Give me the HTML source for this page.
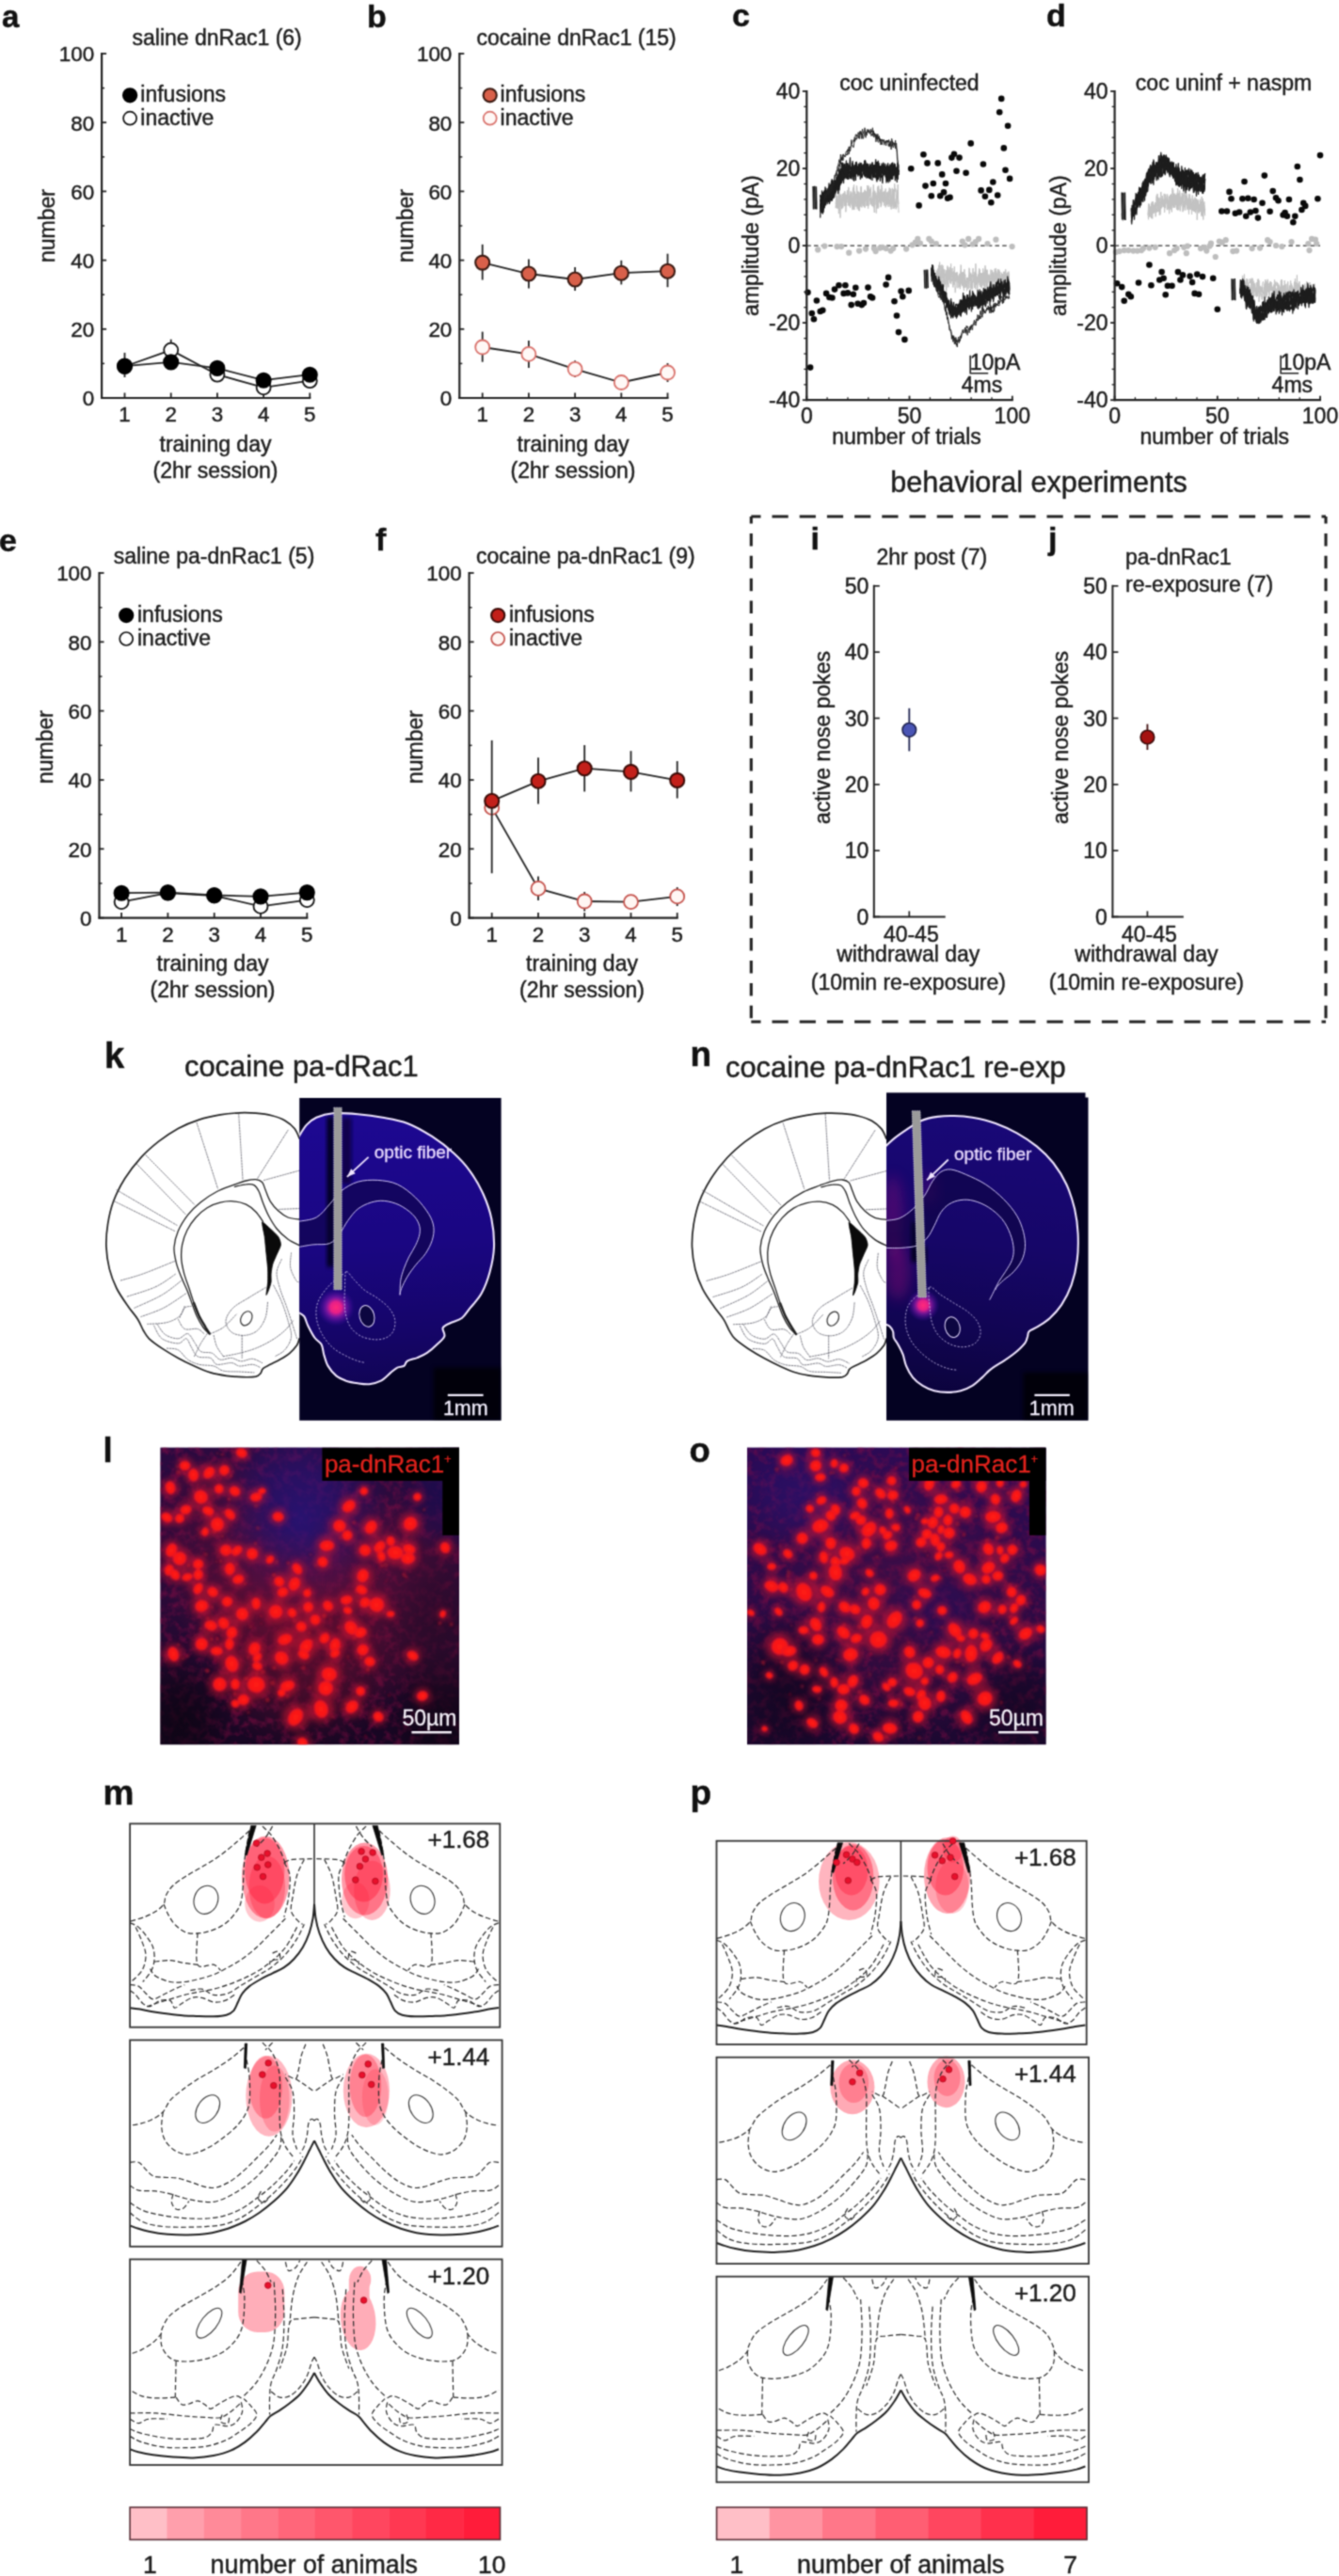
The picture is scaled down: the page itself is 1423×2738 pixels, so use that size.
<!DOCTYPE html>
<html><head><meta charset="utf-8"><title>figure</title>
<style>html,body{margin:0;padding:0;background:#fff}svg{display:block}text{font-family:"Liberation Sans",Arial,sans-serif}</style>
</head><body>
<svg width="1423" height="2738" viewBox="0 0 1423 2738">
<defs><filter id="gsoft" filterUnits="userSpaceOnUse" x="0" y="0" width="1423" height="2738" color-interpolation-filters="sRGB"><feConvolveMatrix order="3" kernelMatrix="0.0437 0.1216 0.0437 0.1216 0.3378 0.1216 0.0437 0.1216 0.0437" divisor="1" edgeMode="duplicate" preserveAlpha="true"/></filter></defs>
<g filter="url(#gsoft)">
<rect x="-5" y="-5" width="1433" height="2748" fill="#fff"/>
<text x="2.0" y="28.5" font-size="33" text-anchor="start" font-weight="bold" fill="#111" stroke="#111" stroke-width="0.45">a</text>
<text x="140.5" y="47.6" font-size="23" text-anchor="start" font-weight="normal" fill="#1c1c1c" stroke="#1c1c1c" stroke-width="0.45">saline dnRac1 (6)</text>
<line x1="108.1" y1="56.0" x2="108.1" y2="424.0" stroke="#222" stroke-width="2.2"/>
<line x1="107.1" y1="423.0" x2="330.3" y2="423.0" stroke="#222" stroke-width="2.2"/>
<line x1="108.1" y1="423.0" x2="113.1" y2="423.0" stroke="#222" stroke-width="1.8"/>
<text x="100.1" y="431.3" font-size="22.4" text-anchor="end" font-weight="normal" fill="#1c1c1c" stroke="#1c1c1c" stroke-width="0.45">0</text>
<line x1="108.1" y1="386.4" x2="111.1" y2="386.4" stroke="#222" stroke-width="1.5"/>
<line x1="108.1" y1="349.8" x2="113.1" y2="349.8" stroke="#222" stroke-width="1.8"/>
<text x="100.1" y="358.1" font-size="22.4" text-anchor="end" font-weight="normal" fill="#1c1c1c" stroke="#1c1c1c" stroke-width="0.45">20</text>
<line x1="108.1" y1="313.2" x2="111.1" y2="313.2" stroke="#222" stroke-width="1.5"/>
<line x1="108.1" y1="276.6" x2="113.1" y2="276.6" stroke="#222" stroke-width="1.8"/>
<text x="100.1" y="284.9" font-size="22.4" text-anchor="end" font-weight="normal" fill="#1c1c1c" stroke="#1c1c1c" stroke-width="0.45">40</text>
<line x1="108.1" y1="240.0" x2="111.1" y2="240.0" stroke="#222" stroke-width="1.5"/>
<line x1="108.1" y1="203.4" x2="113.1" y2="203.4" stroke="#222" stroke-width="1.8"/>
<text x="100.1" y="211.7" font-size="22.4" text-anchor="end" font-weight="normal" fill="#1c1c1c" stroke="#1c1c1c" stroke-width="0.45">60</text>
<line x1="108.1" y1="166.8" x2="111.1" y2="166.8" stroke="#222" stroke-width="1.5"/>
<line x1="108.1" y1="130.2" x2="113.1" y2="130.2" stroke="#222" stroke-width="1.8"/>
<text x="100.1" y="138.5" font-size="22.4" text-anchor="end" font-weight="normal" fill="#1c1c1c" stroke="#1c1c1c" stroke-width="0.45">80</text>
<line x1="108.1" y1="93.6" x2="111.1" y2="93.6" stroke="#222" stroke-width="1.5"/>
<line x1="108.1" y1="57.0" x2="113.1" y2="57.0" stroke="#222" stroke-width="1.8"/>
<text x="100.1" y="65.3" font-size="22.4" text-anchor="end" font-weight="normal" fill="#1c1c1c" stroke="#1c1c1c" stroke-width="0.45">100</text>
<line x1="132.5" y1="423.0" x2="132.5" y2="417.5" stroke="#222" stroke-width="1.8"/>
<text x="132.5" y="448.3" font-size="22.3" text-anchor="middle" font-weight="normal" fill="#1c1c1c" stroke="#1c1c1c" stroke-width="0.45">1</text>
<line x1="181.7" y1="423.0" x2="181.7" y2="417.5" stroke="#222" stroke-width="1.8"/>
<text x="181.7" y="448.3" font-size="22.3" text-anchor="middle" font-weight="normal" fill="#1c1c1c" stroke="#1c1c1c" stroke-width="0.45">2</text>
<line x1="230.9" y1="423.0" x2="230.9" y2="417.5" stroke="#222" stroke-width="1.8"/>
<text x="230.9" y="448.3" font-size="22.3" text-anchor="middle" font-weight="normal" fill="#1c1c1c" stroke="#1c1c1c" stroke-width="0.45">3</text>
<line x1="280.1" y1="423.0" x2="280.1" y2="417.5" stroke="#222" stroke-width="1.8"/>
<text x="280.1" y="448.3" font-size="22.3" text-anchor="middle" font-weight="normal" fill="#1c1c1c" stroke="#1c1c1c" stroke-width="0.45">4</text>
<line x1="329.3" y1="423.0" x2="329.3" y2="417.5" stroke="#222" stroke-width="1.8"/>
<text x="329.3" y="448.3" font-size="22.3" text-anchor="middle" font-weight="normal" fill="#1c1c1c" stroke="#1c1c1c" stroke-width="0.45">5</text>
<text x="57.5" y="240.0" font-size="23" text-anchor="middle" font-weight="normal" fill="#1c1c1c" stroke="#1c1c1c" stroke-width="0.45" transform="rotate(-90 57.5 240.0)">number</text>
<text x="229.0" y="480.0" font-size="23" text-anchor="middle" font-weight="normal" fill="#1c1c1c" stroke="#1c1c1c" stroke-width="0.45">training day</text>
<text x="229.0" y="507.5" font-size="23" text-anchor="middle" font-weight="normal" fill="#1c1c1c" stroke="#1c1c1c" stroke-width="0.45">(2hr session)</text>
<circle cx="138.1" cy="101.3" r="7.1" fill="#000" stroke="#000" stroke-width="2.1"/>
<circle cx="138.1" cy="125.7" r="7.0" fill="#fff" stroke="#111" stroke-width="1.7"/>
<text x="149.3" y="107.9" font-size="23" text-anchor="start" font-weight="normal" fill="#1c1c1c" stroke="#1c1c1c" stroke-width="0.45">infusions</text>
<text x="149.3" y="133.1" font-size="23" text-anchor="start" font-weight="normal" fill="#1c1c1c" stroke="#1c1c1c" stroke-width="0.45">inactive</text>
<polyline points="132.5,389.5 181.7,372.1 230.9,398.2 280.1,411.8 329.3,404.7" fill="none" stroke="#222" stroke-width="1.8"/>
<line x1="181.7" y1="360.7" x2="181.7" y2="384.0" stroke="#222" stroke-width="1.8"/>
<circle cx="132.5" cy="389.5" r="7.5" fill="#fff" stroke="#111" stroke-width="1.8"/>
<circle cx="181.7" cy="372.1" r="7.5" fill="#fff" stroke="#111" stroke-width="1.8"/>
<circle cx="230.9" cy="398.2" r="7.5" fill="#fff" stroke="#111" stroke-width="1.8"/>
<circle cx="280.1" cy="411.8" r="7.5" fill="#fff" stroke="#111" stroke-width="1.8"/>
<circle cx="329.3" cy="404.7" r="7.5" fill="#fff" stroke="#111" stroke-width="1.8"/>
<polyline points="132.5,389.1 181.7,384.9 230.9,391.4 280.1,404.2 329.3,398.2" fill="none" stroke="#222" stroke-width="1.8"/>
<line x1="132.5" y1="374.9" x2="132.5" y2="401.0" stroke="#222" stroke-width="1.8"/>
<circle cx="132.5" cy="389.1" r="7.5" fill="#000" stroke="#000" stroke-width="2.1"/>
<circle cx="181.7" cy="384.9" r="7.5" fill="#000" stroke="#000" stroke-width="2.1"/>
<circle cx="230.9" cy="391.4" r="7.5" fill="#000" stroke="#000" stroke-width="2.1"/>
<circle cx="280.1" cy="404.2" r="7.5" fill="#000" stroke="#000" stroke-width="2.1"/>
<circle cx="329.3" cy="398.2" r="7.5" fill="#000" stroke="#000" stroke-width="2.1"/>
<text x="390.0" y="28.5" font-size="34" text-anchor="start" font-weight="bold" fill="#111" stroke="#111" stroke-width="0.45">b</text>
<text x="506.5" y="47.6" font-size="23" text-anchor="start" font-weight="normal" fill="#1c1c1c" stroke="#1c1c1c" stroke-width="0.45">cocaine dnRac1 (15)</text>
<line x1="488.3" y1="56.0" x2="488.3" y2="424.0" stroke="#222" stroke-width="2.2"/>
<line x1="487.3" y1="423.0" x2="710.5" y2="423.0" stroke="#222" stroke-width="2.2"/>
<line x1="488.3" y1="423.0" x2="493.3" y2="423.0" stroke="#222" stroke-width="1.8"/>
<text x="480.3" y="431.3" font-size="22.4" text-anchor="end" font-weight="normal" fill="#1c1c1c" stroke="#1c1c1c" stroke-width="0.45">0</text>
<line x1="488.3" y1="386.4" x2="491.3" y2="386.4" stroke="#222" stroke-width="1.5"/>
<line x1="488.3" y1="349.8" x2="493.3" y2="349.8" stroke="#222" stroke-width="1.8"/>
<text x="480.3" y="358.1" font-size="22.4" text-anchor="end" font-weight="normal" fill="#1c1c1c" stroke="#1c1c1c" stroke-width="0.45">20</text>
<line x1="488.3" y1="313.2" x2="491.3" y2="313.2" stroke="#222" stroke-width="1.5"/>
<line x1="488.3" y1="276.6" x2="493.3" y2="276.6" stroke="#222" stroke-width="1.8"/>
<text x="480.3" y="284.9" font-size="22.4" text-anchor="end" font-weight="normal" fill="#1c1c1c" stroke="#1c1c1c" stroke-width="0.45">40</text>
<line x1="488.3" y1="240.0" x2="491.3" y2="240.0" stroke="#222" stroke-width="1.5"/>
<line x1="488.3" y1="203.4" x2="493.3" y2="203.4" stroke="#222" stroke-width="1.8"/>
<text x="480.3" y="211.7" font-size="22.4" text-anchor="end" font-weight="normal" fill="#1c1c1c" stroke="#1c1c1c" stroke-width="0.45">60</text>
<line x1="488.3" y1="166.8" x2="491.3" y2="166.8" stroke="#222" stroke-width="1.5"/>
<line x1="488.3" y1="130.2" x2="493.3" y2="130.2" stroke="#222" stroke-width="1.8"/>
<text x="480.3" y="138.5" font-size="22.4" text-anchor="end" font-weight="normal" fill="#1c1c1c" stroke="#1c1c1c" stroke-width="0.45">80</text>
<line x1="488.3" y1="93.6" x2="491.3" y2="93.6" stroke="#222" stroke-width="1.5"/>
<line x1="488.3" y1="57.0" x2="493.3" y2="57.0" stroke="#222" stroke-width="1.8"/>
<text x="480.3" y="65.3" font-size="22.4" text-anchor="end" font-weight="normal" fill="#1c1c1c" stroke="#1c1c1c" stroke-width="0.45">100</text>
<line x1="512.7" y1="423.0" x2="512.7" y2="417.5" stroke="#222" stroke-width="1.8"/>
<text x="512.7" y="448.3" font-size="22.3" text-anchor="middle" font-weight="normal" fill="#1c1c1c" stroke="#1c1c1c" stroke-width="0.45">1</text>
<line x1="561.9" y1="423.0" x2="561.9" y2="417.5" stroke="#222" stroke-width="1.8"/>
<text x="561.9" y="448.3" font-size="22.3" text-anchor="middle" font-weight="normal" fill="#1c1c1c" stroke="#1c1c1c" stroke-width="0.45">2</text>
<line x1="611.1" y1="423.0" x2="611.1" y2="417.5" stroke="#222" stroke-width="1.8"/>
<text x="611.1" y="448.3" font-size="22.3" text-anchor="middle" font-weight="normal" fill="#1c1c1c" stroke="#1c1c1c" stroke-width="0.45">3</text>
<line x1="660.3" y1="423.0" x2="660.3" y2="417.5" stroke="#222" stroke-width="1.8"/>
<text x="660.3" y="448.3" font-size="22.3" text-anchor="middle" font-weight="normal" fill="#1c1c1c" stroke="#1c1c1c" stroke-width="0.45">4</text>
<line x1="709.5" y1="423.0" x2="709.5" y2="417.5" stroke="#222" stroke-width="1.8"/>
<text x="709.5" y="448.3" font-size="22.3" text-anchor="middle" font-weight="normal" fill="#1c1c1c" stroke="#1c1c1c" stroke-width="0.45">5</text>
<text x="439.0" y="240.0" font-size="23" text-anchor="middle" font-weight="normal" fill="#1c1c1c" stroke="#1c1c1c" stroke-width="0.45" transform="rotate(-90 439.0 240.0)">number</text>
<text x="609.0" y="480.0" font-size="23" text-anchor="middle" font-weight="normal" fill="#1c1c1c" stroke="#1c1c1c" stroke-width="0.45">training day</text>
<text x="609.0" y="507.5" font-size="23" text-anchor="middle" font-weight="normal" fill="#1c1c1c" stroke="#1c1c1c" stroke-width="0.45">(2hr session)</text>
<circle cx="520.7" cy="101.3" r="7.1" fill="#d8604a" stroke="#3a1a12" stroke-width="2.1"/>
<circle cx="520.7" cy="125.7" r="7.0" fill="#fff8f6" stroke="#d9706a" stroke-width="1.7"/>
<text x="531.6" y="107.9" font-size="23" text-anchor="start" font-weight="normal" fill="#1c1c1c" stroke="#1c1c1c" stroke-width="0.45">infusions</text>
<text x="531.6" y="133.1" font-size="23" text-anchor="start" font-weight="normal" fill="#1c1c1c" stroke="#1c1c1c" stroke-width="0.45">inactive</text>
<polyline points="512.7,369.0 561.9,376.4 611.1,392.3 660.3,406.5 709.5,396.0" fill="none" stroke="#222" stroke-width="1.8"/>
<line x1="512.7" y1="352.6" x2="512.7" y2="384.7" stroke="#222" stroke-width="1.8"/>
<line x1="561.9" y1="362.0" x2="561.9" y2="390.9" stroke="#222" stroke-width="1.8"/>
<line x1="611.1" y1="383.2" x2="611.1" y2="401.1" stroke="#222" stroke-width="1.8"/>
<line x1="709.5" y1="386.0" x2="709.5" y2="406.0" stroke="#222" stroke-width="1.8"/>
<circle cx="512.7" cy="369.0" r="7.5" fill="#fff8f6" stroke="#d9706a" stroke-width="1.8"/>
<circle cx="561.9" cy="376.4" r="7.5" fill="#fff8f6" stroke="#d9706a" stroke-width="1.8"/>
<circle cx="611.1" cy="392.3" r="7.5" fill="#fff8f6" stroke="#d9706a" stroke-width="1.8"/>
<circle cx="660.3" cy="406.5" r="7.5" fill="#fff8f6" stroke="#d9706a" stroke-width="1.8"/>
<circle cx="709.5" cy="396.0" r="7.5" fill="#fff8f6" stroke="#d9706a" stroke-width="1.8"/>
<polyline points="512.7,279.1 561.9,291.0 611.1,297.0 660.3,290.2 709.5,288.2" fill="none" stroke="#222" stroke-width="1.8"/>
<line x1="512.7" y1="259.8" x2="512.7" y2="297.5" stroke="#222" stroke-width="1.8"/>
<line x1="561.9" y1="275.4" x2="561.9" y2="306.6" stroke="#222" stroke-width="1.8"/>
<line x1="611.1" y1="283.9" x2="611.1" y2="308.9" stroke="#222" stroke-width="1.8"/>
<line x1="660.3" y1="276.8" x2="660.3" y2="302.4" stroke="#222" stroke-width="1.8"/>
<line x1="709.5" y1="269.7" x2="709.5" y2="305.2" stroke="#222" stroke-width="1.8"/>
<circle cx="512.7" cy="279.1" r="7.5" fill="#d8604a" stroke="#3a1a12" stroke-width="2.1"/>
<circle cx="561.9" cy="291.0" r="7.5" fill="#d8604a" stroke="#3a1a12" stroke-width="2.1"/>
<circle cx="611.1" cy="297.0" r="7.5" fill="#d8604a" stroke="#3a1a12" stroke-width="2.1"/>
<circle cx="660.3" cy="290.2" r="7.5" fill="#d8604a" stroke="#3a1a12" stroke-width="2.1"/>
<circle cx="709.5" cy="288.2" r="7.5" fill="#d8604a" stroke="#3a1a12" stroke-width="2.1"/>
<text x="-1.0" y="586.0" font-size="34" text-anchor="start" font-weight="bold" fill="#111" stroke="#111" stroke-width="0.45">e</text>
<text x="120.8" y="599.3" font-size="23" text-anchor="start" font-weight="normal" fill="#1c1c1c" stroke="#1c1c1c" stroke-width="0.45">saline pa-dnRac1 (5)</text>
<line x1="105.5" y1="608.0" x2="105.5" y2="976.6" stroke="#222" stroke-width="2.2"/>
<line x1="104.5" y1="975.6" x2="327.3" y2="975.6" stroke="#222" stroke-width="2.2"/>
<line x1="105.5" y1="975.6" x2="110.5" y2="975.6" stroke="#222" stroke-width="1.8"/>
<text x="97.5" y="983.9" font-size="22.4" text-anchor="end" font-weight="normal" fill="#1c1c1c" stroke="#1c1c1c" stroke-width="0.45">0</text>
<line x1="105.5" y1="938.9" x2="108.5" y2="938.9" stroke="#222" stroke-width="1.5"/>
<line x1="105.5" y1="902.3" x2="110.5" y2="902.3" stroke="#222" stroke-width="1.8"/>
<text x="97.5" y="910.6" font-size="22.4" text-anchor="end" font-weight="normal" fill="#1c1c1c" stroke="#1c1c1c" stroke-width="0.45">20</text>
<line x1="105.5" y1="865.6" x2="108.5" y2="865.6" stroke="#222" stroke-width="1.5"/>
<line x1="105.5" y1="829.0" x2="110.5" y2="829.0" stroke="#222" stroke-width="1.8"/>
<text x="97.5" y="837.3" font-size="22.4" text-anchor="end" font-weight="normal" fill="#1c1c1c" stroke="#1c1c1c" stroke-width="0.45">40</text>
<line x1="105.5" y1="792.3" x2="108.5" y2="792.3" stroke="#222" stroke-width="1.5"/>
<line x1="105.5" y1="755.6" x2="110.5" y2="755.6" stroke="#222" stroke-width="1.8"/>
<text x="97.5" y="763.9" font-size="22.4" text-anchor="end" font-weight="normal" fill="#1c1c1c" stroke="#1c1c1c" stroke-width="0.45">60</text>
<line x1="105.5" y1="719.0" x2="108.5" y2="719.0" stroke="#222" stroke-width="1.5"/>
<line x1="105.5" y1="682.3" x2="110.5" y2="682.3" stroke="#222" stroke-width="1.8"/>
<text x="97.5" y="690.6" font-size="22.4" text-anchor="end" font-weight="normal" fill="#1c1c1c" stroke="#1c1c1c" stroke-width="0.45">80</text>
<line x1="105.5" y1="645.7" x2="108.5" y2="645.7" stroke="#222" stroke-width="1.5"/>
<line x1="105.5" y1="609.0" x2="110.5" y2="609.0" stroke="#222" stroke-width="1.8"/>
<text x="97.5" y="617.3" font-size="22.4" text-anchor="end" font-weight="normal" fill="#1c1c1c" stroke="#1c1c1c" stroke-width="0.45">100</text>
<line x1="129.1" y1="975.6" x2="129.1" y2="970.1" stroke="#222" stroke-width="1.8"/>
<text x="129.1" y="1000.7" font-size="22.3" text-anchor="middle" font-weight="normal" fill="#1c1c1c" stroke="#1c1c1c" stroke-width="0.45">1</text>
<line x1="178.4" y1="975.6" x2="178.4" y2="970.1" stroke="#222" stroke-width="1.8"/>
<text x="178.4" y="1000.7" font-size="22.3" text-anchor="middle" font-weight="normal" fill="#1c1c1c" stroke="#1c1c1c" stroke-width="0.45">2</text>
<line x1="227.7" y1="975.6" x2="227.7" y2="970.1" stroke="#222" stroke-width="1.8"/>
<text x="227.7" y="1000.7" font-size="22.3" text-anchor="middle" font-weight="normal" fill="#1c1c1c" stroke="#1c1c1c" stroke-width="0.45">3</text>
<line x1="277.0" y1="975.6" x2="277.0" y2="970.1" stroke="#222" stroke-width="1.8"/>
<text x="277.0" y="1000.7" font-size="22.3" text-anchor="middle" font-weight="normal" fill="#1c1c1c" stroke="#1c1c1c" stroke-width="0.45">4</text>
<line x1="326.3" y1="975.6" x2="326.3" y2="970.1" stroke="#222" stroke-width="1.8"/>
<text x="326.3" y="1000.7" font-size="22.3" text-anchor="middle" font-weight="normal" fill="#1c1c1c" stroke="#1c1c1c" stroke-width="0.45">5</text>
<text x="55.5" y="794.0" font-size="23" text-anchor="middle" font-weight="normal" fill="#1c1c1c" stroke="#1c1c1c" stroke-width="0.45" transform="rotate(-90 55.5 794.0)">number</text>
<text x="226.0" y="1032.0" font-size="23" text-anchor="middle" font-weight="normal" fill="#1c1c1c" stroke="#1c1c1c" stroke-width="0.45">training day</text>
<text x="226.0" y="1059.5" font-size="23" text-anchor="middle" font-weight="normal" fill="#1c1c1c" stroke="#1c1c1c" stroke-width="0.45">(2hr session)</text>
<circle cx="134.2" cy="654.1" r="7.1" fill="#000" stroke="#000" stroke-width="2.1"/>
<circle cx="134.2" cy="679.0" r="7.0" fill="#fff" stroke="#111" stroke-width="1.7"/>
<text x="146.0" y="660.7" font-size="23" text-anchor="start" font-weight="normal" fill="#1c1c1c" stroke="#1c1c1c" stroke-width="0.45">infusions</text>
<text x="146.0" y="686.4" font-size="23" text-anchor="start" font-weight="normal" fill="#1c1c1c" stroke="#1c1c1c" stroke-width="0.45">inactive</text>
<polyline points="129.1,958.6 178.4,949.2 227.7,952.0 277.0,963.4 326.3,956.6" fill="none" stroke="#222" stroke-width="1.8"/>
<circle cx="129.1" cy="958.6" r="7.5" fill="#fff" stroke="#111" stroke-width="1.8"/>
<circle cx="178.4" cy="949.2" r="7.5" fill="#fff" stroke="#111" stroke-width="1.8"/>
<circle cx="227.7" cy="952.0" r="7.5" fill="#fff" stroke="#111" stroke-width="1.8"/>
<circle cx="277.0" cy="963.4" r="7.5" fill="#fff" stroke="#111" stroke-width="1.8"/>
<circle cx="326.3" cy="956.6" r="7.5" fill="#fff" stroke="#111" stroke-width="1.8"/>
<polyline points="129.1,949.2 178.4,948.6 227.7,951.5 277.0,952.9 326.3,948.6" fill="none" stroke="#222" stroke-width="1.8"/>
<circle cx="129.1" cy="949.2" r="7.5" fill="#000" stroke="#000" stroke-width="2.1"/>
<circle cx="178.4" cy="948.6" r="7.5" fill="#000" stroke="#000" stroke-width="2.1"/>
<circle cx="227.7" cy="951.5" r="7.5" fill="#000" stroke="#000" stroke-width="2.1"/>
<circle cx="277.0" cy="952.9" r="7.5" fill="#000" stroke="#000" stroke-width="2.1"/>
<circle cx="326.3" cy="948.6" r="7.5" fill="#000" stroke="#000" stroke-width="2.1"/>
<text x="399.0" y="585.0" font-size="34" text-anchor="start" font-weight="bold" fill="#111" stroke="#111" stroke-width="0.45">f</text>
<text x="506.0" y="599.3" font-size="23" text-anchor="start" font-weight="normal" fill="#1c1c1c" stroke="#1c1c1c" stroke-width="0.45">cocaine pa-dnRac1 (9)</text>
<line x1="498.6" y1="608.0" x2="498.6" y2="976.6" stroke="#222" stroke-width="2.2"/>
<line x1="497.6" y1="975.6" x2="720.7" y2="975.6" stroke="#222" stroke-width="2.2"/>
<line x1="498.6" y1="975.6" x2="503.6" y2="975.6" stroke="#222" stroke-width="1.8"/>
<text x="490.6" y="983.9" font-size="22.4" text-anchor="end" font-weight="normal" fill="#1c1c1c" stroke="#1c1c1c" stroke-width="0.45">0</text>
<line x1="498.6" y1="938.9" x2="501.6" y2="938.9" stroke="#222" stroke-width="1.5"/>
<line x1="498.6" y1="902.3" x2="503.6" y2="902.3" stroke="#222" stroke-width="1.8"/>
<text x="490.6" y="910.6" font-size="22.4" text-anchor="end" font-weight="normal" fill="#1c1c1c" stroke="#1c1c1c" stroke-width="0.45">20</text>
<line x1="498.6" y1="865.6" x2="501.6" y2="865.6" stroke="#222" stroke-width="1.5"/>
<line x1="498.6" y1="829.0" x2="503.6" y2="829.0" stroke="#222" stroke-width="1.8"/>
<text x="490.6" y="837.3" font-size="22.4" text-anchor="end" font-weight="normal" fill="#1c1c1c" stroke="#1c1c1c" stroke-width="0.45">40</text>
<line x1="498.6" y1="792.3" x2="501.6" y2="792.3" stroke="#222" stroke-width="1.5"/>
<line x1="498.6" y1="755.6" x2="503.6" y2="755.6" stroke="#222" stroke-width="1.8"/>
<text x="490.6" y="763.9" font-size="22.4" text-anchor="end" font-weight="normal" fill="#1c1c1c" stroke="#1c1c1c" stroke-width="0.45">60</text>
<line x1="498.6" y1="719.0" x2="501.6" y2="719.0" stroke="#222" stroke-width="1.5"/>
<line x1="498.6" y1="682.3" x2="503.6" y2="682.3" stroke="#222" stroke-width="1.8"/>
<text x="490.6" y="690.6" font-size="22.4" text-anchor="end" font-weight="normal" fill="#1c1c1c" stroke="#1c1c1c" stroke-width="0.45">80</text>
<line x1="498.6" y1="645.7" x2="501.6" y2="645.7" stroke="#222" stroke-width="1.5"/>
<line x1="498.6" y1="609.0" x2="503.6" y2="609.0" stroke="#222" stroke-width="1.8"/>
<text x="490.6" y="617.3" font-size="22.4" text-anchor="end" font-weight="normal" fill="#1c1c1c" stroke="#1c1c1c" stroke-width="0.45">100</text>
<line x1="522.7" y1="975.6" x2="522.7" y2="970.1" stroke="#222" stroke-width="1.8"/>
<text x="522.7" y="1000.7" font-size="22.3" text-anchor="middle" font-weight="normal" fill="#1c1c1c" stroke="#1c1c1c" stroke-width="0.45">1</text>
<line x1="572.0" y1="975.6" x2="572.0" y2="970.1" stroke="#222" stroke-width="1.8"/>
<text x="572.0" y="1000.7" font-size="22.3" text-anchor="middle" font-weight="normal" fill="#1c1c1c" stroke="#1c1c1c" stroke-width="0.45">2</text>
<line x1="621.2" y1="975.6" x2="621.2" y2="970.1" stroke="#222" stroke-width="1.8"/>
<text x="621.2" y="1000.7" font-size="22.3" text-anchor="middle" font-weight="normal" fill="#1c1c1c" stroke="#1c1c1c" stroke-width="0.45">3</text>
<line x1="670.5" y1="975.6" x2="670.5" y2="970.1" stroke="#222" stroke-width="1.8"/>
<text x="670.5" y="1000.7" font-size="22.3" text-anchor="middle" font-weight="normal" fill="#1c1c1c" stroke="#1c1c1c" stroke-width="0.45">4</text>
<line x1="719.7" y1="975.6" x2="719.7" y2="970.1" stroke="#222" stroke-width="1.8"/>
<text x="719.7" y="1000.7" font-size="22.3" text-anchor="middle" font-weight="normal" fill="#1c1c1c" stroke="#1c1c1c" stroke-width="0.45">5</text>
<text x="448.5" y="794.0" font-size="23" text-anchor="middle" font-weight="normal" fill="#1c1c1c" stroke="#1c1c1c" stroke-width="0.45" transform="rotate(-90 448.5 794.0)">number</text>
<text x="618.5" y="1032.0" font-size="23" text-anchor="middle" font-weight="normal" fill="#1c1c1c" stroke="#1c1c1c" stroke-width="0.45">training day</text>
<text x="618.5" y="1059.5" font-size="23" text-anchor="middle" font-weight="normal" fill="#1c1c1c" stroke="#1c1c1c" stroke-width="0.45">(2hr session)</text>
<circle cx="529.2" cy="654.1" r="7.1" fill="#c3201a" stroke="#3d0c08" stroke-width="2.1"/>
<circle cx="529.2" cy="679.0" r="7.0" fill="#fff6f3" stroke="#c5524c" stroke-width="1.7"/>
<text x="541.0" y="660.7" font-size="23" text-anchor="start" font-weight="normal" fill="#1c1c1c" stroke="#1c1c1c" stroke-width="0.45">infusions</text>
<text x="541.0" y="686.4" font-size="23" text-anchor="start" font-weight="normal" fill="#1c1c1c" stroke="#1c1c1c" stroke-width="0.45">inactive</text>
<polyline points="522.7,858.4 572.0,944.4 621.2,958.0 670.5,958.6 719.7,952.9" fill="none" stroke="#222" stroke-width="1.8"/>
<line x1="572.0" y1="931.6" x2="572.0" y2="957.1" stroke="#222" stroke-width="1.8"/>
<line x1="621.2" y1="948.0" x2="621.2" y2="968.5" stroke="#222" stroke-width="1.8"/>
<line x1="719.7" y1="943.0" x2="719.7" y2="963.0" stroke="#222" stroke-width="1.8"/>
<circle cx="522.7" cy="858.4" r="7.5" fill="#fff6f3" stroke="#c5524c" stroke-width="1.8"/>
<circle cx="572.0" cy="944.4" r="7.5" fill="#fff6f3" stroke="#c5524c" stroke-width="1.8"/>
<circle cx="621.2" cy="958.0" r="7.5" fill="#fff6f3" stroke="#c5524c" stroke-width="1.8"/>
<circle cx="670.5" cy="958.6" r="7.5" fill="#fff6f3" stroke="#c5524c" stroke-width="1.8"/>
<circle cx="719.7" cy="952.9" r="7.5" fill="#fff6f3" stroke="#c5524c" stroke-width="1.8"/>
<polyline points="522.7,851.3 572.0,830.3 621.2,816.7 670.5,820.4 719.7,829.4" fill="none" stroke="#222" stroke-width="1.8"/>
<line x1="522.7" y1="786.9" x2="522.7" y2="928.2" stroke="#222" stroke-width="1.8"/>
<line x1="572.0" y1="805.3" x2="572.0" y2="854.4" stroke="#222" stroke-width="1.8"/>
<line x1="621.2" y1="792.0" x2="621.2" y2="841.4" stroke="#222" stroke-width="1.8"/>
<line x1="670.5" y1="798.2" x2="670.5" y2="841.4" stroke="#222" stroke-width="1.8"/>
<line x1="719.7" y1="809.0" x2="719.7" y2="848.5" stroke="#222" stroke-width="1.8"/>
<circle cx="522.7" cy="851.3" r="7.5" fill="#c3201a" stroke="#3d0c08" stroke-width="2.1"/>
<circle cx="572.0" cy="830.3" r="7.5" fill="#c3201a" stroke="#3d0c08" stroke-width="2.1"/>
<circle cx="621.2" cy="816.7" r="7.5" fill="#c3201a" stroke="#3d0c08" stroke-width="2.1"/>
<circle cx="670.5" cy="820.4" r="7.5" fill="#c3201a" stroke="#3d0c08" stroke-width="2.1"/>
<circle cx="719.7" cy="829.4" r="7.5" fill="#c3201a" stroke="#3d0c08" stroke-width="2.1"/>
<text x="778.0" y="27.8" font-size="34" text-anchor="start" font-weight="bold" fill="#111" stroke="#111" stroke-width="0.45">c</text>
<text x="966.5" y="95.5" font-size="23" text-anchor="middle" font-weight="normal" fill="#1c1c1c" stroke="#1c1c1c" stroke-width="0.45">coc uninfected</text>
<polyline points="888.2,215.3 888.6,218.6 889.0,212.3 889.4,214.7 889.8,219.2 890.2,211.3 890.6,218.1 891.0,214.8 891.4,227.1 891.8,197.6 892.2,215.1 892.6,216.9 893.0,208.4 893.4,210.0 893.8,206.5 894.2,219.5 894.6,213.9 895.0,207.8 895.4,207.0 895.7,221.1 896.1,205.4 896.5,205.0 896.9,209.3 897.3,219.1 897.7,203.0 898.1,209.9 898.5,206.6 898.9,216.6 899.3,213.3 899.7,207.1 900.1,209.0 900.5,211.2 900.9,205.5 901.3,209.3 901.7,198.9 902.1,199.6 902.5,215.3 902.9,208.3 903.3,219.8 903.6,215.5 904.0,203.3 904.4,214.5 904.8,216.8 905.2,218.4 905.6,210.9 906.0,223.1 906.4,214.3 906.8,210.8 907.2,198.0 907.6,196.4 908.0,219.3 908.4,214.5 908.8,210.5 909.2,205.8 909.6,208.1 910.0,219.9 910.4,197.4 910.8,199.7 911.2,210.9 911.6,211.3 911.9,203.2 912.3,210.7 912.7,210.6 913.1,214.0 913.5,224.2 913.9,210.4 914.3,204.8 914.7,210.9 915.1,198.1 915.5,212.7 915.9,213.9 916.3,205.1 916.7,213.2 917.1,210.3 917.5,216.1 917.9,206.6 918.3,206.4 918.7,213.2 919.1,201.8 919.5,213.6 919.9,212.2 920.2,206.6 920.6,211.4 921.0,218.9 921.4,212.7 921.8,207.0 922.2,199.9 922.6,211.9 923.0,219.1 923.4,199.9 923.8,206.4 924.2,200.9 924.6,208.7 925.0,203.4 925.4,198.9 925.8,210.3 926.2,212.8 926.6,213.5 927.0,212.4 927.4,204.7 927.8,204.3 928.2,212.8 928.5,213.4 928.9,204.5 929.3,209.1 929.7,205.2 930.1,205.0 930.5,208.9 930.9,208.4 931.3,210.8 931.7,214.7 932.1,214.6 932.5,198.5 932.9,206.5 933.3,210.2 933.7,197.5 934.1,200.8 934.5,208.6 934.9,203.9 935.3,215.9 935.7,201.2 936.1,202.6 936.4,209.5 936.8,196.6 937.2,198.8 937.6,199.7 938.0,210.4 938.4,215.2 938.8,211.1 939.2,214.4 939.6,207.5 940.0,207.7 940.4,213.7 940.8,205.9 941.2,200.5 941.6,214.4 942.0,214.2 942.4,206.5 942.8,204.2 943.2,207.3 943.6,215.8 944.0,203.9 944.4,209.1 944.7,217.0 945.1,214.2 945.5,212.0 945.9,219.3 946.3,220.0 946.7,201.1 947.1,204.2 947.5,213.9 947.9,213.0 948.3,199.9 948.7,216.8 949.1,217.0 949.5,218.3 949.9,209.7 950.3,214.5 950.7,195.2 951.1,199.7 951.5,203.5 951.9,200.7 952.3,214.3 952.7,210.5 953.0,208.1 953.4,207.0 953.8,207.7 954.2,196.0 954.6,214.3 955.0,214.1" fill="none" stroke="#c2c2c2" stroke-width="1.0" stroke-linejoin="round" opacity="1"/>
<polyline points="888.2,221.2 888.6,216.6 889.0,213.7 889.4,212.0 889.8,216.9 890.2,221.7 890.6,214.7 891.0,204.5 891.4,202.7 891.8,218.4 892.2,217.2 892.6,213.9 893.0,231.5 893.4,211.9 893.8,210.2 894.2,216.3 894.6,218.3 895.0,215.5 895.4,213.6 895.7,216.3 896.1,212.5 896.5,209.1 896.9,206.9 897.3,209.5 897.7,207.8 898.1,209.2 898.5,212.4 898.9,218.9 899.3,212.1 899.7,215.3 900.1,209.1 900.5,202.2 900.9,204.8 901.3,210.9 901.7,218.1 902.1,207.9 902.5,217.3 902.9,215.8 903.3,217.7 903.6,206.4 904.0,207.7 904.4,214.3 904.8,205.3 905.2,204.6 905.6,217.0 906.0,209.2 906.4,200.9 906.8,199.3 907.2,204.9 907.6,223.0 908.0,209.2 908.4,203.6 908.8,212.5 909.2,214.6 909.6,208.9 910.0,218.7 910.4,219.3 910.8,215.8 911.2,218.8 911.6,219.2 911.9,211.4 912.3,208.1 912.7,223.9 913.1,212.8 913.5,208.6 913.9,208.8 914.3,209.1 914.7,216.8 915.1,198.8 915.5,204.7 915.9,216.5 916.3,215.0 916.7,209.5 917.1,218.6 917.5,204.5 917.9,218.7 918.3,215.7 918.7,202.8 919.1,207.2 919.5,212.1 919.9,210.4 920.2,203.4 920.6,211.3 921.0,203.4 921.4,207.9 921.8,197.0 922.2,212.8 922.6,221.6 923.0,208.5 923.4,199.9 923.8,206.1 924.2,211.0 924.6,213.5 925.0,213.8 925.4,213.8 925.8,216.3 926.2,214.3 926.6,219.0 927.0,211.2 927.4,218.6 927.8,217.6 928.2,220.2 928.5,217.5 928.9,202.5 929.3,214.0 929.7,202.9 930.1,207.9 930.5,205.0 930.9,217.4 931.3,218.0 931.7,207.3 932.1,210.8 932.5,216.5 932.9,207.2 933.3,215.9 933.7,220.7 934.1,207.9 934.5,205.8 934.9,215.0 935.3,214.6 935.7,207.7 936.1,220.1 936.4,202.5 936.8,218.3 937.2,203.9 937.6,212.4 938.0,204.0 938.4,207.0 938.8,205.1 939.2,208.6 939.6,203.8 940.0,206.9 940.4,202.8 940.8,214.0 941.2,220.4 941.6,213.8 942.0,210.7 942.4,218.2 942.8,207.3 943.2,205.1 943.6,217.0 944.0,206.7 944.4,202.9 944.7,216.4 945.1,213.6 945.5,203.4 945.9,200.3 946.3,206.9 946.7,206.9 947.1,216.6 947.5,210.0 947.9,211.0 948.3,210.8 948.7,211.0 949.1,208.7 949.5,201.2 949.9,209.3 950.3,221.0 950.7,211.9 951.1,220.0 951.5,215.4 951.9,216.4 952.3,222.3 952.7,215.7 953.0,205.8 953.4,202.0 953.8,210.2 954.2,215.8 954.6,213.5 955.0,216.8" fill="none" stroke="#c2c2c2" stroke-width="1.0" stroke-linejoin="round" opacity="1"/>
<polyline points="888.2,221.0 888.6,205.3 889.0,220.7 889.4,221.3 889.8,208.0 890.2,220.7 890.6,212.2 891.0,214.2 891.4,216.8 891.8,223.4 892.2,206.5 892.6,211.7 893.0,209.4 893.4,218.1 893.8,215.8 894.2,218.9 894.6,222.2 895.0,218.7 895.4,206.0 895.7,219.6 896.1,212.7 896.5,211.2 896.9,212.2 897.3,214.0 897.7,204.4 898.1,210.3 898.5,207.9 898.9,225.3 899.3,213.6 899.7,218.3 900.1,208.2 900.5,202.4 900.9,215.2 901.3,213.6 901.7,218.6 902.1,211.8 902.5,211.3 902.9,219.0 903.3,211.9 903.6,220.6 904.0,208.7 904.4,213.9 904.8,211.4 905.2,214.0 905.6,219.5 906.0,219.9 906.4,221.5 906.8,209.3 907.2,209.5 907.6,223.0 908.0,222.2 908.4,208.9 908.8,213.0 909.2,216.1 909.6,210.0 910.0,206.2 910.4,207.4 910.8,206.8 911.2,222.3 911.6,204.1 911.9,209.2 912.3,204.4 912.7,209.4 913.1,204.5 913.5,213.5 913.9,209.6 914.3,214.2 914.7,219.7 915.1,212.1 915.5,214.6 915.9,220.5 916.3,210.6 916.7,207.7 917.1,204.4 917.5,206.8 917.9,215.7 918.3,219.9 918.7,206.7 919.1,220.8 919.5,209.2 919.9,207.7 920.2,210.2 920.6,210.9 921.0,210.7 921.4,218.6 921.8,207.8 922.2,216.8 922.6,208.2 923.0,197.5 923.4,208.1 923.8,210.0 924.2,210.5 924.6,211.9 925.0,217.4 925.4,214.7 925.8,209.5 926.2,216.9 926.6,218.4 927.0,218.7 927.4,215.1 927.8,206.0 928.2,196.3 928.5,197.8 928.9,221.2 929.3,226.0 929.7,207.8 930.1,211.0 930.5,209.1 930.9,204.8 931.3,226.6 931.7,212.9 932.1,220.3 932.5,202.2 932.9,221.8 933.3,212.8 933.7,213.9 934.1,212.0 934.5,208.4 934.9,213.2 935.3,210.7 935.7,211.4 936.1,209.5 936.4,208.9 936.8,214.0 937.2,207.3 937.6,204.7 938.0,213.7 938.4,209.1 938.8,212.5 939.2,203.7 939.6,218.5 940.0,209.1 940.4,210.0 940.8,211.4 941.2,218.3 941.6,215.3 942.0,212.3 942.4,212.0 942.8,216.6 943.2,214.1 943.6,208.3 944.0,219.8 944.4,216.6 944.7,205.5 945.1,199.6 945.5,200.4 945.9,209.7 946.3,218.2 946.7,208.5 947.1,222.5 947.5,211.3 947.9,219.3 948.3,214.2 948.7,204.5 949.1,221.9 949.5,205.0 949.9,203.6 950.3,218.0 950.7,221.5 951.1,215.0 951.5,214.5 951.9,219.7 952.3,210.9 952.7,218.5 953.0,220.4 953.4,202.3 953.8,207.3 954.2,204.1 954.6,213.9 955.0,226.1" fill="none" stroke="#c2c2c2" stroke-width="1.0" stroke-linejoin="round" opacity="1"/>
<polyline points="871.7,221.8 872.2,217.4 872.6,221.5 873.0,215.1 873.4,213.1 873.8,209.6 874.2,214.4 874.7,215.8 875.1,205.4 875.5,207.0 875.9,207.4 876.3,204.4 876.8,207.3 877.2,203.7 877.6,206.2 878.0,204.3 878.4,202.9 878.8,212.6 879.3,207.6 879.7,201.8 880.1,209.3 880.5,199.0 880.9,204.1 881.4,208.3 881.8,197.2 882.2,197.4 882.6,199.1 883.0,198.5 883.5,192.2 883.9,193.8 884.3,199.5 884.7,194.2 885.1,194.4 885.5,195.9 886.0,202.3 886.4,192.5 886.8,202.2 887.2,192.0 887.6,191.9 888.1,200.2 888.5,195.2 888.9,188.1 889.3,197.0 889.7,198.3 890.1,187.7 890.6,192.6 891.0,187.6 891.4,188.1 891.8,180.2 892.2,188.9 892.7,184.9 893.1,186.5 893.5,186.9 893.9,183.5 894.3,173.2 894.8,176.8 895.2,172.8 895.6,179.8 896.0,173.6 896.4,176.6 896.8,179.8 897.3,179.5 897.7,175.6 898.1,174.2 898.5,182.1 898.9,184.1 899.4,180.8 899.8,181.6 900.2,183.3 900.6,175.2 901.0,176.5 901.4,176.0 901.9,184.8 902.3,176.8 902.7,180.0 903.1,171.6 903.5,167.6 904.0,179.5 904.4,177.7 904.8,178.9 905.2,182.6 905.6,177.2 906.1,171.4 906.5,175.8 906.9,178.0 907.3,181.6 907.7,180.1 908.1,175.4 908.6,177.1 909.0,178.2 909.4,172.7 909.8,182.1 910.2,172.1 910.7,176.8 911.1,177.8 911.5,179.2 911.9,176.9 912.3,184.1 912.7,176.4 913.2,179.4 913.6,178.6 914.0,176.1 914.4,177.3 914.8,175.5 915.3,180.9 915.7,177.3 916.1,180.6 916.5,177.2 916.9,175.0 917.4,176.4 917.8,174.8 918.2,181.2 918.6,178.4 919.0,182.9 919.4,170.5 919.9,172.0 920.3,175.3 920.7,176.9 921.1,185.8 921.5,173.8 922.0,177.4 922.4,179.8 922.8,174.5 923.2,181.9 923.6,177.7 924.1,179.7 924.5,179.8 924.9,174.2 925.3,182.5 925.7,182.6 926.1,175.6 926.6,174.8 927.0,172.6 927.4,173.5 927.8,180.5 928.2,180.5 928.7,175.6 929.1,175.6 929.5,185.6 929.9,178.4 930.3,173.3 930.7,169.7 931.2,178.6 931.6,180.5 932.0,172.3 932.4,172.4 932.8,179.0 933.3,171.2 933.7,186.8 934.1,173.3 934.5,177.7 934.9,184.1 935.4,176.6 935.8,186.9 936.2,181.5 936.6,183.0 937.0,173.9 937.4,184.3 937.9,183.8 938.3,175.9 938.7,173.1 939.1,174.1 939.5,176.9 940.0,180.0 940.4,182.4 940.8,174.2 941.2,178.0 941.6,182.1 942.0,181.6 942.5,176.7 942.9,178.0 943.3,174.5 943.7,178.4 944.1,183.6 944.6,178.5 945.0,178.3 945.4,184.8 945.8,175.0 946.2,178.0 946.7,176.6 947.1,175.2 947.5,173.6 947.9,181.4 948.3,182.3 948.7,172.8 949.2,176.7 949.6,178.4 950.0,185.7 950.4,174.8 950.8,177.4 951.3,183.8 951.7,186.3 952.1,184.5 952.5,182.2 952.9,184.3 953.3,182.5 953.8,173.2 954.2,182.0 954.6,174.6 955.0,183.0" fill="none" stroke="#1d1d1d" stroke-width="1.25" stroke-linejoin="round" opacity="1"/>
<polyline points="871.7,217.2 872.2,217.1 872.6,219.6 873.0,209.8 873.4,215.9 873.8,208.1 874.2,224.0 874.7,210.6 875.1,214.5 875.5,212.0 875.9,212.5 876.3,210.7 876.8,207.7 877.2,207.9 877.6,218.0 878.0,213.0 878.4,207.2 878.8,211.1 879.3,204.4 879.7,208.0 880.1,200.3 880.5,208.8 880.9,205.0 881.4,206.9 881.8,198.3 882.2,207.4 882.6,196.4 883.0,207.8 883.5,209.8 883.9,210.2 884.3,210.3 884.7,199.5 885.1,198.9 885.5,205.8 886.0,197.9 886.4,195.2 886.8,197.7 887.2,204.0 887.6,199.5 888.1,192.6 888.5,203.8 888.9,195.9 889.3,195.6 889.7,189.8 890.1,193.6 890.6,196.0 891.0,188.5 891.4,193.5 891.8,178.7 892.2,187.5 892.7,185.7 893.1,182.6 893.5,179.5 893.9,183.2 894.3,190.8 894.8,181.6 895.2,178.9 895.6,183.5 896.0,175.9 896.4,181.4 896.8,185.0 897.3,178.5 897.7,184.6 898.1,182.7 898.5,183.2 898.9,181.8 899.4,170.8 899.8,184.5 900.2,178.8 900.6,179.2 901.0,174.0 901.4,179.5 901.9,184.2 902.3,177.3 902.7,181.7 903.1,181.8 903.5,186.5 904.0,186.4 904.4,181.2 904.8,183.4 905.2,190.1 905.6,173.3 906.1,176.9 906.5,178.7 906.9,178.5 907.3,182.8 907.7,181.2 908.1,180.2 908.6,178.0 909.0,179.7 909.4,180.6 909.8,180.0 910.2,174.6 910.7,179.2 911.1,181.9 911.5,177.6 911.9,178.5 912.3,174.2 912.7,174.7 913.2,178.9 913.6,184.7 914.0,173.0 914.4,180.3 914.8,188.7 915.3,173.3 915.7,186.8 916.1,176.3 916.5,181.3 916.9,179.0 917.4,178.0 917.8,176.1 918.2,178.9 918.6,171.0 919.0,182.4 919.4,177.5 919.9,180.9 920.3,178.6 920.7,176.6 921.1,180.0 921.5,179.0 922.0,182.5 922.4,182.4 922.8,185.6 923.2,186.1 923.6,189.2 924.1,176.0 924.5,184.1 924.9,181.2 925.3,184.8 925.7,184.7 926.1,178.9 926.6,177.4 927.0,178.8 927.4,176.7 927.8,175.7 928.2,180.9 928.7,180.7 929.1,179.0 929.5,185.8 929.9,177.2 930.3,179.0 930.7,179.2 931.2,185.6 931.6,185.4 932.0,177.4 932.4,185.9 932.8,178.2 933.3,179.7 933.7,182.5 934.1,180.8 934.5,186.1 934.9,180.1 935.4,188.9 935.8,184.5 936.2,177.4 936.6,179.2 937.0,178.9 937.4,180.6 937.9,179.3 938.3,179.1 938.7,176.7 939.1,180.8 939.5,180.7 940.0,181.8 940.4,185.2 940.8,180.4 941.2,184.3 941.6,181.8 942.0,178.7 942.5,180.8 942.9,175.8 943.3,181.4 943.7,173.6 944.1,182.8 944.6,176.9 945.0,180.2 945.4,181.4 945.8,177.5 946.2,177.1 946.7,185.9 947.1,175.2 947.5,186.4 947.9,181.5 948.3,182.3 948.7,185.8 949.2,186.2 949.6,179.5 950.0,184.8 950.4,173.8 950.8,185.1 951.3,174.9 951.7,180.9 952.1,183.5 952.5,184.5 952.9,179.2 953.3,179.3 953.8,182.4 954.2,174.0 954.6,185.1 955.0,180.9" fill="none" stroke="#1d1d1d" stroke-width="1.25" stroke-linejoin="round" opacity="1"/>
<polyline points="871.7,216.5 872.2,217.9 872.6,222.2 873.0,219.0 873.4,224.1 873.8,219.5 874.2,219.7 874.7,217.8 875.1,225.3 875.5,218.4 875.9,214.9 876.3,220.8 876.8,214.1 877.2,206.6 877.6,211.2 878.0,211.4 878.4,210.8 878.8,209.2 879.3,209.9 879.7,209.0 880.1,205.3 880.5,214.3 880.9,206.2 881.4,203.5 881.8,201.9 882.2,205.7 882.6,206.9 883.0,204.7 883.5,211.7 883.9,206.5 884.3,210.8 884.7,206.5 885.1,209.7 885.5,203.3 886.0,200.1 886.4,201.4 886.8,200.4 887.2,193.5 887.6,198.5 888.1,193.3 888.5,202.1 888.9,195.3 889.3,193.1 889.7,196.4 890.1,194.0 890.6,186.3 891.0,194.4 891.4,189.5 891.8,188.1 892.2,184.6 892.7,196.8 893.1,183.8 893.5,191.8 893.9,183.3 894.3,189.1 894.8,187.6 895.2,180.9 895.6,184.5 896.0,191.7 896.4,183.4 896.8,185.6 897.3,174.5 897.7,179.9 898.1,184.1 898.5,186.5 898.9,184.5 899.4,189.0 899.8,173.6 900.2,189.3 900.6,184.8 901.0,188.4 901.4,189.8 901.9,180.6 902.3,180.4 902.7,175.8 903.1,177.7 903.5,179.1 904.0,182.2 904.4,189.2 904.8,181.3 905.2,177.3 905.6,176.0 906.1,185.1 906.5,181.4 906.9,177.6 907.3,185.1 907.7,179.3 908.1,187.3 908.6,175.5 909.0,175.7 909.4,181.8 909.8,180.3 910.2,184.4 910.7,184.8 911.1,180.3 911.5,181.9 911.9,183.0 912.3,184.9 912.7,184.1 913.2,181.1 913.6,182.1 914.0,184.1 914.4,180.2 914.8,177.7 915.3,182.6 915.7,178.6 916.1,180.2 916.5,180.1 916.9,182.8 917.4,175.2 917.8,176.0 918.2,179.7 918.6,183.8 919.0,180.2 919.4,172.2 919.9,188.2 920.3,181.2 920.7,184.2 921.1,176.6 921.5,183.0 922.0,188.7 922.4,181.3 922.8,188.7 923.2,179.0 923.6,182.5 924.1,182.9 924.5,178.2 924.9,186.0 925.3,175.7 925.7,179.6 926.1,184.3 926.6,184.6 927.0,176.9 927.4,176.0 927.8,187.1 928.2,183.8 928.7,188.3 929.1,176.1 929.5,186.6 929.9,175.6 930.3,178.9 930.7,179.3 931.2,185.2 931.6,181.9 932.0,176.4 932.4,185.3 932.8,176.4 933.3,183.1 933.7,176.3 934.1,188.0 934.5,180.2 934.9,181.7 935.4,182.5 935.8,185.2 936.2,180.8 936.6,176.4 937.0,177.6 937.4,181.9 937.9,179.3 938.3,186.5 938.7,179.0 939.1,181.9 939.5,182.5 940.0,183.5 940.4,183.0 940.8,179.8 941.2,188.0 941.6,178.0 942.0,187.9 942.5,180.6 942.9,189.2 943.3,189.8 943.7,190.0 944.1,178.2 944.6,185.4 945.0,183.2 945.4,182.8 945.8,191.3 946.2,186.2 946.7,189.5 947.1,184.8 947.5,188.2 947.9,190.0 948.3,180.7 948.7,190.0 949.2,180.4 949.6,185.6 950.0,178.1 950.4,180.0 950.8,174.4 951.3,191.8 951.7,183.8 952.1,178.3 952.5,188.6 952.9,188.6 953.3,193.5 953.8,182.5 954.2,184.7 954.6,179.9 955.0,186.1" fill="none" stroke="#1d1d1d" stroke-width="1.25" stroke-linejoin="round" opacity="1"/>
<polyline points="871.7,231.6 872.2,218.5 872.6,216.4 873.0,218.2 873.4,215.4 873.8,221.6 874.2,217.3 874.7,221.9 875.1,223.0 875.5,218.4 875.9,212.0 876.3,218.1 876.8,211.4 877.2,213.2 877.6,204.0 878.0,214.3 878.4,208.2 878.8,212.6 879.3,208.2 879.7,212.5 880.1,214.2 880.5,214.1 880.9,201.4 881.4,216.6 881.8,215.2 882.2,213.5 882.6,209.1 883.0,202.6 883.5,212.9 883.9,202.4 884.3,208.3 884.7,209.0 885.1,210.7 885.5,209.6 886.0,210.3 886.4,200.0 886.8,206.6 887.2,203.4 887.6,203.8 888.1,199.5 888.5,199.1 888.9,199.3 889.3,195.4 889.7,199.9 890.1,193.3 890.6,191.6 891.0,197.8 891.4,195.0 891.8,191.5 892.2,198.0 892.7,195.8 893.1,186.4 893.5,190.7 893.9,190.1 894.3,186.8 894.8,180.7 895.2,188.1 895.6,180.4 896.0,189.1 896.4,184.7 896.8,186.7 897.3,184.7 897.7,181.7 898.1,187.3 898.5,183.2 898.9,187.2 899.4,181.8 899.8,184.7 900.2,186.8 900.6,190.2 901.0,181.3 901.4,182.1 901.9,183.7 902.3,187.3 902.7,186.7 903.1,189.5 903.5,189.3 904.0,188.4 904.4,181.9 904.8,184.6 905.2,178.9 905.6,187.2 906.1,180.4 906.5,182.8 906.9,191.2 907.3,185.1 907.7,192.2 908.1,181.6 908.6,185.2 909.0,176.3 909.4,191.4 909.8,181.2 910.2,182.3 910.7,181.7 911.1,177.8 911.5,184.7 911.9,187.2 912.3,184.3 912.7,180.6 913.2,185.1 913.6,186.3 914.0,185.1 914.4,190.4 914.8,188.0 915.3,180.4 915.7,184.9 916.1,188.8 916.5,186.8 916.9,185.9 917.4,184.5 917.8,181.9 918.2,179.3 918.6,186.4 919.0,187.4 919.4,184.8 919.9,186.1 920.3,186.9 920.7,182.4 921.1,189.1 921.5,186.8 922.0,179.4 922.4,188.4 922.8,187.1 923.2,188.8 923.6,187.7 924.1,189.5 924.5,188.4 924.9,181.2 925.3,190.5 925.7,178.5 926.1,184.7 926.6,179.5 927.0,191.4 927.4,184.4 927.8,187.5 928.2,182.9 928.7,188.6 929.1,179.9 929.5,186.3 929.9,187.1 930.3,188.9 930.7,186.3 931.2,185.3 931.6,191.9 932.0,193.0 932.4,181.1 932.8,190.0 933.3,190.7 933.7,187.2 934.1,180.6 934.5,178.7 934.9,180.9 935.4,192.3 935.8,183.5 936.2,188.1 936.6,186.0 937.0,185.0 937.4,190.8 937.9,194.7 938.3,186.7 938.7,186.7 939.1,185.7 939.5,185.7 940.0,176.5 940.4,185.3 940.8,183.0 941.2,187.2 941.6,188.4 942.0,194.0 942.5,186.3 942.9,192.3 943.3,191.7 943.7,183.5 944.1,193.9 944.6,186.7 945.0,181.5 945.4,186.8 945.8,192.8 946.2,187.0 946.7,184.2 947.1,183.4 947.5,180.9 947.9,190.4 948.3,184.9 948.7,183.6 949.2,178.4 949.6,186.5 950.0,182.1 950.4,183.7 950.8,184.4 951.3,187.2 951.7,184.1 952.1,177.8 952.5,178.6 952.9,189.6 953.3,185.6 953.8,180.5 954.2,190.4 954.6,180.5 955.0,185.6" fill="none" stroke="#1d1d1d" stroke-width="1.25" stroke-linejoin="round" opacity="1"/>
<polyline points="871.7,206.9 872.2,209.1 872.6,216.6 873.1,219.8 873.5,202.8 873.9,218.2 874.4,216.0 874.8,204.7 875.3,213.3 875.7,214.4 876.1,202.7 876.6,210.7 877.0,198.8 877.5,208.9 877.9,200.4 878.4,208.1 878.8,203.3 879.2,209.6 879.7,203.2 880.1,202.2 880.6,205.1 881.0,194.8 881.4,200.3 881.9,199.8 882.3,202.2 882.8,201.4 883.2,205.4 883.7,199.7 884.1,190.6 884.5,196.4 885.0,198.3 885.4,196.4 885.9,198.8 886.3,200.2 886.7,196.0 887.2,197.4 887.6,192.1 888.1,200.5 888.5,200.2 889.0,196.0 889.4,189.6 889.8,192.9 890.3,186.5 890.7,187.6 891.2,184.7 891.6,188.1 892.0,195.7 892.5,187.9 892.9,184.3 893.4,184.4 893.8,186.2 894.3,179.1 894.7,184.4 895.1,188.1 895.6,180.9 896.0,181.4 896.5,179.1 896.9,181.0 897.3,182.0 897.8,178.8 898.2,181.5 898.7,180.7 899.1,177.3 899.6,173.1 900.0,174.7 900.4,179.7 900.9,173.8 901.3,184.5 901.8,177.1 902.2,176.6" fill="none" stroke="#1d1d1d" stroke-width="1.3" stroke-linejoin="round" opacity="1"/>
<polyline points="871.7,207.5 872.2,211.0 872.6,212.5 873.1,215.6 873.5,214.0 873.9,211.1 874.4,214.2 874.8,214.5 875.3,208.5 875.7,219.0 876.1,210.2 876.6,212.5 877.0,211.6 877.5,210.6 877.9,202.9 878.4,203.6 878.8,214.5 879.2,216.5 879.7,201.9 880.1,203.1 880.6,206.0 881.0,201.1 881.4,212.3 881.9,202.8 882.3,205.6 882.8,200.6 883.2,195.8 883.7,207.5 884.1,203.2 884.5,203.5 885.0,191.9 885.4,209.3 885.9,203.8 886.3,199.6 886.7,194.9 887.2,196.0 887.6,194.1 888.1,197.3 888.5,196.8 889.0,200.0 889.4,198.7 889.8,194.8 890.3,196.9 890.7,200.9 891.2,191.1 891.6,188.8 892.0,192.3 892.5,192.6 892.9,192.1 893.4,192.9 893.8,188.9 894.3,190.1 894.7,182.3 895.1,190.7 895.6,182.5 896.0,190.1 896.5,177.4 896.9,183.3 897.3,175.4 897.8,188.3 898.2,186.0 898.7,184.9 899.1,178.4 899.6,179.5 900.0,187.9 900.4,183.6 900.9,182.8 901.3,181.3 901.8,177.3 902.2,185.5" fill="none" stroke="#1d1d1d" stroke-width="1.3" stroke-linejoin="round" opacity="1"/>
<polyline points="871.7,211.7 872.2,224.5 872.6,218.7 873.1,226.0 873.5,215.3 873.9,212.6 874.4,227.0 874.8,207.5 875.3,214.0 875.7,203.6 876.1,208.9 876.6,217.3 877.0,216.3 877.5,213.0 877.9,207.0 878.4,210.6 878.8,212.0 879.2,203.9 879.7,204.6 880.1,200.7 880.6,208.9 881.0,214.8 881.4,211.2 881.9,203.4 882.3,208.9 882.8,210.3 883.2,202.6 883.7,202.0 884.1,213.3 884.5,211.9 885.0,200.2 885.4,197.8 885.9,208.3 886.3,207.4 886.7,209.1 887.2,200.8 887.6,203.8 888.1,205.0 888.5,200.8 889.0,202.4 889.4,199.3 889.8,200.9 890.3,195.7 890.7,205.5 891.2,197.0 891.6,197.5 892.0,201.8 892.5,193.7 892.9,196.3 893.4,190.0 893.8,192.9 894.3,194.7 894.7,191.9 895.1,186.5 895.6,182.2 896.0,189.7 896.5,194.5 896.9,184.6 897.3,185.2 897.8,189.8 898.2,187.1 898.7,188.5 899.1,185.5 899.6,185.8 900.0,189.8 900.4,184.4 900.9,185.2 901.3,184.4 901.8,190.3 902.2,189.1" fill="none" stroke="#1d1d1d" stroke-width="1.3" stroke-linejoin="round" opacity="1"/>
<polyline points="871.7,220.4 872.2,222.4 872.7,219.6 873.2,218.9 873.7,218.0 874.2,217.6 874.7,216.6 875.2,214.3 875.7,214.2 876.2,212.9 876.7,205.6 877.2,208.5 877.6,209.2 878.1,203.8 878.6,203.6 879.1,204.0 879.6,203.5 880.1,206.1 880.6,202.6 881.1,200.2 881.6,201.5 882.1,201.9 882.6,197.4 883.1,203.0 883.6,197.4 884.1,198.9 884.5,195.0 885.0,193.8 885.5,192.8 886.0,191.4 886.5,191.4 887.0,188.1 887.5,187.1 888.0,186.0 888.5,183.8 889.0,181.5 889.5,182.0 890.0,176.7 890.5,176.8 891.0,174.2 891.4,172.6 891.9,169.6 892.4,172.7 892.9,171.2 893.4,164.0 893.9,170.8 894.4,167.3 894.9,167.8 895.4,170.5 895.9,165.4 896.4,163.8 896.9,166.2 897.4,165.1 897.9,165.8 898.3,164.4 898.8,162.6 899.3,160.9 899.8,160.6 900.3,162.2 900.8,158.7 901.3,161.0 901.8,157.2 902.3,155.8 902.8,159.8 903.3,156.2 903.8,156.6 904.3,154.8 904.8,148.6 905.2,152.9 905.7,151.7 906.2,150.4 906.7,149.9 907.2,148.5 907.7,150.7 908.2,145.8 908.7,149.1 909.2,143.2 909.7,142.8 910.2,144.9 910.7,143.1 911.2,142.9 911.7,143.2 912.1,140.7 912.6,142.2 913.1,141.4 913.6,139.7 914.1,142.8 914.6,139.3 915.1,140.6 915.6,143.4 916.1,139.8 916.6,137.0 917.1,141.1 917.6,142.2 918.1,139.5 918.6,138.6 919.0,135.8 919.5,139.2 920.0,140.0 920.5,140.7 921.0,141.5 921.5,137.5 922.0,138.6 922.5,139.6 923.0,137.5 923.5,139.3 924.0,141.3 924.5,141.0 925.0,139.2 925.5,137.2 925.9,140.7 926.4,138.9 926.9,140.3 927.4,135.8 927.9,142.3 928.4,138.9 928.9,146.1 929.4,141.4 929.9,144.6 930.4,144.6 930.9,142.2 931.4,147.4 931.9,143.3 932.4,147.9 932.8,142.4 933.3,144.7 933.8,148.1 934.3,144.7 934.8,147.7 935.3,148.6 935.8,150.2 936.3,148.2 936.8,149.8 937.3,147.9 937.8,150.2 938.3,148.8 938.8,150.0 939.3,148.3 939.7,150.4 940.2,152.1 940.7,150.3 941.2,150.3 941.7,149.9 942.2,151.4 942.7,149.2 943.2,150.7 943.7,149.2 944.2,151.3 944.7,148.5 945.2,152.6 945.7,154.9 946.2,149.9 946.6,153.0 947.1,155.4 947.6,147.3 948.1,148.5 948.6,155.2 949.1,153.3 949.6,151.5 950.1,153.8 950.6,154.1 951.1,154.2 951.6,149.1 952.1,155.8 952.6,152.1 953.1,159.0 953.5,162.3 954.0,170.7 954.5,176.6 955.0,178.3" fill="none" stroke="#222" stroke-width="0.9" stroke-linejoin="round" opacity="1"/>
<polyline points="871.7,219.9 872.2,225.6 872.7,222.9 873.2,223.6 873.7,220.1 874.2,217.3 874.7,217.1 875.2,217.1 875.7,215.9 876.2,213.3 876.7,212.6 877.2,209.5 877.6,208.4 878.1,209.8 878.6,205.4 879.1,206.0 879.6,201.6 880.1,206.8 880.6,207.4 881.1,200.7 881.6,205.4 882.1,203.7 882.6,203.5 883.1,203.0 883.6,203.1 884.1,201.1 884.5,199.7 885.0,195.6 885.5,195.5 886.0,196.9 886.5,193.2 887.0,186.1 887.5,186.9 888.0,185.6 888.5,183.8 889.0,187.4 889.5,184.6 890.0,181.8 890.5,181.9 891.0,176.9 891.4,176.4 891.9,174.5 892.4,177.5 892.9,171.3 893.4,174.3 893.9,168.6 894.4,170.0 894.9,167.6 895.4,164.5 895.9,170.5 896.4,167.5 896.9,167.0 897.4,166.2 897.9,166.4 898.3,166.9 898.8,165.4 899.3,164.0 899.8,165.0 900.3,162.7 900.8,164.7 901.3,162.7 901.8,161.6 902.3,163.6 902.8,159.0 903.3,160.9 903.8,159.5 904.3,156.2 904.8,155.8 905.2,153.5 905.7,154.3 906.2,155.0 906.7,156.6 907.2,156.6 907.7,152.0 908.2,149.1 908.7,150.2 909.2,147.5 909.7,147.1 910.2,148.3 910.7,145.7 911.2,144.1 911.7,143.7 912.1,147.2 912.6,145.2 913.1,141.7 913.6,147.5 914.1,142.7 914.6,141.4 915.1,140.5 915.6,147.4 916.1,147.0 916.6,141.9 917.1,147.6 917.6,146.8 918.1,143.6 918.6,144.1 919.0,138.7 919.5,140.9 920.0,146.3 920.5,140.7 921.0,144.0 921.5,142.5 922.0,139.2 922.5,140.6 923.0,138.8 923.5,138.6 924.0,141.9 924.5,142.4 925.0,140.7 925.5,137.2 925.9,144.5 926.4,142.6 926.9,141.9 927.4,144.5 927.9,141.6 928.4,139.5 928.9,143.0 929.4,143.2 929.9,142.9 930.4,144.4 930.9,150.8 931.4,146.7 931.9,143.7 932.4,147.8 932.8,150.2 933.3,151.0 933.8,151.5 934.3,146.7 934.8,150.2 935.3,147.3 935.8,153.9 936.3,153.3 936.8,149.9 937.3,153.9 937.8,151.8 938.3,150.6 938.8,149.5 939.3,151.6 939.7,154.2 940.2,151.8 940.7,151.4 941.2,149.6 941.7,154.8 942.2,149.9 942.7,150.5 943.2,150.3 943.7,150.4 944.2,155.2 944.7,153.2 945.2,156.1 945.7,151.8 946.2,153.6 946.6,153.9 947.1,158.9 947.6,155.0 948.1,153.0 948.6,150.2 949.1,157.0 949.6,156.7 950.1,154.9 950.6,151.9 951.1,154.3 951.6,157.9 952.1,155.5 952.6,157.8 953.1,160.7 953.5,169.6 954.0,171.0 954.5,179.3 955.0,175.2" fill="none" stroke="#222" stroke-width="0.9" stroke-linejoin="round" opacity="1"/>
<polyline points="864.1,198.0 864.2,201.6 864.3,204.8 864.3,208.2 864.4,211.9 864.5,215.5 864.5,219.0 864.6,222.6" fill="none" stroke="#1d1d1d" stroke-width="1.6" stroke-linejoin="round" opacity="1"/>
<polyline points="865.7,197.8 865.8,201.6 865.9,205.3 865.9,208.6 866.0,212.0 866.1,215.6 866.1,218.5 866.2,222.2" fill="none" stroke="#1d1d1d" stroke-width="1.6" stroke-linejoin="round" opacity="1"/>
<polyline points="867.3,198.2 867.4,201.6 867.5,205.2 867.5,208.2 867.6,211.7 867.7,214.8 867.7,218.7 867.8,222.5" fill="none" stroke="#1d1d1d" stroke-width="1.6" stroke-linejoin="round" opacity="1"/>
<polyline points="994.9,286.8 995.4,292.1 995.8,303.2 996.3,287.9 996.7,285.6 997.2,288.2 997.7,294.7 998.1,293.9 998.6,278.6 999.0,286.5 999.5,289.3 1000.0,297.2 1000.4,293.3 1000.9,284.7 1001.3,295.5 1001.8,282.0 1002.3,284.3 1002.7,301.3 1003.2,292.4 1003.7,305.1 1004.1,291.8 1004.6,292.8 1005.0,293.7 1005.5,287.3 1006.0,297.0 1006.4,299.2 1006.9,282.6 1007.3,293.7 1007.8,290.7 1008.3,297.0 1008.7,289.6 1009.2,293.1 1009.7,292.4 1010.1,286.9 1010.6,295.5 1011.0,287.8 1011.5,292.1 1012.0,285.0 1012.4,295.4 1012.9,295.6 1013.3,296.0 1013.8,293.0 1014.3,283.3 1014.7,298.9 1015.2,295.2 1015.6,289.8 1016.1,291.8 1016.6,292.7 1017.0,289.0 1017.5,296.8 1018.0,294.9 1018.4,300.6 1018.9,292.6 1019.3,305.2 1019.8,293.5 1020.3,304.9 1020.7,297.1 1021.2,281.5 1021.6,292.1 1022.1,298.8 1022.6,291.3 1023.0,289.4 1023.5,295.1 1024.0,297.3 1024.4,294.8 1024.9,290.8 1025.3,292.9 1025.8,306.0 1026.3,304.6 1026.7,299.6 1027.2,298.4 1027.6,305.4 1028.1,294.9 1028.6,298.1 1029.0,307.3 1029.5,301.0 1029.9,292.0 1030.4,298.6 1030.9,292.3 1031.3,299.8 1031.8,308.5 1032.3,303.1 1032.7,291.6 1033.2,295.1 1033.6,291.5 1034.1,285.2 1034.6,300.1 1035.0,296.0 1035.5,291.7 1035.9,306.0 1036.4,299.5 1036.9,280.2 1037.3,291.7 1037.8,301.2 1038.3,294.3 1038.7,295.9 1039.2,296.2 1039.6,291.5 1040.1,299.8 1040.6,291.4 1041.0,287.4 1041.5,295.6 1041.9,297.3 1042.4,293.1 1042.9,300.2 1043.3,290.3 1043.8,303.0 1044.2,301.6 1044.7,285.4 1045.2,290.4 1045.6,289.7 1046.1,305.8 1046.6,296.8 1047.0,310.9 1047.5,285.4 1047.9,294.8 1048.4,288.3 1048.9,294.7 1049.3,309.3 1049.8,293.0 1050.2,294.1 1050.7,298.0 1051.2,292.7 1051.6,298.4 1052.1,298.0 1052.6,304.2 1053.0,292.0 1053.5,290.8 1053.9,299.1 1054.4,297.4 1054.9,293.5 1055.3,291.0 1055.8,293.4 1056.2,294.4 1056.7,298.8 1057.2,285.9 1057.6,297.0 1058.1,300.2 1058.5,288.1 1059.0,289.7 1059.5,292.0 1059.9,296.4 1060.4,286.1 1060.9,303.7 1061.3,288.2 1061.8,289.5 1062.2,292.2 1062.7,307.3 1063.2,300.5 1063.6,293.2 1064.1,300.2 1064.5,296.6 1065.0,302.0 1065.5,293.0 1065.9,303.8 1066.4,291.6 1066.9,288.7 1067.3,299.2 1067.8,300.7 1068.2,293.6 1068.7,286.3 1069.2,292.7 1069.6,296.3 1070.1,290.7 1070.5,295.4 1071.0,294.1 1071.5,299.9 1071.9,288.6 1072.4,301.1 1072.8,300.6" fill="none" stroke="#c2c2c2" stroke-width="1.0" stroke-linejoin="round" opacity="1"/>
<polyline points="994.9,296.6 995.4,290.4 995.8,289.5 996.3,288.1 996.7,300.8 997.2,285.6 997.7,290.3 998.1,301.9 998.6,298.5 999.0,288.5 999.5,282.1 1000.0,284.2 1000.4,301.8 1000.9,281.4 1001.3,292.4 1001.8,286.5 1002.3,286.4 1002.7,292.4 1003.2,299.0 1003.7,286.9 1004.1,297.4 1004.6,302.4 1005.0,299.9 1005.5,294.8 1006.0,290.1 1006.4,297.7 1006.9,288.1 1007.3,284.3 1007.8,305.3 1008.3,286.7 1008.7,288.6 1009.2,283.9 1009.7,300.3 1010.1,301.1 1010.6,280.4 1011.0,298.4 1011.5,289.0 1012.0,289.5 1012.4,301.8 1012.9,305.4 1013.3,288.6 1013.8,302.7 1014.3,300.7 1014.7,299.4 1015.2,295.7 1015.6,299.4 1016.1,292.0 1016.6,298.0 1017.0,290.5 1017.5,297.2 1018.0,296.0 1018.4,295.3 1018.9,296.0 1019.3,294.9 1019.8,290.8 1020.3,297.4 1020.7,305.0 1021.2,287.5 1021.6,301.2 1022.1,295.2 1022.6,291.5 1023.0,289.2 1023.5,302.9 1024.0,306.1 1024.4,296.6 1024.9,299.9 1025.3,296.4 1025.8,291.7 1026.3,297.9 1026.7,304.9 1027.2,298.7 1027.6,309.3 1028.1,296.3 1028.6,300.3 1029.0,296.9 1029.5,297.1 1029.9,284.8 1030.4,285.7 1030.9,297.9 1031.3,299.2 1031.8,290.4 1032.3,299.6 1032.7,306.5 1033.2,299.9 1033.6,300.8 1034.1,297.8 1034.6,294.4 1035.0,291.8 1035.5,296.7 1035.9,288.9 1036.4,302.8 1036.9,307.5 1037.3,290.3 1037.8,292.4 1038.3,301.1 1038.7,298.0 1039.2,298.9 1039.6,300.8 1040.1,290.4 1040.6,285.3 1041.0,303.2 1041.5,296.0 1041.9,299.5 1042.4,304.4 1042.9,301.4 1043.3,299.8 1043.8,304.0 1044.2,299.6 1044.7,300.8 1045.2,294.6 1045.6,290.5 1046.1,303.9 1046.6,295.9 1047.0,282.2 1047.5,296.3 1047.9,293.0 1048.4,297.4 1048.9,286.6 1049.3,290.1 1049.8,300.8 1050.2,293.4 1050.7,293.0 1051.2,291.7 1051.6,304.0 1052.1,298.9 1052.6,303.7 1053.0,286.6 1053.5,306.4 1053.9,293.4 1054.4,293.7 1054.9,294.1 1055.3,297.9 1055.8,293.4 1056.2,294.7 1056.7,299.3 1057.2,289.6 1057.6,294.1 1058.1,285.1 1058.5,293.5 1059.0,290.8 1059.5,296.8 1059.9,301.4 1060.4,299.5 1060.9,297.9 1061.3,297.3 1061.8,286.6 1062.2,304.8 1062.7,289.0 1063.2,292.2 1063.6,298.8 1064.1,307.0 1064.5,289.8 1065.0,295.7 1065.5,293.6 1065.9,295.8 1066.4,307.1 1066.9,296.0 1067.3,296.7 1067.8,293.9 1068.2,288.3 1068.7,301.8 1069.2,296.2 1069.6,295.6 1070.1,296.6 1070.5,292.2 1071.0,289.5 1071.5,306.8 1071.9,290.8 1072.4,304.5 1072.8,304.3" fill="none" stroke="#c2c2c2" stroke-width="1.0" stroke-linejoin="round" opacity="1"/>
<polyline points="994.9,300.6 995.4,295.1 995.8,288.3 996.3,301.1 996.7,289.4 997.2,296.4 997.7,281.7 998.1,296.7 998.6,295.1 999.0,296.7 999.5,293.1 1000.0,290.5 1000.4,290.4 1000.9,285.2 1001.3,309.0 1001.8,298.4 1002.3,294.1 1002.7,290.9 1003.2,294.1 1003.7,286.4 1004.1,294.0 1004.6,290.7 1005.0,293.1 1005.5,312.2 1006.0,306.4 1006.4,293.2 1006.9,302.6 1007.3,293.6 1007.8,290.1 1008.3,297.9 1008.7,288.4 1009.2,289.8 1009.7,292.0 1010.1,295.6 1010.6,301.8 1011.0,297.0 1011.5,297.2 1012.0,299.2 1012.4,294.7 1012.9,296.8 1013.3,289.8 1013.8,293.5 1014.3,302.3 1014.7,299.8 1015.2,311.1 1015.6,305.9 1016.1,305.8 1016.6,290.6 1017.0,295.6 1017.5,295.4 1018.0,306.2 1018.4,295.2 1018.9,300.9 1019.3,297.1 1019.8,291.0 1020.3,307.2 1020.7,302.4 1021.2,302.5 1021.6,297.7 1022.1,293.8 1022.6,303.7 1023.0,290.4 1023.5,289.3 1024.0,289.5 1024.4,308.8 1024.9,286.2 1025.3,302.4 1025.8,302.3 1026.3,305.0 1026.7,300.2 1027.2,297.4 1027.6,295.2 1028.1,296.6 1028.6,295.7 1029.0,297.8 1029.5,296.0 1029.9,306.4 1030.4,296.8 1030.9,289.5 1031.3,295.0 1031.8,294.9 1032.3,298.5 1032.7,294.1 1033.2,297.8 1033.6,307.4 1034.1,294.0 1034.6,294.5 1035.0,292.4 1035.5,305.6 1035.9,296.0 1036.4,303.4 1036.9,295.3 1037.3,297.8 1037.8,302.9 1038.3,295.7 1038.7,309.4 1039.2,300.7 1039.6,294.8 1040.1,300.5 1040.6,295.6 1041.0,286.1 1041.5,298.7 1041.9,305.2 1042.4,290.3 1042.9,300.4 1043.3,306.3 1043.8,290.3 1044.2,294.9 1044.7,293.7 1045.2,302.6 1045.6,302.4 1046.1,293.7 1046.6,287.3 1047.0,295.3 1047.5,300.2 1047.9,295.5 1048.4,304.8 1048.9,287.1 1049.3,299.8 1049.8,291.4 1050.2,293.9 1050.7,297.7 1051.2,301.1 1051.6,300.5 1052.1,297.2 1052.6,307.1 1053.0,295.2 1053.5,296.5 1053.9,296.4 1054.4,287.2 1054.9,306.1 1055.3,300.5 1055.8,289.3 1056.2,293.7 1056.7,293.5 1057.2,307.6 1057.6,293.5 1058.1,297.6 1058.5,296.6 1059.0,291.5 1059.5,295.4 1059.9,295.8 1060.4,288.4 1060.9,302.1 1061.3,299.7 1061.8,303.8 1062.2,288.3 1062.7,304.2 1063.2,299.6 1063.6,298.3 1064.1,298.7 1064.5,306.5 1065.0,305.5 1065.5,291.1 1065.9,299.2 1066.4,300.9 1066.9,289.3 1067.3,293.4 1067.8,297.6 1068.2,307.6 1068.7,301.9 1069.2,296.5 1069.6,306.9 1070.1,290.6 1070.5,293.1 1071.0,297.4 1071.5,310.1 1071.9,293.9 1072.4,299.5 1072.8,305.7" fill="none" stroke="#c2c2c2" stroke-width="1.0" stroke-linejoin="round" opacity="1"/>
<polyline points="989.8,287.8 990.2,285.0 990.6,290.9 991.1,285.4 991.5,282.2 991.9,288.4 992.3,289.9 992.7,290.3 993.2,296.0 993.6,297.9 994.0,298.7 994.4,301.6 994.8,302.8 995.2,296.1 995.7,309.3 996.1,302.6 996.5,303.2 996.9,301.1 997.3,299.0 997.7,294.2 998.2,305.2 998.6,297.5 999.0,305.2 999.4,299.5 999.8,303.8 1000.2,302.4 1000.7,311.9 1001.1,310.0 1001.5,306.7 1001.9,302.4 1002.3,302.9 1002.7,310.7 1003.2,312.2 1003.6,310.9 1004.0,310.9 1004.4,313.7 1004.8,315.1 1005.3,316.6 1005.7,322.6 1006.1,323.9 1006.5,317.5 1006.9,318.0 1007.3,323.1 1007.8,325.6 1008.2,319.8 1008.6,326.2 1009.0,325.4 1009.4,324.5 1009.8,330.0 1010.3,321.2 1010.7,317.6 1011.1,330.2 1011.5,321.0 1011.9,325.2 1012.3,325.7 1012.8,327.2 1013.2,325.0 1013.6,321.4 1014.0,328.9 1014.4,327.3 1014.8,331.8 1015.3,327.6 1015.7,323.6 1016.1,323.4 1016.5,323.3 1016.9,323.3 1017.4,326.5 1017.8,330.0 1018.2,324.4 1018.6,329.0 1019.0,330.4 1019.4,322.8 1019.9,326.0 1020.3,318.8 1020.7,324.5 1021.1,326.1 1021.5,319.0 1021.9,318.8 1022.4,324.3 1022.8,327.6 1023.2,320.9 1023.6,311.4 1024.0,319.2 1024.4,321.2 1024.9,314.3 1025.3,315.5 1025.7,326.8 1026.1,324.6 1026.5,321.2 1026.9,318.7 1027.4,319.5 1027.8,321.2 1028.2,314.8 1028.6,313.7 1029.0,320.4 1029.5,316.6 1029.9,319.2 1030.3,317.7 1030.7,323.1 1031.1,322.0 1031.5,319.2 1032.0,315.9 1032.4,317.3 1032.8,314.3 1033.2,322.3 1033.6,309.4 1034.0,316.9 1034.5,317.2 1034.9,318.1 1035.3,319.7 1035.7,320.2 1036.1,317.8 1036.5,314.1 1037.0,319.3 1037.4,317.7 1037.8,319.6 1038.2,319.3 1038.6,319.0 1039.1,308.5 1039.5,316.3 1039.9,318.5 1040.3,310.3 1040.7,314.3 1041.1,307.8 1041.6,316.3 1042.0,312.6 1042.4,312.8 1042.8,309.3 1043.2,314.7 1043.6,315.8 1044.1,317.0 1044.5,315.3 1044.9,317.9 1045.3,306.5 1045.7,307.9 1046.1,312.7 1046.6,310.3 1047.0,307.4 1047.4,312.2 1047.8,308.6 1048.2,310.2 1048.6,315.8 1049.1,312.1 1049.5,305.5 1049.9,309.2 1050.3,315.0 1050.7,311.2 1051.2,304.9 1051.6,306.4 1052.0,310.4 1052.4,306.7 1052.8,299.6 1053.2,306.9 1053.7,308.3 1054.1,309.3 1054.5,308.7 1054.9,310.0 1055.3,302.7 1055.7,307.2 1056.2,310.1 1056.6,308.5 1057.0,307.4 1057.4,307.4 1057.8,306.9 1058.2,310.8 1058.7,300.3 1059.1,306.9 1059.5,308.4 1059.9,299.3 1060.3,298.8 1060.7,301.8 1061.2,296.7 1061.6,306.9 1062.0,302.2 1062.4,304.5 1062.8,308.3 1063.3,307.7 1063.7,296.6 1064.1,307.5 1064.5,299.6 1064.9,299.7 1065.3,302.9 1065.8,311.0 1066.2,308.1 1066.6,309.9 1067.0,298.2 1067.4,305.7 1067.8,304.4 1068.3,303.3 1068.7,310.1 1069.1,307.2 1069.5,302.9 1069.9,300.3 1070.3,309.8 1070.8,293.9 1071.2,298.7 1071.6,298.8 1072.0,301.8 1072.4,299.8 1072.8,307.9" fill="none" stroke="#1d1d1d" stroke-width="1.25" stroke-linejoin="round" opacity="1"/>
<polyline points="989.8,284.5 990.2,299.1 990.6,281.7 991.1,285.4 991.5,294.4 991.9,287.0 992.3,288.3 992.7,294.3 993.2,304.3 993.6,290.4 994.0,298.7 994.4,293.8 994.8,293.7 995.2,301.3 995.7,300.1 996.1,299.4 996.5,298.0 996.9,306.6 997.3,303.7 997.7,302.1 998.2,302.1 998.6,308.7 999.0,301.4 999.4,304.7 999.8,306.7 1000.2,304.0 1000.7,310.1 1001.1,310.8 1001.5,311.6 1001.9,304.0 1002.3,306.4 1002.7,318.1 1003.2,312.1 1003.6,309.6 1004.0,316.5 1004.4,317.7 1004.8,310.3 1005.3,321.5 1005.7,315.7 1006.1,317.7 1006.5,326.1 1006.9,324.3 1007.3,322.9 1007.8,320.6 1008.2,324.9 1008.6,319.2 1009.0,325.1 1009.4,327.4 1009.8,332.5 1010.3,323.8 1010.7,325.0 1011.1,333.3 1011.5,327.2 1011.9,328.8 1012.3,333.8 1012.8,332.6 1013.2,326.3 1013.6,333.7 1014.0,328.8 1014.4,327.6 1014.8,326.9 1015.3,328.3 1015.7,333.1 1016.1,326.5 1016.5,337.4 1016.9,327.2 1017.4,330.4 1017.8,331.1 1018.2,323.1 1018.6,326.5 1019.0,324.1 1019.4,328.1 1019.9,324.9 1020.3,320.9 1020.7,328.8 1021.1,324.3 1021.5,328.3 1021.9,326.0 1022.4,324.9 1022.8,321.2 1023.2,319.3 1023.6,331.1 1024.0,319.9 1024.4,321.6 1024.9,315.6 1025.3,324.3 1025.7,321.9 1026.1,323.2 1026.5,318.5 1026.9,324.8 1027.4,323.6 1027.8,315.2 1028.2,326.5 1028.6,317.1 1029.0,323.9 1029.5,318.6 1029.9,319.2 1030.3,315.3 1030.7,308.9 1031.1,319.9 1031.5,317.1 1032.0,317.1 1032.4,323.3 1032.8,315.6 1033.2,326.5 1033.6,322.7 1034.0,313.1 1034.5,311.4 1034.9,318.7 1035.3,313.1 1035.7,321.8 1036.1,317.0 1036.5,321.1 1037.0,315.7 1037.4,318.3 1037.8,316.6 1038.2,324.0 1038.6,315.5 1039.1,319.7 1039.5,311.6 1039.9,319.6 1040.3,313.3 1040.7,320.3 1041.1,316.2 1041.6,324.0 1042.0,321.8 1042.4,320.4 1042.8,311.9 1043.2,317.3 1043.6,320.8 1044.1,324.2 1044.5,310.6 1044.9,322.0 1045.3,323.7 1045.7,315.5 1046.1,316.5 1046.6,312.5 1047.0,315.2 1047.4,314.9 1047.8,307.4 1048.2,316.2 1048.6,312.0 1049.1,313.4 1049.5,316.5 1049.9,309.2 1050.3,313.2 1050.7,314.2 1051.2,309.7 1051.6,318.4 1052.0,310.3 1052.4,302.0 1052.8,309.8 1053.2,310.0 1053.7,312.3 1054.1,317.0 1054.5,309.7 1054.9,313.8 1055.3,313.0 1055.7,308.1 1056.2,308.7 1056.6,309.9 1057.0,305.0 1057.4,313.5 1057.8,308.2 1058.2,306.1 1058.7,306.5 1059.1,302.6 1059.5,310.6 1059.9,307.1 1060.3,311.4 1060.7,310.4 1061.2,312.4 1061.6,302.6 1062.0,307.4 1062.4,301.1 1062.8,305.1 1063.3,309.0 1063.7,310.1 1064.1,305.8 1064.5,308.0 1064.9,307.0 1065.3,305.1 1065.8,306.6 1066.2,309.9 1066.6,302.3 1067.0,302.3 1067.4,303.7 1067.8,300.3 1068.3,297.3 1068.7,308.5 1069.1,308.0 1069.5,307.8 1069.9,307.2 1070.3,302.8 1070.8,306.0 1071.2,301.9 1071.6,297.2 1072.0,303.7 1072.4,301.6 1072.8,300.8" fill="none" stroke="#1d1d1d" stroke-width="1.25" stroke-linejoin="round" opacity="1"/>
<polyline points="989.8,292.2 990.2,289.2 990.6,295.6 991.1,296.3 991.5,294.7 991.9,294.0 992.3,292.9 992.7,290.3 993.2,297.3 993.6,299.1 994.0,304.7 994.4,303.1 994.8,296.5 995.2,302.7 995.7,296.9 996.1,308.9 996.5,308.5 996.9,305.2 997.3,305.1 997.7,301.3 998.2,309.7 998.6,304.6 999.0,303.6 999.4,306.8 999.8,309.0 1000.2,310.3 1000.7,310.7 1001.1,312.8 1001.5,312.3 1001.9,319.6 1002.3,309.0 1002.7,316.6 1003.2,312.1 1003.6,320.2 1004.0,312.2 1004.4,315.6 1004.8,315.3 1005.3,316.7 1005.7,311.3 1006.1,326.2 1006.5,317.2 1006.9,324.7 1007.3,319.8 1007.8,326.7 1008.2,323.4 1008.6,330.4 1009.0,333.8 1009.4,329.7 1009.8,333.1 1010.3,331.5 1010.7,332.3 1011.1,333.5 1011.5,329.7 1011.9,329.7 1012.3,326.9 1012.8,337.8 1013.2,332.5 1013.6,335.1 1014.0,331.1 1014.4,326.1 1014.8,333.7 1015.3,336.4 1015.7,331.3 1016.1,329.6 1016.5,338.1 1016.9,335.6 1017.4,333.7 1017.8,326.8 1018.2,330.1 1018.6,328.9 1019.0,324.6 1019.4,325.0 1019.9,334.6 1020.3,331.7 1020.7,324.8 1021.1,336.1 1021.5,331.7 1021.9,331.3 1022.4,328.9 1022.8,327.1 1023.2,329.0 1023.6,324.7 1024.0,324.9 1024.4,319.1 1024.9,329.6 1025.3,324.6 1025.7,327.8 1026.1,327.1 1026.5,326.2 1026.9,317.9 1027.4,314.9 1027.8,313.5 1028.2,320.8 1028.6,318.8 1029.0,321.8 1029.5,322.9 1029.9,326.0 1030.3,327.8 1030.7,318.3 1031.1,320.2 1031.5,325.0 1032.0,321.5 1032.4,324.8 1032.8,319.8 1033.2,328.4 1033.6,323.6 1034.0,322.1 1034.5,325.2 1034.9,325.4 1035.3,319.7 1035.7,321.5 1036.1,321.2 1036.5,323.0 1037.0,316.0 1037.4,324.8 1037.8,320.2 1038.2,320.1 1038.6,315.4 1039.1,326.9 1039.5,323.4 1039.9,328.3 1040.3,323.7 1040.7,320.8 1041.1,316.1 1041.6,319.2 1042.0,322.1 1042.4,318.4 1042.8,317.6 1043.2,317.6 1043.6,320.0 1044.1,313.5 1044.5,315.3 1044.9,317.0 1045.3,321.4 1045.7,311.3 1046.1,323.8 1046.6,315.6 1047.0,313.4 1047.4,311.5 1047.8,318.0 1048.2,317.0 1048.6,317.4 1049.1,322.2 1049.5,312.0 1049.9,314.3 1050.3,319.6 1050.7,312.7 1051.2,313.5 1051.6,319.2 1052.0,315.1 1052.4,315.8 1052.8,320.2 1053.2,310.8 1053.7,305.7 1054.1,315.9 1054.5,313.1 1054.9,306.6 1055.3,313.4 1055.7,317.8 1056.2,308.1 1056.6,310.8 1057.0,302.6 1057.4,314.6 1057.8,314.3 1058.2,315.0 1058.7,310.3 1059.1,309.8 1059.5,313.4 1059.9,308.9 1060.3,310.6 1060.7,312.5 1061.2,307.6 1061.6,311.4 1062.0,302.3 1062.4,306.8 1062.8,311.3 1063.3,316.0 1063.7,307.2 1064.1,308.1 1064.5,307.5 1064.9,303.9 1065.3,311.2 1065.8,307.9 1066.2,305.3 1066.6,309.6 1067.0,310.5 1067.4,308.4 1067.8,308.5 1068.3,303.9 1068.7,309.5 1069.1,301.7 1069.5,309.9 1069.9,305.7 1070.3,307.1 1070.8,310.0 1071.2,311.7 1071.6,304.4 1072.0,312.1 1072.4,299.9 1072.8,309.6" fill="none" stroke="#1d1d1d" stroke-width="1.25" stroke-linejoin="round" opacity="1"/>
<polyline points="989.8,291.9 990.2,293.6 990.6,288.5 991.1,291.0 991.5,294.0 991.9,302.1 992.3,298.7 992.7,303.7 993.2,304.6 993.6,299.8 994.0,299.5 994.4,300.2 994.8,300.7 995.2,303.9 995.7,308.2 996.1,309.4 996.5,306.4 996.9,304.6 997.3,302.2 997.7,308.0 998.2,309.2 998.6,304.9 999.0,307.6 999.4,316.3 999.8,305.2 1000.2,306.1 1000.7,313.1 1001.1,314.1 1001.5,316.3 1001.9,313.3 1002.3,313.0 1002.7,321.1 1003.2,315.5 1003.6,316.6 1004.0,314.9 1004.4,320.9 1004.8,321.6 1005.3,315.0 1005.7,326.7 1006.1,326.9 1006.5,323.7 1006.9,321.8 1007.3,323.0 1007.8,329.8 1008.2,326.3 1008.6,331.6 1009.0,331.5 1009.4,334.2 1009.8,335.0 1010.3,335.1 1010.7,338.0 1011.1,332.3 1011.5,330.3 1011.9,335.5 1012.3,336.8 1012.8,336.8 1013.2,329.9 1013.6,333.0 1014.0,331.3 1014.4,333.0 1014.8,329.1 1015.3,331.2 1015.7,328.2 1016.1,331.7 1016.5,335.2 1016.9,331.7 1017.4,336.3 1017.8,325.4 1018.2,334.6 1018.6,331.6 1019.0,332.6 1019.4,328.5 1019.9,325.9 1020.3,330.4 1020.7,335.2 1021.1,320.9 1021.5,329.7 1021.9,332.6 1022.4,324.4 1022.8,331.3 1023.2,326.0 1023.6,329.9 1024.0,326.5 1024.4,318.4 1024.9,331.2 1025.3,326.9 1025.7,332.3 1026.1,319.7 1026.5,326.8 1026.9,325.5 1027.4,334.1 1027.8,318.6 1028.2,321.9 1028.6,326.0 1029.0,324.4 1029.5,324.5 1029.9,328.8 1030.3,322.1 1030.7,326.0 1031.1,325.3 1031.5,324.7 1032.0,323.7 1032.4,331.0 1032.8,320.1 1033.2,322.7 1033.6,328.4 1034.0,318.5 1034.5,321.5 1034.9,323.1 1035.3,322.2 1035.7,319.3 1036.1,325.2 1036.5,322.7 1037.0,322.6 1037.4,323.9 1037.8,318.7 1038.2,324.6 1038.6,322.4 1039.1,327.2 1039.5,314.3 1039.9,321.7 1040.3,323.6 1040.7,326.7 1041.1,322.6 1041.6,326.8 1042.0,315.4 1042.4,317.6 1042.8,324.8 1043.2,320.9 1043.6,321.9 1044.1,320.9 1044.5,328.1 1044.9,316.9 1045.3,311.1 1045.7,317.4 1046.1,320.4 1046.6,316.3 1047.0,324.4 1047.4,325.8 1047.8,324.2 1048.2,317.5 1048.6,318.4 1049.1,316.7 1049.5,315.2 1049.9,314.7 1050.3,318.8 1050.7,316.1 1051.2,317.1 1051.6,311.7 1052.0,324.5 1052.4,310.4 1052.8,312.9 1053.2,313.3 1053.7,315.7 1054.1,315.5 1054.5,310.2 1054.9,317.5 1055.3,315.9 1055.7,320.7 1056.2,315.4 1056.6,307.6 1057.0,306.6 1057.4,308.1 1057.8,313.0 1058.2,312.1 1058.7,310.9 1059.1,310.0 1059.5,307.6 1059.9,307.6 1060.3,303.9 1060.7,313.8 1061.2,314.5 1061.6,314.3 1062.0,317.3 1062.4,318.4 1062.8,316.9 1063.3,309.4 1063.7,307.4 1064.1,304.5 1064.5,309.1 1064.9,308.4 1065.3,306.2 1065.8,310.6 1066.2,319.2 1066.6,308.5 1067.0,314.6 1067.4,307.7 1067.8,313.6 1068.3,309.3 1068.7,311.3 1069.1,312.9 1069.5,307.6 1069.9,308.3 1070.3,303.8 1070.8,308.8 1071.2,308.0 1071.6,307.2 1072.0,307.5 1072.4,308.9 1072.8,312.5" fill="none" stroke="#1d1d1d" stroke-width="1.25" stroke-linejoin="round" opacity="1"/>
<polyline points="989.8,287.6 990.3,290.4 990.8,293.4 991.3,287.9 991.8,292.7 992.3,297.2 992.8,296.9 993.3,295.3 993.7,300.4 994.2,297.7 994.7,304.5 995.2,308.3 995.7,310.3 996.2,308.8 996.7,306.9 997.2,311.2 997.7,313.0 998.2,310.5 998.7,314.0 999.1,315.4 999.6,309.0 1000.1,313.2 1000.6,313.8 1001.1,318.7 1001.6,318.8 1002.1,316.2 1002.6,321.2 1003.1,318.4 1003.6,323.7 1004.1,325.8 1004.6,331.2 1005.0,326.1 1005.5,330.2 1006.0,332.8 1006.5,331.7 1007.0,338.6 1007.5,337.6 1008.0,341.4 1008.5,344.5 1009.0,346.3 1009.5,350.3 1010.0,350.1 1010.4,350.2 1010.9,352.1 1011.4,355.6 1011.9,357.6 1012.4,359.1 1012.9,356.5 1013.4,359.7 1013.9,357.6 1014.4,362.6 1014.9,359.1 1015.4,363.5 1015.9,358.5 1016.3,363.6 1016.8,360.9 1017.3,362.1 1017.8,363.9 1018.3,359.6 1018.8,358.1 1019.3,362.7 1019.8,361.6 1020.3,357.1 1020.8,358.7 1021.3,359.6 1021.7,354.5 1022.2,353.2 1022.7,351.8 1023.2,350.4 1023.7,353.6 1024.2,351.1 1024.7,350.4 1025.2,349.9 1025.7,348.0 1026.2,353.5 1026.7,349.1 1027.2,346.2 1027.6,348.6 1028.1,347.8 1028.6,346.9 1029.1,350.5 1029.6,350.3 1030.1,349.9 1030.6,349.7 1031.1,347.1 1031.6,349.0 1032.1,345.5 1032.6,345.6 1033.1,347.1 1033.5,346.5 1034.0,344.9 1034.5,343.9 1035.0,342.1 1035.5,340.1 1036.0,344.9 1036.5,341.9 1037.0,342.8 1037.5,338.9 1038.0,340.2 1038.5,338.3 1038.9,334.5 1039.4,335.8 1039.9,335.0 1040.4,339.5 1040.9,335.8 1041.4,334.6 1041.9,330.3 1042.4,331.3 1042.9,334.7 1043.4,329.0 1043.9,326.4 1044.4,331.7 1044.8,328.6 1045.3,328.1 1045.8,330.4 1046.3,332.0 1046.8,330.2 1047.3,329.8 1047.8,329.3 1048.3,329.9 1048.8,328.6 1049.3,329.1 1049.8,329.0 1050.2,325.1 1050.7,329.4 1051.2,328.7 1051.7,326.2 1052.2,329.9 1052.7,324.4 1053.2,332.8 1053.7,326.2 1054.2,326.6 1054.7,327.4 1055.2,324.7 1055.7,326.7 1056.1,322.5 1056.6,326.2 1057.1,323.0 1057.6,321.9 1058.1,325.5 1058.6,322.5 1059.1,324.0 1059.6,322.8 1060.1,324.8 1060.6,322.0 1061.1,319.0 1061.5,323.0 1062.0,320.0 1062.5,320.6 1063.0,321.3 1063.5,316.1 1064.0,316.5 1064.5,315.0 1065.0,316.3 1065.5,322.0 1066.0,316.3 1066.5,316.8 1067.0,316.5 1067.4,315.9 1067.9,313.1 1068.4,314.8 1068.9,314.6 1069.4,317.1 1069.9,315.3 1070.4,315.1 1070.9,315.7 1071.4,316.5 1071.9,316.4 1072.4,311.3 1072.8,313.0" fill="none" stroke="#222" stroke-width="0.9" stroke-linejoin="round" opacity="1"/>
<polyline points="989.8,289.5 990.3,293.9 990.8,294.9 991.3,292.5 991.8,295.6 992.3,296.8 992.8,300.1 993.3,301.2 993.7,303.3 994.2,305.7 994.7,303.9 995.2,309.1 995.7,307.9 996.2,306.9 996.7,312.0 997.2,314.7 997.7,316.1 998.2,316.0 998.7,315.9 999.1,316.3 999.6,313.1 1000.1,318.7 1000.6,315.6 1001.1,315.4 1001.6,320.7 1002.1,320.2 1002.6,320.9 1003.1,323.8 1003.6,324.1 1004.1,328.7 1004.6,331.0 1005.0,329.8 1005.5,335.0 1006.0,331.9 1006.5,339.4 1007.0,337.4 1007.5,342.3 1008.0,344.2 1008.5,344.7 1009.0,351.1 1009.5,350.9 1010.0,351.0 1010.4,352.9 1010.9,354.1 1011.4,360.4 1011.9,356.6 1012.4,358.0 1012.9,363.3 1013.4,357.6 1013.9,362.6 1014.4,365.7 1014.9,363.0 1015.4,365.5 1015.9,363.1 1016.3,367.3 1016.8,364.8 1017.3,369.0 1017.8,362.6 1018.3,362.0 1018.8,361.0 1019.3,364.5 1019.8,361.1 1020.3,362.4 1020.8,359.1 1021.3,356.2 1021.7,358.6 1022.2,355.4 1022.7,355.1 1023.2,353.7 1023.7,353.0 1024.2,353.7 1024.7,352.9 1025.2,352.8 1025.7,350.6 1026.2,354.4 1026.7,354.1 1027.2,350.8 1027.6,350.0 1028.1,356.3 1028.6,351.4 1029.1,350.8 1029.6,349.3 1030.1,353.8 1030.6,350.3 1031.1,346.9 1031.6,351.0 1032.1,346.2 1032.6,348.0 1033.1,349.8 1033.5,350.7 1034.0,344.8 1034.5,344.9 1035.0,344.8 1035.5,344.7 1036.0,345.7 1036.5,345.5 1037.0,346.1 1037.5,343.4 1038.0,340.2 1038.5,340.2 1038.9,339.6 1039.4,340.8 1039.9,336.7 1040.4,337.4 1040.9,338.8 1041.4,335.4 1041.9,338.9 1042.4,336.5 1042.9,336.9 1043.4,334.4 1043.9,337.3 1044.4,332.3 1044.8,333.9 1045.3,328.8 1045.8,329.9 1046.3,332.7 1046.8,332.1 1047.3,333.1 1047.8,330.3 1048.3,330.7 1048.8,326.9 1049.3,328.9 1049.8,327.5 1050.2,328.3 1050.7,327.5 1051.2,330.2 1051.7,332.7 1052.2,326.2 1052.7,326.9 1053.2,331.5 1053.7,326.0 1054.2,328.7 1054.7,331.9 1055.2,330.1 1055.7,332.2 1056.1,324.6 1056.6,331.0 1057.1,326.3 1057.6,324.3 1058.1,326.4 1058.6,325.4 1059.1,323.3 1059.6,323.8 1060.1,324.4 1060.6,324.5 1061.1,324.0 1061.5,325.0 1062.0,324.9 1062.5,320.9 1063.0,320.3 1063.5,318.7 1064.0,319.5 1064.5,319.1 1065.0,320.6 1065.5,322.9 1066.0,318.5 1066.5,322.0 1067.0,319.3 1067.4,317.7 1067.9,319.1 1068.4,315.4 1068.9,317.4 1069.4,314.6 1069.9,315.6 1070.4,315.4 1070.9,317.3 1071.4,317.6 1071.9,315.8 1072.4,315.3 1072.8,317.5" fill="none" stroke="#222" stroke-width="0.9" stroke-linejoin="round" opacity="1"/>
<polyline points="982.4,286.8 982.5,289.4 982.6,291.9 982.7,294.7 982.7,297.8 982.8,300.8 982.9,303.2 983.0,306.6" fill="none" stroke="#1d1d1d" stroke-width="1.6" stroke-linejoin="round" opacity="1"/>
<polyline points="984.0,286.6 984.1,289.5 984.2,292.0 984.3,294.8 984.3,297.6 984.4,300.9 984.5,303.5 984.6,306.8" fill="none" stroke="#1d1d1d" stroke-width="1.6" stroke-linejoin="round" opacity="1"/>
<polyline points="985.6,286.5 985.7,289.6 985.8,292.2 985.9,294.9 985.9,298.0 986.0,300.4 986.1,303.5 986.2,306.1" fill="none" stroke="#1d1d1d" stroke-width="1.6" stroke-linejoin="round" opacity="1"/>
<line x1="857.3" y1="261.1" x2="1075.8" y2="261.1" stroke="#333" stroke-width="1.4" stroke-dasharray="4.5,3.2"/>
<circle cx="869.2" cy="265.4" r="3.1" fill="#bdbdbd" stroke="none" stroke-width="0"/>
<circle cx="876.3" cy="261.6" r="3.1" fill="#bdbdbd" stroke="none" stroke-width="0"/>
<circle cx="889.5" cy="262.1" r="3.1" fill="#bdbdbd" stroke="none" stroke-width="0"/>
<circle cx="894.1" cy="262.1" r="3.1" fill="#bdbdbd" stroke="none" stroke-width="0"/>
<circle cx="902.2" cy="268.7" r="3.1" fill="#bdbdbd" stroke="none" stroke-width="0"/>
<circle cx="913.1" cy="266.6" r="3.1" fill="#bdbdbd" stroke="none" stroke-width="0"/>
<circle cx="920.0" cy="264.6" r="3.1" fill="#bdbdbd" stroke="none" stroke-width="0"/>
<circle cx="928.9" cy="264.1" r="3.1" fill="#bdbdbd" stroke="none" stroke-width="0"/>
<circle cx="930.6" cy="267.1" r="3.1" fill="#bdbdbd" stroke="none" stroke-width="0"/>
<circle cx="935.2" cy="263.6" r="3.1" fill="#bdbdbd" stroke="none" stroke-width="0"/>
<circle cx="937.8" cy="262.8" r="3.1" fill="#bdbdbd" stroke="none" stroke-width="0"/>
<circle cx="941.6" cy="264.1" r="3.1" fill="#bdbdbd" stroke="none" stroke-width="0"/>
<circle cx="946.6" cy="266.6" r="3.1" fill="#bdbdbd" stroke="none" stroke-width="0"/>
<circle cx="949.2" cy="264.1" r="3.1" fill="#bdbdbd" stroke="none" stroke-width="0"/>
<circle cx="963.1" cy="264.6" r="3.1" fill="#bdbdbd" stroke="none" stroke-width="0"/>
<circle cx="969.5" cy="260.3" r="3.1" fill="#bdbdbd" stroke="none" stroke-width="0"/>
<circle cx="972.8" cy="257.7" r="3.1" fill="#bdbdbd" stroke="none" stroke-width="0"/>
<circle cx="975.3" cy="253.9" r="3.1" fill="#bdbdbd" stroke="none" stroke-width="0"/>
<circle cx="977.9" cy="258.5" r="3.1" fill="#bdbdbd" stroke="none" stroke-width="0"/>
<circle cx="987.3" cy="253.9" r="3.1" fill="#bdbdbd" stroke="none" stroke-width="0"/>
<circle cx="989.8" cy="256.5" r="3.1" fill="#bdbdbd" stroke="none" stroke-width="0"/>
<circle cx="994.9" cy="259.0" r="3.1" fill="#bdbdbd" stroke="none" stroke-width="0"/>
<circle cx="1022.8" cy="256.5" r="3.1" fill="#bdbdbd" stroke="none" stroke-width="0"/>
<circle cx="1025.4" cy="260.3" r="3.1" fill="#bdbdbd" stroke="none" stroke-width="0"/>
<circle cx="1029.2" cy="253.9" r="3.1" fill="#bdbdbd" stroke="none" stroke-width="0"/>
<circle cx="1033.7" cy="259.5" r="3.1" fill="#bdbdbd" stroke="none" stroke-width="0"/>
<circle cx="1036.8" cy="257.0" r="3.1" fill="#bdbdbd" stroke="none" stroke-width="0"/>
<circle cx="1040.1" cy="253.9" r="3.1" fill="#bdbdbd" stroke="none" stroke-width="0"/>
<circle cx="1049.5" cy="259.0" r="3.1" fill="#bdbdbd" stroke="none" stroke-width="0"/>
<circle cx="1058.4" cy="254.7" r="3.1" fill="#bdbdbd" stroke="none" stroke-width="0"/>
<circle cx="1075.6" cy="262.1" r="3.1" fill="#bdbdbd" stroke="none" stroke-width="0"/>
<circle cx="968.2" cy="179.3" r="3.3" fill="#0a0a0a" stroke="none" stroke-width="0"/>
<circle cx="976.6" cy="218.4" r="3.3" fill="#0a0a0a" stroke="none" stroke-width="0"/>
<circle cx="981.4" cy="164.3" r="3.3" fill="#0a0a0a" stroke="none" stroke-width="0"/>
<circle cx="983.5" cy="197.6" r="3.3" fill="#0a0a0a" stroke="none" stroke-width="0"/>
<circle cx="985.5" cy="173.4" r="3.3" fill="#0a0a0a" stroke="none" stroke-width="0"/>
<circle cx="989.8" cy="208.2" r="3.3" fill="#0a0a0a" stroke="none" stroke-width="0"/>
<circle cx="991.8" cy="195.0" r="3.3" fill="#0a0a0a" stroke="none" stroke-width="0"/>
<circle cx="996.7" cy="173.4" r="3.3" fill="#0a0a0a" stroke="none" stroke-width="0"/>
<circle cx="999.2" cy="208.2" r="3.3" fill="#0a0a0a" stroke="none" stroke-width="0"/>
<circle cx="1001.2" cy="185.4" r="3.3" fill="#0a0a0a" stroke="none" stroke-width="0"/>
<circle cx="1003.0" cy="204.4" r="3.3" fill="#0a0a0a" stroke="none" stroke-width="0"/>
<circle cx="1005.0" cy="195.0" r="3.3" fill="#0a0a0a" stroke="none" stroke-width="0"/>
<circle cx="1007.1" cy="210.8" r="3.3" fill="#0a0a0a" stroke="none" stroke-width="0"/>
<circle cx="1009.6" cy="209.8" r="3.3" fill="#0a0a0a" stroke="none" stroke-width="0"/>
<circle cx="1011.4" cy="167.6" r="3.3" fill="#0a0a0a" stroke="none" stroke-width="0"/>
<circle cx="1013.9" cy="163.8" r="3.3" fill="#0a0a0a" stroke="none" stroke-width="0"/>
<circle cx="1016.5" cy="181.8" r="3.3" fill="#0a0a0a" stroke="none" stroke-width="0"/>
<circle cx="1019.5" cy="167.6" r="3.3" fill="#0a0a0a" stroke="none" stroke-width="0"/>
<circle cx="1026.6" cy="183.8" r="3.3" fill="#0a0a0a" stroke="none" stroke-width="0"/>
<circle cx="1031.7" cy="152.4" r="3.3" fill="#0a0a0a" stroke="none" stroke-width="0"/>
<circle cx="1042.6" cy="202.4" r="3.3" fill="#0a0a0a" stroke="none" stroke-width="0"/>
<circle cx="1044.9" cy="174.5" r="3.3" fill="#0a0a0a" stroke="none" stroke-width="0"/>
<circle cx="1046.9" cy="208.7" r="3.3" fill="#0a0a0a" stroke="none" stroke-width="0"/>
<circle cx="1051.3" cy="201.9" r="3.3" fill="#0a0a0a" stroke="none" stroke-width="0"/>
<circle cx="1053.3" cy="215.3" r="3.3" fill="#0a0a0a" stroke="none" stroke-width="0"/>
<circle cx="1055.3" cy="193.5" r="3.3" fill="#0a0a0a" stroke="none" stroke-width="0"/>
<circle cx="1060.2" cy="207.5" r="3.3" fill="#0a0a0a" stroke="none" stroke-width="0"/>
<circle cx="1062.2" cy="119.3" r="3.3" fill="#0a0a0a" stroke="none" stroke-width="0"/>
<circle cx="1064.2" cy="104.9" r="3.3" fill="#0a0a0a" stroke="none" stroke-width="0"/>
<circle cx="1066.8" cy="157.4" r="3.3" fill="#0a0a0a" stroke="none" stroke-width="0"/>
<circle cx="1068.5" cy="180.8" r="3.3" fill="#0a0a0a" stroke="none" stroke-width="0"/>
<circle cx="1071.1" cy="133.8" r="3.3" fill="#0a0a0a" stroke="none" stroke-width="0"/>
<circle cx="1073.1" cy="189.9" r="3.3" fill="#0a0a0a" stroke="none" stroke-width="0"/>
<circle cx="858.5" cy="310.7" r="3.3" fill="#0a0a0a" stroke="none" stroke-width="0"/>
<circle cx="861.1" cy="390.6" r="3.3" fill="#0a0a0a" stroke="none" stroke-width="0"/>
<circle cx="862.8" cy="333.0" r="3.3" fill="#0a0a0a" stroke="none" stroke-width="0"/>
<circle cx="864.9" cy="339.3" r="3.3" fill="#0a0a0a" stroke="none" stroke-width="0"/>
<circle cx="867.9" cy="319.5" r="3.3" fill="#0a0a0a" stroke="none" stroke-width="0"/>
<circle cx="871.7" cy="331.0" r="3.3" fill="#0a0a0a" stroke="none" stroke-width="0"/>
<circle cx="874.3" cy="329.7" r="3.3" fill="#0a0a0a" stroke="none" stroke-width="0"/>
<circle cx="878.1" cy="311.9" r="3.3" fill="#0a0a0a" stroke="none" stroke-width="0"/>
<circle cx="881.4" cy="316.0" r="3.3" fill="#0a0a0a" stroke="none" stroke-width="0"/>
<circle cx="884.4" cy="316.5" r="3.3" fill="#0a0a0a" stroke="none" stroke-width="0"/>
<circle cx="887.0" cy="307.6" r="3.3" fill="#0a0a0a" stroke="none" stroke-width="0"/>
<circle cx="891.5" cy="303.3" r="3.3" fill="#0a0a0a" stroke="none" stroke-width="0"/>
<circle cx="896.6" cy="311.9" r="3.3" fill="#0a0a0a" stroke="none" stroke-width="0"/>
<circle cx="898.4" cy="303.3" r="3.3" fill="#0a0a0a" stroke="none" stroke-width="0"/>
<circle cx="900.9" cy="311.4" r="3.3" fill="#0a0a0a" stroke="none" stroke-width="0"/>
<circle cx="904.7" cy="324.1" r="3.3" fill="#0a0a0a" stroke="none" stroke-width="0"/>
<circle cx="906.8" cy="312.7" r="3.3" fill="#0a0a0a" stroke="none" stroke-width="0"/>
<circle cx="909.3" cy="305.8" r="3.3" fill="#0a0a0a" stroke="none" stroke-width="0"/>
<circle cx="911.6" cy="322.8" r="3.3" fill="#0a0a0a" stroke="none" stroke-width="0"/>
<circle cx="915.7" cy="324.1" r="3.3" fill="#0a0a0a" stroke="none" stroke-width="0"/>
<circle cx="917.9" cy="322.1" r="3.3" fill="#0a0a0a" stroke="none" stroke-width="0"/>
<circle cx="922.5" cy="305.6" r="3.3" fill="#0a0a0a" stroke="none" stroke-width="0"/>
<circle cx="925.1" cy="315.2" r="3.3" fill="#0a0a0a" stroke="none" stroke-width="0"/>
<circle cx="927.1" cy="316.5" r="3.3" fill="#0a0a0a" stroke="none" stroke-width="0"/>
<circle cx="941.6" cy="302.5" r="3.3" fill="#0a0a0a" stroke="none" stroke-width="0"/>
<circle cx="944.1" cy="294.9" r="3.3" fill="#0a0a0a" stroke="none" stroke-width="0"/>
<circle cx="950.5" cy="320.3" r="3.3" fill="#0a0a0a" stroke="none" stroke-width="0"/>
<circle cx="953.0" cy="335.5" r="3.3" fill="#0a0a0a" stroke="none" stroke-width="0"/>
<circle cx="955.0" cy="353.1" r="3.3" fill="#0a0a0a" stroke="none" stroke-width="0"/>
<circle cx="957.6" cy="309.6" r="3.3" fill="#0a0a0a" stroke="none" stroke-width="0"/>
<circle cx="959.3" cy="315.2" r="3.3" fill="#0a0a0a" stroke="none" stroke-width="0"/>
<circle cx="961.4" cy="360.9" r="3.3" fill="#0a0a0a" stroke="none" stroke-width="0"/>
<circle cx="965.7" cy="308.9" r="3.3" fill="#0a0a0a" stroke="none" stroke-width="0"/>
<line x1="857.3" y1="96.0" x2="857.3" y2="426.2" stroke="#222" stroke-width="2.2"/>
<line x1="856.3" y1="425.2" x2="1076.8" y2="425.2" stroke="#222" stroke-width="2.2"/>
<line x1="852.8" y1="97.0" x2="857.3" y2="97.0" stroke="#222" stroke-width="1.8"/>
<text x="850.3" y="105.2" font-size="23" text-anchor="end" font-weight="normal" fill="#1c1c1c" stroke="#1c1c1c" stroke-width="0.45">40</text>
<line x1="854.3" y1="113.4" x2="857.3" y2="113.4" stroke="#222" stroke-width="1.3"/>
<line x1="854.3" y1="129.8" x2="857.3" y2="129.8" stroke="#222" stroke-width="1.3"/>
<line x1="854.3" y1="146.2" x2="857.3" y2="146.2" stroke="#222" stroke-width="1.3"/>
<line x1="854.3" y1="162.6" x2="857.3" y2="162.6" stroke="#222" stroke-width="1.3"/>
<line x1="852.8" y1="179.1" x2="857.3" y2="179.1" stroke="#222" stroke-width="1.8"/>
<text x="850.3" y="187.2" font-size="23" text-anchor="end" font-weight="normal" fill="#1c1c1c" stroke="#1c1c1c" stroke-width="0.45">20</text>
<line x1="854.3" y1="195.5" x2="857.3" y2="195.5" stroke="#222" stroke-width="1.3"/>
<line x1="854.3" y1="211.9" x2="857.3" y2="211.9" stroke="#222" stroke-width="1.3"/>
<line x1="854.3" y1="228.3" x2="857.3" y2="228.3" stroke="#222" stroke-width="1.3"/>
<line x1="854.3" y1="244.7" x2="857.3" y2="244.7" stroke="#222" stroke-width="1.3"/>
<line x1="852.8" y1="261.1" x2="857.3" y2="261.1" stroke="#222" stroke-width="1.8"/>
<text x="850.3" y="269.3" font-size="23" text-anchor="end" font-weight="normal" fill="#1c1c1c" stroke="#1c1c1c" stroke-width="0.45">0</text>
<line x1="854.3" y1="277.5" x2="857.3" y2="277.5" stroke="#222" stroke-width="1.3"/>
<line x1="854.3" y1="293.9" x2="857.3" y2="293.9" stroke="#222" stroke-width="1.3"/>
<line x1="854.3" y1="310.3" x2="857.3" y2="310.3" stroke="#222" stroke-width="1.3"/>
<line x1="854.3" y1="326.7" x2="857.3" y2="326.7" stroke="#222" stroke-width="1.3"/>
<line x1="852.8" y1="343.1" x2="857.3" y2="343.1" stroke="#222" stroke-width="1.8"/>
<text x="850.3" y="351.3" font-size="23" text-anchor="end" font-weight="normal" fill="#1c1c1c" stroke="#1c1c1c" stroke-width="0.45">-20</text>
<line x1="854.3" y1="359.6" x2="857.3" y2="359.6" stroke="#222" stroke-width="1.3"/>
<line x1="854.3" y1="376.0" x2="857.3" y2="376.0" stroke="#222" stroke-width="1.3"/>
<line x1="854.3" y1="392.4" x2="857.3" y2="392.4" stroke="#222" stroke-width="1.3"/>
<line x1="854.3" y1="408.8" x2="857.3" y2="408.8" stroke="#222" stroke-width="1.3"/>
<line x1="852.8" y1="425.2" x2="857.3" y2="425.2" stroke="#222" stroke-width="1.8"/>
<text x="850.3" y="433.4" font-size="23" text-anchor="end" font-weight="normal" fill="#1c1c1c" stroke="#1c1c1c" stroke-width="0.45">-40</text>
<line x1="857.3" y1="425.2" x2="857.3" y2="420.7" stroke="#222" stroke-width="1.8"/>
<text x="857.3" y="449.5" font-size="23" text-anchor="middle" font-weight="normal" fill="#1c1c1c" stroke="#1c1c1c" stroke-width="0.45">0</text>
<line x1="879.1" y1="425.2" x2="879.1" y2="422.2" stroke="#222" stroke-width="1.3"/>
<line x1="901.0" y1="425.2" x2="901.0" y2="422.2" stroke="#222" stroke-width="1.3"/>
<line x1="922.8" y1="425.2" x2="922.8" y2="422.2" stroke="#222" stroke-width="1.3"/>
<line x1="944.7" y1="425.2" x2="944.7" y2="422.2" stroke="#222" stroke-width="1.3"/>
<line x1="966.5" y1="425.2" x2="966.5" y2="420.7" stroke="#222" stroke-width="1.8"/>
<text x="966.5" y="449.5" font-size="23" text-anchor="middle" font-weight="normal" fill="#1c1c1c" stroke="#1c1c1c" stroke-width="0.45">50</text>
<line x1="988.4" y1="425.2" x2="988.4" y2="422.2" stroke="#222" stroke-width="1.3"/>
<line x1="1010.2" y1="425.2" x2="1010.2" y2="422.2" stroke="#222" stroke-width="1.3"/>
<line x1="1032.1" y1="425.2" x2="1032.1" y2="422.2" stroke="#222" stroke-width="1.3"/>
<line x1="1054.0" y1="425.2" x2="1054.0" y2="422.2" stroke="#222" stroke-width="1.3"/>
<line x1="1075.8" y1="425.2" x2="1075.8" y2="420.7" stroke="#222" stroke-width="1.8"/>
<text x="1075.8" y="449.5" font-size="23" text-anchor="middle" font-weight="normal" fill="#1c1c1c" stroke="#1c1c1c" stroke-width="0.45">100</text>
<text x="805.8" y="261.1" font-size="23" text-anchor="middle" font-weight="normal" fill="#1c1c1c" stroke="#1c1c1c" stroke-width="0.45" transform="rotate(-90 805.8 261.1)">amplitude (pA)</text>
<text x="963.5" y="472.0" font-size="23" text-anchor="middle" font-weight="normal" fill="#1c1c1c" stroke="#1c1c1c" stroke-width="0.45">number of trials</text>
<polyline points="1031.2,377.7 1031.2,396.7 1050.2,396.7" fill="none" stroke="#222" stroke-width="1.6"/>
<text x="1030.7" y="393.2" font-size="23" text-anchor="start" font-weight="normal" fill="#1c1c1c" stroke="#1c1c1c" stroke-width="0.45">10pA</text>
<text x="1021.7" y="417.2" font-size="23" text-anchor="start" font-weight="normal" fill="#1c1c1c" stroke="#1c1c1c" stroke-width="0.45">4ms</text>
<text x="1112.0" y="27.8" font-size="34" text-anchor="start" font-weight="bold" fill="#111" stroke="#111" stroke-width="0.45">d</text>
<text x="1300.5" y="95.5" font-size="23" text-anchor="middle" font-weight="normal" fill="#1c1c1c" stroke="#1c1c1c" stroke-width="0.45">coc uninf + naspm</text>
<polyline points="1220.1,228.2 1220.5,217.1 1220.9,217.4 1221.3,218.7 1221.6,223.7 1222.0,222.2 1222.4,219.7 1222.8,230.7 1223.2,227.7 1223.5,226.8 1223.9,217.2 1224.3,222.8 1224.7,217.3 1225.1,224.1 1225.4,214.4 1225.8,216.9 1226.2,221.6 1226.6,219.1 1227.0,217.7 1227.3,221.1 1227.7,224.2 1228.1,216.3 1228.5,220.2 1228.9,219.1 1229.2,207.5 1229.6,210.4 1230.0,205.9 1230.4,208.8 1230.8,217.7 1231.1,211.1 1231.5,219.1 1231.9,213.4 1232.3,225.6 1232.7,224.7 1233.0,213.5 1233.4,208.6 1233.8,204.0 1234.2,209.7 1234.6,216.0 1234.9,220.1 1235.3,208.0 1235.7,211.0 1236.1,216.6 1236.5,215.5 1236.9,213.3 1237.2,212.3 1237.6,225.8 1238.0,215.2 1238.4,221.1 1238.8,211.2 1239.1,214.9 1239.5,212.9 1239.9,213.5 1240.3,215.1 1240.7,216.9 1241.0,212.3 1241.4,220.2 1241.8,212.3 1242.2,208.6 1242.6,208.8 1242.9,222.6 1243.3,213.5 1243.7,207.1 1244.1,220.6 1244.5,215.4 1244.8,210.2 1245.2,212.4 1245.6,213.3 1246.0,199.8 1246.4,210.2 1246.7,211.0 1247.1,218.8 1247.5,207.0 1247.9,215.9 1248.3,214.6 1248.6,205.7 1249.0,210.0 1249.4,208.0 1249.8,212.5 1250.2,207.3 1250.5,218.2 1250.9,211.0 1251.3,205.8 1251.7,200.0 1252.1,209.4 1252.4,209.6 1252.8,214.4 1253.2,207.9 1253.6,205.6 1254.0,217.9 1254.3,212.4 1254.7,217.8 1255.1,212.7 1255.5,213.7 1255.9,208.6 1256.2,205.1 1256.6,207.5 1257.0,213.4 1257.4,220.1 1257.8,211.8 1258.1,201.2 1258.5,207.5 1258.9,205.6 1259.3,216.3 1259.7,206.9 1260.0,217.8 1260.4,213.8 1260.8,216.4 1261.2,207.7 1261.6,213.6 1261.9,214.7 1262.3,217.7 1262.7,211.8 1263.1,212.8 1263.5,206.0 1263.8,220.9 1264.2,213.5 1264.6,206.6 1265.0,219.2 1265.4,212.3 1265.7,215.0 1266.1,215.3 1266.5,228.0 1266.9,218.6 1267.3,217.7 1267.6,212.2 1268.0,218.7 1268.4,219.8 1268.8,213.5 1269.2,217.3 1269.5,222.5 1269.9,225.2 1270.3,217.3 1270.7,211.0 1271.1,211.0 1271.4,223.6 1271.8,214.1 1272.2,221.9 1272.6,215.8 1273.0,214.9 1273.3,219.4 1273.7,220.5 1274.1,226.6 1274.5,219.2 1274.9,222.9 1275.2,212.8 1275.6,217.0 1276.0,218.6 1276.4,214.1 1276.8,226.8 1277.1,217.3 1277.5,225.8 1277.9,220.1 1278.3,211.4 1278.7,220.2 1279.0,221.6 1279.4,218.5 1279.8,214.4 1280.2,220.1 1280.6,229.3" fill="none" stroke="#c2c2c2" stroke-width="1.0" stroke-linejoin="round" opacity="1"/>
<polyline points="1220.1,228.2 1220.5,223.5 1220.9,216.5 1221.3,221.6 1221.6,217.3 1222.0,227.8 1222.4,226.9 1222.8,220.3 1223.2,225.3 1223.5,215.8 1223.9,228.8 1224.3,214.4 1224.7,232.4 1225.1,224.3 1225.4,223.5 1225.8,223.3 1226.2,225.6 1226.6,226.5 1227.0,218.9 1227.3,224.2 1227.7,221.4 1228.1,230.3 1228.5,225.6 1228.9,220.0 1229.2,209.0 1229.6,217.8 1230.0,222.6 1230.4,224.8 1230.8,222.5 1231.1,209.9 1231.5,215.5 1231.9,223.9 1232.3,215.0 1232.7,216.0 1233.0,210.3 1233.4,216.6 1233.8,215.0 1234.2,214.1 1234.6,221.0 1234.9,216.7 1235.3,218.1 1235.7,211.3 1236.1,216.9 1236.5,220.0 1236.9,214.5 1237.2,205.9 1237.6,210.9 1238.0,219.4 1238.4,217.1 1238.8,206.4 1239.1,209.2 1239.5,209.5 1239.9,214.1 1240.3,223.1 1240.7,206.5 1241.0,218.9 1241.4,220.2 1241.8,220.9 1242.2,223.2 1242.6,219.9 1242.9,212.8 1243.3,220.5 1243.7,210.8 1244.1,212.5 1244.5,216.3 1244.8,216.4 1245.2,216.9 1245.6,213.7 1246.0,213.5 1246.4,218.0 1246.7,201.8 1247.1,221.0 1247.5,205.8 1247.9,206.5 1248.3,213.3 1248.6,212.2 1249.0,216.4 1249.4,207.2 1249.8,208.0 1250.2,210.9 1250.5,222.7 1250.9,205.4 1251.3,208.2 1251.7,223.5 1252.1,218.5 1252.4,212.2 1252.8,223.1 1253.2,217.5 1253.6,202.5 1254.0,206.4 1254.3,211.3 1254.7,216.1 1255.1,208.9 1255.5,216.0 1255.9,213.2 1256.2,209.8 1256.6,205.0 1257.0,211.9 1257.4,214.2 1257.8,206.9 1258.1,212.9 1258.5,215.4 1258.9,218.4 1259.3,220.8 1259.7,208.2 1260.0,215.1 1260.4,213.6 1260.8,214.9 1261.2,213.6 1261.6,219.1 1261.9,210.4 1262.3,221.4 1262.7,212.9 1263.1,211.6 1263.5,220.5 1263.8,213.0 1264.2,210.9 1264.6,210.4 1265.0,222.5 1265.4,219.2 1265.7,215.6 1266.1,218.6 1266.5,217.6 1266.9,211.0 1267.3,207.6 1267.6,223.7 1268.0,211.3 1268.4,212.4 1268.8,224.8 1269.2,218.2 1269.5,214.5 1269.9,209.6 1270.3,220.6 1270.7,222.7 1271.1,213.2 1271.4,211.0 1271.8,215.8 1272.2,213.9 1272.6,212.8 1273.0,215.4 1273.3,214.4 1273.7,220.8 1274.1,225.4 1274.5,223.8 1274.9,220.1 1275.2,221.7 1275.6,211.7 1276.0,225.2 1276.4,215.2 1276.8,229.3 1277.1,209.0 1277.5,216.5 1277.9,223.4 1278.3,222.5 1278.7,221.5 1279.0,223.5 1279.4,217.1 1279.8,219.4 1280.2,226.3 1280.6,222.3" fill="none" stroke="#c2c2c2" stroke-width="1.0" stroke-linejoin="round" opacity="1"/>
<polyline points="1220.1,227.6 1220.5,233.3 1220.9,218.5 1221.3,230.6 1221.6,220.4 1222.0,226.7 1222.4,223.8 1222.8,219.7 1223.2,228.0 1223.5,232.1 1223.9,219.0 1224.3,222.2 1224.7,224.9 1225.1,217.5 1225.4,226.7 1225.8,225.5 1226.2,219.9 1226.6,217.9 1227.0,225.2 1227.3,218.4 1227.7,215.0 1228.1,225.8 1228.5,223.8 1228.9,221.7 1229.2,221.7 1229.6,225.6 1230.0,216.0 1230.4,219.0 1230.8,219.4 1231.1,222.8 1231.5,224.9 1231.9,223.0 1232.3,228.7 1232.7,222.7 1233.0,228.2 1233.4,223.2 1233.8,216.8 1234.2,221.5 1234.6,219.8 1234.9,214.7 1235.3,211.8 1235.7,216.7 1236.1,212.4 1236.5,217.7 1236.9,220.2 1237.2,215.3 1237.6,215.2 1238.0,218.8 1238.4,220.7 1238.8,213.5 1239.1,212.6 1239.5,213.0 1239.9,216.5 1240.3,214.9 1240.7,213.3 1241.0,217.1 1241.4,213.5 1241.8,221.5 1242.2,218.9 1242.6,227.2 1242.9,215.5 1243.3,216.6 1243.7,215.7 1244.1,222.8 1244.5,206.0 1244.8,209.2 1245.2,225.4 1245.6,208.1 1246.0,213.0 1246.4,217.5 1246.7,218.0 1247.1,219.3 1247.5,208.5 1247.9,219.5 1248.3,220.9 1248.6,213.1 1249.0,210.3 1249.4,218.0 1249.8,210.1 1250.2,220.3 1250.5,208.0 1250.9,218.2 1251.3,217.3 1251.7,215.4 1252.1,217.4 1252.4,205.4 1252.8,213.2 1253.2,218.7 1253.6,212.4 1254.0,212.9 1254.3,224.4 1254.7,218.9 1255.1,219.1 1255.5,217.3 1255.9,211.0 1256.2,212.9 1256.6,213.7 1257.0,225.2 1257.4,214.1 1257.8,223.6 1258.1,214.8 1258.5,219.7 1258.9,214.9 1259.3,221.7 1259.7,223.5 1260.0,212.7 1260.4,216.4 1260.8,205.9 1261.2,219.1 1261.6,222.1 1261.9,223.1 1262.3,217.0 1262.7,213.4 1263.1,220.7 1263.5,227.7 1263.8,210.0 1264.2,220.6 1264.6,220.5 1265.0,222.8 1265.4,211.4 1265.7,217.1 1266.1,217.6 1266.5,215.4 1266.9,223.3 1267.3,216.0 1267.6,220.2 1268.0,221.1 1268.4,219.8 1268.8,223.6 1269.2,221.5 1269.5,218.5 1269.9,219.7 1270.3,224.6 1270.7,226.3 1271.1,218.4 1271.4,217.1 1271.8,218.3 1272.2,233.7 1272.6,226.4 1273.0,211.9 1273.3,220.6 1273.7,224.5 1274.1,216.9 1274.5,222.4 1274.9,217.6 1275.2,222.8 1275.6,224.9 1276.0,216.5 1276.4,222.6 1276.8,219.9 1277.1,228.8 1277.5,230.1 1277.9,223.1 1278.3,222.4 1278.7,233.5 1279.0,228.8 1279.4,220.1 1279.8,220.8 1280.2,225.5 1280.6,222.5" fill="none" stroke="#c2c2c2" stroke-width="1.0" stroke-linejoin="round" opacity="1"/>
<polyline points="1191.7,226.7 1192.1,227.9 1192.5,231.4 1192.9,233.9 1193.3,233.3 1193.7,235.2" fill="none" stroke="#c4c4c4" stroke-width="1.2" stroke-linejoin="round" opacity="1"/>
<polyline points="1202.3,223.4 1202.7,227.6 1203.1,218.4 1203.5,219.7 1203.9,224.6 1204.3,212.6 1204.7,215.9 1205.1,220.6 1205.5,216.3 1205.9,219.2 1206.3,213.7 1206.7,214.8 1207.1,205.5 1207.5,211.5 1207.9,209.9 1208.2,206.7 1208.6,211.1 1209.0,211.6 1209.4,204.5 1209.8,206.6 1210.2,208.0 1210.6,199.2 1211.0,201.9 1211.4,205.0 1211.8,210.2 1212.2,199.5 1212.6,202.0 1213.0,203.1 1213.4,203.8 1213.7,202.0 1214.1,194.7 1214.5,199.7 1214.9,192.8 1215.3,202.6 1215.7,195.5 1216.1,198.6 1216.5,191.3 1216.9,190.2 1217.3,192.0 1217.7,199.4 1218.1,190.8 1218.5,184.2 1218.9,191.1 1219.3,185.7 1219.6,186.1 1220.0,187.1 1220.4,184.8 1220.8,179.5 1221.2,180.5 1221.6,181.5 1222.0,185.7 1222.4,182.5 1222.8,175.3 1223.2,181.7 1223.6,178.4 1224.0,186.6 1224.4,176.5 1224.8,175.7 1225.1,172.6 1225.5,174.8 1225.9,169.8 1226.3,171.9 1226.7,182.5 1227.1,176.0 1227.5,179.8 1227.9,176.0 1228.3,176.1 1228.7,176.8 1229.1,175.7 1229.5,182.0 1229.9,176.8 1230.3,172.8 1230.6,174.8 1231.0,177.1 1231.4,165.7 1231.8,171.1 1232.2,169.2 1232.6,174.2 1233.0,182.1 1233.4,171.7 1233.8,162.1 1234.2,168.0 1234.6,166.9 1235.0,166.1 1235.4,171.1 1235.8,176.8 1236.2,168.1 1236.5,164.8 1236.9,175.4 1237.3,172.0 1237.7,165.0 1238.1,169.9 1238.5,179.0 1238.9,173.4 1239.3,164.9 1239.7,167.9 1240.1,168.4 1240.5,169.3 1240.9,171.1 1241.3,171.3 1241.7,177.3 1242.0,168.2 1242.4,168.6 1242.8,173.6 1243.2,175.3 1243.6,180.3 1244.0,173.8 1244.4,175.6 1244.8,175.1 1245.2,174.1 1245.6,175.4 1246.0,172.8 1246.4,181.3 1246.8,182.8 1247.2,173.2 1247.5,182.1 1247.9,181.0 1248.3,180.1 1248.7,183.9 1249.1,185.7 1249.5,183.1 1249.9,174.5 1250.3,179.9 1250.7,179.2 1251.1,184.7 1251.5,181.7 1251.9,179.7 1252.3,173.6 1252.7,180.4 1253.1,178.7 1253.4,180.7 1253.8,188.3 1254.2,189.5 1254.6,185.8 1255.0,193.7 1255.4,185.9 1255.8,176.7 1256.2,180.5 1256.6,180.6 1257.0,191.3 1257.4,189.2 1257.8,183.5 1258.2,182.7 1258.6,188.5 1258.9,189.4 1259.3,178.3 1259.7,187.1 1260.1,188.1 1260.5,181.4 1260.9,185.0 1261.3,180.6 1261.7,190.1 1262.1,189.4 1262.5,181.4 1262.9,185.4 1263.3,179.1 1263.7,186.0 1264.1,184.0 1264.4,183.6 1264.8,190.6 1265.2,180.0 1265.6,181.7 1266.0,190.0 1266.4,190.0 1266.8,181.2 1267.2,183.6 1267.6,185.7 1268.0,187.4 1268.4,183.7 1268.8,191.9 1269.2,193.6 1269.6,185.7 1270.0,188.9 1270.3,191.6 1270.7,184.1 1271.1,191.1 1271.5,184.1 1271.9,189.0 1272.3,187.3 1272.7,191.6 1273.1,183.4 1273.5,189.7 1273.9,188.6 1274.3,186.0 1274.7,194.9 1275.1,191.6 1275.5,188.3 1275.8,192.2 1276.2,190.7 1276.6,193.9 1277.0,188.0 1277.4,196.0 1277.8,190.0 1278.2,189.5 1278.6,189.3 1279.0,191.8 1279.4,190.8 1279.8,194.5 1280.2,190.4 1280.6,184.1" fill="none" stroke="#1d1d1d" stroke-width="1.25" stroke-linejoin="round" opacity="1"/>
<polyline points="1202.3,221.0 1202.7,229.2 1203.1,229.1 1203.5,228.6 1203.9,229.3 1204.3,220.9 1204.7,221.1 1205.1,215.6 1205.5,224.9 1205.9,213.7 1206.3,211.9 1206.7,217.6 1207.1,210.9 1207.5,212.7 1207.9,214.3 1208.2,208.1 1208.6,212.3 1209.0,206.7 1209.4,205.8 1209.8,211.2 1210.2,214.8 1210.6,208.1 1211.0,204.0 1211.4,200.5 1211.8,208.5 1212.2,203.5 1212.6,207.1 1213.0,203.3 1213.4,205.8 1213.7,198.0 1214.1,199.6 1214.5,206.2 1214.9,204.3 1215.3,203.3 1215.7,209.0 1216.1,191.8 1216.5,195.4 1216.9,200.7 1217.3,202.8 1217.7,193.2 1218.1,191.9 1218.5,186.1 1218.9,194.0 1219.3,183.0 1219.6,190.7 1220.0,188.7 1220.4,180.5 1220.8,184.3 1221.2,181.2 1221.6,182.8 1222.0,178.4 1222.4,176.5 1222.8,188.4 1223.2,184.2 1223.6,184.1 1224.0,181.7 1224.4,184.2 1224.8,176.5 1225.1,183.1 1225.5,172.1 1225.9,180.8 1226.3,187.0 1226.7,173.5 1227.1,178.6 1227.5,176.1 1227.9,180.9 1228.3,181.8 1228.7,172.4 1229.1,177.1 1229.5,174.1 1229.9,173.1 1230.3,178.3 1230.6,180.2 1231.0,173.7 1231.4,170.7 1231.8,178.4 1232.2,173.9 1232.6,171.0 1233.0,165.2 1233.4,181.7 1233.8,182.9 1234.2,165.0 1234.6,175.1 1235.0,177.4 1235.4,174.2 1235.8,174.7 1236.2,179.6 1236.5,168.1 1236.9,173.2 1237.3,168.3 1237.7,174.9 1238.1,177.3 1238.5,168.1 1238.9,169.4 1239.3,173.7 1239.7,173.3 1240.1,176.8 1240.5,169.3 1240.9,175.8 1241.3,169.3 1241.7,173.0 1242.0,168.9 1242.4,174.8 1242.8,172.0 1243.2,174.6 1243.6,179.8 1244.0,172.8 1244.4,184.3 1244.8,183.9 1245.2,176.6 1245.6,180.6 1246.0,175.1 1246.4,181.0 1246.8,173.0 1247.2,178.9 1247.5,182.8 1247.9,184.6 1248.3,179.3 1248.7,183.7 1249.1,183.6 1249.5,177.1 1249.9,179.8 1250.3,179.8 1250.7,195.5 1251.1,183.4 1251.5,195.7 1251.9,177.7 1252.3,180.1 1252.7,181.4 1253.1,196.1 1253.4,188.3 1253.8,187.5 1254.2,184.2 1254.6,182.6 1255.0,189.7 1255.4,187.4 1255.8,189.0 1256.2,187.2 1256.6,191.9 1257.0,192.6 1257.4,181.1 1257.8,195.2 1258.2,190.9 1258.6,186.4 1258.9,190.3 1259.3,196.7 1259.7,189.8 1260.1,188.4 1260.5,194.8 1260.9,188.8 1261.3,184.0 1261.7,192.2 1262.1,188.8 1262.5,190.8 1262.9,194.0 1263.3,188.1 1263.7,191.0 1264.1,182.0 1264.4,192.0 1264.8,187.5 1265.2,188.4 1265.6,192.9 1266.0,191.6 1266.4,193.2 1266.8,188.2 1267.2,188.3 1267.6,183.2 1268.0,189.1 1268.4,191.7 1268.8,191.9 1269.2,192.1 1269.6,186.8 1270.0,187.5 1270.3,191.9 1270.7,195.6 1271.1,192.9 1271.5,191.0 1271.9,197.7 1272.3,190.1 1272.7,197.1 1273.1,190.1 1273.5,192.9 1273.9,194.1 1274.3,188.4 1274.7,191.9 1275.1,190.5 1275.5,193.6 1275.8,194.4 1276.2,188.9 1276.6,199.0 1277.0,191.9 1277.4,192.2 1277.8,195.6 1278.2,187.1 1278.6,190.4 1279.0,189.0 1279.4,185.7 1279.8,193.6 1280.2,195.9 1280.6,190.0" fill="none" stroke="#1d1d1d" stroke-width="1.25" stroke-linejoin="round" opacity="1"/>
<polyline points="1202.3,226.5 1202.7,235.0 1203.1,231.4 1203.5,223.5 1203.9,229.3 1204.3,221.7 1204.7,225.4 1205.1,227.1 1205.5,219.5 1205.9,224.0 1206.3,222.6 1206.7,223.5 1207.1,222.2 1207.5,214.6 1207.9,211.0 1208.2,216.3 1208.6,213.1 1209.0,212.2 1209.4,220.2 1209.8,218.2 1210.2,211.3 1210.6,208.1 1211.0,217.3 1211.4,200.7 1211.8,207.9 1212.2,207.7 1212.6,210.3 1213.0,213.2 1213.4,204.7 1213.7,202.9 1214.1,202.1 1214.5,209.4 1214.9,214.4 1215.3,201.9 1215.7,206.3 1216.1,200.8 1216.5,203.1 1216.9,191.8 1217.3,207.9 1217.7,199.0 1218.1,197.6 1218.5,200.6 1218.9,187.1 1219.3,194.9 1219.6,189.4 1220.0,186.0 1220.4,181.5 1220.8,193.4 1221.2,193.6 1221.6,191.7 1222.0,186.4 1222.4,182.5 1222.8,176.3 1223.2,188.9 1223.6,179.6 1224.0,185.1 1224.4,177.8 1224.8,191.7 1225.1,183.6 1225.5,189.0 1225.9,180.7 1226.3,178.3 1226.7,177.1 1227.1,185.7 1227.5,187.2 1227.9,180.2 1228.3,179.3 1228.7,186.4 1229.1,183.7 1229.5,181.2 1229.9,174.7 1230.3,177.8 1230.6,186.8 1231.0,175.0 1231.4,174.6 1231.8,176.9 1232.2,178.3 1232.6,173.9 1233.0,181.6 1233.4,169.3 1233.8,181.7 1234.2,171.6 1234.6,175.5 1235.0,175.1 1235.4,176.3 1235.8,176.4 1236.2,175.8 1236.5,172.6 1236.9,176.5 1237.3,177.8 1237.7,177.2 1238.1,174.9 1238.5,168.4 1238.9,173.2 1239.3,180.6 1239.7,172.9 1240.1,168.1 1240.5,179.6 1240.9,167.4 1241.3,177.7 1241.7,174.3 1242.0,178.7 1242.4,185.1 1242.8,172.2 1243.2,179.5 1243.6,183.3 1244.0,182.2 1244.4,182.1 1244.8,172.5 1245.2,172.0 1245.6,184.3 1246.0,176.0 1246.4,179.3 1246.8,175.7 1247.2,173.1 1247.5,183.7 1247.9,186.3 1248.3,178.0 1248.7,187.0 1249.1,189.4 1249.5,183.3 1249.9,185.0 1250.3,192.4 1250.7,185.6 1251.1,189.8 1251.5,192.9 1251.9,182.7 1252.3,193.6 1252.7,185.1 1253.1,185.2 1253.4,198.4 1253.8,191.5 1254.2,189.4 1254.6,183.4 1255.0,192.5 1255.4,191.4 1255.8,192.2 1256.2,187.7 1256.6,184.1 1257.0,189.0 1257.4,188.5 1257.8,191.2 1258.2,195.8 1258.6,192.3 1258.9,186.3 1259.3,192.0 1259.7,190.4 1260.1,191.1 1260.5,186.8 1260.9,190.2 1261.3,191.8 1261.7,198.4 1262.1,189.1 1262.5,190.7 1262.9,198.2 1263.3,192.8 1263.7,183.7 1264.1,189.5 1264.4,193.7 1264.8,190.1 1265.2,193.2 1265.6,198.8 1266.0,196.7 1266.4,196.6 1266.8,186.5 1267.2,193.0 1267.6,188.9 1268.0,193.7 1268.4,194.4 1268.8,192.5 1269.2,194.3 1269.6,194.6 1270.0,185.4 1270.3,193.8 1270.7,191.0 1271.1,199.6 1271.5,192.7 1271.9,191.6 1272.3,196.1 1272.7,194.9 1273.1,197.3 1273.5,197.2 1273.9,200.7 1274.3,198.1 1274.7,194.0 1275.1,198.7 1275.5,190.5 1275.8,197.5 1276.2,197.9 1276.6,192.2 1277.0,203.0 1277.4,192.6 1277.8,196.4 1278.2,186.0 1278.6,195.3 1279.0,199.0 1279.4,198.3 1279.8,203.3 1280.2,200.9 1280.6,190.1" fill="none" stroke="#1d1d1d" stroke-width="1.25" stroke-linejoin="round" opacity="1"/>
<polyline points="1202.3,221.8 1202.7,225.9 1203.1,231.4 1203.5,223.4 1203.9,221.5 1204.3,221.4 1204.7,228.3 1205.1,221.9 1205.5,224.9 1205.9,226.9 1206.3,221.4 1206.7,225.2 1207.1,220.1 1207.5,221.9 1207.9,222.5 1208.2,213.2 1208.6,217.8 1209.0,216.7 1209.4,207.8 1209.8,211.8 1210.2,207.1 1210.6,203.9 1211.0,216.8 1211.4,220.2 1211.8,209.5 1212.2,211.7 1212.6,205.7 1213.0,204.4 1213.4,206.7 1213.7,201.1 1214.1,200.6 1214.5,206.4 1214.9,208.6 1215.3,207.0 1215.7,209.5 1216.1,209.1 1216.5,201.9 1216.9,198.6 1217.3,199.1 1217.7,207.8 1218.1,199.4 1218.5,202.2 1218.9,189.5 1219.3,199.4 1219.6,202.6 1220.0,190.8 1220.4,196.3 1220.8,189.2 1221.2,191.7 1221.6,185.5 1222.0,190.3 1222.4,179.5 1222.8,192.2 1223.2,182.1 1223.6,188.6 1224.0,190.7 1224.4,189.1 1224.8,186.0 1225.1,181.0 1225.5,182.2 1225.9,190.9 1226.3,182.5 1226.7,182.2 1227.1,183.5 1227.5,186.9 1227.9,187.7 1228.3,179.0 1228.7,183.7 1229.1,182.2 1229.5,181.9 1229.9,181.4 1230.3,183.3 1230.6,179.6 1231.0,179.5 1231.4,186.2 1231.8,180.1 1232.2,179.8 1232.6,180.4 1233.0,183.3 1233.4,180.0 1233.8,188.3 1234.2,182.0 1234.6,177.9 1235.0,170.0 1235.4,178.0 1235.8,171.5 1236.2,184.1 1236.5,182.2 1236.9,172.3 1237.3,175.9 1237.7,175.3 1238.1,183.2 1238.5,177.4 1238.9,176.2 1239.3,171.0 1239.7,174.3 1240.1,179.3 1240.5,179.0 1240.9,183.6 1241.3,171.6 1241.7,181.3 1242.0,171.8 1242.4,176.9 1242.8,179.6 1243.2,181.1 1243.6,183.7 1244.0,181.3 1244.4,178.7 1244.8,182.0 1245.2,184.6 1245.6,179.2 1246.0,186.5 1246.4,183.9 1246.8,179.5 1247.2,177.9 1247.5,187.0 1247.9,179.4 1248.3,190.7 1248.7,190.2 1249.1,184.9 1249.5,181.5 1249.9,189.7 1250.3,186.9 1250.7,190.9 1251.1,195.8 1251.5,190.3 1251.9,194.4 1252.3,197.7 1252.7,187.2 1253.1,193.5 1253.4,190.9 1253.8,188.9 1254.2,192.8 1254.6,185.1 1255.0,196.4 1255.4,190.0 1255.8,200.4 1256.2,195.6 1256.6,194.8 1257.0,190.8 1257.4,184.1 1257.8,193.5 1258.2,190.6 1258.6,198.2 1258.9,197.9 1259.3,187.0 1259.7,188.9 1260.1,202.1 1260.5,196.4 1260.9,183.7 1261.3,196.6 1261.7,191.9 1262.1,197.0 1262.5,188.7 1262.9,194.9 1263.3,190.3 1263.7,196.1 1264.1,185.5 1264.4,197.8 1264.8,199.7 1265.2,193.7 1265.6,195.3 1266.0,195.8 1266.4,193.9 1266.8,198.8 1267.2,190.4 1267.6,190.3 1268.0,195.5 1268.4,204.6 1268.8,193.1 1269.2,203.0 1269.6,186.4 1270.0,197.9 1270.3,195.7 1270.7,191.6 1271.1,199.2 1271.5,208.3 1271.9,197.5 1272.3,201.8 1272.7,202.9 1273.1,199.2 1273.5,197.2 1273.9,199.7 1274.3,196.5 1274.7,198.0 1275.1,194.0 1275.5,193.0 1275.8,203.4 1276.2,202.8 1276.6,198.0 1277.0,201.5 1277.4,202.9 1277.8,204.0 1278.2,198.8 1278.6,205.5 1279.0,196.9 1279.4,200.7 1279.8,199.2 1280.2,198.4 1280.6,199.3" fill="none" stroke="#1d1d1d" stroke-width="1.25" stroke-linejoin="round" opacity="1"/>
<polyline points="1202.3,234.0 1202.7,238.0 1203.1,229.3 1203.5,230.1 1203.9,224.8 1204.3,223.1 1204.7,229.6 1205.1,227.7 1205.5,233.1 1205.9,223.5 1206.3,228.0 1206.7,223.7 1207.1,226.4 1207.5,223.0 1207.9,228.0 1208.2,220.5 1208.6,216.0 1209.0,218.8 1209.4,216.5 1209.8,218.3 1210.2,207.0 1210.6,216.2 1211.0,212.6 1211.4,216.1 1211.8,211.6 1212.2,210.3 1212.6,217.9 1213.0,202.9 1213.4,212.0 1213.7,210.2 1214.1,214.0 1214.5,204.9 1214.9,201.8 1215.3,207.5 1215.7,207.9 1216.1,211.1 1216.5,213.1 1216.9,203.0 1217.3,205.0 1217.7,197.1 1218.1,204.9 1218.5,201.5 1218.9,199.4 1219.3,203.5 1219.6,203.5 1220.0,195.5 1220.4,197.8 1220.8,192.2 1221.2,191.0 1221.6,190.9 1222.0,193.7 1222.4,187.1 1222.8,195.0 1223.2,195.2 1223.6,183.7 1224.0,188.4 1224.4,179.2 1224.8,194.4 1225.1,180.2 1225.5,188.6 1225.9,196.3 1226.3,182.9 1226.7,190.3 1227.1,183.4 1227.5,176.4 1227.9,180.4 1228.3,184.9 1228.7,180.8 1229.1,191.7 1229.5,189.4 1229.9,187.3 1230.3,189.2 1230.6,178.8 1231.0,190.8 1231.4,184.4 1231.8,177.7 1232.2,184.1 1232.6,187.8 1233.0,177.9 1233.4,183.1 1233.8,183.1 1234.2,176.0 1234.6,187.4 1235.0,187.0 1235.4,186.7 1235.8,184.5 1236.2,174.6 1236.5,178.4 1236.9,177.6 1237.3,184.0 1237.7,176.0 1238.1,185.8 1238.5,184.7 1238.9,177.1 1239.3,177.7 1239.7,178.1 1240.1,174.9 1240.5,182.0 1240.9,177.2 1241.3,182.3 1241.7,177.9 1242.0,178.8 1242.4,181.3 1242.8,184.4 1243.2,187.8 1243.6,184.9 1244.0,182.4 1244.4,185.1 1244.8,183.5 1245.2,182.3 1245.6,186.1 1246.0,187.3 1246.4,187.2 1246.8,189.3 1247.2,183.4 1247.5,188.1 1247.9,182.5 1248.3,184.3 1248.7,192.6 1249.1,189.4 1249.5,193.1 1249.9,196.8 1250.3,192.3 1250.7,196.2 1251.1,191.3 1251.5,193.8 1251.9,188.3 1252.3,192.4 1252.7,193.7 1253.1,196.6 1253.4,185.7 1253.8,197.1 1254.2,194.6 1254.6,192.9 1255.0,197.2 1255.4,195.6 1255.8,189.2 1256.2,195.4 1256.6,185.5 1257.0,196.0 1257.4,195.3 1257.8,202.9 1258.2,200.2 1258.6,189.9 1258.9,194.4 1259.3,191.2 1259.7,187.9 1260.1,205.1 1260.5,190.4 1260.9,186.9 1261.3,193.3 1261.7,201.6 1262.1,196.6 1262.5,197.9 1262.9,193.9 1263.3,194.9 1263.7,202.7 1264.1,202.3 1264.4,196.4 1264.8,198.1 1265.2,200.7 1265.6,198.6 1266.0,196.7 1266.4,199.4 1266.8,195.4 1267.2,194.7 1267.6,197.1 1268.0,192.9 1268.4,201.6 1268.8,204.4 1269.2,200.8 1269.6,199.3 1270.0,196.1 1270.3,193.6 1270.7,202.3 1271.1,196.2 1271.5,204.8 1271.9,199.0 1272.3,201.5 1272.7,196.6 1273.1,197.1 1273.5,206.4 1273.9,195.3 1274.3,197.6 1274.7,202.7 1275.1,192.0 1275.5,195.1 1275.8,198.4 1276.2,198.0 1276.6,201.3 1277.0,198.0 1277.4,192.7 1277.8,205.3 1278.2,194.2 1278.6,196.4 1279.0,200.9 1279.4,203.5 1279.8,197.2 1280.2,200.8 1280.6,201.3" fill="none" stroke="#1d1d1d" stroke-width="1.25" stroke-linejoin="round" opacity="1"/>
<polyline points="1192.2,204.6 1192.3,208.4 1192.3,212.6 1192.4,217.2 1192.5,221.2 1192.6,225.3 1192.6,229.7 1192.7,233.4" fill="none" stroke="#1d1d1d" stroke-width="1.6" stroke-linejoin="round" opacity="1"/>
<polyline points="1193.8,204.8 1193.9,208.7 1193.9,212.9 1194.0,217.1 1194.1,221.3 1194.2,225.1 1194.2,229.3 1194.3,233.5" fill="none" stroke="#1d1d1d" stroke-width="1.6" stroke-linejoin="round" opacity="1"/>
<polyline points="1195.4,204.4 1195.5,208.9 1195.5,212.8 1195.6,217.2 1195.7,221.3 1195.8,225.0 1195.8,229.4 1195.9,233.9" fill="none" stroke="#1d1d1d" stroke-width="1.6" stroke-linejoin="round" opacity="1"/>
<polyline points="1320.4,292.8 1320.9,305.9 1321.4,308.9 1321.9,295.4 1322.4,291.5 1322.9,305.7 1323.4,315.7 1323.8,300.5 1324.3,306.4 1324.8,296.1 1325.3,301.7 1325.8,296.8 1326.3,311.3 1326.8,304.0 1327.2,300.0 1327.7,301.2 1328.2,296.4 1328.7,300.8 1329.2,297.4 1329.7,298.3 1330.2,295.7 1330.7,302.6 1331.1,295.9 1331.6,303.4 1332.1,298.6 1332.6,306.5 1333.1,308.4 1333.6,303.9 1334.1,314.9 1334.6,306.9 1335.0,306.6 1335.5,315.6 1336.0,313.9 1336.5,296.8 1337.0,299.5 1337.5,304.6 1338.0,298.1 1338.5,307.4 1338.9,305.6 1339.4,305.1 1339.9,309.5 1340.4,310.0 1340.9,305.2 1341.4,310.9 1341.9,300.4 1342.4,299.4 1342.8,300.4 1343.3,301.4 1343.8,311.1 1344.3,309.5 1344.8,297.2 1345.3,306.9 1345.8,316.5 1346.2,313.0 1346.7,300.7 1347.2,296.9 1347.7,310.4 1348.2,309.5 1348.7,304.5 1349.2,314.4 1349.7,304.3 1350.1,299.0 1350.6,305.4 1351.1,303.8 1351.6,309.1 1352.1,306.4 1352.6,308.5 1353.1,312.0 1353.6,302.7 1354.0,302.4 1354.5,305.5 1355.0,315.7 1355.5,302.0 1356.0,299.4 1356.5,302.6 1357.0,304.0 1357.5,300.2 1357.9,304.1 1358.4,311.8 1358.9,306.0 1359.4,318.9 1359.9,318.9 1360.4,304.8 1360.9,313.7 1361.3,309.5 1361.8,301.8 1362.3,297.7 1362.8,306.1 1363.3,303.8 1363.8,311.0 1364.3,304.4 1364.8,311.3 1365.2,319.1 1365.7,303.9 1366.2,302.0 1366.7,306.8 1367.2,314.3 1367.7,311.6 1368.2,317.2 1368.7,299.2 1369.1,308.3 1369.6,313.7 1370.1,313.5 1370.6,303.4 1371.1,311.7 1371.6,298.3 1372.1,304.6 1372.6,316.2 1373.0,306.1 1373.5,306.5 1374.0,305.2 1374.5,319.4 1375.0,309.2 1375.5,299.5 1376.0,307.9 1376.4,296.2 1376.9,309.1 1377.4,314.3 1377.9,309.0 1378.4,292.4 1378.9,310.3 1379.4,305.9 1379.9,305.5 1380.3,302.8 1380.8,299.0 1381.3,302.6 1381.8,309.6 1382.3,305.8 1382.8,309.5 1383.3,314.4 1383.8,306.3 1384.2,306.1 1384.7,302.7 1385.2,306.3 1385.7,312.3 1386.2,310.5 1386.7,305.9 1387.2,312.2 1387.7,306.1 1388.1,312.9 1388.6,299.0 1389.1,300.1 1389.6,308.6 1390.1,308.9 1390.6,311.6 1391.1,303.9 1391.5,306.5 1392.0,300.0 1392.5,307.8 1393.0,312.9 1393.5,308.2 1394.0,304.6 1394.5,308.7 1395.0,310.3 1395.4,308.7 1395.9,302.4 1396.4,302.7 1396.9,308.0 1397.4,307.0 1397.9,306.3" fill="none" stroke="#c2c2c2" stroke-width="1.0" stroke-linejoin="round" opacity="1"/>
<polyline points="1320.4,301.6 1320.9,309.5 1321.4,313.1 1321.9,301.1 1322.4,300.3 1322.9,311.2 1323.4,311.0 1323.8,318.4 1324.3,298.1 1324.8,305.8 1325.3,303.3 1325.8,307.8 1326.3,301.6 1326.8,303.5 1327.2,316.6 1327.7,308.9 1328.2,305.2 1328.7,306.3 1329.2,311.9 1329.7,298.6 1330.2,304.7 1330.7,312.4 1331.1,302.0 1331.6,309.2 1332.1,309.0 1332.6,301.6 1333.1,306.6 1333.6,300.9 1334.1,306.8 1334.6,312.6 1335.0,304.4 1335.5,300.2 1336.0,308.2 1336.5,314.7 1337.0,304.6 1337.5,296.6 1338.0,320.9 1338.5,313.6 1338.9,313.7 1339.4,308.9 1339.9,306.2 1340.4,306.6 1340.9,306.9 1341.4,310.4 1341.9,305.3 1342.4,310.1 1342.8,312.6 1343.3,312.5 1343.8,305.1 1344.3,311.6 1344.8,303.8 1345.3,308.9 1345.8,304.8 1346.2,311.4 1346.7,304.7 1347.2,299.2 1347.7,306.1 1348.2,301.0 1348.7,310.1 1349.2,305.9 1349.7,299.9 1350.1,308.2 1350.6,308.6 1351.1,300.1 1351.6,305.5 1352.1,308.0 1352.6,305.1 1353.1,308.8 1353.6,305.7 1354.0,312.9 1354.5,297.3 1355.0,308.1 1355.5,317.7 1356.0,315.3 1356.5,306.8 1357.0,312.3 1357.5,312.0 1357.9,311.5 1358.4,316.3 1358.9,302.6 1359.4,312.3 1359.9,311.7 1360.4,308.3 1360.9,310.0 1361.3,298.6 1361.8,304.6 1362.3,311.1 1362.8,320.4 1363.3,315.5 1363.8,316.1 1364.3,303.0 1364.8,316.0 1365.2,306.6 1365.7,309.8 1366.2,311.8 1366.7,310.6 1367.2,315.9 1367.7,313.6 1368.2,302.6 1368.7,304.9 1369.1,307.9 1369.6,309.5 1370.1,309.3 1370.6,314.7 1371.1,312.0 1371.6,310.8 1372.1,304.5 1372.6,301.6 1373.0,317.9 1373.5,304.8 1374.0,308.0 1374.5,308.6 1375.0,314.1 1375.5,309.9 1376.0,306.1 1376.4,305.0 1376.9,303.5 1377.4,313.5 1377.9,300.3 1378.4,306.8 1378.9,318.5 1379.4,301.4 1379.9,304.4 1380.3,311.3 1380.8,308.7 1381.3,305.5 1381.8,302.9 1382.3,306.8 1382.8,313.0 1383.3,308.5 1383.8,313.9 1384.2,318.6 1384.7,304.5 1385.2,303.9 1385.7,312.6 1386.2,311.3 1386.7,301.7 1387.2,311.0 1387.7,304.4 1388.1,317.6 1388.6,310.1 1389.1,309.8 1389.6,321.0 1390.1,316.5 1390.6,306.0 1391.1,304.9 1391.5,322.0 1392.0,316.4 1392.5,310.9 1393.0,310.8 1393.5,310.6 1394.0,310.7 1394.5,314.9 1395.0,308.8 1395.4,313.7 1395.9,305.7 1396.4,313.5 1396.9,301.7 1397.4,306.9 1397.9,309.4" fill="none" stroke="#c2c2c2" stroke-width="1.0" stroke-linejoin="round" opacity="1"/>
<polyline points="1320.4,301.6 1320.9,303.2 1321.4,308.0 1321.9,299.0 1322.4,305.9 1322.9,307.6 1323.4,306.6 1323.8,319.2 1324.3,313.2 1324.8,303.7 1325.3,310.2 1325.8,303.1 1326.3,308.1 1326.8,310.2 1327.2,305.4 1327.7,303.0 1328.2,314.3 1328.7,311.7 1329.2,306.1 1329.7,309.1 1330.2,312.9 1330.7,303.8 1331.1,314.7 1331.6,309.7 1332.1,316.7 1332.6,302.9 1333.1,310.1 1333.6,309.1 1334.1,310.3 1334.6,306.0 1335.0,312.4 1335.5,305.6 1336.0,312.7 1336.5,312.7 1337.0,310.7 1337.5,310.2 1338.0,304.9 1338.5,308.4 1338.9,315.5 1339.4,304.9 1339.9,303.8 1340.4,311.5 1340.9,317.6 1341.4,318.9 1341.9,309.5 1342.4,310.0 1342.8,313.1 1343.3,317.1 1343.8,307.1 1344.3,316.0 1344.8,311.2 1345.3,299.4 1345.8,314.6 1346.2,312.1 1346.7,314.0 1347.2,305.8 1347.7,305.8 1348.2,308.6 1348.7,308.1 1349.2,314.6 1349.7,304.9 1350.1,307.5 1350.6,304.7 1351.1,309.2 1351.6,305.5 1352.1,310.6 1352.6,316.7 1353.1,304.1 1353.6,307.6 1354.0,310.9 1354.5,308.6 1355.0,304.7 1355.5,304.1 1356.0,313.1 1356.5,313.9 1357.0,317.7 1357.5,307.4 1357.9,301.0 1358.4,308.7 1358.9,303.2 1359.4,308.4 1359.9,311.5 1360.4,313.6 1360.9,309.9 1361.3,304.4 1361.8,297.0 1362.3,303.1 1362.8,314.5 1363.3,316.6 1363.8,306.4 1364.3,306.2 1364.8,313.7 1365.2,298.1 1365.7,305.2 1366.2,305.0 1366.7,311.0 1367.2,309.8 1367.7,313.3 1368.2,301.2 1368.7,309.6 1369.1,307.8 1369.6,318.7 1370.1,308.5 1370.6,317.0 1371.1,304.5 1371.6,309.7 1372.1,311.3 1372.6,322.0 1373.0,303.4 1373.5,307.4 1374.0,307.6 1374.5,306.1 1375.0,309.8 1375.5,316.2 1376.0,312.6 1376.4,301.4 1376.9,306.6 1377.4,309.1 1377.9,303.6 1378.4,313.2 1378.9,303.1 1379.4,306.0 1379.9,318.9 1380.3,302.9 1380.8,316.4 1381.3,310.2 1381.8,305.7 1382.3,308.3 1382.8,305.6 1383.3,307.5 1383.8,312.0 1384.2,315.1 1384.7,310.9 1385.2,317.5 1385.7,311.4 1386.2,313.4 1386.7,323.9 1387.2,307.9 1387.7,309.4 1388.1,307.5 1388.6,311.2 1389.1,304.0 1389.6,318.3 1390.1,304.6 1390.6,302.9 1391.1,303.0 1391.5,310.6 1392.0,317.6 1392.5,306.9 1393.0,312.8 1393.5,302.4 1394.0,318.9 1394.5,310.8 1395.0,308.5 1395.4,308.3 1395.9,307.3 1396.4,306.5 1396.9,318.8 1397.4,309.8 1397.9,311.3" fill="none" stroke="#c2c2c2" stroke-width="1.0" stroke-linejoin="round" opacity="1"/>
<polyline points="1317.9,308.9 1318.3,297.6 1318.7,298.6 1319.1,304.8 1319.5,300.3 1319.9,303.5 1320.3,298.9 1320.7,296.5 1321.1,305.7 1321.5,301.0 1321.9,298.0 1322.3,305.7 1322.7,304.6 1323.1,303.6 1323.5,307.6 1323.9,307.3 1324.3,307.4 1324.7,317.2 1325.1,304.2 1325.5,307.5 1325.9,307.3 1326.3,305.8 1326.7,305.5 1327.1,310.7 1327.5,308.7 1327.9,314.5 1328.3,307.8 1328.7,315.0 1329.1,311.8 1329.5,313.6 1329.9,316.8 1330.4,314.6 1330.8,319.3 1331.2,314.6 1331.6,318.1 1332.0,325.1 1332.4,320.2 1332.8,319.2 1333.2,320.7 1333.6,328.3 1334.0,334.5 1334.4,334.0 1334.8,330.3 1335.2,331.3 1335.6,325.5 1336.0,335.9 1336.4,329.7 1336.8,332.3 1337.2,327.6 1337.6,332.2 1338.0,337.7 1338.4,326.2 1338.8,330.5 1339.2,334.9 1339.6,333.1 1340.0,325.8 1340.4,328.4 1340.8,327.8 1341.2,330.9 1341.6,321.5 1342.0,330.2 1342.4,320.5 1342.8,324.5 1343.2,325.7 1343.6,333.1 1344.0,315.9 1344.4,326.2 1344.8,325.8 1345.2,322.1 1345.6,326.6 1346.0,321.3 1346.4,321.0 1346.8,319.2 1347.2,331.4 1347.6,318.6 1348.0,319.0 1348.4,315.5 1348.8,318.0 1349.2,322.4 1349.6,325.1 1350.0,316.6 1350.4,328.2 1350.9,320.7 1351.3,315.5 1351.7,321.2 1352.1,311.5 1352.5,317.0 1352.9,320.4 1353.3,321.7 1353.7,312.3 1354.1,309.5 1354.5,323.4 1354.9,318.7 1355.3,320.4 1355.7,321.8 1356.1,318.8 1356.5,315.8 1356.9,317.7 1357.3,317.2 1357.7,313.4 1358.1,319.2 1358.5,314.0 1358.9,319.9 1359.3,309.5 1359.7,313.0 1360.1,319.1 1360.5,324.9 1360.9,317.3 1361.3,314.3 1361.7,317.5 1362.1,318.2 1362.5,318.9 1362.9,317.3 1363.3,315.0 1363.7,319.0 1364.1,315.5 1364.5,311.7 1364.9,319.0 1365.3,319.4 1365.7,313.9 1366.1,314.4 1366.5,317.8 1366.9,316.3 1367.3,318.9 1367.7,314.2 1368.1,322.4 1368.5,310.7 1368.9,310.8 1369.3,322.4 1369.7,317.0 1370.1,309.6 1370.5,311.7 1370.9,311.4 1371.4,310.3 1371.8,312.9 1372.2,322.8 1372.6,317.2 1373.0,314.4 1373.4,310.2 1373.8,314.9 1374.2,314.2 1374.6,315.0 1375.0,307.8 1375.4,321.8 1375.8,319.7 1376.2,314.2 1376.6,311.6 1377.0,316.1 1377.4,313.2 1377.8,311.9 1378.2,311.3 1378.6,311.0 1379.0,311.8 1379.4,309.9 1379.8,314.7 1380.2,315.0 1380.6,315.4 1381.0,312.8 1381.4,312.1 1381.8,311.1 1382.2,313.0 1382.6,305.5 1383.0,309.3 1383.4,316.0 1383.8,309.0 1384.2,309.3 1384.6,303.2 1385.0,314.3 1385.4,314.5 1385.8,309.0 1386.2,314.9 1386.6,312.5 1387.0,308.9 1387.4,313.7 1387.8,313.0 1388.2,309.1 1388.6,308.0 1389.0,306.2 1389.4,311.3 1389.8,301.0 1390.2,305.0 1390.6,312.7 1391.0,312.2 1391.4,306.7 1391.9,313.3 1392.3,307.9 1392.7,303.5 1393.1,311.6 1393.5,310.1 1393.9,305.8 1394.3,313.1 1394.7,307.8 1395.1,307.5 1395.5,308.6 1395.9,302.6 1396.3,312.6 1396.7,305.6 1397.1,315.3 1397.5,306.3 1397.9,309.7" fill="none" stroke="#1d1d1d" stroke-width="1.25" stroke-linejoin="round" opacity="1"/>
<polyline points="1317.9,311.7 1318.3,306.2 1318.7,310.0 1319.1,298.8 1319.5,315.7 1319.9,311.8 1320.3,297.7 1320.7,309.3 1321.1,313.0 1321.5,310.5 1321.9,311.3 1322.3,306.1 1322.7,306.1 1323.1,310.3 1323.5,311.3 1323.9,309.4 1324.3,315.5 1324.7,311.6 1325.1,308.0 1325.5,314.2 1325.9,308.9 1326.3,306.1 1326.7,315.8 1327.1,315.3 1327.5,313.6 1327.9,314.1 1328.3,314.5 1328.7,312.7 1329.1,314.5 1329.5,318.5 1329.9,319.7 1330.4,317.0 1330.8,322.5 1331.2,325.8 1331.6,321.2 1332.0,319.0 1332.4,327.1 1332.8,325.3 1333.2,334.2 1333.6,330.4 1334.0,326.4 1334.4,334.7 1334.8,334.0 1335.2,329.3 1335.6,331.1 1336.0,330.0 1336.4,339.6 1336.8,331.8 1337.2,326.1 1337.6,330.0 1338.0,339.4 1338.4,332.6 1338.8,337.7 1339.2,333.7 1339.6,325.0 1340.0,331.2 1340.4,329.6 1340.8,330.0 1341.2,327.4 1341.6,331.6 1342.0,327.8 1342.4,325.2 1342.8,329.4 1343.2,328.2 1343.6,325.3 1344.0,334.4 1344.4,330.3 1344.8,326.6 1345.2,331.0 1345.6,322.9 1346.0,324.2 1346.4,324.5 1346.8,320.8 1347.2,322.0 1347.6,325.4 1348.0,323.7 1348.4,321.5 1348.8,321.0 1349.2,321.7 1349.6,321.9 1350.0,325.1 1350.4,320.7 1350.9,318.2 1351.3,325.0 1351.7,322.3 1352.1,313.7 1352.5,322.2 1352.9,322.2 1353.3,323.3 1353.7,317.9 1354.1,315.4 1354.5,318.3 1354.9,318.7 1355.3,326.4 1355.7,319.4 1356.1,329.2 1356.5,324.9 1356.9,320.5 1357.3,320.3 1357.7,326.3 1358.1,318.9 1358.5,316.9 1358.9,322.5 1359.3,316.8 1359.7,312.3 1360.1,316.2 1360.5,317.7 1360.9,310.6 1361.3,324.0 1361.7,320.5 1362.1,325.1 1362.5,318.5 1362.9,317.4 1363.3,318.2 1363.7,317.4 1364.1,317.4 1364.5,320.8 1364.9,323.8 1365.3,324.3 1365.7,321.0 1366.1,317.0 1366.5,312.9 1366.9,310.9 1367.3,321.7 1367.7,312.1 1368.1,314.8 1368.5,322.6 1368.9,325.8 1369.3,317.5 1369.7,311.6 1370.1,315.6 1370.5,315.3 1370.9,314.0 1371.4,317.4 1371.8,313.9 1372.2,310.9 1372.6,315.0 1373.0,320.3 1373.4,317.6 1373.8,318.7 1374.2,317.0 1374.6,314.6 1375.0,321.9 1375.4,315.1 1375.8,312.3 1376.2,311.1 1376.6,316.5 1377.0,322.1 1377.4,313.2 1377.8,311.0 1378.2,312.5 1378.6,310.3 1379.0,317.6 1379.4,309.2 1379.8,312.7 1380.2,312.5 1380.6,316.1 1381.0,322.7 1381.4,315.0 1381.8,321.4 1382.2,315.0 1382.6,314.0 1383.0,316.1 1383.4,317.8 1383.8,309.4 1384.2,309.7 1384.6,316.0 1385.0,311.1 1385.4,308.3 1385.8,308.7 1386.2,315.8 1386.6,311.0 1387.0,313.2 1387.4,318.2 1387.8,307.3 1388.2,313.3 1388.6,317.0 1389.0,314.7 1389.4,310.5 1389.8,310.9 1390.2,320.5 1390.6,313.5 1391.0,309.5 1391.4,312.3 1391.9,310.7 1392.3,319.4 1392.7,306.5 1393.1,314.2 1393.5,311.1 1393.9,313.2 1394.3,318.9 1394.7,318.1 1395.1,311.6 1395.5,314.2 1395.9,313.7 1396.3,317.7 1396.7,312.0 1397.1,312.4 1397.5,308.3 1397.9,309.5" fill="none" stroke="#1d1d1d" stroke-width="1.25" stroke-linejoin="round" opacity="1"/>
<polyline points="1317.9,306.9 1318.3,312.5 1318.7,311.4 1319.1,309.1 1319.5,305.1 1319.9,307.2 1320.3,304.4 1320.7,314.2 1321.1,312.6 1321.5,304.9 1321.9,305.5 1322.3,312.2 1322.7,310.1 1323.1,308.0 1323.5,317.2 1323.9,316.8 1324.3,312.8 1324.7,310.1 1325.1,321.3 1325.5,315.1 1325.9,312.5 1326.3,316.0 1326.7,317.6 1327.1,315.5 1327.5,313.5 1327.9,317.6 1328.3,313.1 1328.7,319.2 1329.1,320.7 1329.5,315.6 1329.9,321.7 1330.4,318.7 1330.8,323.2 1331.2,319.6 1331.6,334.0 1332.0,329.8 1332.4,331.8 1332.8,331.2 1333.2,334.7 1333.6,337.5 1334.0,333.7 1334.4,331.6 1334.8,330.5 1335.2,332.5 1335.6,329.9 1336.0,337.7 1336.4,339.6 1336.8,338.8 1337.2,338.5 1337.6,332.6 1338.0,333.4 1338.4,335.9 1338.8,329.1 1339.2,333.8 1339.6,336.1 1340.0,335.7 1340.4,332.8 1340.8,332.9 1341.2,336.9 1341.6,324.7 1342.0,327.8 1342.4,328.4 1342.8,329.1 1343.2,331.5 1343.6,326.9 1344.0,331.4 1344.4,324.1 1344.8,327.5 1345.2,337.3 1345.6,328.7 1346.0,333.1 1346.4,327.7 1346.8,321.5 1347.2,324.1 1347.6,324.6 1348.0,328.2 1348.4,330.1 1348.8,327.9 1349.2,321.7 1349.6,319.9 1350.0,327.7 1350.4,318.8 1350.9,324.8 1351.3,330.2 1351.7,321.7 1352.1,328.8 1352.5,321.8 1352.9,318.4 1353.3,325.0 1353.7,325.6 1354.1,321.9 1354.5,322.4 1354.9,320.4 1355.3,319.7 1355.7,322.0 1356.1,323.9 1356.5,324.3 1356.9,329.1 1357.3,326.3 1357.7,323.3 1358.1,327.3 1358.5,326.0 1358.9,319.4 1359.3,324.6 1359.7,323.7 1360.1,325.1 1360.5,326.5 1360.9,326.5 1361.3,322.0 1361.7,326.4 1362.1,320.4 1362.5,321.5 1362.9,321.0 1363.3,318.9 1363.7,318.1 1364.1,320.5 1364.5,316.8 1364.9,320.0 1365.3,320.0 1365.7,320.0 1366.1,327.8 1366.5,321.1 1366.9,324.3 1367.3,320.7 1367.7,323.3 1368.1,320.0 1368.5,326.4 1368.9,320.4 1369.3,318.9 1369.7,324.5 1370.1,325.9 1370.5,326.8 1370.9,316.5 1371.4,318.3 1371.8,322.9 1372.2,318.0 1372.6,315.4 1373.0,321.2 1373.4,328.6 1373.8,323.9 1374.2,320.6 1374.6,314.3 1375.0,320.6 1375.4,317.1 1375.8,318.7 1376.2,320.0 1376.6,318.4 1377.0,310.5 1377.4,316.6 1377.8,314.6 1378.2,311.3 1378.6,317.6 1379.0,310.2 1379.4,319.7 1379.8,318.4 1380.2,314.8 1380.6,317.0 1381.0,316.9 1381.4,321.3 1381.8,319.6 1382.2,320.4 1382.6,314.9 1383.0,312.4 1383.4,317.3 1383.8,317.0 1384.2,318.4 1384.6,311.1 1385.0,315.4 1385.4,321.5 1385.8,316.7 1386.2,318.9 1386.6,313.5 1387.0,315.9 1387.4,315.7 1387.8,317.6 1388.2,311.1 1388.6,321.6 1389.0,313.4 1389.4,318.4 1389.8,314.1 1390.2,313.7 1390.6,310.3 1391.0,306.7 1391.4,312.6 1391.9,308.8 1392.3,313.4 1392.7,313.0 1393.1,317.0 1393.5,312.3 1393.9,306.9 1394.3,308.6 1394.7,311.9 1395.1,314.3 1395.5,313.3 1395.9,313.4 1396.3,320.5 1396.7,314.9 1397.1,316.8 1397.5,314.6 1397.9,310.0" fill="none" stroke="#1d1d1d" stroke-width="1.25" stroke-linejoin="round" opacity="1"/>
<polyline points="1317.9,312.1 1318.3,310.8 1318.7,313.9 1319.1,307.2 1319.5,315.0 1319.9,307.1 1320.3,313.0 1320.7,306.3 1321.1,308.0 1321.5,309.4 1321.9,309.0 1322.3,313.6 1322.7,319.1 1323.1,313.2 1323.5,316.3 1323.9,312.7 1324.3,318.9 1324.7,321.2 1325.1,318.0 1325.5,319.9 1325.9,314.9 1326.3,319.2 1326.7,321.1 1327.1,318.0 1327.5,312.6 1327.9,324.9 1328.3,319.9 1328.7,316.8 1329.1,323.1 1329.5,320.3 1329.9,323.3 1330.4,332.8 1330.8,328.6 1331.2,332.4 1331.6,325.6 1332.0,330.0 1332.4,341.2 1332.8,337.1 1333.2,330.9 1333.6,334.8 1334.0,335.6 1334.4,336.1 1334.8,342.0 1335.2,341.9 1335.6,340.1 1336.0,335.3 1336.4,337.3 1336.8,339.1 1337.2,343.7 1337.6,340.4 1338.0,342.0 1338.4,329.6 1338.8,328.8 1339.2,335.5 1339.6,336.5 1340.0,335.7 1340.4,337.8 1340.8,334.4 1341.2,335.4 1341.6,330.5 1342.0,332.5 1342.4,330.3 1342.8,326.7 1343.2,327.8 1343.6,329.8 1344.0,331.4 1344.4,325.6 1344.8,334.6 1345.2,328.4 1345.6,323.4 1346.0,325.2 1346.4,330.8 1346.8,325.7 1347.2,329.0 1347.6,325.6 1348.0,332.5 1348.4,324.9 1348.8,331.5 1349.2,320.1 1349.6,324.4 1350.0,327.6 1350.4,331.4 1350.9,323.1 1351.3,326.2 1351.7,325.6 1352.1,324.5 1352.5,322.6 1352.9,319.9 1353.3,330.5 1353.7,328.4 1354.1,327.2 1354.5,322.8 1354.9,318.3 1355.3,324.9 1355.7,326.9 1356.1,327.6 1356.5,327.7 1356.9,324.7 1357.3,324.0 1357.7,322.3 1358.1,320.7 1358.5,329.6 1358.9,318.0 1359.3,326.6 1359.7,324.7 1360.1,323.6 1360.5,326.0 1360.9,331.1 1361.3,327.4 1361.7,327.3 1362.1,328.9 1362.5,318.5 1362.9,327.6 1363.3,325.5 1363.7,331.0 1364.1,319.5 1364.5,325.8 1364.9,323.3 1365.3,320.2 1365.7,327.0 1366.1,321.1 1366.5,326.6 1366.9,320.8 1367.3,324.4 1367.7,323.7 1368.1,330.1 1368.5,325.8 1368.9,318.8 1369.3,327.2 1369.7,324.5 1370.1,326.5 1370.5,330.6 1370.9,320.7 1371.4,319.9 1371.8,319.3 1372.2,323.7 1372.6,318.7 1373.0,323.7 1373.4,324.8 1373.8,326.2 1374.2,323.5 1374.6,325.6 1375.0,318.1 1375.4,328.0 1375.8,314.5 1376.2,314.5 1376.6,316.7 1377.0,325.6 1377.4,321.8 1377.8,317.4 1378.2,313.3 1378.6,320.0 1379.0,318.7 1379.4,328.3 1379.8,321.7 1380.2,321.2 1380.6,324.4 1381.0,317.6 1381.4,320.6 1381.8,321.2 1382.2,319.5 1382.6,317.5 1383.0,319.7 1383.4,319.6 1383.8,322.3 1384.2,314.7 1384.6,313.8 1385.0,312.8 1385.4,321.4 1385.8,321.2 1386.2,317.4 1386.6,321.4 1387.0,317.7 1387.4,326.9 1387.8,313.4 1388.2,315.2 1388.6,317.3 1389.0,318.4 1389.4,319.2 1389.8,314.9 1390.2,319.5 1390.6,313.9 1391.0,321.7 1391.4,314.5 1391.9,316.0 1392.3,311.0 1392.7,322.6 1393.1,313.9 1393.5,314.1 1393.9,314.6 1394.3,314.2 1394.7,314.9 1395.1,320.2 1395.5,316.5 1395.9,322.0 1396.3,317.6 1396.7,321.0 1397.1,318.4 1397.5,314.0 1397.9,318.3" fill="none" stroke="#1d1d1d" stroke-width="1.25" stroke-linejoin="round" opacity="1"/>
<polyline points="1317.9,310.6 1318.3,307.2 1318.7,315.7 1319.1,313.8 1319.5,316.9 1319.9,313.1 1320.3,307.8 1320.7,310.0 1321.1,313.6 1321.5,311.9 1321.9,310.2 1322.3,315.7 1322.7,319.0 1323.1,317.8 1323.5,320.7 1323.9,320.5 1324.3,327.5 1324.7,328.4 1325.1,320.3 1325.5,325.9 1325.9,323.0 1326.3,316.9 1326.7,315.2 1327.1,326.5 1327.5,320.4 1327.9,313.6 1328.3,327.9 1328.7,322.6 1329.1,326.9 1329.5,321.7 1329.9,320.8 1330.4,329.9 1330.8,328.6 1331.2,328.1 1331.6,329.0 1332.0,339.3 1332.4,327.8 1332.8,338.9 1333.2,335.3 1333.6,338.9 1334.0,338.2 1334.4,333.8 1334.8,338.7 1335.2,333.3 1335.6,343.4 1336.0,343.0 1336.4,340.6 1336.8,341.4 1337.2,343.5 1337.6,338.3 1338.0,333.7 1338.4,343.4 1338.8,343.5 1339.2,338.6 1339.6,331.7 1340.0,342.1 1340.4,338.2 1340.8,333.7 1341.2,339.8 1341.6,333.4 1342.0,340.3 1342.4,333.1 1342.8,339.7 1343.2,331.3 1343.6,336.3 1344.0,339.6 1344.4,336.1 1344.8,330.6 1345.2,334.0 1345.6,332.0 1346.0,334.8 1346.4,337.3 1346.8,334.6 1347.2,332.2 1347.6,332.7 1348.0,331.2 1348.4,332.9 1348.8,329.7 1349.2,327.6 1349.6,330.8 1350.0,327.1 1350.4,326.3 1350.9,332.3 1351.3,322.2 1351.7,321.4 1352.1,331.4 1352.5,322.2 1352.9,327.5 1353.3,325.9 1353.7,329.8 1354.1,330.7 1354.5,324.0 1354.9,326.7 1355.3,326.3 1355.7,320.9 1356.1,333.8 1356.5,329.0 1356.9,329.4 1357.3,331.1 1357.7,326.5 1358.1,328.3 1358.5,320.0 1358.9,325.1 1359.3,333.2 1359.7,328.5 1360.1,324.3 1360.5,319.8 1360.9,321.4 1361.3,327.5 1361.7,320.2 1362.1,318.5 1362.5,334.8 1362.9,326.0 1363.3,325.7 1363.7,321.4 1364.1,326.3 1364.5,331.8 1364.9,324.5 1365.3,323.5 1365.7,327.0 1366.1,328.7 1366.5,328.3 1366.9,324.5 1367.3,326.0 1367.7,329.8 1368.1,318.1 1368.5,324.7 1368.9,322.2 1369.3,322.2 1369.7,329.3 1370.1,322.4 1370.5,326.7 1370.9,326.7 1371.4,327.2 1371.8,328.8 1372.2,326.2 1372.6,328.0 1373.0,326.5 1373.4,317.9 1373.8,333.1 1374.2,322.2 1374.6,324.9 1375.0,329.9 1375.4,323.4 1375.8,327.8 1376.2,319.2 1376.6,322.2 1377.0,323.3 1377.4,326.6 1377.8,327.1 1378.2,321.7 1378.6,314.5 1379.0,316.9 1379.4,320.3 1379.8,317.2 1380.2,319.2 1380.6,317.8 1381.0,321.2 1381.4,321.6 1381.8,322.5 1382.2,321.1 1382.6,320.7 1383.0,320.4 1383.4,324.8 1383.8,320.1 1384.2,320.3 1384.6,321.6 1385.0,319.8 1385.4,318.6 1385.8,316.9 1386.2,318.0 1386.6,325.0 1387.0,322.9 1387.4,318.7 1387.8,321.0 1388.2,319.3 1388.6,321.1 1389.0,316.3 1389.4,318.5 1389.8,320.4 1390.2,322.3 1390.6,318.8 1391.0,326.7 1391.4,321.7 1391.9,311.0 1392.3,309.9 1392.7,320.9 1393.1,311.9 1393.5,321.5 1393.9,313.6 1394.3,322.3 1394.7,318.6 1395.1,313.7 1395.5,322.1 1395.9,315.7 1396.3,314.7 1396.7,313.8 1397.1,316.2 1397.5,321.4 1397.9,318.3" fill="none" stroke="#1d1d1d" stroke-width="1.25" stroke-linejoin="round" opacity="1"/>
<polyline points="1309.0,296.3 1309.1,299.5 1309.1,302.8 1309.2,306.2 1309.3,309.2 1309.4,312.4 1309.4,315.8 1309.5,319.3" fill="none" stroke="#1d1d1d" stroke-width="1.6" stroke-linejoin="round" opacity="1"/>
<polyline points="1310.6,296.5 1310.7,299.3 1310.7,302.8 1310.8,306.0 1310.9,309.3 1311.0,312.5 1311.0,316.0 1311.1,318.9" fill="none" stroke="#1d1d1d" stroke-width="1.6" stroke-linejoin="round" opacity="1"/>
<polyline points="1312.2,296.0 1312.3,299.5 1312.3,302.8 1312.4,305.9 1312.5,309.5 1312.6,312.4 1312.6,315.9 1312.7,319.3" fill="none" stroke="#1d1d1d" stroke-width="1.6" stroke-linejoin="round" opacity="1"/>
<line x1="1184.6" y1="261.1" x2="1403" y2="261.1" stroke="#333" stroke-width="1.4" stroke-dasharray="4.5,3.2"/>
<circle cx="1185.8" cy="267.9" r="3.1" fill="#bdbdbd" stroke="none" stroke-width="0"/>
<circle cx="1189.7" cy="267.1" r="3.1" fill="#bdbdbd" stroke="none" stroke-width="0"/>
<circle cx="1194.7" cy="266.1" r="3.1" fill="#bdbdbd" stroke="none" stroke-width="0"/>
<circle cx="1199.3" cy="266.1" r="3.1" fill="#bdbdbd" stroke="none" stroke-width="0"/>
<circle cx="1204.4" cy="266.6" r="3.1" fill="#bdbdbd" stroke="none" stroke-width="0"/>
<circle cx="1208.7" cy="266.6" r="3.1" fill="#bdbdbd" stroke="none" stroke-width="0"/>
<circle cx="1213.0" cy="266.1" r="3.1" fill="#bdbdbd" stroke="none" stroke-width="0"/>
<circle cx="1215.0" cy="264.1" r="3.1" fill="#bdbdbd" stroke="none" stroke-width="0"/>
<circle cx="1221.4" cy="263.6" r="3.1" fill="#bdbdbd" stroke="none" stroke-width="0"/>
<circle cx="1227.7" cy="262.8" r="3.1" fill="#bdbdbd" stroke="none" stroke-width="0"/>
<circle cx="1243.0" cy="269.2" r="3.1" fill="#bdbdbd" stroke="none" stroke-width="0"/>
<circle cx="1248.1" cy="266.1" r="3.1" fill="#bdbdbd" stroke="none" stroke-width="0"/>
<circle cx="1250.6" cy="264.1" r="3.1" fill="#bdbdbd" stroke="none" stroke-width="0"/>
<circle cx="1258.2" cy="262.8" r="3.1" fill="#bdbdbd" stroke="none" stroke-width="0"/>
<circle cx="1260.8" cy="269.2" r="3.1" fill="#bdbdbd" stroke="none" stroke-width="0"/>
<circle cx="1262.0" cy="261.6" r="3.1" fill="#bdbdbd" stroke="none" stroke-width="0"/>
<circle cx="1276.0" cy="264.1" r="3.1" fill="#bdbdbd" stroke="none" stroke-width="0"/>
<circle cx="1279.8" cy="262.8" r="3.1" fill="#bdbdbd" stroke="none" stroke-width="0"/>
<circle cx="1282.3" cy="266.6" r="3.1" fill="#bdbdbd" stroke="none" stroke-width="0"/>
<circle cx="1285.6" cy="261.6" r="3.1" fill="#bdbdbd" stroke="none" stroke-width="0"/>
<circle cx="1286.9" cy="258.5" r="3.1" fill="#bdbdbd" stroke="none" stroke-width="0"/>
<circle cx="1291.7" cy="273.0" r="3.1" fill="#bdbdbd" stroke="none" stroke-width="0"/>
<circle cx="1295.8" cy="256.5" r="3.1" fill="#bdbdbd" stroke="none" stroke-width="0"/>
<circle cx="1298.8" cy="257.7" r="3.1" fill="#bdbdbd" stroke="none" stroke-width="0"/>
<circle cx="1302.7" cy="255.2" r="3.1" fill="#bdbdbd" stroke="none" stroke-width="0"/>
<circle cx="1310.3" cy="267.1" r="3.1" fill="#bdbdbd" stroke="none" stroke-width="0"/>
<circle cx="1314.1" cy="266.6" r="3.1" fill="#bdbdbd" stroke="none" stroke-width="0"/>
<circle cx="1330.6" cy="264.1" r="3.1" fill="#bdbdbd" stroke="none" stroke-width="0"/>
<circle cx="1339.0" cy="263.6" r="3.1" fill="#bdbdbd" stroke="none" stroke-width="0"/>
<circle cx="1347.1" cy="255.2" r="3.1" fill="#bdbdbd" stroke="none" stroke-width="0"/>
<circle cx="1349.6" cy="257.0" r="3.1" fill="#bdbdbd" stroke="none" stroke-width="0"/>
<circle cx="1356.0" cy="261.0" r="3.1" fill="#bdbdbd" stroke="none" stroke-width="0"/>
<circle cx="1362.3" cy="262.1" r="3.1" fill="#bdbdbd" stroke="none" stroke-width="0"/>
<circle cx="1372.5" cy="257.0" r="3.1" fill="#bdbdbd" stroke="none" stroke-width="0"/>
<circle cx="1390.3" cy="259.0" r="3.1" fill="#bdbdbd" stroke="none" stroke-width="0"/>
<circle cx="1391.5" cy="266.1" r="3.1" fill="#bdbdbd" stroke="none" stroke-width="0"/>
<circle cx="1394.1" cy="253.9" r="3.1" fill="#bdbdbd" stroke="none" stroke-width="0"/>
<circle cx="1397.9" cy="254.7" r="3.1" fill="#bdbdbd" stroke="none" stroke-width="0"/>
<circle cx="1399.2" cy="259.0" r="3.1" fill="#bdbdbd" stroke="none" stroke-width="0"/>
<circle cx="1298.3" cy="224.5" r="3.3" fill="#0a0a0a" stroke="none" stroke-width="0"/>
<circle cx="1303.9" cy="224.5" r="3.3" fill="#0a0a0a" stroke="none" stroke-width="0"/>
<circle cx="1306.5" cy="203.9" r="3.3" fill="#0a0a0a" stroke="none" stroke-width="0"/>
<circle cx="1308.5" cy="211.3" r="3.3" fill="#0a0a0a" stroke="none" stroke-width="0"/>
<circle cx="1312.8" cy="226.8" r="3.3" fill="#0a0a0a" stroke="none" stroke-width="0"/>
<circle cx="1317.1" cy="225.5" r="3.3" fill="#0a0a0a" stroke="none" stroke-width="0"/>
<circle cx="1320.4" cy="211.3" r="3.3" fill="#0a0a0a" stroke="none" stroke-width="0"/>
<circle cx="1322.5" cy="193.0" r="3.3" fill="#0a0a0a" stroke="none" stroke-width="0"/>
<circle cx="1324.2" cy="229.8" r="3.3" fill="#0a0a0a" stroke="none" stroke-width="0"/>
<circle cx="1326.3" cy="210.8" r="3.3" fill="#0a0a0a" stroke="none" stroke-width="0"/>
<circle cx="1328.8" cy="225.5" r="3.3" fill="#0a0a0a" stroke="none" stroke-width="0"/>
<circle cx="1332.6" cy="212.0" r="3.3" fill="#0a0a0a" stroke="none" stroke-width="0"/>
<circle cx="1334.4" cy="224.0" r="3.3" fill="#0a0a0a" stroke="none" stroke-width="0"/>
<circle cx="1336.9" cy="231.6" r="3.3" fill="#0a0a0a" stroke="none" stroke-width="0"/>
<circle cx="1341.5" cy="215.8" r="3.3" fill="#0a0a0a" stroke="none" stroke-width="0"/>
<circle cx="1343.8" cy="186.6" r="3.3" fill="#0a0a0a" stroke="none" stroke-width="0"/>
<circle cx="1349.6" cy="224.7" r="3.3" fill="#0a0a0a" stroke="none" stroke-width="0"/>
<circle cx="1352.7" cy="203.1" r="3.3" fill="#0a0a0a" stroke="none" stroke-width="0"/>
<circle cx="1356.0" cy="210.3" r="3.3" fill="#0a0a0a" stroke="none" stroke-width="0"/>
<circle cx="1358.5" cy="213.3" r="3.3" fill="#0a0a0a" stroke="none" stroke-width="0"/>
<circle cx="1363.6" cy="228.5" r="3.3" fill="#0a0a0a" stroke="none" stroke-width="0"/>
<circle cx="1365.6" cy="226.0" r="3.3" fill="#0a0a0a" stroke="none" stroke-width="0"/>
<circle cx="1367.9" cy="229.8" r="3.3" fill="#0a0a0a" stroke="none" stroke-width="0"/>
<circle cx="1369.9" cy="212.0" r="3.3" fill="#0a0a0a" stroke="none" stroke-width="0"/>
<circle cx="1374.3" cy="236.2" r="3.3" fill="#0a0a0a" stroke="none" stroke-width="0"/>
<circle cx="1376.3" cy="229.8" r="3.3" fill="#0a0a0a" stroke="none" stroke-width="0"/>
<circle cx="1378.8" cy="177.0" r="3.3" fill="#0a0a0a" stroke="none" stroke-width="0"/>
<circle cx="1381.4" cy="191.0" r="3.3" fill="#0a0a0a" stroke="none" stroke-width="0"/>
<circle cx="1383.4" cy="223.0" r="3.3" fill="#0a0a0a" stroke="none" stroke-width="0"/>
<circle cx="1385.2" cy="215.8" r="3.3" fill="#0a0a0a" stroke="none" stroke-width="0"/>
<circle cx="1387.2" cy="218.9" r="3.3" fill="#0a0a0a" stroke="none" stroke-width="0"/>
<circle cx="1400.4" cy="211.3" r="3.3" fill="#0a0a0a" stroke="none" stroke-width="0"/>
<circle cx="1403.0" cy="165.1" r="3.3" fill="#0a0a0a" stroke="none" stroke-width="0"/>
<circle cx="1187.1" cy="301.3" r="3.3" fill="#0a0a0a" stroke="none" stroke-width="0"/>
<circle cx="1192.2" cy="305.1" r="3.3" fill="#0a0a0a" stroke="none" stroke-width="0"/>
<circle cx="1194.7" cy="319.8" r="3.3" fill="#0a0a0a" stroke="none" stroke-width="0"/>
<circle cx="1199.3" cy="312.7" r="3.3" fill="#0a0a0a" stroke="none" stroke-width="0"/>
<circle cx="1201.8" cy="315.2" r="3.3" fill="#0a0a0a" stroke="none" stroke-width="0"/>
<circle cx="1210.0" cy="300.5" r="3.3" fill="#0a0a0a" stroke="none" stroke-width="0"/>
<circle cx="1221.4" cy="281.5" r="3.3" fill="#0a0a0a" stroke="none" stroke-width="0"/>
<circle cx="1223.4" cy="303.3" r="3.3" fill="#0a0a0a" stroke="none" stroke-width="0"/>
<circle cx="1232.3" cy="297.5" r="3.3" fill="#0a0a0a" stroke="none" stroke-width="0"/>
<circle cx="1234.6" cy="289.1" r="3.3" fill="#0a0a0a" stroke="none" stroke-width="0"/>
<circle cx="1236.6" cy="295.7" r="3.3" fill="#0a0a0a" stroke="none" stroke-width="0"/>
<circle cx="1238.7" cy="313.2" r="3.3" fill="#0a0a0a" stroke="none" stroke-width="0"/>
<circle cx="1240.9" cy="303.8" r="3.3" fill="#0a0a0a" stroke="none" stroke-width="0"/>
<circle cx="1245.5" cy="303.8" r="3.3" fill="#0a0a0a" stroke="none" stroke-width="0"/>
<circle cx="1251.9" cy="289.1" r="3.3" fill="#0a0a0a" stroke="none" stroke-width="0"/>
<circle cx="1254.4" cy="297.5" r="3.3" fill="#0a0a0a" stroke="none" stroke-width="0"/>
<circle cx="1256.9" cy="292.4" r="3.3" fill="#0a0a0a" stroke="none" stroke-width="0"/>
<circle cx="1264.6" cy="293.6" r="3.3" fill="#0a0a0a" stroke="none" stroke-width="0"/>
<circle cx="1267.1" cy="300.0" r="3.3" fill="#0a0a0a" stroke="none" stroke-width="0"/>
<circle cx="1269.6" cy="311.9" r="3.3" fill="#0a0a0a" stroke="none" stroke-width="0"/>
<circle cx="1272.2" cy="291.6" r="3.3" fill="#0a0a0a" stroke="none" stroke-width="0"/>
<circle cx="1274.0" cy="312.7" r="3.3" fill="#0a0a0a" stroke="none" stroke-width="0"/>
<circle cx="1278.0" cy="294.1" r="3.3" fill="#0a0a0a" stroke="none" stroke-width="0"/>
<circle cx="1289.2" cy="295.7" r="3.3" fill="#0a0a0a" stroke="none" stroke-width="0"/>
<circle cx="1293.8" cy="328.7" r="3.3" fill="#0a0a0a" stroke="none" stroke-width="0"/>
<line x1="1184.6" y1="96.0" x2="1184.6" y2="426.2" stroke="#222" stroke-width="2.2"/>
<line x1="1183.6" y1="425.2" x2="1404.0" y2="425.2" stroke="#222" stroke-width="2.2"/>
<line x1="1180.1" y1="97.0" x2="1184.6" y2="97.0" stroke="#222" stroke-width="1.8"/>
<text x="1177.6" y="105.2" font-size="23" text-anchor="end" font-weight="normal" fill="#1c1c1c" stroke="#1c1c1c" stroke-width="0.45">40</text>
<line x1="1181.6" y1="113.4" x2="1184.6" y2="113.4" stroke="#222" stroke-width="1.3"/>
<line x1="1181.6" y1="129.8" x2="1184.6" y2="129.8" stroke="#222" stroke-width="1.3"/>
<line x1="1181.6" y1="146.2" x2="1184.6" y2="146.2" stroke="#222" stroke-width="1.3"/>
<line x1="1181.6" y1="162.6" x2="1184.6" y2="162.6" stroke="#222" stroke-width="1.3"/>
<line x1="1180.1" y1="179.1" x2="1184.6" y2="179.1" stroke="#222" stroke-width="1.8"/>
<text x="1177.6" y="187.2" font-size="23" text-anchor="end" font-weight="normal" fill="#1c1c1c" stroke="#1c1c1c" stroke-width="0.45">20</text>
<line x1="1181.6" y1="195.5" x2="1184.6" y2="195.5" stroke="#222" stroke-width="1.3"/>
<line x1="1181.6" y1="211.9" x2="1184.6" y2="211.9" stroke="#222" stroke-width="1.3"/>
<line x1="1181.6" y1="228.3" x2="1184.6" y2="228.3" stroke="#222" stroke-width="1.3"/>
<line x1="1181.6" y1="244.7" x2="1184.6" y2="244.7" stroke="#222" stroke-width="1.3"/>
<line x1="1180.1" y1="261.1" x2="1184.6" y2="261.1" stroke="#222" stroke-width="1.8"/>
<text x="1177.6" y="269.3" font-size="23" text-anchor="end" font-weight="normal" fill="#1c1c1c" stroke="#1c1c1c" stroke-width="0.45">0</text>
<line x1="1181.6" y1="277.5" x2="1184.6" y2="277.5" stroke="#222" stroke-width="1.3"/>
<line x1="1181.6" y1="293.9" x2="1184.6" y2="293.9" stroke="#222" stroke-width="1.3"/>
<line x1="1181.6" y1="310.3" x2="1184.6" y2="310.3" stroke="#222" stroke-width="1.3"/>
<line x1="1181.6" y1="326.7" x2="1184.6" y2="326.7" stroke="#222" stroke-width="1.3"/>
<line x1="1180.1" y1="343.1" x2="1184.6" y2="343.1" stroke="#222" stroke-width="1.8"/>
<text x="1177.6" y="351.3" font-size="23" text-anchor="end" font-weight="normal" fill="#1c1c1c" stroke="#1c1c1c" stroke-width="0.45">-20</text>
<line x1="1181.6" y1="359.6" x2="1184.6" y2="359.6" stroke="#222" stroke-width="1.3"/>
<line x1="1181.6" y1="376.0" x2="1184.6" y2="376.0" stroke="#222" stroke-width="1.3"/>
<line x1="1181.6" y1="392.4" x2="1184.6" y2="392.4" stroke="#222" stroke-width="1.3"/>
<line x1="1181.6" y1="408.8" x2="1184.6" y2="408.8" stroke="#222" stroke-width="1.3"/>
<line x1="1180.1" y1="425.2" x2="1184.6" y2="425.2" stroke="#222" stroke-width="1.8"/>
<text x="1177.6" y="433.4" font-size="23" text-anchor="end" font-weight="normal" fill="#1c1c1c" stroke="#1c1c1c" stroke-width="0.45">-40</text>
<line x1="1184.6" y1="425.2" x2="1184.6" y2="420.7" stroke="#222" stroke-width="1.8"/>
<text x="1184.6" y="449.5" font-size="23" text-anchor="middle" font-weight="normal" fill="#1c1c1c" stroke="#1c1c1c" stroke-width="0.45">0</text>
<line x1="1206.4" y1="425.2" x2="1206.4" y2="422.2" stroke="#222" stroke-width="1.3"/>
<line x1="1228.3" y1="425.2" x2="1228.3" y2="422.2" stroke="#222" stroke-width="1.3"/>
<line x1="1250.1" y1="425.2" x2="1250.1" y2="422.2" stroke="#222" stroke-width="1.3"/>
<line x1="1272.0" y1="425.2" x2="1272.0" y2="422.2" stroke="#222" stroke-width="1.3"/>
<line x1="1293.8" y1="425.2" x2="1293.8" y2="420.7" stroke="#222" stroke-width="1.8"/>
<text x="1293.8" y="449.5" font-size="23" text-anchor="middle" font-weight="normal" fill="#1c1c1c" stroke="#1c1c1c" stroke-width="0.45">50</text>
<line x1="1315.6" y1="425.2" x2="1315.6" y2="422.2" stroke="#222" stroke-width="1.3"/>
<line x1="1337.5" y1="425.2" x2="1337.5" y2="422.2" stroke="#222" stroke-width="1.3"/>
<line x1="1359.3" y1="425.2" x2="1359.3" y2="422.2" stroke="#222" stroke-width="1.3"/>
<line x1="1381.2" y1="425.2" x2="1381.2" y2="422.2" stroke="#222" stroke-width="1.3"/>
<line x1="1403.0" y1="425.2" x2="1403.0" y2="420.7" stroke="#222" stroke-width="1.8"/>
<text x="1403.0" y="449.5" font-size="23" text-anchor="middle" font-weight="normal" fill="#1c1c1c" stroke="#1c1c1c" stroke-width="0.45">100</text>
<text x="1133.1" y="261.1" font-size="23" text-anchor="middle" font-weight="normal" fill="#1c1c1c" stroke="#1c1c1c" stroke-width="0.45" transform="rotate(-90 1133.1 261.1)">amplitude (pA)</text>
<text x="1290.8" y="472.0" font-size="23" text-anchor="middle" font-weight="normal" fill="#1c1c1c" stroke="#1c1c1c" stroke-width="0.45">number of trials</text>
<polyline points="1361.1,377.7 1361.1,396.7 1380.1,396.7" fill="none" stroke="#222" stroke-width="1.6"/>
<text x="1360.6" y="393.2" font-size="23" text-anchor="start" font-weight="normal" fill="#1c1c1c" stroke="#1c1c1c" stroke-width="0.45">10pA</text>
<text x="1351.6" y="417.2" font-size="23" text-anchor="start" font-weight="normal" fill="#1c1c1c" stroke="#1c1c1c" stroke-width="0.45">4ms</text>
<text x="1104.0" y="522.5" font-size="30.5" text-anchor="middle" font-weight="normal" fill="#1c1c1c" stroke="#1c1c1c" stroke-width="0.45">behavioral experiments</text>
<line x1="798.3" y1="549" x2="1409" y2="549" stroke="#222" stroke-width="3.1" stroke-dasharray="17.2,12" stroke-dashoffset="7"/>
<line x1="798.3" y1="1086" x2="1409" y2="1086" stroke="#222" stroke-width="3.1" stroke-dasharray="17.2,12" stroke-dashoffset="7"/>
<line x1="798.3" y1="549" x2="798.3" y2="1086" stroke="#222" stroke-width="3.1" stroke-dasharray="13.5,10.4" stroke-dashoffset="6"/>
<line x1="1409" y1="549" x2="1409" y2="1086" stroke="#222" stroke-width="3.1" stroke-dasharray="13.5,10.4" stroke-dashoffset="6"/>
<text x="861.5" y="583.5" font-size="34" text-anchor="start" font-weight="bold" fill="#111" stroke="#111" stroke-width="0.45">i</text>
<text x="931.5" y="599.5" font-size="23" text-anchor="start" font-weight="normal" fill="#1c1c1c" stroke="#1c1c1c" stroke-width="0.45">2hr post (7)</text>
<line x1="928.8" y1="621.8" x2="928.8" y2="975.4" stroke="#222" stroke-width="2.0"/>
<line x1="927.8" y1="974.4" x2="1004.7" y2="974.4" stroke="#222" stroke-width="2.0"/>
<line x1="928.8" y1="974.4" x2="934.8" y2="974.4" stroke="#222" stroke-width="1.7"/>
<text x="923.3" y="982.7" font-size="23" text-anchor="end" font-weight="normal" fill="#1c1c1c" stroke="#1c1c1c" stroke-width="0.45">0</text>
<line x1="928.8" y1="904.1" x2="934.8" y2="904.1" stroke="#222" stroke-width="1.7"/>
<text x="923.3" y="912.4" font-size="23" text-anchor="end" font-weight="normal" fill="#1c1c1c" stroke="#1c1c1c" stroke-width="0.45">10</text>
<line x1="928.8" y1="833.8" x2="934.8" y2="833.8" stroke="#222" stroke-width="1.7"/>
<text x="923.3" y="842.1" font-size="23" text-anchor="end" font-weight="normal" fill="#1c1c1c" stroke="#1c1c1c" stroke-width="0.45">20</text>
<line x1="928.8" y1="763.4" x2="934.8" y2="763.4" stroke="#222" stroke-width="1.7"/>
<text x="923.3" y="771.7" font-size="23" text-anchor="end" font-weight="normal" fill="#1c1c1c" stroke="#1c1c1c" stroke-width="0.45">30</text>
<line x1="928.8" y1="693.1" x2="934.8" y2="693.1" stroke="#222" stroke-width="1.7"/>
<text x="923.3" y="701.4" font-size="23" text-anchor="end" font-weight="normal" fill="#1c1c1c" stroke="#1c1c1c" stroke-width="0.45">40</text>
<line x1="928.8" y1="622.8" x2="934.8" y2="622.8" stroke="#222" stroke-width="1.7"/>
<text x="923.3" y="631.1" font-size="23" text-anchor="end" font-weight="normal" fill="#1c1c1c" stroke="#1c1c1c" stroke-width="0.45">50</text>
<line x1="966.3" y1="974.4" x2="966.3" y2="968.4" stroke="#222" stroke-width="1.7"/>
<text x="968.3" y="1000.7" font-size="23" text-anchor="middle" font-weight="normal" fill="#1c1c1c" stroke="#1c1c1c" stroke-width="0.45">40-45</text>
<text x="965.3" y="1022.2" font-size="23" text-anchor="middle" font-weight="normal" fill="#1c1c1c" stroke="#1c1c1c" stroke-width="0.45">withdrawal day</text>
<text x="965.3" y="1052.2" font-size="23" text-anchor="middle" font-weight="normal" fill="#1c1c1c" stroke="#1c1c1c" stroke-width="0.45">(10min re-exposure)</text>
<text x="881.5" y="784.0" font-size="23" text-anchor="middle" font-weight="normal" fill="#1c1c1c" stroke="#1c1c1c" stroke-width="0.45" transform="rotate(-90 881.5 784.0)">active nose pokes</text>
<line x1="966.3" y1="752.8" x2="966.3" y2="798.4" stroke="#1f2350" stroke-width="1.8"/>
<circle cx="966.3" cy="775.8" r="7.3" fill="#4a55b5" stroke="#1f2350" stroke-width="1.6"/>
<text x="1114.0" y="583.5" font-size="34" text-anchor="start" font-weight="bold" fill="#111" stroke="#111" stroke-width="0.45">j</text>
<text x="1196.0" y="599.5" font-size="23" text-anchor="start" font-weight="normal" fill="#1c1c1c" stroke="#1c1c1c" stroke-width="0.45">pa-dnRac1</text>
<text x="1196.0" y="628.5" font-size="23" text-anchor="start" font-weight="normal" fill="#1c1c1c" stroke="#1c1c1c" stroke-width="0.45">re-exposure (7)</text>
<line x1="1182.4" y1="621.8" x2="1182.4" y2="975.4" stroke="#222" stroke-width="2.0"/>
<line x1="1181.4" y1="974.4" x2="1257.8" y2="974.4" stroke="#222" stroke-width="2.0"/>
<line x1="1182.4" y1="974.4" x2="1188.4" y2="974.4" stroke="#222" stroke-width="1.7"/>
<text x="1176.9" y="982.7" font-size="23" text-anchor="end" font-weight="normal" fill="#1c1c1c" stroke="#1c1c1c" stroke-width="0.45">0</text>
<line x1="1182.4" y1="904.1" x2="1188.4" y2="904.1" stroke="#222" stroke-width="1.7"/>
<text x="1176.9" y="912.4" font-size="23" text-anchor="end" font-weight="normal" fill="#1c1c1c" stroke="#1c1c1c" stroke-width="0.45">10</text>
<line x1="1182.4" y1="833.8" x2="1188.4" y2="833.8" stroke="#222" stroke-width="1.7"/>
<text x="1176.9" y="842.1" font-size="23" text-anchor="end" font-weight="normal" fill="#1c1c1c" stroke="#1c1c1c" stroke-width="0.45">20</text>
<line x1="1182.4" y1="763.4" x2="1188.4" y2="763.4" stroke="#222" stroke-width="1.7"/>
<text x="1176.9" y="771.7" font-size="23" text-anchor="end" font-weight="normal" fill="#1c1c1c" stroke="#1c1c1c" stroke-width="0.45">30</text>
<line x1="1182.4" y1="693.1" x2="1188.4" y2="693.1" stroke="#222" stroke-width="1.7"/>
<text x="1176.9" y="701.4" font-size="23" text-anchor="end" font-weight="normal" fill="#1c1c1c" stroke="#1c1c1c" stroke-width="0.45">40</text>
<line x1="1182.4" y1="622.8" x2="1188.4" y2="622.8" stroke="#222" stroke-width="1.7"/>
<text x="1176.9" y="631.1" font-size="23" text-anchor="end" font-weight="normal" fill="#1c1c1c" stroke="#1c1c1c" stroke-width="0.45">50</text>
<line x1="1219.4" y1="974.4" x2="1219.4" y2="968.4" stroke="#222" stroke-width="1.7"/>
<text x="1221.4" y="1000.7" font-size="23" text-anchor="middle" font-weight="normal" fill="#1c1c1c" stroke="#1c1c1c" stroke-width="0.45">40-45</text>
<text x="1218.4" y="1022.2" font-size="23" text-anchor="middle" font-weight="normal" fill="#1c1c1c" stroke="#1c1c1c" stroke-width="0.45">withdrawal day</text>
<text x="1218.4" y="1052.2" font-size="23" text-anchor="middle" font-weight="normal" fill="#1c1c1c" stroke="#1c1c1c" stroke-width="0.45">(10min re-exposure)</text>
<text x="1134.5" y="784.0" font-size="23" text-anchor="middle" font-weight="normal" fill="#1c1c1c" stroke="#1c1c1c" stroke-width="0.45" transform="rotate(-90 1134.5 784.0)">active nose pokes</text>
<line x1="1219.4" y1="769.6" x2="1219.4" y2="797.0" stroke="#3d0b0a" stroke-width="1.8"/>
<circle cx="1219.4" cy="783.5" r="7.3" fill="#a51210" stroke="#3d0b0a" stroke-width="1.6"/>
<defs>
<filter id="blur2" x="-20%" y="-20%" width="140%" height="140%"><feGaussianBlur stdDeviation="2"/></filter>
<filter id="blur6" x="-50%" y="-50%" width="200%" height="200%"><feGaussianBlur stdDeviation="7"/></filter>
<radialGradient id="glowgrad"><stop offset="0" stop-color="#ff2a7a"/><stop offset="0.3" stop-color="#f0208a" stop-opacity="0.95"/><stop offset="0.55" stop-color="#b020c0" stop-opacity="0.55"/><stop offset="1" stop-color="#5010c0" stop-opacity="0"/></radialGradient>
<linearGradient id="brainfillK" gradientUnits="userSpaceOnUse" x1="420" y1="1180" x2="440" y2="1495"><stop offset="0" stop-color="#1d0892"/><stop offset="0.45" stop-color="#1a0682"/><stop offset="0.75" stop-color="#150568"/><stop offset="1" stop-color="#0f044c"/></linearGradient>
<linearGradient id="brainfillN" gradientUnits="userSpaceOnUse" x1="1080" y1="1185" x2="1040" y2="1495"><stop offset="0" stop-color="#190878"/><stop offset="0.45" stop-color="#160668"/><stop offset="0.75" stop-color="#110552"/><stop offset="1" stop-color="#0b033a"/></linearGradient>
<g id="hemi" fill="none" stroke-linecap="round"><path d="M318.1,1209.8C317.3,1208.1 315.6,1202.7 313.0,1199.5C310.4,1196.4 306.7,1193.2 302.7,1190.9C298.7,1188.6 294.1,1187.1 288.9,1185.8C283.8,1184.5 277.5,1183.7 271.8,1183.2C266.0,1182.7 260.9,1182.6 254.6,1182.8C248.3,1183.1 241.1,1183.7 234.0,1184.9C226.8,1186.1 219.1,1187.6 211.6,1190.1C204.2,1192.5 196.5,1195.6 189.3,1199.5C182.2,1203.4 175.3,1208.1 168.7,1213.2C162.1,1218.4 155.8,1223.8 149.8,1230.4C143.8,1237.0 137.5,1245.0 132.6,1252.8C127.8,1260.5 123.6,1268.8 120.6,1276.8C117.6,1284.8 115.9,1292.8 114.6,1300.8C113.3,1308.9 112.6,1316.9 112.9,1324.9C113.2,1332.9 114.5,1341.5 116.3,1348.9C118.2,1356.4 120.8,1363.0 124.0,1369.5C127.3,1376.1 132.3,1383.0 136.1,1388.4C139.8,1393.9 143.7,1397.9 146.4,1402.2C149.1,1406.5 150.4,1410.8 152.4,1414.2C154.4,1417.6 155.1,1419.6 158.4,1422.8C161.7,1425.9 167.0,1429.7 172.1,1433.1C177.3,1436.5 183.6,1440.3 189.3,1443.4C195.0,1446.6 200.8,1449.4 206.5,1452.0C212.2,1454.6 217.9,1457.1 223.7,1458.9C229.4,1460.6 235.1,1461.5 240.8,1462.3C246.6,1463.1 252.9,1463.5 258.0,1463.7C263.2,1463.8 268.6,1463.8 271.8,1463.2C274.9,1462.5 275.6,1461.2 276.9,1459.7C278.2,1458.3 277.8,1456.1 279.5,1454.6C281.2,1453.0 284.2,1451.9 287.2,1450.3C290.2,1448.7 294.1,1447.1 297.5,1445.1C301.0,1443.1 304.8,1440.8 307.8,1438.3C310.8,1435.7 313.8,1432.2 315.6,1429.7C317.3,1427.1 317.7,1423.9 318.1,1422.8" stroke="#222" stroke-width="1.7"/><path d="M319.0,1296.0C316.8,1295.7 310.0,1295.5 306.1,1294.0C302.3,1292.5 299.0,1290.0 295.8,1287.1C292.7,1284.2 289.5,1280.5 287.2,1276.8C284.9,1273.1 283.5,1268.2 282.1,1264.8C280.6,1261.4 280.4,1258.4 278.6,1256.5C276.9,1254.7 274.6,1253.9 271.8,1253.6C268.9,1253.4 265.5,1254.0 261.5,1255.0C257.4,1256.0 252.9,1257.7 247.7,1259.6C242.6,1261.5 236.3,1263.5 230.5,1266.5C224.8,1269.5 218.5,1273.5 213.4,1277.7C208.2,1281.8 203.6,1286.2 199.6,1291.4C195.6,1296.6 191.7,1302.8 189.3,1308.6C186.9,1314.3 185.4,1320.2 185.0,1325.8C184.7,1331.3 186.0,1336.8 187.3,1342.1C188.5,1347.4 190.8,1352.7 192.8,1357.5C194.7,1362.4 196.9,1366.7 198.8,1371.3C200.6,1375.8 202.2,1380.4 203.9,1385.0C205.6,1389.6 207.1,1394.5 209.1,1398.7C211.1,1403.0 213.7,1407.6 215.9,1410.8C218.1,1413.9 221.2,1416.5 222.3,1417.6" stroke="#222" stroke-width="1.3"/><path d="M319.0,1324.0C316.8,1322.9 310.3,1320.2 306.1,1317.2C302.0,1314.2 297.5,1310.1 294.1,1306.0C290.7,1301.8 287.9,1296.8 285.5,1292.3C283.1,1287.7 281.2,1282.8 279.5,1278.5C277.8,1274.2 276.8,1269.6 275.2,1266.5C273.6,1263.3 272.3,1260.9 270.0,1259.6C267.8,1258.3 264.9,1258.5 261.5,1258.8C258.0,1259.0 251.4,1260.9 249.4,1261.3" stroke="#222" stroke-width="1.3"/><path d="M279.5,1298.3C278.2,1296.6 274.8,1291.0 271.8,1288.0C268.8,1285.0 265.5,1282.1 261.5,1280.2C257.4,1278.4 252.3,1277.1 247.7,1276.8C243.1,1276.5 238.6,1277.0 234.0,1278.2C229.4,1279.3 224.5,1281.0 220.2,1283.7C215.9,1286.3 211.8,1290.0 208.2,1294.0C204.6,1298.0 201.2,1302.8 198.8,1307.7C196.3,1312.6 194.6,1318.0 193.6,1323.2C192.6,1328.3 192.4,1333.5 192.8,1338.6C193.1,1343.8 194.5,1348.9 195.8,1354.1C197.2,1359.2 199.3,1364.4 201.0,1369.5C202.7,1374.7 204.4,1380.1 206.1,1385.0C207.9,1389.9 209.6,1394.5 211.6,1398.7C213.7,1403.0 216.7,1407.6 218.5,1410.8C220.4,1413.9 222.1,1416.5 222.8,1417.6" stroke="#222" stroke-width="1.3"/><path d="M206.1,1385.0C207.1,1387.3 209.6,1394.5 211.6,1398.7C213.7,1403.0 216.7,1407.6 218.5,1410.8C220.4,1413.9 222.1,1416.5 222.8,1417.6" stroke="#222" stroke-width="2.4"/><path d="M278.6,1299.1C279.3,1298.1 285.2,1304.2 287.2,1306.0C289.2,1307.8 294.5,1312.6 295.8,1314.6C297.1,1316.6 298.6,1321.0 298.4,1323.2C298.2,1325.4 295.1,1331.1 294.1,1333.5C293.1,1335.9 290.5,1341.4 289.8,1343.8C289.1,1346.2 288.3,1351.9 288.1,1354.1C287.9,1356.3 288.4,1360.7 288.1,1362.7C287.8,1364.7 286.1,1369.7 285.5,1371.3C284.9,1372.9 283.0,1377.4 282.9,1376.4C282.8,1375.4 284.4,1365.9 284.6,1362.7C284.8,1359.5 284.8,1352.5 284.6,1348.9C284.4,1345.3 283.3,1335.8 282.9,1331.8C282.5,1327.8 281.7,1318.4 281.2,1314.6C280.7,1310.8 277.9,1300.1 278.6,1299.1Z" fill="#0a0a0a" stroke="#0a0a0a" stroke-width="0.8"/><ellipse cx="261.8" cy="1401.3" rx="5.6" ry="8" transform="rotate(28 261.8 1401.3)" stroke="#333" stroke-width="1.2"/><path d="M209.1,1193.5C212.8,1205.1 227.7,1251.5 231.4,1263.1" stroke="#5a5a66" stroke-width="0.8" stroke-dasharray="1.6,1.3"/><path d="M253.7,1184.0C254.4,1195.6 257.3,1242.0 258.0,1253.6" stroke="#5a5a66" stroke-width="0.8" stroke-dasharray="1.6,1.3"/><path d="M306.1,1201.2C300.7,1209.8 278.9,1244.2 273.5,1252.8" stroke="#5a5a66" stroke-width="0.8" stroke-dasharray="1.6,1.3"/><path d="M318.1,1244.2C311.8,1245.9 286.6,1252.8 280.4,1254.5" stroke="#5a5a66" stroke-width="0.8" stroke-dasharray="1.6,1.3"/><path d="M155.0,1227.8C163.6,1236.6 197.9,1271.5 206.5,1280.2" stroke="#5a5a66" stroke-width="0.8" stroke-dasharray="1.6,1.3"/><path d="M145.5,1237.3C154.1,1246.2 188.5,1281.7 197.0,1290.5" stroke="#5a5a66" stroke-width="0.8" stroke-dasharray="1.6,1.3"/><path d="M124.0,1264.8C134.8,1271.1 177.7,1296.3 188.5,1302.6" stroke="#5a5a66" stroke-width="0.8" stroke-dasharray="1.6,1.3"/><path d="M121.5,1276.8C132.2,1282.1 175.1,1303.3 185.9,1308.6" stroke="#5a5a66" stroke-width="0.8" stroke-dasharray="1.6,1.3"/><path d="M128.3,1361.0C132.2,1359.8 141.9,1357.5 151.5,1354.1C161.1,1350.7 180.2,1342.6 185.9,1340.4" stroke="#5a5a66" stroke-width="0.8" stroke-dasharray="1.6,1.3"/><path d="M135.2,1378.1C140.2,1376.4 156.7,1371.8 165.3,1367.8C173.9,1363.8 183.2,1356.4 186.7,1354.1" stroke="#5a5a66" stroke-width="0.8" stroke-dasharray="1.6,1.3"/><path d="M142.9,1390.2C147.8,1387.9 163.6,1381.4 172.1,1376.4C180.7,1371.4 190.5,1362.8 194.1,1360.1" stroke="#5a5a66" stroke-width="0.8" stroke-dasharray="1.6,1.3"/><path d="M149.8,1399.6C153.8,1398.0 165.8,1394.3 173.9,1390.2C181.9,1386.0 193.9,1377.3 197.9,1374.7" stroke="#5a5a66" stroke-width="0.8" stroke-dasharray="1.6,1.3"/><path d="M156.7,1407.3C160.1,1407.1 171.6,1407.1 177.3,1405.6C183.0,1404.2 187.9,1401.6 191.0,1398.7C194.2,1395.9 195.3,1390.2 196.2,1388.4" stroke="#5a5a66" stroke-width="0.8" stroke-dasharray="1.6,1.3"/><path d="M296.7,1285.4C300.2,1285.2 314.6,1284.7 318.1,1284.5" stroke="#5a5a66" stroke-width="0.8" stroke-dasharray="1.6,1.3"/><path d="M282.1,1368.7C279.2,1370.4 270.6,1375.4 264.9,1379.0C259.2,1382.6 251.9,1386.0 247.7,1390.2C243.6,1394.3 240.3,1399.6 240.0,1403.9C239.7,1408.2 242.7,1413.3 246.0,1415.9C249.3,1418.5 255.2,1419.6 259.7,1419.4C264.3,1419.1 269.8,1417.4 273.5,1414.2C277.2,1411.1 280.2,1405.6 282.1,1400.5C283.9,1395.3 284.2,1386.2 284.6,1383.3" stroke="#5a5a66" stroke-width="0.8" stroke-dasharray="1.6,1.3"/><path d="M257.2,1419.4C257.2,1423.4 257.2,1439.4 257.2,1443.4" stroke="#5a5a66" stroke-width="0.8" stroke-dasharray="1.6,1.3"/><path d="M223.7,1417.6C226.0,1416.5 232.8,1414.2 237.4,1410.8C242.0,1407.3 248.9,1399.3 251.2,1397.0" stroke="#5a5a66" stroke-width="0.8" stroke-dasharray="1.6,1.3"/><path d="M163.6,1409.1C165.0,1411.3 167.8,1419.6 172.1,1422.8C176.4,1425.9 185.0,1427.9 189.3,1427.9C193.6,1427.9 195.6,1422.2 197.9,1422.8C200.2,1423.4 201.1,1428.2 203.1,1431.4C205.1,1434.5 206.5,1439.7 209.9,1441.7C213.4,1443.7 220.2,1442.0 223.7,1443.4C227.1,1444.8 226.8,1449.4 230.5,1450.3C234.3,1451.1 242.0,1448.3 246.0,1448.6C250.0,1448.8 250.9,1451.7 254.6,1452.0C258.3,1452.3 264.6,1450.0 268.3,1450.3C272.0,1450.6 275.5,1453.1 276.9,1453.7" stroke="#5a5a66" stroke-width="0.8" stroke-dasharray="1.6,1.3"/><path d="M167.0,1407.3C168.4,1409.2 171.9,1415.9 175.6,1418.5C179.3,1421.1 185.3,1422.9 189.3,1422.8C193.3,1422.7 196.6,1416.8 199.6,1417.6C202.6,1418.5 205.1,1424.8 207.4,1427.9C209.6,1431.1 210.4,1434.8 213.4,1436.5C216.4,1438.3 222.0,1436.8 225.4,1438.3C228.8,1439.7 230.5,1444.3 234.0,1445.1C237.4,1446.0 242.3,1443.1 246.0,1443.4C249.7,1443.7 252.6,1446.7 256.3,1446.8C260.0,1447.0 264.6,1444.0 268.3,1444.3C272.0,1444.6 276.9,1447.8 278.6,1448.6" stroke="#5a5a66" stroke-width="0.8" stroke-dasharray="1.6,1.3"/><path d="M177.3,1433.1C179.3,1433.4 185.6,1432.8 189.3,1434.8C193.0,1436.8 195.9,1442.5 199.6,1445.1C203.3,1447.7 207.1,1449.1 211.6,1450.3C216.2,1451.4 222.8,1450.9 227.1,1452.0C231.4,1453.1 232.8,1456.1 237.4,1457.1C242.0,1458.2 249.1,1457.7 254.6,1458.0C260.0,1458.3 267.5,1458.7 270.0,1458.9" stroke="#5a5a66" stroke-width="0.8" stroke-dasharray="1.6,1.3"/><path d="M299.2,1338.6C298.4,1340.9 294.4,1347.2 294.1,1352.4C293.8,1357.5 295.8,1363.5 297.5,1369.5C299.2,1375.6 302.1,1381.9 304.4,1388.4C306.7,1395.0 309.4,1403.3 311.3,1409.1C313.1,1414.8 314.8,1420.5 315.6,1422.8" stroke="#5a5a66" stroke-width="0.8" stroke-dasharray="1.6,1.3"/><path d="M309.5,1331.8C309.4,1334.3 307.8,1342.4 308.7,1347.2C309.5,1352.1 313.1,1358.4 314.7,1361.0C316.3,1363.5 317.6,1362.4 318.1,1362.7" stroke="#5a5a66" stroke-width="0.8" stroke-dasharray="1.6,1.3"/><path d="M290.7,1366.1C292.1,1369.0 296.7,1377.0 299.2,1383.3C301.8,1389.6 304.4,1397.6 306.1,1403.9C307.8,1410.2 310.1,1415.9 309.5,1421.1C309.0,1426.2 305.5,1431.4 302.7,1434.8C299.8,1438.3 294.1,1440.5 292.4,1441.7" stroke="#5a5a66" stroke-width="0.8" stroke-dasharray="1.6,1.3"/><path d="M220.2,1417.6C219.1,1419.4 215.7,1423.9 213.4,1427.9C211.1,1432.0 207.6,1439.4 206.5,1441.7" stroke="#5a5a66" stroke-width="0.8" stroke-dasharray="1.6,1.3"/><path d="M227.1,1419.4C227.7,1421.4 228.8,1427.7 230.5,1431.4C232.3,1435.1 236.3,1440.0 237.4,1441.7" stroke="#5a5a66" stroke-width="0.8" stroke-dasharray="1.6,1.3"/><path d="M191.0,1400.5C191.9,1398.7 194.2,1392.2 196.2,1390.2C198.2,1388.2 201.9,1388.7 203.1,1388.4" stroke="#5a5a66" stroke-width="0.8" stroke-dasharray="1.6,1.3"/><path d="M189.3,1402.2C190.5,1403.9 192.8,1410.8 196.2,1412.5C199.6,1414.2 206.5,1411.6 209.9,1412.5C213.4,1413.3 215.7,1416.8 216.8,1417.6" stroke="#5a5a66" stroke-width="0.8" stroke-dasharray="1.6,1.3"/><path d="M237.4,1441.7C240.3,1441.1 248.9,1439.7 254.6,1438.3C260.3,1436.8 266.0,1435.4 271.8,1433.1C277.5,1430.8 283.8,1427.7 288.9,1424.5C294.1,1421.4 299.0,1417.6 302.7,1414.2C306.4,1410.8 309.8,1405.6 311.3,1403.9" stroke="#5a5a66" stroke-width="0.8" stroke-dasharray="1.6,1.3"/></g>
</defs>
<text x="111.0" y="1134.7" font-size="38" text-anchor="start" font-weight="bold" fill="#111" stroke="#111" stroke-width="0.45">k</text>
<text x="196.0" y="1143.5" font-size="30.85" text-anchor="start" font-weight="normal" fill="#1c1c1c" stroke="#1c1c1c" stroke-width="0.45">cocaine pa-dRac1</text>
<text x="733.5" y="1133.0" font-size="37" text-anchor="start" font-weight="bold" fill="#111" stroke="#111" stroke-width="0.45">n</text>
<text x="771.0" y="1144.5" font-size="30.85" text-anchor="start" font-weight="normal" fill="#1c1c1c" stroke="#1c1c1c" stroke-width="0.45">cocaine pa-dnRac1 re-exp</text>
<use href="#hemi"/>
<g transform="translate(621.9,0.4) scale(1.006,1)"><use href="#hemi"/></g>
<clipPath id="clipK"><rect x="318.2" y="1167.0" width="214.4" height="342.8"/></clipPath>
<rect x="318.2" y="1167.0" width="214.4" height="342.8" fill="#040222"/>
<g clip-path="url(#clipK)">
<path d="M317.0,1208.8C318.5,1206.6 322.6,1199.1 325.8,1195.6C329.0,1192.1 331.6,1189.8 336.3,1187.7C341.0,1185.7 346.6,1183.9 353.9,1183.3C361.2,1182.8 371.4,1183.5 380.2,1184.2C389.0,1185.0 397.8,1186.1 406.5,1187.7C415.3,1189.3 424.1,1190.5 432.9,1193.9C441.6,1197.2 451.0,1202.7 459.2,1207.9C467.4,1213.2 475.3,1219.3 482.0,1225.5C488.7,1231.6 494.3,1237.5 499.5,1244.8C504.8,1252.1 509.8,1260.9 513.6,1269.3C517.4,1277.8 520.5,1286.3 522.4,1295.7C524.3,1305.0 525.3,1316.1 525.0,1325.5C524.7,1334.9 522.8,1343.6 520.6,1351.8C518.4,1360.0 515.3,1368.2 511.8,1374.6C508.3,1381.1 503.1,1386.0 499.5,1390.4C496.0,1394.8 494.3,1398.3 490.8,1401.0C487.3,1403.6 481.8,1404.5 478.5,1406.2C475.1,1408.0 471.6,1409.2 470.6,1411.5C469.6,1413.8 473.4,1417.3 472.3,1420.3C471.3,1423.2 467.5,1426.1 464.4,1429.0C461.4,1432.0 457.4,1435.5 453.9,1437.8C450.4,1440.2 446.9,1441.6 443.4,1443.1C439.9,1444.5 435.2,1445.1 432.9,1446.6C430.5,1448.1 431.1,1450.7 429.3,1451.9C427.6,1453.0 424.7,1452.4 422.3,1453.6C420.0,1454.8 418.2,1456.5 415.3,1458.9C412.4,1461.2 408.6,1465.6 404.8,1467.7C401.0,1469.7 396.6,1470.7 392.5,1471.2C388.4,1471.6 384.3,1470.9 380.2,1470.3C376.1,1469.7 371.7,1469.0 367.9,1467.7C364.1,1466.3 360.6,1465.0 357.4,1462.4C354.2,1459.8 350.8,1455.7 348.6,1451.9C346.4,1448.1 345.4,1443.4 344.2,1439.6C343.1,1435.8 343.2,1432.0 341.6,1429.0C340.0,1426.1 336.9,1425.2 334.6,1422.0C332.2,1418.8 329.5,1413.5 327.6,1409.7C325.6,1405.9 324.9,1401.7 323.2,1399.2C321.4,1396.7 318.0,1395.6 317.0,1394.8L313.2,1394.8L313.2,1208.8Z" fill="url(#brainfillK)"/>
<rect x="347.4" y="1186.9" width="7.5" height="159.7" fill="#04021c" opacity="0.95" filter="url(#blur2)"/>
<rect x="363.2" y="1187.7" width="10.4" height="71.1" fill="#07043a" opacity="0.8" filter="url(#blur2)"/>
<circle cx="357.0" cy="1389.6" r="19.9" fill="url(#glowgrad)"/>
<path d="M317.0,1208.8C318.5,1206.6 322.6,1199.1 325.8,1195.6C329.0,1192.1 331.6,1189.8 336.3,1187.7C341.0,1185.7 346.6,1183.9 353.9,1183.3C361.2,1182.8 371.4,1183.5 380.2,1184.2C389.0,1185.0 397.8,1186.1 406.5,1187.7C415.3,1189.3 424.1,1190.5 432.9,1193.9C441.6,1197.2 451.0,1202.7 459.2,1207.9C467.4,1213.2 475.3,1219.3 482.0,1225.5C488.7,1231.6 494.3,1237.5 499.5,1244.8C504.8,1252.1 509.8,1260.9 513.6,1269.3C517.4,1277.8 520.5,1286.3 522.4,1295.7C524.3,1305.0 525.3,1316.1 525.0,1325.5C524.7,1334.9 522.8,1343.6 520.6,1351.8C518.4,1360.0 515.3,1368.2 511.8,1374.6C508.3,1381.1 503.1,1386.0 499.5,1390.4C496.0,1394.8 494.3,1398.3 490.8,1401.0C487.3,1403.6 481.8,1404.5 478.5,1406.2C475.1,1408.0 471.6,1409.2 470.6,1411.5C469.6,1413.8 473.4,1417.3 472.3,1420.3C471.3,1423.2 467.5,1426.1 464.4,1429.0C461.4,1432.0 457.4,1435.5 453.9,1437.8C450.4,1440.2 446.9,1441.6 443.4,1443.1C439.9,1444.5 435.2,1445.1 432.9,1446.6C430.5,1448.1 431.1,1450.7 429.3,1451.9C427.6,1453.0 424.7,1452.4 422.3,1453.6C420.0,1454.8 418.2,1456.5 415.3,1458.9C412.4,1461.2 408.6,1465.6 404.8,1467.7C401.0,1469.7 396.6,1470.7 392.5,1471.2C388.4,1471.6 384.3,1470.9 380.2,1470.3C376.1,1469.7 371.7,1469.0 367.9,1467.7C364.1,1466.3 360.6,1465.0 357.4,1462.4C354.2,1459.8 350.8,1455.7 348.6,1451.9C346.4,1448.1 345.4,1443.4 344.2,1439.6C343.1,1435.8 343.2,1432.0 341.6,1429.0C340.0,1426.1 336.9,1425.2 334.6,1422.0C332.2,1418.8 329.5,1413.5 327.6,1409.7C325.6,1405.9 324.9,1401.7 323.2,1399.2C321.4,1396.7 318.0,1395.6 317.0,1394.8" fill="none" stroke="#f0e6ff" stroke-width="2.1"/>
<path d="M317.0,1298.3C320.2,1297.6 330.8,1297.0 336.3,1293.9C341.9,1290.8 346.0,1284.6 350.4,1279.9C354.8,1275.2 357.7,1269.8 362.7,1265.8C367.6,1261.9 373.8,1258.1 380.2,1256.2C386.6,1254.3 394.2,1254.0 401.3,1254.4C408.3,1254.9 415.6,1255.7 422.3,1258.8C429.0,1261.9 436.1,1267.6 441.6,1272.9C447.2,1278.1 452.4,1285.1 455.7,1290.4C458.9,1295.7 460.3,1299.8 460.9,1304.4C461.5,1309.1 460.6,1313.8 459.2,1318.5C457.7,1323.2 455.1,1328.1 452.2,1332.5C449.2,1336.9 444.8,1340.7 441.6,1344.8C438.4,1348.9 435.3,1353.0 432.9,1357.1C430.4,1361.2 428.0,1366.2 426.7,1369.4C425.4,1372.6 425.2,1375.2 425.0,1376.4L425.0,1376.4C425.1,1373.8 425.1,1365.3 425.8,1360.6C426.6,1355.9 427.9,1352.4 429.3,1348.3C430.8,1344.2 432.6,1340.1 434.6,1336.0C436.7,1331.9 439.7,1327.8 441.6,1323.7C443.5,1319.7 445.4,1315.3 446.0,1311.5C446.6,1307.7 446.5,1304.4 445.1,1300.9C443.8,1297.4 441.6,1293.8 438.1,1290.4C434.6,1287.0 429.0,1283.1 424.1,1280.7C419.1,1278.4 413.3,1276.8 408.3,1276.4C403.3,1275.9 398.9,1276.7 394.2,1278.1C389.6,1279.6 384.3,1281.9 380.2,1285.1C376.1,1288.4 372.9,1293.0 369.7,1297.4C366.5,1301.8 364.1,1307.4 360.9,1311.5C357.7,1315.5 355.0,1319.7 350.4,1321.6C345.7,1323.5 338.4,1322.2 332.8,1322.9C327.3,1323.5 319.7,1325.1 317.0,1325.5Z" fill="#0c0338" opacity="0.5"/>
<path d="M317.0,1298.3C320.2,1297.6 330.8,1297.0 336.3,1293.9C341.9,1290.8 346.0,1284.6 350.4,1279.9C354.8,1275.2 357.7,1269.8 362.7,1265.8C367.6,1261.9 373.8,1258.1 380.2,1256.2C386.6,1254.3 394.2,1254.0 401.3,1254.4C408.3,1254.9 415.6,1255.7 422.3,1258.8C429.0,1261.9 436.1,1267.6 441.6,1272.9C447.2,1278.1 452.4,1285.1 455.7,1290.4C458.9,1295.7 460.3,1299.8 460.9,1304.4C461.5,1309.1 460.6,1313.8 459.2,1318.5C457.7,1323.2 455.1,1328.1 452.2,1332.5C449.2,1336.9 444.8,1340.7 441.6,1344.8C438.4,1348.9 435.3,1353.0 432.9,1357.1C430.4,1361.2 428.0,1366.2 426.7,1369.4C425.4,1372.6 425.2,1375.2 425.0,1376.4" fill="none" stroke="#cfc4f4" stroke-width="1.0"/>
<path d="M317.0,1325.5C319.7,1325.1 327.3,1323.5 332.8,1322.9C338.4,1322.2 345.7,1323.5 350.4,1321.6C355.0,1319.7 357.7,1315.5 360.9,1311.5C364.1,1307.4 366.5,1301.8 369.7,1297.4C372.9,1293.0 376.1,1288.4 380.2,1285.1C384.3,1281.9 389.6,1279.6 394.2,1278.1C398.9,1276.7 403.3,1275.9 408.3,1276.4C413.3,1276.8 419.1,1278.4 424.1,1280.7C429.0,1283.1 434.6,1287.0 438.1,1290.4C441.6,1293.8 443.8,1297.4 445.1,1300.9C446.5,1304.4 446.6,1307.7 446.0,1311.5C445.4,1315.3 443.5,1319.7 441.6,1323.7C439.7,1327.8 436.7,1331.9 434.6,1336.0C432.6,1340.1 430.8,1344.2 429.3,1348.3C427.9,1352.4 426.6,1355.9 425.8,1360.6C425.1,1365.3 425.1,1373.8 425.0,1376.4" fill="none" stroke="#cfc4f4" stroke-width="1.0"/>
<path d="M367.9,1351.8C365.0,1354.2 355.3,1360.6 350.4,1365.9C345.4,1371.1 340.4,1377.6 338.1,1383.4C335.7,1389.3 335.6,1395.1 336.3,1401.0C337.1,1406.8 339.5,1413.3 342.5,1418.5C345.4,1423.8 349.6,1428.8 353.9,1432.6C358.1,1436.4 363.5,1439.0 367.9,1441.3C372.3,1443.7 376.8,1445.4 380.2,1446.6C383.6,1447.8 386.8,1448.1 388.1,1448.4" fill="none" stroke="#cfc4f0" stroke-width="0.8" stroke-dasharray="2.2,1.6"/>
<path d="M367.9,1351.8C369.6,1350.4 373.5,1357.4 376.7,1360.6C379.9,1363.8 383.1,1367.9 387.2,1371.1C391.3,1374.3 396.9,1376.7 401.3,1379.9C405.6,1383.1 410.5,1386.6 413.5,1390.4C416.6,1394.2 419.0,1398.6 419.7,1402.7C420.4,1406.8 419.5,1411.8 417.9,1415.0C416.3,1418.2 413.4,1420.6 410.0,1422.0C406.7,1423.5 402.1,1424.1 397.8,1423.8C393.4,1423.5 387.8,1422.3 383.7,1420.3C379.6,1418.2 375.8,1415.0 373.2,1411.5C370.5,1408.0 369.1,1403.6 367.9,1399.2C366.7,1394.8 366.4,1390.1 366.2,1385.2C365.9,1380.2 366.2,1374.9 366.5,1369.4C366.8,1363.8 366.2,1353.3 367.9,1351.8Z" fill="none" stroke="#cfc4f0" stroke-width="0.8" stroke-dasharray="2.2,1.6"/>
<ellipse cx="389.9" cy="1398.9" rx="7.8" ry="11.5" transform="rotate(-15 389.9 1398.9)" fill="#0c0640" stroke="#e6dcff" stroke-width="1"/>
<polygon points="354.8,1177.2 363.2,1177.2 363.2,1370.8 354.8,1370.8" fill="#9a9a9a" stroke="#d8d8e8" stroke-width="0.7" stroke-dasharray="1.5,1"/>
<rect x="460.9" y="1453.6" width="71.7" height="56.2" fill="#000" opacity="0.7" filter="url(#blur2)"/>
</g>
<text x="397.8" y="1230.7" font-size="19" text-anchor="start" font-weight="normal" fill="#eadcff" stroke="#eadcff" stroke-width="0.3">optic fiber</text>
<line x1="391.6" y1="1229.9" x2="368.8" y2="1250.9" stroke="#f0e6ff" stroke-width="1.8"/>
<polygon points="368.8,1250.9 373.1,1242.3 377.7,1247.3" fill="#f0e6ff"/>
<line x1="475.8" y1="1482.9" x2="513.6" y2="1482.9" stroke="#f4f0ff" stroke-width="2.4"/>
<text x="470.9" y="1503.5" font-size="21.5" text-anchor="start" font-weight="normal" fill="#f4f0ff" stroke="#f4f0ff" stroke-width="0.3">1mm</text>
<clipPath id="clipN"><rect x="942.0" y="1161.4" width="214.5" height="348.4"/></clipPath>
<rect x="942.0" y="1161.4" width="214.5" height="348.4" fill="#040222"/>
<g clip-path="url(#clipN)">
<path d="M941.1,1218.4C942.8,1217.0 947.1,1212.6 950.8,1209.7C954.5,1206.7 958.4,1204.0 963.1,1200.9C967.8,1197.8 973.3,1193.6 978.9,1191.2C984.4,1188.9 990.6,1187.7 996.4,1186.9C1002.3,1186.0 1007.8,1185.8 1014.0,1186.0C1020.1,1186.1 1026.0,1186.4 1033.3,1187.7C1040.6,1189.0 1050.0,1191.1 1057.9,1193.9C1065.7,1196.7 1073.4,1200.3 1080.7,1204.4C1088.0,1208.5 1095.3,1213.2 1101.7,1218.4C1108.2,1223.7 1114.0,1229.3 1119.3,1236.0C1124.5,1242.7 1129.5,1250.6 1133.3,1258.8C1137.1,1267.0 1140.0,1276.4 1142.1,1285.1C1144.1,1293.9 1145.2,1302.4 1145.6,1311.5C1146.0,1320.5 1145.9,1330.5 1144.7,1339.5C1143.6,1348.6 1141.4,1358.0 1138.6,1365.9C1135.8,1373.8 1131.9,1381.1 1128.1,1386.9C1124.2,1392.8 1119.9,1397.2 1115.8,1401.0C1111.7,1404.8 1107.1,1407.4 1103.5,1409.7C1099.8,1412.1 1095.7,1413.3 1093.8,1415.0C1091.9,1416.8 1092.8,1418.2 1092.1,1420.3C1091.3,1422.3 1091.6,1424.4 1089.4,1427.3C1087.2,1430.2 1082.7,1434.6 1078.9,1437.8C1075.1,1441.0 1070.1,1444.3 1066.6,1446.6C1063.1,1448.9 1060.5,1450.1 1057.9,1451.9C1055.2,1453.6 1053.2,1455.1 1050.8,1457.1C1048.5,1459.2 1046.7,1461.5 1043.8,1464.1C1040.9,1466.8 1037.1,1470.6 1033.3,1472.9C1029.5,1475.3 1025.4,1477.0 1021.0,1478.2C1016.6,1479.4 1011.6,1479.9 1007.0,1479.9C1002.3,1479.9 997.3,1479.4 992.9,1478.2C988.5,1477.0 984.4,1475.3 980.6,1472.9C976.8,1470.6 973.0,1467.7 970.1,1464.1C967.2,1460.6 964.8,1456.0 963.1,1451.9C961.3,1447.8 961.0,1443.4 959.6,1439.6C958.1,1435.8 955.9,1432.0 954.3,1429.0C952.7,1426.1 950.8,1424.4 949.9,1422.0C949.0,1419.7 949.8,1417.1 949.0,1415.0C948.3,1413.0 946.8,1411.0 945.5,1409.7C944.2,1408.5 941.9,1408.0 941.1,1407.6L937.0,1407.6L937.0,1218.4Z" fill="url(#brainfillN)"/>
<ellipse cx="949.0" cy="1293.9" rx="11" ry="45" fill="#a0107a" opacity="0.36" filter="url(#blur6)"/>
<ellipse cx="954.3" cy="1351.8" rx="13" ry="30" fill="#b0107a" opacity="0.34" filter="url(#blur6)"/>
<ellipse cx="987.7" cy="1264.1" rx="8" ry="18" fill="#9a1080" opacity="0.25" filter="url(#blur6)"/>
<rect x="968.3" y="1299.2" width="7.9" height="42.1" fill="#04021c" opacity="0.9" filter="url(#blur2)"/>
<rect x="978.0" y="1325.5" width="7.0" height="17.6" fill="#04021c" opacity="0.8" filter="url(#blur2)"/>
<circle cx="981.2" cy="1387.3" r="17.1" fill="url(#glowgrad)"/>
<path d="M941.1,1218.4C942.8,1217.0 947.1,1212.6 950.8,1209.7C954.5,1206.7 958.4,1204.0 963.1,1200.9C967.8,1197.8 973.3,1193.6 978.9,1191.2C984.4,1188.9 990.6,1187.7 996.4,1186.9C1002.3,1186.0 1007.8,1185.8 1014.0,1186.0C1020.1,1186.1 1026.0,1186.4 1033.3,1187.7C1040.6,1189.0 1050.0,1191.1 1057.9,1193.9C1065.7,1196.7 1073.4,1200.3 1080.7,1204.4C1088.0,1208.5 1095.3,1213.2 1101.7,1218.4C1108.2,1223.7 1114.0,1229.3 1119.3,1236.0C1124.5,1242.7 1129.5,1250.6 1133.3,1258.8C1137.1,1267.0 1140.0,1276.4 1142.1,1285.1C1144.1,1293.9 1145.2,1302.4 1145.6,1311.5C1146.0,1320.5 1145.9,1330.5 1144.7,1339.5C1143.6,1348.6 1141.4,1358.0 1138.6,1365.9C1135.8,1373.8 1131.9,1381.1 1128.1,1386.9C1124.2,1392.8 1119.9,1397.2 1115.8,1401.0C1111.7,1404.8 1107.1,1407.4 1103.5,1409.7C1099.8,1412.1 1095.7,1413.3 1093.8,1415.0C1091.9,1416.8 1092.8,1418.2 1092.1,1420.3C1091.3,1422.3 1091.6,1424.4 1089.4,1427.3C1087.2,1430.2 1082.7,1434.6 1078.9,1437.8C1075.1,1441.0 1070.1,1444.3 1066.6,1446.6C1063.1,1448.9 1060.5,1450.1 1057.9,1451.9C1055.2,1453.6 1053.2,1455.1 1050.8,1457.1C1048.5,1459.2 1046.7,1461.5 1043.8,1464.1C1040.9,1466.8 1037.1,1470.6 1033.3,1472.9C1029.5,1475.3 1025.4,1477.0 1021.0,1478.2C1016.6,1479.4 1011.6,1479.9 1007.0,1479.9C1002.3,1479.9 997.3,1479.4 992.9,1478.2C988.5,1477.0 984.4,1475.3 980.6,1472.9C976.8,1470.6 973.0,1467.7 970.1,1464.1C967.2,1460.6 964.8,1456.0 963.1,1451.9C961.3,1447.8 961.0,1443.4 959.6,1439.6C958.1,1435.8 955.9,1432.0 954.3,1429.0C952.7,1426.1 950.8,1424.4 949.9,1422.0C949.0,1419.7 949.8,1417.1 949.0,1415.0C948.3,1413.0 946.8,1411.0 945.5,1409.7C944.2,1408.5 941.9,1408.0 941.1,1407.6" fill="none" stroke="#f0e6ff" stroke-width="2.1"/>
<path d="M941.1,1297.4C943.6,1297.0 951.2,1296.8 956.1,1294.8C960.9,1292.7 965.7,1289.1 970.1,1285.1C974.5,1281.2 978.9,1276.1 982.4,1271.1C985.9,1266.1 988.2,1259.5 991.2,1255.3C994.1,1251.1 996.7,1247.7 999.9,1245.6C1003.2,1243.6 1006.1,1242.6 1010.5,1243.0C1014.9,1243.5 1020.1,1245.6 1026.3,1248.3C1032.4,1250.9 1040.6,1254.4 1047.3,1258.8C1054.0,1263.2 1061.1,1269.0 1066.6,1274.6C1072.2,1280.2 1077.2,1286.3 1080.7,1292.2C1084.2,1298.0 1086.2,1304.1 1087.7,1309.7C1089.1,1315.3 1089.7,1320.5 1089.4,1325.5C1089.1,1330.5 1088.0,1335.2 1085.9,1339.5C1083.9,1343.9 1080.4,1348.3 1077.2,1351.8C1073.9,1355.3 1069.6,1358.0 1066.6,1360.6C1063.7,1363.2 1061.1,1365.9 1059.6,1367.6C1058.1,1369.4 1058.1,1370.5 1057.9,1371.1L1051.7,1381.7C1052.4,1380.2 1054.5,1376.1 1056.1,1372.9C1057.7,1369.7 1059.3,1365.9 1061.4,1362.4C1063.4,1358.8 1066.0,1355.6 1068.4,1351.8C1070.7,1348.0 1073.9,1343.6 1075.4,1339.5C1076.9,1335.4 1077.4,1331.9 1077.2,1327.3C1076.9,1322.6 1075.7,1316.7 1073.6,1311.5C1071.6,1306.2 1068.7,1300.3 1064.9,1295.7C1061.1,1291.0 1055.8,1286.6 1050.8,1283.4C1045.9,1280.2 1040.0,1277.7 1035.0,1276.4C1030.1,1275.0 1025.4,1274.9 1021.0,1275.5C1016.6,1276.1 1012.2,1277.7 1008.7,1279.9C1005.2,1282.1 1002.6,1284.8 999.9,1288.6C997.3,1292.4 995.3,1298.3 992.9,1302.7C990.6,1307.1 988.8,1311.5 985.9,1315.0C983.0,1318.5 980.0,1321.8 975.4,1323.7C970.7,1325.6 963.5,1325.9 957.8,1326.4C952.1,1326.8 943.9,1326.4 941.1,1326.4Z" fill="#0c0338" opacity="0.5"/>
<path d="M941.1,1297.4C943.6,1297.0 951.2,1296.8 956.1,1294.8C960.9,1292.7 965.7,1289.1 970.1,1285.1C974.5,1281.2 978.9,1276.1 982.4,1271.1C985.9,1266.1 988.2,1259.5 991.2,1255.3C994.1,1251.1 996.7,1247.7 999.9,1245.6C1003.2,1243.6 1006.1,1242.6 1010.5,1243.0C1014.9,1243.5 1020.1,1245.6 1026.3,1248.3C1032.4,1250.9 1040.6,1254.4 1047.3,1258.8C1054.0,1263.2 1061.1,1269.0 1066.6,1274.6C1072.2,1280.2 1077.2,1286.3 1080.7,1292.2C1084.2,1298.0 1086.2,1304.1 1087.7,1309.7C1089.1,1315.3 1089.7,1320.5 1089.4,1325.5C1089.1,1330.5 1088.0,1335.2 1085.9,1339.5C1083.9,1343.9 1080.4,1348.3 1077.2,1351.8C1073.9,1355.3 1069.6,1358.0 1066.6,1360.6C1063.7,1363.2 1061.1,1365.9 1059.6,1367.6C1058.1,1369.4 1058.1,1370.5 1057.9,1371.1" fill="none" stroke="#cfc4f4" stroke-width="1.0"/>
<path d="M941.1,1326.4C943.9,1326.4 952.1,1326.8 957.8,1326.4C963.5,1325.9 970.7,1325.6 975.4,1323.7C980.0,1321.8 983.0,1318.5 985.9,1315.0C988.8,1311.5 990.6,1307.1 992.9,1302.7C995.3,1298.3 997.3,1292.4 999.9,1288.6C1002.6,1284.8 1005.2,1282.1 1008.7,1279.9C1012.2,1277.7 1016.6,1276.1 1021.0,1275.5C1025.4,1274.9 1030.1,1275.0 1035.0,1276.4C1040.0,1277.7 1045.9,1280.2 1050.8,1283.4C1055.8,1286.6 1061.1,1291.0 1064.9,1295.7C1068.7,1300.3 1071.6,1306.2 1073.6,1311.5C1075.7,1316.7 1076.9,1322.6 1077.2,1327.3C1077.4,1331.9 1076.9,1335.4 1075.4,1339.5C1073.9,1343.6 1070.7,1348.0 1068.4,1351.8C1066.0,1355.6 1063.4,1358.8 1061.4,1362.4C1059.3,1365.9 1057.7,1369.7 1056.1,1372.9C1054.5,1376.1 1052.4,1380.2 1051.7,1381.7" fill="none" stroke="#cfc4f4" stroke-width="1.0"/>
<path d="M987.7,1368.5C985.6,1369.8 979.2,1373.0 975.4,1376.4C971.6,1379.8 967.0,1383.7 964.8,1388.7C962.6,1393.7 961.8,1400.4 962.2,1406.2C962.6,1412.1 964.7,1418.5 967.5,1423.8C970.2,1429.0 974.6,1433.7 978.9,1437.8C983.1,1441.9 988.2,1445.6 992.9,1448.4C997.6,1451.1 1002.9,1453.2 1007.0,1454.5C1011.1,1455.8 1015.7,1456.0 1017.5,1456.2" fill="none" stroke="#cfc4f0" stroke-width="0.8" stroke-dasharray="2.2,1.6"/>
<path d="M987.7,1368.5C989.6,1365.6 995.5,1373.6 999.9,1376.4C1004.3,1379.2 1009.3,1382.2 1014.0,1385.2C1018.7,1388.1 1023.9,1390.7 1028.0,1393.9C1032.1,1397.2 1036.2,1400.7 1038.5,1404.5C1040.9,1408.3 1042.3,1413.0 1042.1,1416.8C1041.8,1420.6 1039.7,1424.8 1036.8,1427.3C1033.9,1429.8 1028.9,1431.4 1024.5,1431.7C1020.1,1432.0 1014.9,1430.9 1010.5,1429.0C1006.1,1427.1 1001.4,1423.8 998.2,1420.3C995.0,1416.8 992.8,1412.4 991.2,1408.0C989.6,1403.6 989.1,1400.5 988.5,1393.9C987.9,1387.4 985.7,1371.4 987.7,1368.5Z" fill="none" stroke="#cfc4f0" stroke-width="0.8" stroke-dasharray="2.2,1.6"/>
<ellipse cx="1012.2" cy="1410.6" rx="7.8" ry="11" transform="rotate(-15 1012.2 1410.6)" fill="#0c0640" stroke="#e6dcff" stroke-width="1"/>
<polygon points="969.2,1180.7 978.0,1180.7 984.5,1379.0 975.7,1379.0" fill="#9a9a9a" stroke="#d8d8e8" stroke-width="0.7" stroke-dasharray="1.5,1"/>
<rect x="1087.7" y="1458.9" width="68.8" height="50.9" fill="#000" opacity="0.7" filter="url(#blur2)"/>
</g>
<rect x="1153.5" y="1160.0" width="4.0" height="6.5" fill="#fff"/>
<text x="1014.0" y="1232.5" font-size="19" text-anchor="start" font-weight="normal" fill="#eadcff" stroke="#eadcff" stroke-width="0.3">optic fiber</text>
<line x1="1007.8" y1="1232.5" x2="985.0" y2="1254.4" stroke="#f0e6ff" stroke-width="1.8"/>
<polygon points="985.0,1254.4 989.1,1245.7 993.9,1250.6" fill="#f0e6ff"/>
<line x1="1099.4" y1="1482.9" x2="1136.8" y2="1482.9" stroke="#f4f0ff" stroke-width="2.4"/>
<text x="1093.8" y="1503.5" font-size="21.5" text-anchor="start" font-weight="normal" fill="#f4f0ff" stroke="#f4f0ff" stroke-width="0.3">1mm</text>
<defs>
<filter id="blur14" x="-30%" y="-30%" width="160%" height="160%"><feGaussianBlur stdDeviation="14"/></filter>
<filter id="blur1"><feGaussianBlur stdDeviation="1"/></filter>
<filter id="blur07"><feGaussianBlur stdDeviation="1.15"/></filter>
<filter id="blur3" x="-10%" y="-10%" width="120%" height="120%"><feGaussianBlur stdDeviation="3.2"/></filter>
<filter id="mnoise" x="0" y="0" width="100%" height="100%" color-interpolation-filters="sRGB"><feTurbulence type="fractalNoise" baseFrequency="0.11" numOctaves="3" seed="7" result="n"/><feColorMatrix in="n" type="matrix" values="0 0 0 0 0.55  0 0 0 0 0.05  0 0 0 0 0.28  3.0 0 0 0 -1.3"/></filter>
<radialGradient id="cellg"><stop offset="0" stop-color="#ff1c12"/><stop offset="0.75" stop-color="#f81616"/><stop offset="1" stop-color="#d81030"/></radialGradient>
<linearGradient id="mbgL" x1="0" y1="0" x2="0" y2="1"><stop offset="0" stop-color="#2a0a40"/><stop offset="0.5" stop-color="#2a0a38"/><stop offset="1" stop-color="#170622"/></linearGradient>
<linearGradient id="mbgO" x1="0" y1="0" x2="0" y2="1"><stop offset="0" stop-color="#2a0a56"/><stop offset="0.5" stop-color="#280a48"/><stop offset="1" stop-color="#1c0830"/></linearGradient>
</defs>
<text x="109.5" y="1553.7" font-size="36.5" text-anchor="start" font-weight="bold" fill="#111" stroke="#111" stroke-width="0.45">l</text>
<clipPath id="mcL"><rect x="170.4" y="1538.6" width="317.6" height="315.6"/></clipPath>
<rect x="170.4" y="1538.6" width="317.6" height="315.6" fill="url(#mbgL)"/>
<g clip-path="url(#mcL)">
<rect x="170.4" y="1538.6" width="317.6" height="315.6" filter="url(#mnoise)" opacity="0.5"/>
<radialGradient id="bgL0"><stop offset="0" stop-color="#28147c" stop-opacity="0.8"/><stop offset="0.45" stop-color="#28147c" stop-opacity="0.56"/><stop offset="1" stop-color="#28147c" stop-opacity="0"/></radialGradient>
<ellipse cx="320" cy="1614" rx="93" ry="112" fill="url(#bgL0)"/>
<radialGradient id="bgL1"><stop offset="0" stop-color="#7a1034" stop-opacity="0.45"/><stop offset="0.45" stop-color="#7a1034" stop-opacity="0.32"/><stop offset="1" stop-color="#7a1034" stop-opacity="0"/></radialGradient>
<ellipse cx="290" cy="1699" rx="105" ry="75" fill="url(#bgL1)"/>
<radialGradient id="bgL2"><stop offset="0" stop-color="#6a1038" stop-opacity="0.4"/><stop offset="0.45" stop-color="#6a1038" stop-opacity="0.28"/><stop offset="1" stop-color="#6a1038" stop-opacity="0"/></radialGradient>
<ellipse cx="230" cy="1639" rx="68" ry="105" fill="url(#bgL2)"/>
<radialGradient id="bgL3"><stop offset="0" stop-color="#701038" stop-opacity="0.45"/><stop offset="0.45" stop-color="#701038" stop-opacity="0.32"/><stop offset="1" stop-color="#701038" stop-opacity="0"/></radialGradient>
<ellipse cx="410" cy="1659" rx="90" ry="75" fill="url(#bgL3)"/>
<radialGradient id="bgL4"><stop offset="0" stop-color="#80102c" stop-opacity="0.5"/><stop offset="0.45" stop-color="#80102c" stop-opacity="0.35"/><stop offset="1" stop-color="#80102c" stop-opacity="0"/></radialGradient>
<ellipse cx="340" cy="1739" rx="135" ry="90" fill="url(#bgL4)"/>
<radialGradient id="bgL5"><stop offset="0" stop-color="#60102c" stop-opacity="0.4"/><stop offset="0.45" stop-color="#60102c" stop-opacity="0.28"/><stop offset="1" stop-color="#60102c" stop-opacity="0"/></radialGradient>
<ellipse cx="320" cy="1799" rx="90" ry="60" fill="url(#bgL5)"/>
<radialGradient id="bgL6"><stop offset="0" stop-color="#0c0412" stop-opacity="0.8"/><stop offset="0.45" stop-color="#0c0412" stop-opacity="0.56"/><stop offset="1" stop-color="#0c0412" stop-opacity="0"/></radialGradient>
<ellipse cx="190" cy="1829" rx="60" ry="75" fill="url(#bgL6)"/>
<radialGradient id="bgL7"><stop offset="0" stop-color="#0c0412" stop-opacity="0.8"/><stop offset="0.45" stop-color="#0c0412" stop-opacity="0.56"/><stop offset="1" stop-color="#0c0412" stop-opacity="0"/></radialGradient>
<ellipse cx="470" cy="1829" rx="60" ry="75" fill="url(#bgL7)"/>
<radialGradient id="bgL8"><stop offset="0" stop-color="#1a0c50" stop-opacity="0.8"/><stop offset="0.45" stop-color="#1a0c50" stop-opacity="0.56"/><stop offset="1" stop-color="#1a0c50" stop-opacity="0"/></radialGradient>
<ellipse cx="470" cy="1579" rx="45" ry="75" fill="url(#bgL8)"/>
<radialGradient id="bgL9"><stop offset="0" stop-color="#2c0a26" stop-opacity="0.7"/><stop offset="0.45" stop-color="#2c0a26" stop-opacity="0.49"/><stop offset="1" stop-color="#2c0a26" stop-opacity="0"/></radialGradient>
<ellipse cx="465" cy="1729" rx="60" ry="105" fill="url(#bgL9)"/>
<g fill="#c01828" filter="url(#blur1)">
<circle cx="427.8" cy="1641.9" r="2.5" opacity="0.42"/>
<circle cx="248.7" cy="1736.2" r="2.3" opacity="0.34"/>
<circle cx="429.2" cy="1674.0" r="1.9" opacity="0.44"/>
<circle cx="291.0" cy="1674.1" r="2.0" opacity="0.55"/>
<circle cx="366.1" cy="1702.5" r="2.2" opacity="0.31"/>
<circle cx="347.1" cy="1736.4" r="2.3" opacity="0.34"/>
<circle cx="328.6" cy="1689.4" r="2.1" opacity="0.57"/>
<circle cx="294.0" cy="1660.3" r="2.5" opacity="0.30"/>
<circle cx="260.3" cy="1683.6" r="1.3" opacity="0.59"/>
<circle cx="306.2" cy="1661.2" r="1.7" opacity="0.54"/>
<circle cx="225.1" cy="1742.4" r="1.9" opacity="0.57"/>
<circle cx="233.6" cy="1753.0" r="1.4" opacity="0.46"/>
<circle cx="289.9" cy="1788.7" r="2.5" opacity="0.57"/>
<circle cx="242.7" cy="1742.0" r="2.0" opacity="0.60"/>
<circle cx="404.0" cy="1659.6" r="2.4" opacity="0.60"/>
<circle cx="194.2" cy="1609.6" r="2.4" opacity="0.26"/>
<circle cx="229.9" cy="1659.9" r="1.1" opacity="0.47"/>
<circle cx="165.7" cy="1596.1" r="1.9" opacity="0.57"/>
<circle cx="124.6" cy="1645.9" r="1.5" opacity="0.28"/>
<circle cx="297.0" cy="1713.0" r="2.6" opacity="0.35"/>
<circle cx="475.7" cy="1648.8" r="2.4" opacity="0.36"/>
<circle cx="230.4" cy="1618.7" r="1.7" opacity="0.43"/>
<circle cx="319.2" cy="1724.6" r="1.2" opacity="0.59"/>
<circle cx="329.1" cy="1793.6" r="2.2" opacity="0.33"/>
<circle cx="240.3" cy="1653.1" r="1.5" opacity="0.37"/>
<circle cx="254.0" cy="1801.3" r="1.0" opacity="0.47"/>
<circle cx="229.5" cy="1764.4" r="1.5" opacity="0.37"/>
<circle cx="234.3" cy="1659.4" r="1.8" opacity="0.46"/>
<circle cx="199.4" cy="1760.2" r="2.0" opacity="0.35"/>
<circle cx="328.6" cy="1735.4" r="1.5" opacity="0.38"/>
<circle cx="332.5" cy="1749.7" r="1.2" opacity="0.53"/>
<circle cx="220.7" cy="1720.0" r="1.8" opacity="0.48"/>
<circle cx="406.0" cy="1664.3" r="1.7" opacity="0.49"/>
<circle cx="212.9" cy="1586.5" r="2.1" opacity="0.33"/>
<circle cx="352.1" cy="1786.7" r="1.5" opacity="0.48"/>
<circle cx="213.3" cy="1731.3" r="1.2" opacity="0.44"/>
<circle cx="424.0" cy="1647.4" r="1.9" opacity="0.55"/>
<circle cx="218.7" cy="1652.2" r="2.3" opacity="0.37"/>
<circle cx="214.0" cy="1629.4" r="2.4" opacity="0.41"/>
<circle cx="229.4" cy="1755.8" r="1.7" opacity="0.57"/>
<circle cx="376.4" cy="1618.3" r="2.3" opacity="0.47"/>
<circle cx="312.7" cy="1722.6" r="2.5" opacity="0.33"/>
<circle cx="220.5" cy="1775.7" r="2.2" opacity="0.59"/>
<circle cx="394.1" cy="1715.3" r="1.1" opacity="0.46"/>
<circle cx="199.6" cy="1664.6" r="1.1" opacity="0.53"/>
<circle cx="378.8" cy="1691.2" r="2.4" opacity="0.45"/>
<circle cx="188.5" cy="1558.8" r="1.8" opacity="0.33"/>
<circle cx="189.3" cy="1565.1" r="2.5" opacity="0.46"/>
<circle cx="240.8" cy="1704.0" r="1.9" opacity="0.53"/>
<circle cx="243.2" cy="1593.5" r="1.9" opacity="0.54"/>
<circle cx="361.8" cy="1634.7" r="2.4" opacity="0.29"/>
<circle cx="235.9" cy="1546.0" r="1.6" opacity="0.51"/>
<circle cx="431.3" cy="1675.9" r="1.7" opacity="0.42"/>
<circle cx="263.4" cy="1761.6" r="2.2" opacity="0.27"/>
<circle cx="272.2" cy="1600.6" r="2.4" opacity="0.28"/>
<circle cx="318.3" cy="1708.7" r="1.1" opacity="0.39"/>
<circle cx="330.0" cy="1652.3" r="1.3" opacity="0.37"/>
<circle cx="191.8" cy="1614.8" r="2.2" opacity="0.53"/>
<circle cx="230.9" cy="1741.7" r="2.0" opacity="0.52"/>
<circle cx="283.9" cy="1654.1" r="2.4" opacity="0.27"/>
<circle cx="189.4" cy="1748.1" r="1.7" opacity="0.49"/>
<circle cx="225.5" cy="1708.1" r="1.4" opacity="0.46"/>
<circle cx="284.3" cy="1806.9" r="2.4" opacity="0.58"/>
<circle cx="335.9" cy="1663.5" r="2.4" opacity="0.29"/>
<circle cx="291.4" cy="1772.9" r="2.1" opacity="0.56"/>
<circle cx="300.0" cy="1797.3" r="1.5" opacity="0.44"/>
<circle cx="344.8" cy="1793.5" r="1.2" opacity="0.52"/>
<circle cx="160.7" cy="1577.8" r="2.1" opacity="0.38"/>
<circle cx="413.5" cy="1802.1" r="1.2" opacity="0.55"/>
<circle cx="159.7" cy="1760.9" r="1.5" opacity="0.35"/>
<circle cx="224.1" cy="1610.9" r="1.8" opacity="0.50"/>
<circle cx="237.4" cy="1607.2" r="1.9" opacity="0.44"/>
<circle cx="374.4" cy="1812.9" r="1.4" opacity="0.31"/>
<circle cx="409.8" cy="1663.5" r="2.5" opacity="0.34"/>
<circle cx="323.2" cy="1730.6" r="1.7" opacity="0.28"/>
<circle cx="331.0" cy="1744.8" r="2.3" opacity="0.59"/>
<circle cx="200.8" cy="1663.4" r="2.1" opacity="0.43"/>
<circle cx="266.4" cy="1728.9" r="2.4" opacity="0.31"/>
<circle cx="310.0" cy="1678.6" r="1.8" opacity="0.41"/>
<circle cx="361.4" cy="1750.6" r="2.2" opacity="0.30"/>
<circle cx="344.0" cy="1717.5" r="2.1" opacity="0.58"/>
<circle cx="225.2" cy="1620.1" r="2.0" opacity="0.45"/>
<circle cx="415.8" cy="1645.2" r="1.4" opacity="0.53"/>
<circle cx="450.6" cy="1604.5" r="1.5" opacity="0.52"/>
<circle cx="274.0" cy="1624.2" r="2.1" opacity="0.32"/>
<circle cx="261.4" cy="1709.6" r="1.9" opacity="0.42"/>
<circle cx="390.9" cy="1774.4" r="2.3" opacity="0.56"/>
<circle cx="169.7" cy="1583.6" r="1.4" opacity="0.50"/>
<circle cx="194.4" cy="1762.8" r="1.4" opacity="0.56"/>
<circle cx="249.5" cy="1800.4" r="2.1" opacity="0.55"/>
<circle cx="417.5" cy="1642.2" r="1.3" opacity="0.28"/>
<circle cx="305.4" cy="1802.9" r="2.3" opacity="0.35"/>
<circle cx="219.5" cy="1675.2" r="1.5" opacity="0.26"/>
<circle cx="169.0" cy="1680.9" r="1.3" opacity="0.45"/>
<circle cx="277.6" cy="1725.7" r="1.2" opacity="0.35"/>
<circle cx="369.9" cy="1760.7" r="1.8" opacity="0.34"/>
<circle cx="384.0" cy="1706.2" r="2.2" opacity="0.52"/>
<circle cx="227.8" cy="1627.5" r="2.5" opacity="0.54"/>
<circle cx="245.4" cy="1568.8" r="2.1" opacity="0.44"/>
<circle cx="167.8" cy="1596.3" r="1.1" opacity="0.35"/>
<circle cx="383.7" cy="1761.9" r="2.0" opacity="0.47"/>
<circle cx="344.3" cy="1657.9" r="1.7" opacity="0.29"/>
<circle cx="479.6" cy="1726.6" r="2.2" opacity="0.46"/>
<circle cx="467.4" cy="1725.3" r="1.8" opacity="0.52"/>
<circle cx="322.4" cy="1772.9" r="2.2" opacity="0.44"/>
<circle cx="432.8" cy="1764.5" r="1.4" opacity="0.27"/>
<circle cx="236.3" cy="1633.1" r="1.4" opacity="0.52"/>
<circle cx="271.6" cy="1640.3" r="1.7" opacity="0.53"/>
<circle cx="194.9" cy="1615.9" r="1.2" opacity="0.34"/>
<circle cx="212.6" cy="1587.2" r="2.5" opacity="0.29"/>
<circle cx="279.6" cy="1777.0" r="2.2" opacity="0.54"/>
<circle cx="261.5" cy="1784.3" r="2.4" opacity="0.53"/>
<circle cx="379.9" cy="1702.0" r="1.3" opacity="0.34"/>
<circle cx="264.0" cy="1820.3" r="1.7" opacity="0.39"/>
<circle cx="368.0" cy="1811.1" r="1.9" opacity="0.47"/>
<circle cx="364.3" cy="1699.3" r="2.4" opacity="0.42"/>
<circle cx="343.3" cy="1742.8" r="1.2" opacity="0.51"/>
<circle cx="400.6" cy="1651.3" r="1.7" opacity="0.32"/>
<circle cx="376.5" cy="1740.2" r="2.5" opacity="0.58"/>
<circle cx="140.3" cy="1596.5" r="2.4" opacity="0.30"/>
<circle cx="336.2" cy="1811.1" r="1.0" opacity="0.47"/>
<circle cx="345.2" cy="1717.4" r="2.5" opacity="0.36"/>
<circle cx="388.4" cy="1845.1" r="1.1" opacity="0.54"/>
<circle cx="272.8" cy="1778.9" r="2.2" opacity="0.37"/>
<circle cx="347.7" cy="1799.9" r="1.3" opacity="0.49"/>
<circle cx="395.9" cy="1644.8" r="1.1" opacity="0.28"/>
<circle cx="439.1" cy="1575.8" r="1.8" opacity="0.27"/>
<circle cx="353.5" cy="1824.9" r="1.5" opacity="0.41"/>
<circle cx="267.2" cy="1754.9" r="1.7" opacity="0.26"/>
<circle cx="404.8" cy="1649.4" r="1.8" opacity="0.46"/>
<circle cx="431.9" cy="1638.7" r="1.4" opacity="0.38"/>
<circle cx="363.8" cy="1816.7" r="1.3" opacity="0.31"/>
<circle cx="290.1" cy="1683.0" r="1.2" opacity="0.46"/>
<circle cx="378.7" cy="1690.1" r="1.0" opacity="0.41"/>
<circle cx="410.3" cy="1680.1" r="1.4" opacity="0.26"/>
<circle cx="351.3" cy="1721.2" r="1.4" opacity="0.28"/>
<circle cx="277.4" cy="1717.8" r="1.2" opacity="0.57"/>
<circle cx="359.5" cy="1729.9" r="1.4" opacity="0.53"/>
<circle cx="251.4" cy="1662.8" r="1.8" opacity="0.45"/>
<circle cx="231.1" cy="1544.6" r="1.6" opacity="0.28"/>
</g>
<g fill="#e01430" filter="url(#blur3)" opacity="0.5">
<circle cx="256.7" cy="1544.3" r="9.3"/>
<circle cx="196.5" cy="1557.9" r="9.3"/>
<circle cx="205.7" cy="1567.7" r="10.3"/>
<circle cx="222.2" cy="1565.3" r="10.3"/>
<circle cx="238.4" cy="1562.8" r="9.3"/>
<circle cx="181.0" cy="1581.3" r="10.3"/>
<circle cx="232.8" cy="1582.5" r="8.3"/>
<circle cx="249.5" cy="1585.0" r="9.3"/>
<circle cx="213.5" cy="1591.1" r="12.4"/>
<circle cx="272.2" cy="1591.1" r="9.3"/>
<circle cx="278.4" cy="1585.0" r="6.2"/>
<circle cx="197.5" cy="1604.7" r="9.3"/>
<circle cx="221.2" cy="1605.9" r="9.3"/>
<circle cx="244.3" cy="1609.6" r="9.3"/>
<circle cx="177.3" cy="1612.8" r="9.3"/>
<circle cx="190.9" cy="1613.8" r="8.3"/>
<circle cx="231.0" cy="1620.2" r="12.4"/>
<circle cx="218.0" cy="1628.1" r="7.2"/>
<circle cx="295.6" cy="1612.1" r="9.3"/>
<circle cx="370.8" cy="1601.0" r="11.4"/>
<circle cx="386.8" cy="1585.0" r="7.2"/>
<circle cx="360.9" cy="1621.9" r="11.4"/>
<circle cx="369.0" cy="1631.8" r="9.3"/>
<circle cx="394.2" cy="1623.2" r="11.4"/>
<circle cx="436.1" cy="1619.5" r="12.4"/>
<circle cx="443.5" cy="1591.1" r="7.2"/>
<circle cx="347.4" cy="1642.9" r="11.4"/>
<circle cx="388.0" cy="1647.8" r="10.3"/>
<circle cx="403.5" cy="1644.1" r="10.3"/>
<circle cx="420.1" cy="1650.3" r="13.5"/>
<circle cx="434.8" cy="1646.6" r="10.3"/>
<circle cx="433.6" cy="1656.4" r="11.4"/>
<circle cx="415.1" cy="1638.0" r="8.3"/>
<circle cx="473.0" cy="1644.9" r="9.3"/>
<circle cx="405.3" cy="1654.0" r="8.3"/>
<circle cx="182.2" cy="1647.8" r="11.4"/>
<circle cx="190.9" cy="1656.4" r="12.4"/>
<circle cx="240.2" cy="1647.8" r="10.3"/>
<circle cx="251.7" cy="1648.3" r="9.3"/>
<circle cx="268.0" cy="1651.5" r="10.3"/>
<circle cx="210.6" cy="1662.6" r="9.3"/>
<circle cx="179.8" cy="1668.8" r="9.3"/>
<circle cx="185.9" cy="1673.7" r="9.3"/>
<circle cx="210.6" cy="1673.7" r="9.3"/>
<circle cx="199.0" cy="1676.2" r="8.3"/>
<circle cx="244.3" cy="1667.5" r="10.3"/>
<circle cx="253.2" cy="1678.6" r="9.3"/>
<circle cx="315.8" cy="1667.5" r="9.3"/>
<circle cx="287.0" cy="1657.7" r="7.2"/>
<circle cx="342.9" cy="1660.1" r="9.3"/>
<circle cx="296.8" cy="1681.1" r="9.3"/>
<circle cx="312.9" cy="1683.6" r="11.4"/>
<circle cx="385.6" cy="1674.9" r="11.4"/>
<circle cx="210.6" cy="1688.5" r="9.3"/>
<circle cx="226.1" cy="1692.2" r="9.3"/>
<circle cx="300.5" cy="1692.2" r="9.3"/>
<circle cx="384.3" cy="1689.7" r="9.3"/>
<circle cx="326.4" cy="1693.4" r="7.2"/>
<circle cx="214.3" cy="1706.9" r="11.4"/>
<circle cx="241.4" cy="1702.4" r="9.3"/>
<circle cx="272.2" cy="1704.4" r="9.3"/>
<circle cx="257.4" cy="1715.5" r="11.4"/>
<circle cx="293.1" cy="1713.0" r="12.4"/>
<circle cx="310.4" cy="1714.2" r="8.3"/>
<circle cx="327.6" cy="1708.1" r="9.3"/>
<circle cx="348.6" cy="1706.9" r="9.3"/>
<circle cx="368.3" cy="1700.7" r="9.3"/>
<circle cx="369.5" cy="1711.8" r="7.2"/>
<circle cx="388.0" cy="1703.2" r="9.3"/>
<circle cx="400.3" cy="1705.6" r="13.5"/>
<circle cx="415.1" cy="1715.5" r="6.2"/>
<circle cx="470.6" cy="1715.5" r="6.2"/>
<circle cx="224.1" cy="1727.8" r="10.3"/>
<circle cx="237.7" cy="1725.3" r="10.3"/>
<circle cx="246.3" cy="1735.2" r="10.3"/>
<circle cx="320.2" cy="1729.0" r="9.3"/>
<circle cx="335.0" cy="1721.6" r="9.3"/>
<circle cx="344.9" cy="1741.4" r="9.3"/>
<circle cx="373.2" cy="1730.3" r="12.4"/>
<circle cx="383.1" cy="1735.2" r="10.3"/>
<circle cx="214.3" cy="1747.5" r="11.4"/>
<circle cx="243.9" cy="1747.5" r="9.3"/>
<circle cx="303.0" cy="1742.6" r="11.4"/>
<circle cx="325.2" cy="1750.0" r="12.4"/>
<circle cx="356.0" cy="1748.7" r="11.4"/>
<circle cx="385.6" cy="1753.7" r="10.3"/>
<circle cx="184.2" cy="1758.1" r="11.4"/>
<circle cx="230.3" cy="1754.9" r="9.3"/>
<circle cx="270.5" cy="1752.4" r="11.4"/>
<circle cx="273.4" cy="1761.6" r="8.3"/>
<circle cx="299.3" cy="1762.3" r="12.4"/>
<circle cx="322.7" cy="1758.6" r="9.3"/>
<circle cx="356.0" cy="1757.4" r="8.3"/>
<circle cx="392.9" cy="1766.0" r="9.3"/>
<circle cx="438.5" cy="1759.8" r="9.3"/>
<circle cx="246.3" cy="1768.5" r="13.5"/>
<circle cx="273.4" cy="1770.9" r="8.3"/>
<circle cx="349.8" cy="1779.6" r="13.5"/>
<circle cx="233.5" cy="1790.1" r="12.4"/>
<circle cx="250.0" cy="1790.1" r="9.3"/>
<circle cx="272.2" cy="1790.6" r="15.5"/>
<circle cx="305.5" cy="1791.9" r="11.4"/>
<circle cx="299.3" cy="1799.3" r="7.2"/>
<circle cx="346.1" cy="1794.3" r="13.5"/>
<circle cx="383.1" cy="1797.5" r="8.3"/>
<circle cx="448.9" cy="1802.5" r="9.3"/>
<circle cx="250.0" cy="1810.8" r="7.2"/>
<circle cx="258.6" cy="1806.7" r="10.3"/>
<circle cx="341.2" cy="1816.5" r="14.5"/>
<circle cx="374.0" cy="1814.1" r="11.4"/>
<circle cx="314.1" cy="1825.1" r="14.5"/>
<circle cx="402.1" cy="1824.6" r="9.3"/>
<circle cx="321.5" cy="1852.2" r="9.3"/>
</g>
<g fill="url(#cellg)" filter="url(#blur07)">
<ellipse cx="256.7" cy="1544.3" rx="6.0" ry="5.1" transform="rotate(22 256.7 1544.3)"/>
<ellipse cx="196.5" cy="1557.9" rx="5.9" ry="5.2" transform="rotate(0 196.5 1557.9)"/>
<ellipse cx="205.7" cy="1567.7" rx="5.5" ry="6.9" transform="rotate(174 205.7 1567.7)"/>
<ellipse cx="222.2" cy="1565.3" rx="5.4" ry="7.0" transform="rotate(43 222.2 1565.3)"/>
<ellipse cx="238.4" cy="1562.8" rx="5.7" ry="5.4" transform="rotate(123 238.4 1562.8)"/>
<ellipse cx="181.0" cy="1581.3" rx="5.4" ry="7.1" transform="rotate(167 181.0 1581.3)"/>
<ellipse cx="232.8" cy="1582.5" rx="5.1" ry="4.8" transform="rotate(84 232.8 1582.5)"/>
<ellipse cx="249.5" cy="1585.0" rx="5.1" ry="6.0" transform="rotate(122 249.5 1585.0)"/>
<ellipse cx="213.5" cy="1591.1" rx="7.2" ry="7.6" transform="rotate(122 213.5 1591.1)"/>
<ellipse cx="272.2" cy="1591.1" rx="6.5" ry="4.7" transform="rotate(168 272.2 1591.1)"/>
<ellipse cx="278.4" cy="1585.0" rx="3.2" ry="4.3" transform="rotate(78 278.4 1585.0)"/>
<ellipse cx="197.5" cy="1604.7" rx="6.2" ry="5.0" transform="rotate(161 197.5 1604.7)"/>
<ellipse cx="221.2" cy="1605.9" rx="6.5" ry="4.7" transform="rotate(22 221.2 1605.9)"/>
<ellipse cx="244.3" cy="1609.6" rx="6.6" ry="4.7" transform="rotate(47 244.3 1609.6)"/>
<ellipse cx="177.3" cy="1612.8" rx="6.4" ry="4.8" transform="rotate(29 177.3 1612.8)"/>
<ellipse cx="190.9" cy="1613.8" rx="5.1" ry="4.8" transform="rotate(140 190.9 1613.8)"/>
<ellipse cx="231.0" cy="1620.2" rx="7.1" ry="7.6" transform="rotate(174 231.0 1620.2)"/>
<ellipse cx="218.0" cy="1628.1" rx="4.8" ry="3.8" transform="rotate(103 218.0 1628.1)"/>
<ellipse cx="295.6" cy="1612.1" rx="5.1" ry="6.1" transform="rotate(98 295.6 1612.1)"/>
<ellipse cx="370.8" cy="1601.0" rx="7.7" ry="5.9" transform="rotate(141 370.8 1601.0)"/>
<ellipse cx="386.8" cy="1585.0" rx="4.2" ry="4.4" transform="rotate(47 386.8 1585.0)"/>
<ellipse cx="360.9" cy="1621.9" rx="6.6" ry="6.9" transform="rotate(106 360.9 1621.9)"/>
<ellipse cx="369.0" cy="1631.8" rx="5.6" ry="5.5" transform="rotate(113 369.0 1631.8)"/>
<ellipse cx="394.2" cy="1623.2" rx="7.6" ry="6.0" transform="rotate(123 394.2 1623.2)"/>
<ellipse cx="436.1" cy="1619.5" rx="7.2" ry="7.6" transform="rotate(43 436.1 1619.5)"/>
<ellipse cx="443.5" cy="1591.1" rx="4.4" ry="4.2" transform="rotate(155 443.5 1591.1)"/>
<ellipse cx="347.4" cy="1642.9" rx="7.9" ry="5.8" transform="rotate(178 347.4 1642.9)"/>
<ellipse cx="388.0" cy="1647.8" rx="6.1" ry="6.3" transform="rotate(124 388.0 1647.8)"/>
<ellipse cx="403.5" cy="1644.1" rx="5.3" ry="7.1" transform="rotate(43 403.5 1644.1)"/>
<ellipse cx="420.1" cy="1650.3" rx="8.8" ry="7.3" transform="rotate(5 420.1 1650.3)"/>
<ellipse cx="434.8" cy="1646.6" rx="7.0" ry="5.4" transform="rotate(23 434.8 1646.6)"/>
<ellipse cx="433.6" cy="1656.4" rx="7.6" ry="6.1" transform="rotate(173 433.6 1656.4)"/>
<ellipse cx="415.1" cy="1638.0" rx="5.3" ry="4.6" transform="rotate(81 415.1 1638.0)"/>
<ellipse cx="473.0" cy="1644.9" rx="5.2" ry="5.9" transform="rotate(164 473.0 1644.9)"/>
<ellipse cx="405.3" cy="1654.0" rx="4.3" ry="5.7" transform="rotate(156 405.3 1654.0)"/>
<ellipse cx="182.2" cy="1647.8" rx="7.8" ry="5.9" transform="rotate(115 182.2 1647.8)"/>
<ellipse cx="190.9" cy="1656.4" rx="7.5" ry="7.3" transform="rotate(165 190.9 1656.4)"/>
<ellipse cx="240.2" cy="1647.8" rx="6.0" ry="6.4" transform="rotate(94 240.2 1647.8)"/>
<ellipse cx="251.7" cy="1648.3" rx="4.7" ry="6.5" transform="rotate(49 251.7 1648.3)"/>
<ellipse cx="268.0" cy="1651.5" rx="6.1" ry="6.2" transform="rotate(26 268.0 1651.5)"/>
<ellipse cx="210.6" cy="1662.6" rx="5.4" ry="5.7" transform="rotate(79 210.6 1662.6)"/>
<ellipse cx="179.8" cy="1668.8" rx="4.9" ry="6.2" transform="rotate(20 179.8 1668.8)"/>
<ellipse cx="185.9" cy="1673.7" rx="6.3" ry="4.9" transform="rotate(53 185.9 1673.7)"/>
<ellipse cx="210.6" cy="1673.7" rx="5.2" ry="5.9" transform="rotate(12 210.6 1673.7)"/>
<ellipse cx="199.0" cy="1676.2" rx="5.9" ry="4.1" transform="rotate(165 199.0 1676.2)"/>
<ellipse cx="244.3" cy="1667.5" rx="5.5" ry="6.8" transform="rotate(2 244.3 1667.5)"/>
<ellipse cx="253.2" cy="1678.6" rx="4.9" ry="6.2" transform="rotate(73 253.2 1678.6)"/>
<ellipse cx="315.8" cy="1667.5" rx="6.6" ry="4.7" transform="rotate(56 315.8 1667.5)"/>
<ellipse cx="287.0" cy="1657.7" rx="4.9" ry="3.8" transform="rotate(131 287.0 1657.7)"/>
<ellipse cx="342.9" cy="1660.1" rx="5.5" ry="5.6" transform="rotate(154 342.9 1660.1)"/>
<ellipse cx="296.8" cy="1681.1" rx="5.3" ry="5.8" transform="rotate(137 296.8 1681.1)"/>
<ellipse cx="312.9" cy="1683.6" rx="7.6" ry="6.0" transform="rotate(119 312.9 1683.6)"/>
<ellipse cx="385.6" cy="1674.9" rx="6.2" ry="7.4" transform="rotate(20 385.6 1674.9)"/>
<ellipse cx="210.6" cy="1688.5" rx="4.8" ry="6.4" transform="rotate(28 210.6 1688.5)"/>
<ellipse cx="226.1" cy="1692.2" rx="5.9" ry="5.2" transform="rotate(25 226.1 1692.2)"/>
<ellipse cx="300.5" cy="1692.2" rx="5.1" ry="6.0" transform="rotate(65 300.5 1692.2)"/>
<ellipse cx="384.3" cy="1689.7" rx="4.9" ry="6.3" transform="rotate(119 384.3 1689.7)"/>
<ellipse cx="326.4" cy="1693.4" rx="4.3" ry="4.4" transform="rotate(174 326.4 1693.4)"/>
<ellipse cx="214.3" cy="1706.9" rx="7.2" ry="6.4" transform="rotate(164 214.3 1706.9)"/>
<ellipse cx="241.4" cy="1702.4" rx="5.7" ry="5.4" transform="rotate(171 241.4 1702.4)"/>
<ellipse cx="272.2" cy="1704.4" rx="6.4" ry="4.8" transform="rotate(88 272.2 1704.4)"/>
<ellipse cx="257.4" cy="1715.5" rx="6.7" ry="6.8" transform="rotate(169 257.4 1715.5)"/>
<ellipse cx="293.1" cy="1713.0" rx="7.4" ry="7.3" transform="rotate(28 293.1 1713.0)"/>
<ellipse cx="310.4" cy="1714.2" rx="4.7" ry="5.2" transform="rotate(152 310.4 1714.2)"/>
<ellipse cx="327.6" cy="1708.1" rx="5.6" ry="5.5" transform="rotate(97 327.6 1708.1)"/>
<ellipse cx="348.6" cy="1706.9" rx="5.1" ry="6.0" transform="rotate(138 348.6 1706.9)"/>
<ellipse cx="368.3" cy="1700.7" rx="4.7" ry="6.5" transform="rotate(76 368.3 1700.7)"/>
<ellipse cx="369.5" cy="1711.8" rx="4.8" ry="3.9" transform="rotate(19 369.5 1711.8)"/>
<ellipse cx="388.0" cy="1703.2" rx="5.4" ry="5.7" transform="rotate(49 388.0 1703.2)"/>
<ellipse cx="400.3" cy="1705.6" rx="8.2" ry="7.9" transform="rotate(18 400.3 1705.6)"/>
<ellipse cx="415.1" cy="1715.5" rx="4.3" ry="3.2" transform="rotate(175 415.1 1715.5)"/>
<ellipse cx="470.6" cy="1715.5" rx="4.1" ry="3.3" transform="rotate(108 470.6 1715.5)"/>
<ellipse cx="224.1" cy="1727.8" rx="6.9" ry="5.5" transform="rotate(17 224.1 1727.8)"/>
<ellipse cx="237.7" cy="1725.3" rx="6.5" ry="5.8" transform="rotate(54 237.7 1725.3)"/>
<ellipse cx="246.3" cy="1735.2" rx="5.8" ry="6.6" transform="rotate(15 246.3 1735.2)"/>
<ellipse cx="320.2" cy="1729.0" rx="5.4" ry="5.7" transform="rotate(110 320.2 1729.0)"/>
<ellipse cx="335.0" cy="1721.6" rx="5.6" ry="5.5" transform="rotate(64 335.0 1721.6)"/>
<ellipse cx="344.9" cy="1741.4" rx="5.1" ry="6.0" transform="rotate(42 344.9 1741.4)"/>
<ellipse cx="373.2" cy="1730.3" rx="8.2" ry="6.6" transform="rotate(52 373.2 1730.3)"/>
<ellipse cx="383.1" cy="1735.2" rx="6.8" ry="5.6" transform="rotate(156 383.1 1735.2)"/>
<ellipse cx="214.3" cy="1747.5" rx="6.9" ry="6.7" transform="rotate(137 214.3 1747.5)"/>
<ellipse cx="243.9" cy="1747.5" rx="6.4" ry="4.8" transform="rotate(94 243.9 1747.5)"/>
<ellipse cx="303.0" cy="1742.6" rx="8.0" ry="5.7" transform="rotate(159 303.0 1742.6)"/>
<ellipse cx="325.2" cy="1750.0" rx="8.7" ry="6.3" transform="rotate(123 325.2 1750.0)"/>
<ellipse cx="356.0" cy="1748.7" rx="7.9" ry="5.8" transform="rotate(104 356.0 1748.7)"/>
<ellipse cx="385.6" cy="1753.7" rx="6.2" ry="6.1" transform="rotate(150 385.6 1753.7)"/>
<ellipse cx="184.2" cy="1758.1" rx="7.9" ry="5.8" transform="rotate(74 184.2 1758.1)"/>
<ellipse cx="230.3" cy="1754.9" rx="6.6" ry="4.7" transform="rotate(4 230.3 1754.9)"/>
<ellipse cx="270.5" cy="1752.4" rx="6.2" ry="7.4" transform="rotate(24 270.5 1752.4)"/>
<ellipse cx="273.4" cy="1761.6" rx="4.2" ry="5.7" transform="rotate(38 273.4 1761.6)"/>
<ellipse cx="299.3" cy="1762.3" rx="7.0" ry="7.8" transform="rotate(132 299.3 1762.3)"/>
<ellipse cx="322.7" cy="1758.6" rx="4.8" ry="6.4" transform="rotate(120 322.7 1758.6)"/>
<ellipse cx="356.0" cy="1757.4" rx="4.3" ry="5.7" transform="rotate(53 356.0 1757.4)"/>
<ellipse cx="392.9" cy="1766.0" rx="5.2" ry="5.9" transform="rotate(110 392.9 1766.0)"/>
<ellipse cx="438.5" cy="1759.8" rx="4.8" ry="6.4" transform="rotate(119 438.5 1759.8)"/>
<ellipse cx="246.3" cy="1768.5" rx="8.9" ry="7.2" transform="rotate(73 246.3 1768.5)"/>
<ellipse cx="273.4" cy="1770.9" rx="4.4" ry="5.5" transform="rotate(113 273.4 1770.9)"/>
<ellipse cx="349.8" cy="1779.6" rx="7.6" ry="8.4" transform="rotate(105 349.8 1779.6)"/>
<ellipse cx="233.5" cy="1790.1" rx="7.4" ry="7.4" transform="rotate(52 233.5 1790.1)"/>
<ellipse cx="250.0" cy="1790.1" rx="5.0" ry="6.1" transform="rotate(179 250.0 1790.1)"/>
<ellipse cx="272.2" cy="1790.6" rx="8.8" ry="9.7" transform="rotate(96 272.2 1790.6)"/>
<ellipse cx="305.5" cy="1791.9" rx="8.1" ry="5.7" transform="rotate(162 305.5 1791.9)"/>
<ellipse cx="299.3" cy="1799.3" rx="4.2" ry="4.4" transform="rotate(41 299.3 1799.3)"/>
<ellipse cx="346.1" cy="1794.3" rx="8.0" ry="8.0" transform="rotate(118 346.1 1794.3)"/>
<ellipse cx="383.1" cy="1797.5" rx="5.0" ry="4.9" transform="rotate(138 383.1 1797.5)"/>
<ellipse cx="448.9" cy="1802.5" rx="5.1" ry="6.0" transform="rotate(73 448.9 1802.5)"/>
<ellipse cx="250.0" cy="1810.8" rx="4.1" ry="4.5" transform="rotate(118 250.0 1810.8)"/>
<ellipse cx="258.6" cy="1806.7" rx="6.0" ry="6.3" transform="rotate(91 258.6 1806.7)"/>
<ellipse cx="341.2" cy="1816.5" rx="9.8" ry="7.6" transform="rotate(76 341.2 1816.5)"/>
<ellipse cx="374.0" cy="1814.1" rx="7.5" ry="6.1" transform="rotate(133 374.0 1814.1)"/>
<ellipse cx="314.1" cy="1825.1" rx="7.4" ry="10.1" transform="rotate(33 314.1 1825.1)"/>
<ellipse cx="402.1" cy="1824.6" rx="5.9" ry="5.2" transform="rotate(38 402.1 1824.6)"/>
<ellipse cx="321.5" cy="1852.2" rx="5.8" ry="5.3" transform="rotate(42 321.5 1852.2)"/>
</g>
<rect x="342.4" y="1538.6" width="145.6" height="35.3" fill="#000"/>
<rect x="470.3" y="1538.6" width="17.7" height="93.2" fill="#000"/>
</g>
<text x="344.9" y="1565.3" font-size="26" text-anchor="start" font-weight="normal" fill="#e3221c" stroke="#e3221c" stroke-width="0.3">pa-dnRac1</text>
<text x="471.9" y="1554.5" font-size="13" text-anchor="start" font-weight="normal" fill="#e3221c" stroke="#e3221c" stroke-width="0.3">+</text>
<text x="427.4" y="1833.8" font-size="23" text-anchor="start" font-weight="normal" fill="#f4f0f8" stroke="#f4f0f8" stroke-width="0.3">50µm</text>
<line x1="437.4" y1="1841.3" x2="479.9" y2="1841.3" stroke="#f4f0f8" stroke-width="2.6"/>
<text x="732.5" y="1553.7" font-size="36.5" text-anchor="start" font-weight="bold" fill="#111" stroke="#111" stroke-width="0.45">o</text>
<clipPath id="mcO"><rect x="794.0" y="1538.6" width="317.6" height="315.6"/></clipPath>
<rect x="794.0" y="1538.6" width="317.6" height="315.6" fill="url(#mbgO)"/>
<g clip-path="url(#mcO)">
<rect x="794.0" y="1538.6" width="317.6" height="315.6" filter="url(#mnoise)" opacity="0.5"/>
<radialGradient id="bgO0"><stop offset="0" stop-color="#5a1040" stop-opacity="0.4"/><stop offset="0.45" stop-color="#5a1040" stop-opacity="0.28"/><stop offset="1" stop-color="#5a1040" stop-opacity="0"/></radialGradient>
<ellipse cx="954" cy="1689" rx="180" ry="165" fill="url(#bgO0)"/>
<radialGradient id="bgO1"><stop offset="0" stop-color="#10051a" stop-opacity="0.7"/><stop offset="0.45" stop-color="#10051a" stop-opacity="0.49"/><stop offset="1" stop-color="#10051a" stop-opacity="0"/></radialGradient>
<ellipse cx="834" cy="1799" rx="75" ry="90" fill="url(#bgO1)"/>
<radialGradient id="bgO2"><stop offset="0" stop-color="#10051a" stop-opacity="0.6"/><stop offset="0.45" stop-color="#10051a" stop-opacity="0.42"/><stop offset="1" stop-color="#10051a" stop-opacity="0"/></radialGradient>
<ellipse cx="1084" cy="1819" rx="60" ry="75" fill="url(#bgO2)"/>
<radialGradient id="bgO3"><stop offset="0" stop-color="#1a0c60" stop-opacity="0.5"/><stop offset="0.45" stop-color="#1a0c60" stop-opacity="0.35"/><stop offset="1" stop-color="#1a0c60" stop-opacity="0"/></radialGradient>
<ellipse cx="994" cy="1709" rx="60" ry="45" fill="url(#bgO3)"/>
<radialGradient id="bgO4"><stop offset="0" stop-color="#2a1270" stop-opacity="0.6"/><stop offset="0.45" stop-color="#2a1270" stop-opacity="0.42"/><stop offset="1" stop-color="#2a1270" stop-opacity="0"/></radialGradient>
<ellipse cx="854" cy="1589" rx="75" ry="60" fill="url(#bgO4)"/>
<g fill="#c01828" filter="url(#blur1)">
<circle cx="1049.0" cy="1637.8" r="2.5" opacity="0.51"/>
<circle cx="914.0" cy="1798.8" r="2.5" opacity="0.48"/>
<circle cx="1078.1" cy="1635.4" r="1.4" opacity="0.44"/>
<circle cx="892.8" cy="1851.1" r="1.7" opacity="0.31"/>
<circle cx="966.0" cy="1745.7" r="1.2" opacity="0.47"/>
<circle cx="1036.2" cy="1647.4" r="1.0" opacity="0.52"/>
<circle cx="1017.7" cy="1619.8" r="2.5" opacity="0.44"/>
<circle cx="1080.3" cy="1686.1" r="1.3" opacity="0.59"/>
<circle cx="916.5" cy="1738.1" r="1.3" opacity="0.30"/>
<circle cx="1065.5" cy="1615.6" r="1.9" opacity="0.46"/>
<circle cx="911.4" cy="1714.1" r="1.5" opacity="0.49"/>
<circle cx="895.8" cy="1643.4" r="1.1" opacity="0.59"/>
<circle cx="886.1" cy="1565.5" r="1.6" opacity="0.44"/>
<circle cx="896.0" cy="1757.0" r="1.0" opacity="0.27"/>
<circle cx="854.5" cy="1612.5" r="1.2" opacity="0.34"/>
<circle cx="1023.6" cy="1769.8" r="1.8" opacity="0.52"/>
<circle cx="859.3" cy="1596.0" r="1.6" opacity="0.35"/>
<circle cx="1027.5" cy="1739.0" r="1.5" opacity="0.46"/>
<circle cx="932.4" cy="1654.4" r="1.9" opacity="0.36"/>
<circle cx="972.8" cy="1720.3" r="2.0" opacity="0.50"/>
<circle cx="929.3" cy="1691.5" r="1.1" opacity="0.60"/>
<circle cx="871.7" cy="1793.7" r="2.2" opacity="0.37"/>
<circle cx="1003.5" cy="1669.7" r="1.1" opacity="0.57"/>
<circle cx="952.3" cy="1560.2" r="1.3" opacity="0.59"/>
<circle cx="870.6" cy="1805.8" r="2.3" opacity="0.29"/>
<circle cx="1044.1" cy="1752.7" r="1.7" opacity="0.30"/>
<circle cx="1002.5" cy="1627.9" r="1.8" opacity="0.51"/>
<circle cx="852.3" cy="1792.5" r="2.4" opacity="0.29"/>
<circle cx="889.8" cy="1790.0" r="1.8" opacity="0.37"/>
<circle cx="945.0" cy="1605.7" r="1.9" opacity="0.43"/>
<circle cx="1086.2" cy="1563.0" r="2.1" opacity="0.48"/>
<circle cx="862.8" cy="1710.6" r="1.4" opacity="0.42"/>
<circle cx="846.4" cy="1683.3" r="1.3" opacity="0.55"/>
<circle cx="831.1" cy="1766.9" r="2.1" opacity="0.41"/>
<circle cx="889.1" cy="1764.1" r="1.6" opacity="0.48"/>
<circle cx="1071.8" cy="1761.3" r="2.4" opacity="0.49"/>
<circle cx="1096.2" cy="1704.1" r="1.8" opacity="0.31"/>
<circle cx="1082.1" cy="1703.6" r="2.1" opacity="0.50"/>
<circle cx="909.6" cy="1759.8" r="1.9" opacity="0.48"/>
<circle cx="903.4" cy="1760.6" r="2.4" opacity="0.34"/>
<circle cx="917.1" cy="1605.0" r="2.0" opacity="0.31"/>
<circle cx="879.7" cy="1637.0" r="1.8" opacity="0.33"/>
<circle cx="1049.1" cy="1575.2" r="2.5" opacity="0.42"/>
<circle cx="1064.2" cy="1809.4" r="1.6" opacity="0.46"/>
<circle cx="952.9" cy="1861.4" r="1.6" opacity="0.37"/>
<circle cx="1067.8" cy="1653.4" r="2.1" opacity="0.44"/>
<circle cx="923.0" cy="1583.3" r="1.5" opacity="0.43"/>
<circle cx="1023.0" cy="1839.5" r="1.2" opacity="0.39"/>
<circle cx="839.5" cy="1800.8" r="1.2" opacity="0.46"/>
<circle cx="838.6" cy="1814.4" r="1.2" opacity="0.28"/>
<circle cx="825.6" cy="1561.8" r="2.5" opacity="0.44"/>
<circle cx="774.7" cy="1689.8" r="1.6" opacity="0.40"/>
<circle cx="881.9" cy="1652.3" r="2.1" opacity="0.38"/>
<circle cx="1054.3" cy="1616.6" r="2.6" opacity="0.42"/>
<circle cx="934.7" cy="1739.9" r="1.5" opacity="0.58"/>
<circle cx="915.5" cy="1626.8" r="2.0" opacity="0.41"/>
<circle cx="840.8" cy="1689.4" r="1.6" opacity="0.42"/>
<circle cx="977.1" cy="1847.4" r="2.3" opacity="0.34"/>
<circle cx="985.8" cy="1653.2" r="1.5" opacity="0.42"/>
<circle cx="811.0" cy="1766.8" r="2.4" opacity="0.56"/>
<circle cx="897.8" cy="1546.8" r="1.9" opacity="0.37"/>
<circle cx="831.9" cy="1683.6" r="1.6" opacity="0.49"/>
<circle cx="946.5" cy="1837.9" r="1.9" opacity="0.49"/>
<circle cx="898.2" cy="1597.8" r="1.0" opacity="0.52"/>
<circle cx="913.2" cy="1728.9" r="2.5" opacity="0.48"/>
<circle cx="897.1" cy="1727.3" r="2.2" opacity="0.56"/>
<circle cx="1063.2" cy="1757.1" r="2.3" opacity="0.49"/>
<circle cx="1000.8" cy="1729.9" r="1.8" opacity="0.36"/>
<circle cx="988.5" cy="1632.1" r="1.8" opacity="0.37"/>
<circle cx="925.4" cy="1640.8" r="1.1" opacity="0.51"/>
<circle cx="983.6" cy="1648.8" r="2.1" opacity="0.26"/>
<circle cx="990.1" cy="1734.9" r="2.1" opacity="0.27"/>
<circle cx="1059.8" cy="1634.7" r="2.5" opacity="0.50"/>
<circle cx="1007.7" cy="1616.1" r="1.7" opacity="0.31"/>
<circle cx="912.4" cy="1645.3" r="2.0" opacity="0.27"/>
<circle cx="868.7" cy="1588.5" r="1.4" opacity="0.45"/>
<circle cx="943.6" cy="1576.1" r="1.2" opacity="0.40"/>
<circle cx="928.0" cy="1672.7" r="1.6" opacity="0.48"/>
<circle cx="1071.4" cy="1586.6" r="1.9" opacity="0.49"/>
<circle cx="837.3" cy="1675.2" r="2.0" opacity="0.34"/>
<circle cx="921.3" cy="1836.8" r="1.5" opacity="0.59"/>
<circle cx="1009.0" cy="1640.7" r="1.6" opacity="0.30"/>
<circle cx="893.1" cy="1554.8" r="2.1" opacity="0.28"/>
<circle cx="1037.8" cy="1611.4" r="1.6" opacity="0.41"/>
<circle cx="1090.4" cy="1704.5" r="1.9" opacity="0.38"/>
<circle cx="954.3" cy="1621.1" r="2.3" opacity="0.51"/>
<circle cx="884.0" cy="1599.4" r="2.3" opacity="0.30"/>
<circle cx="859.7" cy="1735.9" r="1.5" opacity="0.46"/>
<circle cx="978.5" cy="1690.7" r="2.2" opacity="0.38"/>
<circle cx="838.1" cy="1671.2" r="2.4" opacity="0.43"/>
<circle cx="956.8" cy="1836.5" r="1.3" opacity="0.27"/>
<circle cx="946.4" cy="1589.7" r="1.1" opacity="0.56"/>
<circle cx="867.6" cy="1764.5" r="1.7" opacity="0.36"/>
<circle cx="925.5" cy="1758.5" r="1.3" opacity="0.48"/>
<circle cx="988.8" cy="1604.8" r="2.4" opacity="0.30"/>
<circle cx="1073.2" cy="1685.2" r="2.2" opacity="0.49"/>
<circle cx="943.6" cy="1574.4" r="2.5" opacity="0.38"/>
<circle cx="1078.3" cy="1555.5" r="1.8" opacity="0.58"/>
<circle cx="948.3" cy="1595.1" r="1.7" opacity="0.33"/>
<circle cx="1024.7" cy="1630.9" r="1.9" opacity="0.48"/>
<circle cx="1055.7" cy="1723.2" r="2.1" opacity="0.31"/>
<circle cx="1059.9" cy="1736.0" r="2.1" opacity="0.31"/>
<circle cx="1013.5" cy="1662.5" r="1.1" opacity="0.46"/>
<circle cx="999.4" cy="1677.6" r="2.2" opacity="0.39"/>
<circle cx="1017.3" cy="1583.9" r="2.3" opacity="0.45"/>
<circle cx="1023.3" cy="1595.7" r="2.3" opacity="0.28"/>
<circle cx="1092.5" cy="1772.4" r="1.1" opacity="0.39"/>
<circle cx="1116.3" cy="1586.6" r="1.7" opacity="0.47"/>
<circle cx="945.9" cy="1584.2" r="2.1" opacity="0.47"/>
<circle cx="940.4" cy="1641.6" r="1.5" opacity="0.29"/>
<circle cx="988.5" cy="1800.8" r="1.1" opacity="0.51"/>
<circle cx="882.9" cy="1565.8" r="1.7" opacity="0.52"/>
<circle cx="1017.5" cy="1766.3" r="2.5" opacity="0.36"/>
<circle cx="953.7" cy="1718.1" r="1.9" opacity="0.30"/>
<circle cx="898.9" cy="1791.5" r="2.3" opacity="0.36"/>
<circle cx="973.7" cy="1614.1" r="2.1" opacity="0.53"/>
<circle cx="969.3" cy="1813.5" r="1.8" opacity="0.34"/>
<circle cx="1059.9" cy="1614.9" r="2.4" opacity="0.28"/>
<circle cx="915.4" cy="1708.5" r="1.0" opacity="0.35"/>
<circle cx="975.9" cy="1610.4" r="2.3" opacity="0.48"/>
<circle cx="893.5" cy="1535.7" r="1.4" opacity="0.53"/>
<circle cx="841.0" cy="1727.4" r="1.5" opacity="0.30"/>
<circle cx="811.7" cy="1769.1" r="1.1" opacity="0.52"/>
<circle cx="957.4" cy="1811.8" r="2.6" opacity="0.54"/>
<circle cx="1072.8" cy="1718.6" r="2.0" opacity="0.33"/>
<circle cx="941.0" cy="1750.2" r="1.6" opacity="0.31"/>
<circle cx="998.9" cy="1618.6" r="1.8" opacity="0.31"/>
<circle cx="887.9" cy="1638.2" r="2.3" opacity="0.29"/>
<circle cx="971.8" cy="1697.3" r="2.0" opacity="0.31"/>
<circle cx="1020.1" cy="1540.3" r="1.9" opacity="0.59"/>
<circle cx="941.7" cy="1846.2" r="2.4" opacity="0.49"/>
<circle cx="1079.9" cy="1646.8" r="1.9" opacity="0.42"/>
<circle cx="992.4" cy="1718.7" r="1.4" opacity="0.32"/>
<circle cx="955.6" cy="1807.7" r="2.3" opacity="0.38"/>
<circle cx="829.3" cy="1643.4" r="2.5" opacity="0.27"/>
<circle cx="991.5" cy="1779.8" r="2.3" opacity="0.42"/>
<circle cx="949.2" cy="1596.4" r="2.2" opacity="0.35"/>
<circle cx="1058.2" cy="1620.9" r="1.8" opacity="0.41"/>
<circle cx="847.5" cy="1775.5" r="1.6" opacity="0.25"/>
<circle cx="924.4" cy="1779.4" r="2.3" opacity="0.26"/>
</g>
<g fill="#e01430" filter="url(#blur3)" opacity="0.5">
<circle cx="836.1" cy="1552.2" r="10.3"/>
<circle cx="866.9" cy="1544.3" r="8.3"/>
<circle cx="866.9" cy="1557.9" r="10.3"/>
<circle cx="886.6" cy="1555.4" r="7.2"/>
<circle cx="896.9" cy="1560.3" r="8.3"/>
<circle cx="871.8" cy="1570.2" r="8.3"/>
<circle cx="917.4" cy="1576.4" r="9.3"/>
<circle cx="910.0" cy="1585.0" r="8.3"/>
<circle cx="947.7" cy="1573.9" r="8.3"/>
<circle cx="935.9" cy="1587.4" r="9.3"/>
<circle cx="948.7" cy="1589.2" r="9.3"/>
<circle cx="987.6" cy="1577.6" r="10.3"/>
<circle cx="1015.9" cy="1577.6" r="8.3"/>
<circle cx="1043.1" cy="1580.1" r="10.3"/>
<circle cx="1062.8" cy="1576.4" r="7.2"/>
<circle cx="1087.4" cy="1577.6" r="6.2"/>
<circle cx="1080.0" cy="1589.9" r="10.3"/>
<circle cx="1057.8" cy="1593.6" r="9.3"/>
<circle cx="999.9" cy="1593.6" r="10.3"/>
<circle cx="873.0" cy="1594.8" r="8.3"/>
<circle cx="916.1" cy="1598.0" r="9.3"/>
<circle cx="860.7" cy="1603.5" r="7.2"/>
<circle cx="964.2" cy="1604.7" r="6.2"/>
<circle cx="1014.2" cy="1603.5" r="9.3"/>
<circle cx="1025.8" cy="1607.2" r="10.3"/>
<circle cx="997.5" cy="1607.2" r="9.3"/>
<circle cx="887.8" cy="1604.7" r="9.3"/>
<circle cx="882.9" cy="1610.9" r="9.3"/>
<circle cx="908.7" cy="1610.9" r="8.3"/>
<circle cx="914.9" cy="1615.8" r="9.3"/>
<circle cx="945.2" cy="1608.9" r="8.3"/>
<circle cx="1055.4" cy="1612.1" r="12.4"/>
<circle cx="1007.3" cy="1615.8" r="9.3"/>
<circle cx="991.3" cy="1618.2" r="10.3"/>
<circle cx="982.7" cy="1617.0" r="6.2"/>
<circle cx="871.8" cy="1621.9" r="13.5"/>
<circle cx="923.5" cy="1625.6" r="13.5"/>
<circle cx="951.9" cy="1623.7" r="7.2"/>
<circle cx="938.3" cy="1626.9" r="7.2"/>
<circle cx="943.2" cy="1631.8" r="8.3"/>
<circle cx="1064.5" cy="1623.7" r="10.3"/>
<circle cx="999.9" cy="1625.6" r="7.2"/>
<circle cx="1008.6" cy="1629.3" r="10.3"/>
<circle cx="985.1" cy="1630.6" r="9.3"/>
<circle cx="993.8" cy="1636.7" r="10.3"/>
<circle cx="852.6" cy="1635.0" r="10.3"/>
<circle cx="882.9" cy="1640.4" r="10.3"/>
<circle cx="920.6" cy="1640.4" r="9.3"/>
<circle cx="946.9" cy="1642.9" r="10.3"/>
<circle cx="979.0" cy="1639.2" r="9.3"/>
<circle cx="999.9" cy="1644.1" r="8.3"/>
<circle cx="1050.4" cy="1646.6" r="10.3"/>
<circle cx="1062.8" cy="1647.8" r="7.2"/>
<circle cx="1075.8" cy="1647.3" r="9.3"/>
<circle cx="807.7" cy="1646.6" r="11.4"/>
<circle cx="837.3" cy="1651.5" r="8.3"/>
<circle cx="875.5" cy="1655.2" r="9.3"/>
<circle cx="900.1" cy="1651.5" r="13.5"/>
<circle cx="887.8" cy="1660.1" r="9.3"/>
<circle cx="897.7" cy="1658.9" r="8.3"/>
<circle cx="997.5" cy="1654.0" r="7.2"/>
<circle cx="1008.6" cy="1652.7" r="7.2"/>
<circle cx="1067.7" cy="1656.4" r="8.3"/>
<circle cx="820.0" cy="1665.1" r="7.2"/>
<circle cx="1019.6" cy="1665.1" r="11.4"/>
<circle cx="1050.4" cy="1666.3" r="11.4"/>
<circle cx="887.8" cy="1671.2" r="13.5"/>
<circle cx="924.0" cy="1672.0" r="7.2"/>
<circle cx="971.6" cy="1674.4" r="11.4"/>
<circle cx="993.8" cy="1677.4" r="7.2"/>
<circle cx="1030.7" cy="1678.6" r="11.4"/>
<circle cx="1048.0" cy="1678.6" r="8.3"/>
<circle cx="1060.3" cy="1674.9" r="9.3"/>
<circle cx="1105.9" cy="1668.8" r="10.3"/>
<circle cx="820.0" cy="1686.0" r="11.4"/>
<circle cx="832.4" cy="1687.2" r="9.3"/>
<circle cx="864.4" cy="1674.9" r="7.2"/>
<circle cx="854.5" cy="1692.2" r="15.5"/>
<circle cx="879.2" cy="1691.7" r="11.4"/>
<circle cx="919.8" cy="1691.7" r="7.2"/>
<circle cx="935.4" cy="1689.7" r="10.3"/>
<circle cx="982.7" cy="1693.4" r="10.3"/>
<circle cx="1075.1" cy="1692.2" r="9.3"/>
<circle cx="797.9" cy="1714.2" r="6.2"/>
<circle cx="827.4" cy="1713.0" r="7.2"/>
<circle cx="873.0" cy="1708.1" r="8.3"/>
<circle cx="897.7" cy="1708.1" r="10.3"/>
<circle cx="908.7" cy="1710.6" r="9.3"/>
<circle cx="928.5" cy="1704.4" r="11.4"/>
<circle cx="974.1" cy="1705.6" r="8.3"/>
<circle cx="1001.2" cy="1711.8" r="8.3"/>
<circle cx="1046.3" cy="1708.1" r="11.4"/>
<circle cx="1065.2" cy="1710.6" r="8.3"/>
<circle cx="1077.6" cy="1709.3" r="8.3"/>
<circle cx="1084.9" cy="1700.7" r="9.3"/>
<circle cx="1077.6" cy="1722.9" r="7.2"/>
<circle cx="866.9" cy="1726.6" r="11.4"/>
<circle cx="854.0" cy="1732.7" r="8.3"/>
<circle cx="921.1" cy="1723.6" r="11.4"/>
<circle cx="950.6" cy="1721.6" r="14.5"/>
<circle cx="977.7" cy="1725.3" r="7.2"/>
<circle cx="1014.7" cy="1732.7" r="12.4"/>
<circle cx="1034.4" cy="1736.4" r="9.3"/>
<circle cx="1046.7" cy="1738.9" r="7.2"/>
<circle cx="1089.9" cy="1736.4" r="11.4"/>
<circle cx="1105.9" cy="1731.5" r="7.2"/>
<circle cx="896.4" cy="1735.2" r="11.4"/>
<circle cx="910.0" cy="1741.4" r="9.3"/>
<circle cx="869.3" cy="1742.6" r="10.3"/>
<circle cx="933.4" cy="1742.6" r="15.5"/>
<circle cx="1020.9" cy="1741.4" r="7.2"/>
<circle cx="1048.0" cy="1748.7" r="11.4"/>
<circle cx="828.7" cy="1750.0" r="15.5"/>
<circle cx="838.5" cy="1754.9" r="11.4"/>
<circle cx="903.8" cy="1758.6" r="12.4"/>
<circle cx="966.7" cy="1756.1" r="10.3"/>
<circle cx="1002.4" cy="1756.1" r="12.4"/>
<circle cx="1017.2" cy="1757.4" r="8.3"/>
<circle cx="1032.0" cy="1757.4" r="13.5"/>
<circle cx="1060.3" cy="1762.3" r="10.3"/>
<circle cx="1081.2" cy="1768.5" r="7.2"/>
<circle cx="842.7" cy="1770.4" r="9.3"/>
<circle cx="855.0" cy="1774.6" r="9.3"/>
<circle cx="875.5" cy="1777.1" r="8.3"/>
<circle cx="986.4" cy="1767.2" r="10.3"/>
<circle cx="971.6" cy="1775.9" r="15.5"/>
<circle cx="998.7" cy="1774.6" r="8.3"/>
<circle cx="817.6" cy="1780.8" r="6.2"/>
<circle cx="906.3" cy="1786.9" r="10.3"/>
<circle cx="886.6" cy="1788.2" r="8.3"/>
<circle cx="948.2" cy="1788.2" r="8.3"/>
<circle cx="942.0" cy="1793.1" r="7.2"/>
<circle cx="1012.2" cy="1782.8" r="9.3"/>
<circle cx="1035.7" cy="1784.5" r="12.4"/>
<circle cx="982.7" cy="1786.9" r="7.2"/>
<circle cx="896.4" cy="1795.6" r="10.3"/>
<circle cx="868.1" cy="1795.6" r="7.2"/>
<circle cx="966.7" cy="1798.0" r="9.3"/>
<circle cx="979.0" cy="1801.7" r="9.3"/>
<circle cx="999.9" cy="1803.0" r="9.3"/>
<circle cx="1046.7" cy="1805.4" r="13.5"/>
<circle cx="918.6" cy="1806.7" r="9.3"/>
<circle cx="949.4" cy="1810.4" r="8.3"/>
<circle cx="982.7" cy="1810.4" r="12.4"/>
<circle cx="849.1" cy="1812.8" r="8.3"/>
<circle cx="894.0" cy="1812.8" r="11.4"/>
<circle cx="892.7" cy="1825.1" r="12.4"/>
<circle cx="975.8" cy="1824.6" r="10.3"/>
<circle cx="1027.0" cy="1825.1" r="11.4"/>
<circle cx="863.2" cy="1831.3" r="9.3"/>
<circle cx="907.5" cy="1837.5" r="9.3"/>
<circle cx="945.7" cy="1837.0" r="11.4"/>
<circle cx="933.4" cy="1846.1" r="9.3"/>
<circle cx="812.6" cy="1837.5" r="5.2"/>
</g>
<g fill="url(#cellg)" filter="url(#blur07)">
<ellipse cx="836.1" cy="1552.2" rx="6.7" ry="5.7" transform="rotate(156 836.1 1552.2)"/>
<ellipse cx="866.9" cy="1544.3" rx="4.7" ry="5.1" transform="rotate(98 866.9 1544.3)"/>
<ellipse cx="866.9" cy="1557.9" rx="6.3" ry="6.0" transform="rotate(139 866.9 1557.9)"/>
<ellipse cx="886.6" cy="1555.4" rx="4.7" ry="3.9" transform="rotate(102 886.6 1555.4)"/>
<ellipse cx="896.9" cy="1560.3" rx="5.0" ry="4.9" transform="rotate(148 896.9 1560.3)"/>
<ellipse cx="871.8" cy="1570.2" rx="5.8" ry="4.2" transform="rotate(177 871.8 1570.2)"/>
<ellipse cx="917.4" cy="1576.4" rx="5.8" ry="5.3" transform="rotate(15 917.4 1576.4)"/>
<ellipse cx="910.0" cy="1585.0" rx="5.1" ry="4.7" transform="rotate(106 910.0 1585.0)"/>
<ellipse cx="947.7" cy="1573.9" rx="4.8" ry="5.0" transform="rotate(151 947.7 1573.9)"/>
<ellipse cx="935.9" cy="1587.4" rx="4.8" ry="6.5" transform="rotate(133 935.9 1587.4)"/>
<ellipse cx="948.7" cy="1589.2" rx="5.1" ry="6.0" transform="rotate(73 948.7 1589.2)"/>
<ellipse cx="987.6" cy="1577.6" rx="5.4" ry="7.0" transform="rotate(22 987.6 1577.6)"/>
<ellipse cx="1015.9" cy="1577.6" rx="5.5" ry="4.4" transform="rotate(156 1015.9 1577.6)"/>
<ellipse cx="1043.1" cy="1580.1" rx="6.5" ry="5.8" transform="rotate(105 1043.1 1580.1)"/>
<ellipse cx="1062.8" cy="1576.4" rx="4.1" ry="4.5" transform="rotate(3 1062.8 1576.4)"/>
<ellipse cx="1087.4" cy="1577.6" rx="3.5" ry="3.9" transform="rotate(60 1087.4 1577.6)"/>
<ellipse cx="1080.0" cy="1589.9" rx="5.4" ry="7.0" transform="rotate(22 1080.0 1589.9)"/>
<ellipse cx="1057.8" cy="1593.6" rx="6.0" ry="5.1" transform="rotate(76 1057.8 1593.6)"/>
<ellipse cx="999.9" cy="1593.6" rx="7.2" ry="5.3" transform="rotate(176 999.9 1593.6)"/>
<ellipse cx="873.0" cy="1594.8" rx="5.6" ry="4.4" transform="rotate(155 873.0 1594.8)"/>
<ellipse cx="916.1" cy="1598.0" rx="5.9" ry="5.2" transform="rotate(53 916.1 1598.0)"/>
<ellipse cx="860.7" cy="1603.5" rx="4.4" ry="4.2" transform="rotate(23 860.7 1603.5)"/>
<ellipse cx="964.2" cy="1604.7" rx="4.3" ry="3.2" transform="rotate(61 964.2 1604.7)"/>
<ellipse cx="1014.2" cy="1603.5" rx="5.4" ry="5.7" transform="rotate(139 1014.2 1603.5)"/>
<ellipse cx="1025.8" cy="1607.2" rx="6.1" ry="6.2" transform="rotate(0 1025.8 1607.2)"/>
<ellipse cx="997.5" cy="1607.2" rx="6.0" ry="5.1" transform="rotate(96 997.5 1607.2)"/>
<ellipse cx="887.8" cy="1604.7" rx="5.1" ry="6.1" transform="rotate(167 887.8 1604.7)"/>
<ellipse cx="882.9" cy="1610.9" rx="5.7" ry="5.4" transform="rotate(53 882.9 1610.9)"/>
<ellipse cx="908.7" cy="1610.9" rx="5.8" ry="4.2" transform="rotate(157 908.7 1610.9)"/>
<ellipse cx="914.9" cy="1615.8" rx="5.3" ry="5.8" transform="rotate(82 914.9 1615.8)"/>
<ellipse cx="945.2" cy="1608.9" rx="4.4" ry="5.5" transform="rotate(176 945.2 1608.9)"/>
<ellipse cx="1055.4" cy="1612.1" rx="8.6" ry="6.4" transform="rotate(176 1055.4 1612.1)"/>
<ellipse cx="1007.3" cy="1615.8" rx="6.1" ry="5.0" transform="rotate(95 1007.3 1615.8)"/>
<ellipse cx="991.3" cy="1618.2" rx="5.8" ry="6.6" transform="rotate(25 991.3 1618.2)"/>
<ellipse cx="982.7" cy="1617.0" rx="3.4" ry="4.0" transform="rotate(78 982.7 1617.0)"/>
<ellipse cx="871.8" cy="1621.9" rx="9.0" ry="7.1" transform="rotate(159 871.8 1621.9)"/>
<ellipse cx="923.5" cy="1625.6" rx="7.0" ry="9.1" transform="rotate(42 923.5 1625.6)"/>
<ellipse cx="951.9" cy="1623.7" rx="3.8" ry="4.9" transform="rotate(105 951.9 1623.7)"/>
<ellipse cx="938.3" cy="1626.9" rx="4.8" ry="3.9" transform="rotate(57 938.3 1626.9)"/>
<ellipse cx="943.2" cy="1631.8" rx="5.3" ry="4.6" transform="rotate(145 943.2 1631.8)"/>
<ellipse cx="1064.5" cy="1623.7" rx="6.5" ry="5.9" transform="rotate(163 1064.5 1623.7)"/>
<ellipse cx="999.9" cy="1625.6" rx="5.0" ry="3.7" transform="rotate(104 999.9 1625.6)"/>
<ellipse cx="1008.6" cy="1629.3" rx="6.1" ry="6.2" transform="rotate(108 1008.6 1629.3)"/>
<ellipse cx="985.1" cy="1630.6" rx="5.7" ry="5.4" transform="rotate(152 985.1 1630.6)"/>
<ellipse cx="993.8" cy="1636.7" rx="7.2" ry="5.3" transform="rotate(77 993.8 1636.7)"/>
<ellipse cx="852.6" cy="1635.0" rx="6.1" ry="6.2" transform="rotate(21 852.6 1635.0)"/>
<ellipse cx="882.9" cy="1640.4" rx="6.5" ry="5.8" transform="rotate(84 882.9 1640.4)"/>
<ellipse cx="920.6" cy="1640.4" rx="5.1" ry="6.1" transform="rotate(7 920.6 1640.4)"/>
<ellipse cx="946.9" cy="1642.9" rx="5.6" ry="6.8" transform="rotate(75 946.9 1642.9)"/>
<ellipse cx="979.0" cy="1639.2" rx="5.8" ry="5.3" transform="rotate(154 979.0 1639.2)"/>
<ellipse cx="999.9" cy="1644.1" rx="5.2" ry="4.7" transform="rotate(111 999.9 1644.1)"/>
<ellipse cx="1050.4" cy="1646.6" rx="5.6" ry="6.7" transform="rotate(152 1050.4 1646.6)"/>
<ellipse cx="1062.8" cy="1647.8" rx="3.8" ry="4.9" transform="rotate(176 1062.8 1647.8)"/>
<ellipse cx="1075.8" cy="1647.3" rx="5.4" ry="5.7" transform="rotate(19 1075.8 1647.3)"/>
<ellipse cx="807.7" cy="1646.6" rx="5.9" ry="7.8" transform="rotate(124 807.7 1646.6)"/>
<ellipse cx="837.3" cy="1651.5" rx="4.4" ry="5.5" transform="rotate(132 837.3 1651.5)"/>
<ellipse cx="875.5" cy="1655.2" rx="6.6" ry="4.7" transform="rotate(81 875.5 1655.2)"/>
<ellipse cx="900.1" cy="1651.5" rx="7.3" ry="8.7" transform="rotate(119 900.1 1651.5)"/>
<ellipse cx="887.8" cy="1660.1" rx="6.0" ry="5.2" transform="rotate(58 887.8 1660.1)"/>
<ellipse cx="897.7" cy="1658.9" rx="5.7" ry="4.2" transform="rotate(157 897.7 1658.9)"/>
<ellipse cx="997.5" cy="1654.0" rx="4.9" ry="3.8" transform="rotate(122 997.5 1654.0)"/>
<ellipse cx="1008.6" cy="1652.7" rx="4.9" ry="3.8" transform="rotate(0 1008.6 1652.7)"/>
<ellipse cx="1067.7" cy="1656.4" rx="4.5" ry="5.4" transform="rotate(40 1067.7 1656.4)"/>
<ellipse cx="820.0" cy="1665.1" rx="3.8" ry="4.9" transform="rotate(85 820.0 1665.1)"/>
<ellipse cx="1019.6" cy="1665.1" rx="6.1" ry="7.5" transform="rotate(157 1019.6 1665.1)"/>
<ellipse cx="1050.4" cy="1666.3" rx="7.6" ry="6.1" transform="rotate(147 1050.4 1666.3)"/>
<ellipse cx="887.8" cy="1671.2" rx="8.9" ry="7.2" transform="rotate(82 887.8 1671.2)"/>
<ellipse cx="924.0" cy="1672.0" rx="4.9" ry="3.8" transform="rotate(46 924.0 1672.0)"/>
<ellipse cx="971.6" cy="1674.4" rx="7.5" ry="6.2" transform="rotate(140 971.6 1674.4)"/>
<ellipse cx="993.8" cy="1677.4" rx="5.1" ry="3.6" transform="rotate(160 993.8 1677.4)"/>
<ellipse cx="1030.7" cy="1678.6" rx="7.8" ry="5.9" transform="rotate(26 1030.7 1678.6)"/>
<ellipse cx="1048.0" cy="1678.6" rx="4.8" ry="5.0" transform="rotate(16 1048.0 1678.6)"/>
<ellipse cx="1060.3" cy="1674.9" rx="5.1" ry="6.0" transform="rotate(82 1060.3 1674.9)"/>
<ellipse cx="1105.9" cy="1668.8" rx="6.0" ry="6.3" transform="rotate(117 1105.9 1668.8)"/>
<ellipse cx="820.0" cy="1686.0" rx="7.9" ry="5.8" transform="rotate(21 820.0 1686.0)"/>
<ellipse cx="832.4" cy="1687.2" rx="5.2" ry="5.9" transform="rotate(139 832.4 1687.2)"/>
<ellipse cx="864.4" cy="1674.9" rx="4.4" ry="4.3" transform="rotate(1 864.4 1674.9)"/>
<ellipse cx="854.5" cy="1692.2" rx="8.2" ry="10.4" transform="rotate(152 854.5 1692.2)"/>
<ellipse cx="879.2" cy="1691.7" rx="8.0" ry="5.7" transform="rotate(33 879.2 1691.7)"/>
<ellipse cx="919.8" cy="1691.7" rx="4.7" ry="4.0" transform="rotate(126 919.8 1691.7)"/>
<ellipse cx="935.4" cy="1689.7" rx="6.1" ry="6.3" transform="rotate(87 935.4 1689.7)"/>
<ellipse cx="982.7" cy="1693.4" rx="7.3" ry="5.2" transform="rotate(18 982.7 1693.4)"/>
<ellipse cx="1075.1" cy="1692.2" rx="5.7" ry="5.4" transform="rotate(75 1075.1 1692.2)"/>
<ellipse cx="797.9" cy="1714.2" rx="3.2" ry="4.3" transform="rotate(122 797.9 1714.2)"/>
<ellipse cx="827.4" cy="1713.0" rx="5.2" ry="3.6" transform="rotate(50 827.4 1713.0)"/>
<ellipse cx="873.0" cy="1708.1" rx="5.8" ry="4.2" transform="rotate(97 873.0 1708.1)"/>
<ellipse cx="897.7" cy="1708.1" rx="5.5" ry="6.8" transform="rotate(127 897.7 1708.1)"/>
<ellipse cx="908.7" cy="1710.6" rx="6.0" ry="5.2" transform="rotate(22 908.7 1710.6)"/>
<ellipse cx="928.5" cy="1704.4" rx="7.1" ry="6.4" transform="rotate(75 928.5 1704.4)"/>
<ellipse cx="974.1" cy="1705.6" rx="4.9" ry="5.0" transform="rotate(16 974.1 1705.6)"/>
<ellipse cx="1001.2" cy="1711.8" rx="5.1" ry="4.8" transform="rotate(12 1001.2 1711.8)"/>
<ellipse cx="1046.3" cy="1708.1" rx="6.3" ry="7.3" transform="rotate(60 1046.3 1708.1)"/>
<ellipse cx="1065.2" cy="1710.6" rx="4.7" ry="5.2" transform="rotate(18 1065.2 1710.6)"/>
<ellipse cx="1077.6" cy="1709.3" rx="4.4" ry="5.5" transform="rotate(24 1077.6 1709.3)"/>
<ellipse cx="1084.9" cy="1700.7" rx="5.8" ry="5.3" transform="rotate(110 1084.9 1700.7)"/>
<ellipse cx="1077.6" cy="1722.9" rx="5.2" ry="3.6" transform="rotate(138 1077.6 1722.9)"/>
<ellipse cx="866.9" cy="1726.6" rx="7.8" ry="5.9" transform="rotate(62 866.9 1726.6)"/>
<ellipse cx="854.0" cy="1732.7" rx="4.3" ry="5.6" transform="rotate(91 854.0 1732.7)"/>
<ellipse cx="921.1" cy="1723.6" rx="6.1" ry="7.6" transform="rotate(21 921.1 1723.6)"/>
<ellipse cx="950.6" cy="1721.6" rx="7.3" ry="10.1" transform="rotate(36 950.6 1721.6)"/>
<ellipse cx="977.7" cy="1725.3" rx="4.2" ry="4.4" transform="rotate(4 977.7 1725.3)"/>
<ellipse cx="1014.7" cy="1732.7" rx="6.3" ry="8.6" transform="rotate(143 1014.7 1732.7)"/>
<ellipse cx="1034.4" cy="1736.4" rx="5.6" ry="5.5" transform="rotate(98 1034.4 1736.4)"/>
<ellipse cx="1046.7" cy="1738.9" rx="5.0" ry="3.7" transform="rotate(20 1046.7 1738.9)"/>
<ellipse cx="1089.9" cy="1736.4" rx="5.9" ry="7.8" transform="rotate(55 1089.9 1736.4)"/>
<ellipse cx="1105.9" cy="1731.5" rx="4.0" ry="4.7" transform="rotate(113 1105.9 1731.5)"/>
<ellipse cx="896.4" cy="1735.2" rx="5.8" ry="7.9" transform="rotate(132 896.4 1735.2)"/>
<ellipse cx="910.0" cy="1741.4" rx="4.9" ry="6.3" transform="rotate(71 910.0 1741.4)"/>
<ellipse cx="869.3" cy="1742.6" rx="6.5" ry="5.8" transform="rotate(175 869.3 1742.6)"/>
<ellipse cx="933.4" cy="1742.6" rx="9.4" ry="9.1" transform="rotate(5 933.4 1742.6)"/>
<ellipse cx="1020.9" cy="1741.4" rx="3.7" ry="5.0" transform="rotate(100 1020.9 1741.4)"/>
<ellipse cx="1048.0" cy="1748.7" rx="7.6" ry="6.1" transform="rotate(128 1048.0 1748.7)"/>
<ellipse cx="828.7" cy="1750.0" rx="9.3" ry="9.2" transform="rotate(151 828.7 1750.0)"/>
<ellipse cx="838.5" cy="1754.9" rx="8.0" ry="5.7" transform="rotate(169 838.5 1754.9)"/>
<ellipse cx="903.8" cy="1758.6" rx="8.0" ry="6.9" transform="rotate(162 903.8 1758.6)"/>
<ellipse cx="966.7" cy="1756.1" rx="6.5" ry="5.8" transform="rotate(55 966.7 1756.1)"/>
<ellipse cx="1002.4" cy="1756.1" rx="6.3" ry="8.6" transform="rotate(105 1002.4 1756.1)"/>
<ellipse cx="1017.2" cy="1757.4" rx="5.6" ry="4.3" transform="rotate(110 1017.2 1757.4)"/>
<ellipse cx="1032.0" cy="1757.4" rx="9.4" ry="6.8" transform="rotate(96 1032.0 1757.4)"/>
<ellipse cx="1060.3" cy="1762.3" rx="5.3" ry="7.2" transform="rotate(42 1060.3 1762.3)"/>
<ellipse cx="1081.2" cy="1768.5" rx="5.0" ry="3.7" transform="rotate(37 1081.2 1768.5)"/>
<ellipse cx="842.7" cy="1770.4" rx="5.3" ry="5.8" transform="rotate(48 842.7 1770.4)"/>
<ellipse cx="855.0" cy="1774.6" rx="5.5" ry="5.6" transform="rotate(19 855.0 1774.6)"/>
<ellipse cx="875.5" cy="1777.1" rx="5.9" ry="4.1" transform="rotate(55 875.5 1777.1)"/>
<ellipse cx="986.4" cy="1767.2" rx="6.1" ry="6.2" transform="rotate(48 986.4 1767.2)"/>
<ellipse cx="971.6" cy="1775.9" rx="8.7" ry="9.8" transform="rotate(120 971.6 1775.9)"/>
<ellipse cx="998.7" cy="1774.6" rx="4.8" ry="5.0" transform="rotate(0 998.7 1774.6)"/>
<ellipse cx="817.6" cy="1780.8" rx="4.0" ry="3.4" transform="rotate(31 817.6 1780.8)"/>
<ellipse cx="906.3" cy="1786.9" rx="6.9" ry="5.5" transform="rotate(117 906.3 1786.9)"/>
<ellipse cx="886.6" cy="1788.2" rx="4.3" ry="5.6" transform="rotate(175 886.6 1788.2)"/>
<ellipse cx="948.2" cy="1788.2" rx="4.8" ry="5.0" transform="rotate(104 948.2 1788.2)"/>
<ellipse cx="942.0" cy="1793.1" rx="5.0" ry="3.7" transform="rotate(50 942.0 1793.1)"/>
<ellipse cx="1012.2" cy="1782.8" rx="6.0" ry="5.1" transform="rotate(126 1012.2 1782.8)"/>
<ellipse cx="1035.7" cy="1784.5" rx="8.8" ry="6.2" transform="rotate(153 1035.7 1784.5)"/>
<ellipse cx="982.7" cy="1786.9" rx="4.4" ry="4.3" transform="rotate(119 982.7 1786.9)"/>
<ellipse cx="896.4" cy="1795.6" rx="5.7" ry="6.6" transform="rotate(93 896.4 1795.6)"/>
<ellipse cx="868.1" cy="1795.6" rx="5.1" ry="3.7" transform="rotate(7 868.1 1795.6)"/>
<ellipse cx="966.7" cy="1798.0" rx="4.7" ry="6.5" transform="rotate(109 966.7 1798.0)"/>
<ellipse cx="979.0" cy="1801.7" rx="4.9" ry="6.3" transform="rotate(33 979.0 1801.7)"/>
<ellipse cx="999.9" cy="1803.0" rx="6.2" ry="5.0" transform="rotate(95 999.9 1803.0)"/>
<ellipse cx="1046.7" cy="1805.4" rx="7.7" ry="8.3" transform="rotate(54 1046.7 1805.4)"/>
<ellipse cx="918.6" cy="1806.7" rx="5.0" ry="6.1" transform="rotate(132 918.6 1806.7)"/>
<ellipse cx="949.4" cy="1810.4" rx="5.7" ry="4.2" transform="rotate(179 949.4 1810.4)"/>
<ellipse cx="982.7" cy="1810.4" rx="7.7" ry="7.1" transform="rotate(72 982.7 1810.4)"/>
<ellipse cx="849.1" cy="1812.8" rx="4.4" ry="5.5" transform="rotate(164 849.1 1812.8)"/>
<ellipse cx="894.0" cy="1812.8" rx="6.7" ry="6.8" transform="rotate(77 894.0 1812.8)"/>
<ellipse cx="892.7" cy="1825.1" rx="7.2" ry="7.6" transform="rotate(122 892.7 1825.1)"/>
<ellipse cx="975.8" cy="1824.6" rx="6.4" ry="5.9" transform="rotate(113 975.8 1824.6)"/>
<ellipse cx="1027.0" cy="1825.1" rx="8.1" ry="5.7" transform="rotate(61 1027.0 1825.1)"/>
<ellipse cx="863.2" cy="1831.3" rx="6.6" ry="4.7" transform="rotate(35 863.2 1831.3)"/>
<ellipse cx="907.5" cy="1837.5" rx="5.2" ry="5.9" transform="rotate(139 907.5 1837.5)"/>
<ellipse cx="945.7" cy="1837.0" rx="5.8" ry="7.9" transform="rotate(98 945.7 1837.0)"/>
<ellipse cx="933.4" cy="1846.1" rx="5.0" ry="6.2" transform="rotate(123 933.4 1846.1)"/>
<ellipse cx="812.6" cy="1837.5" rx="3.3" ry="2.8" transform="rotate(14 812.6 1837.5)"/>
</g>
<rect x="966.0" y="1538.6" width="145.6" height="35.3" fill="#000"/>
<rect x="1093.9" y="1538.6" width="17.7" height="93.2" fill="#000"/>
</g>
<text x="968.5" y="1565.3" font-size="26" text-anchor="start" font-weight="normal" fill="#e3221c" stroke="#e3221c" stroke-width="0.3">pa-dnRac1</text>
<text x="1095.5" y="1554.5" font-size="13" text-anchor="start" font-weight="normal" fill="#e3221c" stroke="#e3221c" stroke-width="0.3">+</text>
<text x="1051.0" y="1833.8" font-size="23" text-anchor="start" font-weight="normal" fill="#f4f0f8" stroke="#f4f0f8" stroke-width="0.3">50µm</text>
<line x1="1061.0" y1="1841.3" x2="1103.5" y2="1841.3" stroke="#f4f0f8" stroke-width="2.6"/>
<defs>
<g id="sec1" fill="none" stroke-linecap="butt"><path d="M334.0,2023.9C333.8,2026.4 333.4,2034.1 332.5,2039.2C331.6,2044.3 330.4,2049.4 328.7,2054.5C326.9,2059.6 324.5,2065.2 321.8,2069.8C319.1,2074.4 315.9,2078.5 312.6,2082.0C309.3,2085.6 305.7,2088.7 301.9,2091.2C298.0,2093.8 293.7,2095.3 289.6,2097.3C285.5,2099.4 281.5,2101.2 277.4,2103.5C273.3,2105.8 268.4,2108.6 265.1,2111.1C261.8,2113.7 259.5,2116.0 257.5,2118.8C255.4,2121.6 254.4,2124.9 252.9,2128.0C251.4,2131.0 250.3,2134.8 248.3,2137.1C246.2,2139.4 244.2,2140.7 240.6,2141.7C237.1,2142.8 232.2,2143.1 226.9,2143.3C221.5,2143.5 214.9,2143.2 208.5,2143.0C202.1,2142.7 195.7,2142.5 188.6,2141.7C181.4,2141.0 172.3,2139.7 165.6,2138.7C159.0,2137.7 153.4,2136.4 148.8,2135.6C144.2,2134.8 139.8,2134.3 138.1,2134.1" stroke="#222" stroke-width="2.0"/><path d="M265.1,1945.8C262.8,1947.8 256.5,1953.7 251.4,1958.0C246.2,1962.4 240.1,1967.7 234.5,1971.8C228.9,1975.9 223.5,1978.9 217.7,1982.5C211.8,1986.1 204.9,1989.7 199.3,1993.2C193.7,1996.8 187.8,2000.4 184.0,2004.0C180.2,2007.5 178.0,2011.4 176.3,2014.7C174.7,2018.0 175.8,2021.0 174.0,2023.9C172.3,2026.7 169.1,2029.2 165.6,2031.5C162.2,2033.8 158.0,2035.8 153.4,2037.6C148.8,2039.4 140.6,2041.5 138.1,2042.2" stroke="#2a2a2a" stroke-width="1.2" stroke-dasharray="5.5,2.8"/><path d="M174.0,2023.9C174.9,2025.9 177.2,2032.3 179.4,2036.1C181.6,2039.9 183.7,2043.8 187.1,2046.8C190.4,2049.9 194.7,2053.2 199.3,2054.5C203.9,2055.7 209.5,2055.2 214.6,2054.5C219.7,2053.7 225.3,2051.9 229.9,2049.9C234.5,2047.8 238.6,2045.3 242.2,2042.2C245.7,2039.2 249.1,2034.8 251.4,2031.5C253.6,2028.2 254.8,2026.7 255.9,2022.3C257.1,2018.0 257.6,2012.9 258.2,2005.5C258.9,1998.1 258.6,1987.9 259.8,1977.9C260.9,1968.0 264.2,1951.1 265.1,1945.8" stroke="#2a2a2a" stroke-width="1.2" stroke-dasharray="5.5,2.8"/><path d="M210.0,2054.5C210.0,2060.1 207.2,2082.5 210.0,2088.2C212.8,2093.8 222.8,2087.1 226.9,2088.2C230.9,2089.2 233.2,2093.3 234.5,2094.3" stroke="#2a2a2a" stroke-width="1.2" stroke-dasharray="5.5,2.8"/><path d="M138.1,2043.8C139.6,2044.5 144.2,2045.8 147.2,2048.4C150.3,2050.9 153.9,2055.5 156.4,2059.1C159.0,2062.6 161.3,2066.0 162.6,2069.8C163.8,2073.6 164.3,2077.9 164.1,2082.0C163.8,2086.1 163.1,2090.2 161.0,2094.3C159.0,2098.4 153.4,2104.5 151.8,2106.5" stroke="#2a2a2a" stroke-width="1.2" stroke-dasharray="5.5,2.8"/><path d="M164.1,2085.1C166.9,2084.8 175.6,2083.3 180.9,2083.6C186.3,2083.8 191.4,2085.9 196.2,2086.6C201.1,2087.4 207.7,2087.9 210.0,2088.2" stroke="#2a2a2a" stroke-width="1.2" stroke-dasharray="5.5,2.8"/><path d="M303.4,2039.2C300.9,2041.7 293.2,2049.4 288.1,2054.5C283.0,2059.6 277.9,2065.2 272.8,2069.8C267.7,2074.4 262.6,2078.5 257.5,2082.0C252.4,2085.6 247.3,2088.4 242.2,2091.2C237.1,2094.0 232.0,2096.8 226.9,2098.9C221.8,2100.9 216.6,2102.2 211.5,2103.5C206.4,2104.7 201.3,2106.0 196.2,2106.5C191.1,2107.0 186.0,2107.5 180.9,2106.5C175.8,2105.5 169.2,2102.7 165.6,2100.4C162.0,2098.1 160.5,2094.0 159.5,2092.7" stroke="#2a2a2a" stroke-width="1.2" stroke-dasharray="5.5,2.8"/><path d="M315.6,2048.4C313.6,2051.9 308.0,2063.7 303.4,2069.8C298.8,2075.9 293.2,2080.8 288.1,2085.1C283.0,2089.4 277.9,2092.7 272.8,2095.8C267.7,2098.9 262.6,2101.2 257.5,2103.5C252.4,2105.8 247.3,2107.8 242.2,2109.6C237.1,2111.4 232.0,2112.9 226.9,2114.2C221.8,2115.5 216.6,2116.2 211.5,2117.2C206.4,2118.3 201.3,2119.0 196.2,2120.3C191.1,2121.6 186.0,2123.4 180.9,2124.9C175.8,2126.4 169.7,2128.2 165.6,2129.5C161.5,2130.8 158.0,2132.0 156.4,2132.6" stroke="#2a2a2a" stroke-width="1.2" stroke-dasharray="5.5,2.8"/><path d="M323.3,1976.4C322.0,1979.2 317.7,1986.6 315.6,1993.2C313.6,1999.9 312.1,2009.8 311.1,2016.2C310.0,2022.6 308.5,2027.2 309.5,2031.5C310.5,2035.8 315.1,2039.9 317.2,2042.2C319.2,2044.5 321.0,2044.8 321.8,2045.3" stroke="#2a2a2a" stroke-width="1.2" stroke-dasharray="5.5,2.8"/><path d="M301.9,1979.5C302.9,1981.8 307.2,1986.9 308.0,1993.2C308.8,1999.6 307.5,2010.3 306.5,2017.7C305.4,2025.1 302.6,2034.3 301.9,2037.6" stroke="#2a2a2a" stroke-width="1.2" stroke-dasharray="5.5,2.8"/><path d="M301.9,1979.5C303.4,1978.9 305.7,1977.0 311.1,1976.4C316.4,1975.8 330.2,1975.8 334.0,1975.6" stroke="#2a2a2a" stroke-width="1.2" stroke-dasharray="5.5,2.8"/><path d="M138.1,2109.6C139.6,2109.8 144.4,2109.6 147.2,2111.1C150.1,2112.6 152.4,2116.5 154.9,2118.8C157.5,2121.1 159.5,2124.6 162.6,2124.9C165.6,2125.2 169.4,2122.1 173.3,2120.3C177.1,2118.5 181.7,2116.0 185.5,2114.2C189.3,2112.4 194.5,2110.4 196.2,2109.6" stroke="#2a2a2a" stroke-width="1.2" stroke-dasharray="5.5,2.8"/><path d="M138.1,2115.7C139.1,2116.5 141.9,2118.0 144.2,2120.3C146.5,2122.6 149.3,2127.4 151.8,2129.5C154.4,2131.5 156.4,2133.1 159.5,2132.6C162.6,2132.0 166.6,2127.4 170.2,2126.4C173.8,2125.4 178.4,2125.2 180.9,2126.4C183.5,2127.7 183.5,2133.6 185.5,2134.1C187.6,2134.6 190.1,2131.3 193.2,2129.5C196.2,2127.7 200.3,2124.4 203.9,2123.4C207.5,2122.3 210.8,2122.6 214.6,2123.4C218.4,2124.1 222.8,2127.4 226.9,2128.0C230.9,2128.5 235.0,2128.0 239.1,2126.4C243.2,2124.9 249.3,2120.0 251.4,2118.8" stroke="#2a2a2a" stroke-width="1.2" stroke-dasharray="5.5,2.8"/><path d="M202.4,2115.7C204.4,2115.5 210.5,2113.4 214.6,2114.2C218.7,2114.9 222.3,2119.5 226.9,2120.3C231.4,2121.1 237.1,2120.6 242.2,2118.8C247.3,2117.0 252.4,2112.6 257.5,2109.6C262.6,2106.5 267.7,2103.5 272.8,2100.4C277.9,2097.3 283.0,2095.0 288.1,2091.2C293.2,2087.4 298.8,2082.5 303.4,2077.4C308.0,2072.3 312.3,2066.0 315.6,2060.6C319.0,2055.2 322.0,2047.8 323.3,2045.3" stroke="#2a2a2a" stroke-width="1.2" stroke-dasharray="5.5,2.8"/><path d="M278.9,1941.2C280.4,1942.7 285.0,1946.3 288.1,1950.4C291.2,1954.5 294.7,1960.6 297.3,1965.7C299.8,1970.8 302.4,1978.4 303.4,1981.0" stroke="#2a2a2a" stroke-width="1.2" stroke-dasharray="5.5,2.8"/><path d="M289.6,1941.2C288.3,1943.2 284.8,1949.9 282.0,1953.4C279.2,1957.0 274.3,1961.1 272.8,1962.6" stroke="#2a2a2a" stroke-width="1.2" stroke-dasharray="5.5,2.8"/><path d="M144.2,2048.4C145.2,2050.6 148.5,2057.3 150.3,2062.1C152.1,2067.0 154.6,2072.3 154.9,2077.4C155.2,2082.5 153.9,2088.4 151.8,2092.7C149.8,2097.1 145.0,2101.2 142.7,2103.5C140.4,2105.8 138.8,2106.0 138.1,2106.5" stroke="#2a2a2a" stroke-width="1.2" stroke-dasharray="5.5,2.8"/><path d="M289.6,2075.9C290.6,2075.7 294.5,2073.4 295.7,2074.4C297.0,2075.4 298.6,2080.5 297.3,2082.0C296.0,2083.6 289.9,2082.5 288.1,2083.6C286.3,2084.6 286.8,2087.4 286.6,2088.2" stroke="#2a2a2a" stroke-width="1.2" stroke-dasharray="5.5,2.8"/><ellipse cx="218.9" cy="2019.3" rx="12.6" ry="15.3" transform="rotate(20 218.9 2019.3)" stroke="#333" stroke-width="1.1"/><polygon points="266.7,1940.4 272.2,1940.4 262.4,1972.1 260.2,1971.2" fill="#0a0a0a" stroke="#0a0a0a" stroke-width="0.6"/><path d="M334.0,2023.9C334.3,2026.4 334.7,2034.1 335.6,2039.2C336.4,2044.3 337.6,2049.4 339.4,2054.5C341.2,2059.6 343.6,2065.2 346.3,2069.8C348.9,2074.4 352.1,2078.5 355.5,2082.0C358.8,2085.6 362.3,2088.7 366.2,2091.2C370.0,2093.8 374.3,2095.3 378.4,2097.3C382.5,2099.4 386.6,2101.2 390.7,2103.5C394.7,2105.8 399.6,2108.6 402.9,2111.1C406.2,2113.7 408.5,2116.0 410.6,2118.8C412.6,2121.6 413.6,2124.9 415.2,2128.0C416.7,2131.0 417.7,2134.8 419.8,2137.1C421.8,2139.4 423.8,2140.7 427.4,2141.7C431.0,2142.8 435.8,2143.1 441.2,2143.3C446.5,2143.5 453.2,2143.2 459.6,2143.0C465.9,2142.7 472.3,2142.5 479.5,2141.7C486.6,2141.0 495.8,2139.7 502.4,2138.7C509.1,2137.7 514.7,2136.4 519.3,2135.6C523.9,2134.8 528.2,2134.3 530.0,2134.1" stroke="#222" stroke-width="2.0"/><path d="M402.9,1945.8C405.2,1947.8 411.6,1953.7 416.7,1958.0C421.8,1962.4 427.9,1967.7 433.5,1971.8C439.1,1975.9 444.5,1978.9 450.4,1982.5C456.2,1986.1 463.1,1989.7 468.7,1993.2C474.4,1996.8 480.2,2000.4 484.1,2004.0C487.9,2007.5 490.0,2011.4 491.7,2014.7C493.4,2018.0 492.2,2021.0 494.0,2023.9C495.8,2026.7 499.0,2029.2 502.4,2031.5C505.9,2033.8 510.1,2035.8 514.7,2037.6C519.3,2039.4 527.4,2041.5 530.0,2042.2" stroke="#2a2a2a" stroke-width="1.2" stroke-dasharray="5.5,2.8"/><path d="M494.0,2023.9C493.1,2025.9 490.8,2032.3 488.6,2036.1C486.5,2039.9 484.3,2043.8 481.0,2046.8C477.7,2049.9 473.3,2053.2 468.7,2054.5C464.1,2055.7 458.5,2055.2 453.4,2054.5C448.3,2053.7 442.7,2051.9 438.1,2049.9C433.5,2047.8 429.4,2045.3 425.9,2042.2C422.3,2039.2 419.0,2034.8 416.7,2031.5C414.4,2028.2 413.2,2026.7 412.1,2022.3C410.9,2018.0 410.4,2012.9 409.8,2005.5C409.2,1998.1 409.4,1987.9 408.3,1977.9C407.1,1968.0 403.8,1951.1 402.9,1945.8" stroke="#2a2a2a" stroke-width="1.2" stroke-dasharray="5.5,2.8"/><path d="M458.0,2054.5C458.0,2060.1 460.8,2082.5 458.0,2088.2C455.2,2093.8 445.3,2087.1 441.2,2088.2C437.1,2089.2 434.8,2093.3 433.5,2094.3" stroke="#2a2a2a" stroke-width="1.2" stroke-dasharray="5.5,2.8"/><path d="M530.0,2043.8C528.4,2044.5 523.9,2045.8 520.8,2048.4C517.7,2050.9 514.2,2055.5 511.6,2059.1C509.1,2062.6 506.8,2066.0 505.5,2069.8C504.2,2073.6 503.7,2077.9 504.0,2082.0C504.2,2086.1 505.0,2090.2 507.0,2094.3C509.1,2098.4 514.7,2104.5 516.2,2106.5" stroke="#2a2a2a" stroke-width="1.2" stroke-dasharray="5.5,2.8"/><path d="M504.0,2085.1C501.1,2084.8 492.5,2083.3 487.1,2083.6C481.8,2083.8 476.7,2085.9 471.8,2086.6C467.0,2087.4 460.3,2087.9 458.0,2088.2" stroke="#2a2a2a" stroke-width="1.2" stroke-dasharray="5.5,2.8"/><path d="M364.6,2039.2C367.2,2041.7 374.8,2049.4 379.9,2054.5C385.1,2059.6 390.2,2065.2 395.3,2069.8C400.4,2074.4 405.5,2078.5 410.6,2082.0C415.7,2085.6 420.8,2088.4 425.9,2091.2C431.0,2094.0 436.1,2096.8 441.2,2098.9C446.3,2100.9 451.4,2102.2 456.5,2103.5C461.6,2104.7 466.7,2106.0 471.8,2106.5C476.9,2107.0 482.0,2107.5 487.1,2106.5C492.2,2105.5 498.8,2102.7 502.4,2100.4C506.0,2098.1 507.5,2094.0 508.5,2092.7" stroke="#2a2a2a" stroke-width="1.2" stroke-dasharray="5.5,2.8"/><path d="M352.4,2048.4C354.4,2051.9 360.0,2063.7 364.6,2069.8C369.2,2075.9 374.8,2080.8 379.9,2085.1C385.1,2089.4 390.2,2092.7 395.3,2095.8C400.4,2098.9 405.5,2101.2 410.6,2103.5C415.7,2105.8 420.8,2107.8 425.9,2109.6C431.0,2111.4 436.1,2112.9 441.2,2114.2C446.3,2115.5 451.4,2116.2 456.5,2117.2C461.6,2118.3 466.7,2119.0 471.8,2120.3C476.9,2121.6 482.0,2123.4 487.1,2124.9C492.2,2126.4 498.3,2128.2 502.4,2129.5C506.5,2130.8 510.1,2132.0 511.6,2132.6" stroke="#2a2a2a" stroke-width="1.2" stroke-dasharray="5.5,2.8"/><path d="M344.7,1976.4C346.0,1979.2 350.4,1986.6 352.4,1993.2C354.4,1999.9 356.0,2009.8 357.0,2016.2C358.0,2022.6 359.5,2027.2 358.5,2031.5C357.5,2035.8 352.9,2039.9 350.9,2042.2C348.8,2044.5 347.0,2044.8 346.3,2045.3" stroke="#2a2a2a" stroke-width="1.2" stroke-dasharray="5.5,2.8"/><path d="M366.2,1979.5C365.1,1981.8 360.8,1986.9 360.0,1993.2C359.3,1999.6 360.6,2010.3 361.6,2017.7C362.6,2025.1 365.4,2034.3 366.2,2037.6" stroke="#2a2a2a" stroke-width="1.2" stroke-dasharray="5.5,2.8"/><path d="M366.2,1979.5C364.6,1978.9 362.3,1977.0 357.0,1976.4C351.6,1975.8 337.8,1975.8 334.0,1975.6" stroke="#2a2a2a" stroke-width="1.2" stroke-dasharray="5.5,2.8"/><path d="M530.0,2109.6C528.4,2109.8 523.6,2109.6 520.8,2111.1C518.0,2112.6 515.7,2116.5 513.1,2118.8C510.6,2121.1 508.5,2124.6 505.5,2124.9C502.4,2125.2 498.6,2122.1 494.8,2120.3C490.9,2118.5 486.3,2116.0 482.5,2114.2C478.7,2112.4 473.6,2110.4 471.8,2109.6" stroke="#2a2a2a" stroke-width="1.2" stroke-dasharray="5.5,2.8"/><path d="M530.0,2115.7C529.0,2116.5 526.2,2118.0 523.9,2120.3C521.6,2122.6 518.8,2127.4 516.2,2129.5C513.6,2131.5 511.6,2133.1 508.5,2132.6C505.5,2132.0 501.4,2127.4 497.8,2126.4C494.3,2125.4 489.7,2125.2 487.1,2126.4C484.6,2127.7 484.6,2133.6 482.5,2134.1C480.5,2134.6 477.9,2131.3 474.9,2129.5C471.8,2127.7 467.7,2124.4 464.1,2123.4C460.6,2122.3 457.3,2122.6 453.4,2123.4C449.6,2124.1 445.3,2127.4 441.2,2128.0C437.1,2128.5 433.0,2128.0 428.9,2126.4C424.9,2124.9 418.7,2120.0 416.7,2118.8" stroke="#2a2a2a" stroke-width="1.2" stroke-dasharray="5.5,2.8"/><path d="M465.7,2115.7C463.6,2115.5 457.5,2113.4 453.4,2114.2C449.3,2114.9 445.8,2119.5 441.2,2120.3C436.6,2121.1 431.0,2120.6 425.9,2118.8C420.8,2117.0 415.7,2112.6 410.6,2109.6C405.5,2106.5 400.4,2103.5 395.3,2100.4C390.2,2097.3 385.1,2095.0 379.9,2091.2C374.8,2087.4 369.2,2082.5 364.6,2077.4C360.0,2072.3 355.7,2066.0 352.4,2060.6C349.1,2055.2 346.0,2047.8 344.7,2045.3" stroke="#2a2a2a" stroke-width="1.2" stroke-dasharray="5.5,2.8"/><path d="M389.1,1941.2C387.6,1942.7 383.0,1946.3 379.9,1950.4C376.9,1954.5 373.3,1960.6 370.8,1965.7C368.2,1970.8 365.7,1978.4 364.6,1981.0" stroke="#2a2a2a" stroke-width="1.2" stroke-dasharray="5.5,2.8"/><path d="M378.4,1941.2C379.7,1943.2 383.3,1949.9 386.1,1953.4C388.9,1957.0 393.7,1961.1 395.3,1962.6" stroke="#2a2a2a" stroke-width="1.2" stroke-dasharray="5.5,2.8"/><path d="M523.9,2048.4C522.8,2050.6 519.5,2057.3 517.7,2062.1C515.9,2067.0 513.4,2072.3 513.1,2077.4C512.9,2082.5 514.2,2088.4 516.2,2092.7C518.2,2097.1 523.1,2101.2 525.4,2103.5C527.7,2105.8 529.2,2106.0 530.0,2106.5" stroke="#2a2a2a" stroke-width="1.2" stroke-dasharray="5.5,2.8"/><path d="M378.4,2075.9C377.4,2075.7 373.6,2073.4 372.3,2074.4C371.0,2075.4 369.5,2080.5 370.8,2082.0C372.0,2083.6 378.2,2082.5 379.9,2083.6C381.7,2084.6 381.2,2087.4 381.5,2088.2" stroke="#2a2a2a" stroke-width="1.2" stroke-dasharray="5.5,2.8"/><ellipse cx="449.1" cy="2019.3" rx="12.6" ry="15.3" transform="rotate(-20 449.1 2019.3)" stroke="#333" stroke-width="1.1"/><polygon points="401.4,1940.4 395.9,1940.4 405.7,1972.1 407.8,1971.2" fill="#0a0a0a" stroke="#0a0a0a" stroke-width="0.6"/><line x1="334.0" y1="1938.4" x2="334.0" y2="2023.9" stroke="#222" stroke-width="1.5"/><rect x="138.1" y="1938.4" width="393.2" height="216.3" stroke="#333" stroke-width="1.8"/></g>
<g id="sec2" fill="none" stroke-linecap="butt"><path d="M334.0,2275.3C333.3,2276.8 331.2,2280.9 329.4,2284.5C327.6,2288.0 325.6,2292.4 323.3,2296.7C321.0,2301.1 318.7,2305.7 315.6,2310.5C312.6,2315.3 309.0,2321.0 304.9,2325.8C300.9,2330.7 296.0,2335.2 291.2,2339.6C286.3,2343.9 280.9,2348.3 275.8,2351.8C270.7,2355.4 266.1,2358.2 260.5,2361.0C254.9,2363.8 248.8,2366.5 242.2,2368.7C235.5,2370.8 227.9,2372.9 220.7,2374.0C213.6,2375.2 206.4,2375.4 199.3,2375.6C192.2,2375.7 184.8,2375.4 177.9,2374.8C171.0,2374.2 163.6,2372.9 158.0,2371.7C152.4,2370.6 147.5,2368.9 144.2,2367.9C140.9,2366.9 139.1,2366.0 138.1,2365.6" stroke="#222" stroke-width="2.0"/><path d="M259.0,2176.5C256.7,2178.5 250.6,2184.1 245.2,2188.0C239.9,2192.0 233.0,2196.4 226.9,2200.3C220.7,2204.1 214.1,2207.4 208.5,2211.0C202.9,2214.6 197.8,2218.1 193.2,2221.7C188.6,2225.3 184.2,2228.6 180.9,2232.4C177.6,2236.2 176.3,2241.4 173.3,2244.7C170.2,2248.0 166.4,2250.3 162.6,2252.3C158.7,2254.4 154.4,2255.8 150.3,2256.9C146.2,2258.1 140.1,2258.8 138.1,2259.2" stroke="#2a2a2a" stroke-width="1.2" stroke-dasharray="5.5,2.8"/><path d="M173.3,2244.7C173.0,2247.2 171.5,2255.1 171.7,2260.0C172.0,2264.8 172.8,2269.7 174.8,2273.8C176.8,2277.8 180.4,2281.8 184.0,2284.5C187.6,2287.2 192.2,2289.2 196.2,2289.8C200.3,2290.5 203.9,2289.7 208.5,2288.3C213.1,2286.9 218.7,2284.3 223.8,2281.4C228.9,2278.5 234.5,2274.3 239.1,2270.7C243.7,2267.1 247.8,2263.8 251.4,2260.0C254.9,2256.2 258.2,2252.1 260.5,2247.7C262.8,2243.4 264.4,2240.6 265.1,2234.0C265.9,2227.3 265.6,2215.3 265.1,2207.9C264.6,2200.5 263.0,2194.7 262.1,2189.6C261.2,2184.5 260.2,2179.4 259.8,2177.3" stroke="#2a2a2a" stroke-width="1.2" stroke-dasharray="5.5,2.8"/><path d="M138.1,2298.3C139.6,2298.3 144.4,2297.0 147.2,2298.3C150.1,2299.5 152.4,2303.5 154.9,2305.9C157.5,2308.3 159.2,2311.4 162.6,2312.8C165.9,2314.2 170.5,2313.9 174.8,2314.3C179.1,2314.7 183.7,2314.2 188.6,2315.1C193.4,2316.0 199.0,2318.2 203.9,2319.7C208.7,2321.2 213.3,2323.4 217.7,2324.3C222.0,2325.2 225.3,2326.1 229.9,2325.0C234.5,2324.0 240.1,2321.3 245.2,2318.2C250.3,2315.0 255.9,2310.0 260.5,2305.9C265.1,2301.8 268.7,2297.7 272.8,2293.7C276.9,2289.6 281.5,2285.5 285.0,2281.4C288.6,2277.3 292.7,2271.2 294.2,2269.2" stroke="#2a2a2a" stroke-width="1.2" stroke-dasharray="5.5,2.8"/><path d="M138.1,2322.7C139.6,2323.6 142.7,2327.1 147.2,2328.1C151.8,2329.1 160.0,2328.2 165.6,2328.9C171.2,2329.5 175.8,2330.7 180.9,2331.9C186.0,2333.2 191.1,2335.2 196.2,2336.5C201.3,2337.8 206.4,2338.9 211.5,2339.6C216.6,2340.2 221.8,2341.1 226.9,2340.4C232.0,2339.6 237.1,2337.4 242.2,2335.0C247.3,2332.6 252.4,2329.4 257.5,2325.8C262.6,2322.2 267.7,2318.4 272.8,2313.6C277.9,2308.7 284.0,2301.8 288.1,2296.7C292.2,2291.6 295.5,2287.5 297.3,2282.9C299.1,2278.4 298.6,2271.5 298.8,2269.2" stroke="#2a2a2a" stroke-width="1.2" stroke-dasharray="5.5,2.8"/><path d="M138.1,2341.1C140.1,2342.4 145.7,2346.7 150.3,2348.8C154.9,2350.8 160.0,2352.1 165.6,2353.4C171.2,2354.6 177.9,2355.7 184.0,2356.4C190.1,2357.2 196.2,2357.7 202.4,2358.0C208.5,2358.2 214.6,2358.5 220.7,2358.0C226.9,2357.4 233.0,2356.7 239.1,2354.9C245.2,2353.1 251.9,2350.3 257.5,2347.2C263.1,2344.2 267.7,2340.4 272.8,2336.5C277.9,2332.7 283.0,2328.9 288.1,2324.3C293.2,2319.7 299.3,2313.6 303.4,2309.0C307.5,2304.4 311.1,2298.8 312.6,2296.7" stroke="#2a2a2a" stroke-width="1.2" stroke-dasharray="5.5,2.8"/><path d="M138.1,2351.8C140.1,2353.4 145.7,2358.7 150.3,2361.0C154.9,2363.3 160.0,2364.6 165.6,2365.6C171.2,2366.6 177.9,2366.9 184.0,2367.1C190.1,2367.4 196.2,2367.3 202.4,2367.1C208.5,2367.0 214.6,2366.9 220.7,2366.4C226.9,2365.9 233.0,2365.7 239.1,2364.1C245.2,2362.4 251.9,2359.5 257.5,2356.4C263.1,2353.4 267.7,2349.5 272.8,2345.7C277.9,2341.9 283.0,2338.1 288.1,2333.5C293.2,2328.9 298.8,2323.3 303.4,2318.2C308.0,2313.1 312.6,2307.2 315.6,2302.8C318.7,2298.5 320.8,2293.9 321.8,2292.1" stroke="#2a2a2a" stroke-width="1.2" stroke-dasharray="5.5,2.8"/><path d="M278.9,2171.2C280.4,2172.7 285.5,2176.8 288.1,2180.4C290.6,2183.9 292.7,2188.0 294.2,2192.6C295.7,2197.2 296.8,2201.5 297.3,2207.9C297.8,2214.3 297.3,2223.2 297.3,2230.9C297.3,2238.5 297.0,2247.5 297.3,2253.9C297.5,2260.2 297.8,2264.6 298.8,2269.2C299.8,2273.8 301.4,2277.6 303.4,2281.4C305.4,2285.2 309.8,2290.3 311.1,2292.1" stroke="#2a2a2a" stroke-width="1.2" stroke-dasharray="5.5,2.8"/><path d="M303.4,2207.9C304.7,2210.5 309.5,2216.9 311.1,2223.2C312.6,2229.6 312.6,2238.5 312.6,2246.2C312.6,2253.9 310.5,2262.8 311.1,2269.2C311.6,2275.5 314.9,2281.9 315.6,2284.5" stroke="#2a2a2a" stroke-width="1.2" stroke-dasharray="5.5,2.8"/><path d="M324.8,2172.7C324.1,2174.8 321.5,2180.4 320.2,2185.0C319.0,2189.6 318.2,2196.2 317.2,2200.3C316.2,2204.4 316.4,2208.7 314.1,2209.5C311.8,2210.2 305.2,2205.6 303.4,2204.9" stroke="#2a2a2a" stroke-width="1.2" stroke-dasharray="5.5,2.8"/><path d="M314.1,2209.5C315.6,2210.5 320.0,2213.3 323.3,2215.6C326.6,2217.9 332.2,2222.0 334.0,2223.2" stroke="#2a2a2a" stroke-width="1.2" stroke-dasharray="5.5,2.8"/><path d="M334.0,2253.9C333.5,2253.6 332.0,2251.8 331.0,2252.3C329.9,2252.8 328.7,2254.1 327.9,2256.9C327.1,2259.7 327.1,2265.1 326.4,2269.2C325.6,2273.2 324.6,2278.1 323.3,2281.4C322.0,2284.7 319.5,2287.8 318.7,2289.1" stroke="#2a2a2a" stroke-width="1.2" stroke-dasharray="5.5,2.8"/><path d="M184.0,2331.9C183.7,2333.5 181.9,2338.4 182.5,2341.1C183.0,2343.8 185.0,2347.0 187.1,2348.0C189.1,2349.0 192.4,2348.6 194.7,2347.2C197.0,2345.8 199.8,2340.9 200.8,2339.6" stroke="#2a2a2a" stroke-width="1.2" stroke-dasharray="5.5,2.8"/><path d="M289.6,2171.2C288.3,2172.5 283.2,2177.6 282.0,2178.8" stroke="#2a2a2a" stroke-width="1.2" stroke-dasharray="5.5,2.8"/><path d="M277.4,2328.9C276.9,2330.1 273.8,2334.5 274.3,2336.5C274.8,2338.6 278.4,2341.4 280.4,2341.1C282.5,2340.9 285.5,2336.0 286.6,2335.0" stroke="#2a2a2a" stroke-width="1.2" stroke-dasharray="5.5,2.8"/><ellipse cx="220.7" cy="2241.6" rx="10.7" ry="16.5" transform="rotate(35 220.7 2241.6)" stroke="#333" stroke-width="1.1"/><polygon points="260.2,2172.0 262.7,2172.0 261.5,2198.4 259.3,2198.1" fill="#0a0a0a" stroke="#0a0a0a" stroke-width="0.6"/><path d="M334.0,2275.3C334.8,2276.8 336.8,2280.9 338.6,2284.5C340.4,2288.0 342.4,2292.4 344.7,2296.7C347.0,2301.1 349.3,2305.7 352.4,2310.5C355.5,2315.3 359.0,2321.0 363.1,2325.8C367.2,2330.7 372.0,2335.2 376.9,2339.6C381.7,2343.9 387.1,2348.3 392.2,2351.8C397.3,2355.4 401.9,2358.2 407.5,2361.0C413.1,2363.8 419.2,2366.5 425.9,2368.7C432.5,2370.8 440.2,2372.9 447.3,2374.0C454.5,2375.2 461.6,2375.4 468.7,2375.6C475.9,2375.7 483.3,2375.4 490.2,2374.8C497.1,2374.2 504.5,2372.9 510.1,2371.7C515.7,2370.6 520.5,2368.9 523.9,2367.9C527.2,2366.9 529.0,2366.0 530.0,2365.6" stroke="#222" stroke-width="2.0"/><path d="M409.0,2176.5C411.3,2178.5 417.5,2184.1 422.8,2188.0C428.2,2192.0 435.1,2196.4 441.2,2200.3C447.3,2204.1 453.9,2207.4 459.6,2211.0C465.2,2214.6 470.3,2218.1 474.9,2221.7C479.5,2225.3 483.8,2228.6 487.1,2232.4C490.4,2236.2 491.7,2241.4 494.8,2244.7C497.8,2248.0 501.7,2250.3 505.5,2252.3C509.3,2254.4 513.6,2255.8 517.7,2256.9C521.8,2258.1 527.9,2258.8 530.0,2259.2" stroke="#2a2a2a" stroke-width="1.2" stroke-dasharray="5.5,2.8"/><path d="M494.8,2244.7C495.0,2247.2 496.6,2255.1 496.3,2260.0C496.0,2264.8 495.3,2269.7 493.2,2273.8C491.2,2277.8 487.6,2281.8 484.1,2284.5C480.5,2287.2 475.9,2289.2 471.8,2289.8C467.7,2290.5 464.1,2289.7 459.6,2288.3C455.0,2286.9 449.3,2284.3 444.2,2281.4C439.1,2278.5 433.5,2274.3 428.9,2270.7C424.3,2267.1 420.3,2263.8 416.7,2260.0C413.1,2256.2 409.8,2252.1 407.5,2247.7C405.2,2243.4 403.7,2240.6 402.9,2234.0C402.1,2227.3 402.4,2215.3 402.9,2207.9C403.4,2200.5 405.1,2194.7 406.0,2189.6C406.9,2184.5 407.9,2179.4 408.3,2177.3" stroke="#2a2a2a" stroke-width="1.2" stroke-dasharray="5.5,2.8"/><path d="M530.0,2298.3C528.4,2298.3 523.6,2297.0 520.8,2298.3C518.0,2299.5 515.7,2303.5 513.1,2305.9C510.6,2308.3 508.8,2311.4 505.5,2312.8C502.2,2314.2 497.6,2313.9 493.2,2314.3C488.9,2314.7 484.3,2314.2 479.5,2315.1C474.6,2316.0 469.0,2318.2 464.1,2319.7C459.3,2321.2 454.7,2323.4 450.4,2324.3C446.0,2325.2 442.7,2326.1 438.1,2325.0C433.5,2324.0 427.9,2321.3 422.8,2318.2C417.7,2315.0 412.1,2310.0 407.5,2305.9C402.9,2301.8 399.3,2297.7 395.3,2293.7C391.2,2289.6 386.6,2285.5 383.0,2281.4C379.4,2277.3 375.4,2271.2 373.8,2269.2" stroke="#2a2a2a" stroke-width="1.2" stroke-dasharray="5.5,2.8"/><path d="M530.0,2322.7C528.4,2323.6 525.4,2327.1 520.8,2328.1C516.2,2329.1 508.0,2328.2 502.4,2328.9C496.8,2329.5 492.2,2330.7 487.1,2331.9C482.0,2333.2 476.9,2335.2 471.8,2336.5C466.7,2337.8 461.6,2338.9 456.5,2339.6C451.4,2340.2 446.3,2341.1 441.2,2340.4C436.1,2339.6 431.0,2337.4 425.9,2335.0C420.8,2332.6 415.7,2329.4 410.6,2325.8C405.5,2322.2 400.4,2318.4 395.3,2313.6C390.2,2308.7 384.0,2301.8 379.9,2296.7C375.9,2291.6 372.5,2287.5 370.8,2282.9C369.0,2278.4 369.5,2271.5 369.2,2269.2" stroke="#2a2a2a" stroke-width="1.2" stroke-dasharray="5.5,2.8"/><path d="M530.0,2341.1C527.9,2342.4 522.3,2346.7 517.7,2348.8C513.1,2350.8 508.0,2352.1 502.4,2353.4C496.8,2354.6 490.2,2355.7 484.1,2356.4C477.9,2357.2 471.8,2357.7 465.7,2358.0C459.6,2358.2 453.4,2358.5 447.3,2358.0C441.2,2357.4 435.1,2356.7 428.9,2354.9C422.8,2353.1 416.2,2350.3 410.6,2347.2C405.0,2344.2 400.4,2340.4 395.3,2336.5C390.2,2332.7 385.1,2328.9 379.9,2324.3C374.8,2319.7 368.7,2313.6 364.6,2309.0C360.6,2304.4 357.0,2298.8 355.5,2296.7" stroke="#2a2a2a" stroke-width="1.2" stroke-dasharray="5.5,2.8"/><path d="M530.0,2351.8C527.9,2353.4 522.3,2358.7 517.7,2361.0C513.1,2363.3 508.0,2364.6 502.4,2365.6C496.8,2366.6 490.2,2366.9 484.1,2367.1C477.9,2367.4 471.8,2367.3 465.7,2367.1C459.6,2367.0 453.4,2366.9 447.3,2366.4C441.2,2365.9 435.1,2365.7 428.9,2364.1C422.8,2362.4 416.2,2359.5 410.6,2356.4C405.0,2353.4 400.4,2349.5 395.3,2345.7C390.2,2341.9 385.1,2338.1 379.9,2333.5C374.8,2328.9 369.2,2323.3 364.6,2318.2C360.0,2313.1 355.5,2307.2 352.4,2302.8C349.3,2298.5 347.3,2293.9 346.3,2292.1" stroke="#2a2a2a" stroke-width="1.2" stroke-dasharray="5.5,2.8"/><path d="M389.1,2171.2C387.6,2172.7 382.5,2176.8 379.9,2180.4C377.4,2183.9 375.4,2188.0 373.8,2192.6C372.3,2197.2 371.3,2201.5 370.8,2207.9C370.3,2214.3 370.8,2223.2 370.8,2230.9C370.8,2238.5 371.0,2247.5 370.8,2253.9C370.5,2260.2 370.3,2264.6 369.2,2269.2C368.2,2273.8 366.7,2277.6 364.6,2281.4C362.6,2285.2 358.3,2290.3 357.0,2292.1" stroke="#2a2a2a" stroke-width="1.2" stroke-dasharray="5.5,2.8"/><path d="M364.6,2207.9C363.4,2210.5 358.5,2216.9 357.0,2223.2C355.5,2229.6 355.5,2238.5 355.5,2246.2C355.5,2253.9 357.5,2262.8 357.0,2269.2C356.5,2275.5 353.2,2281.9 352.4,2284.5" stroke="#2a2a2a" stroke-width="1.2" stroke-dasharray="5.5,2.8"/><path d="M343.2,2172.7C344.0,2174.8 346.5,2180.4 347.8,2185.0C349.1,2189.6 349.8,2196.2 350.9,2200.3C351.9,2204.4 351.6,2208.7 353.9,2209.5C356.2,2210.2 362.9,2205.6 364.6,2204.9" stroke="#2a2a2a" stroke-width="1.2" stroke-dasharray="5.5,2.8"/><path d="M353.9,2209.5C352.4,2210.5 348.1,2213.3 344.7,2215.6C341.4,2217.9 335.8,2222.0 334.0,2223.2" stroke="#2a2a2a" stroke-width="1.2" stroke-dasharray="5.5,2.8"/><path d="M334.0,2253.9C334.5,2253.6 336.1,2251.8 337.1,2252.3C338.1,2252.8 339.4,2254.1 340.1,2256.9C340.9,2259.7 340.9,2265.1 341.7,2269.2C342.4,2273.2 343.5,2278.1 344.7,2281.4C346.0,2284.7 348.6,2287.8 349.3,2289.1" stroke="#2a2a2a" stroke-width="1.2" stroke-dasharray="5.5,2.8"/><path d="M484.1,2331.9C484.3,2333.5 486.1,2338.4 485.6,2341.1C485.1,2343.8 483.0,2347.0 481.0,2348.0C478.9,2349.0 475.6,2348.6 473.3,2347.2C471.0,2345.8 468.2,2340.9 467.2,2339.6" stroke="#2a2a2a" stroke-width="1.2" stroke-dasharray="5.5,2.8"/><path d="M378.4,2171.2C379.7,2172.5 384.8,2177.6 386.1,2178.8" stroke="#2a2a2a" stroke-width="1.2" stroke-dasharray="5.5,2.8"/><path d="M390.7,2328.9C391.2,2330.1 394.2,2334.5 393.7,2336.5C393.2,2338.6 389.6,2341.4 387.6,2341.1C385.6,2340.9 382.5,2336.0 381.5,2335.0" stroke="#2a2a2a" stroke-width="1.2" stroke-dasharray="5.5,2.8"/><ellipse cx="447.3" cy="2241.6" rx="10.7" ry="16.5" transform="rotate(-35 447.3 2241.6)" stroke="#333" stroke-width="1.1"/><polygon points="407.8,2172.0 405.4,2172.0 406.6,2198.4 408.7,2198.1" fill="#0a0a0a" stroke="#0a0a0a" stroke-width="0.6"/><rect x="138.1" y="2168.4" width="395.5" height="219.4" stroke="#333" stroke-width="1.8"/></g>
<g id="sec3" fill="none" stroke-linecap="butt"><path d="M334.0,2522.1C333.0,2523.9 330.4,2529.0 327.9,2532.8C325.3,2536.6 322.0,2541.5 318.7,2545.0C315.4,2548.6 311.6,2551.4 308.0,2554.2C304.4,2557.0 300.7,2559.6 297.3,2561.9C293.8,2564.2 289.9,2566.0 287.3,2568.0C284.8,2570.0 284.4,2571.3 282.0,2574.1C279.5,2576.9 276.4,2581.3 272.8,2584.8C269.2,2588.4 265.1,2592.2 260.5,2595.6C255.9,2598.9 250.8,2602.3 245.2,2604.7C239.6,2607.2 233.5,2608.8 226.9,2610.1C220.2,2611.4 212.6,2612.1 205.4,2612.4C198.3,2612.6 191.1,2612.1 184.0,2611.6C176.8,2611.1 168.7,2610.2 162.6,2609.3C156.4,2608.4 151.3,2607.3 147.2,2606.3C143.2,2605.2 139.6,2603.7 138.1,2603.2" stroke="#222" stroke-width="2.0"/><path d="M255.9,2404.2C254.2,2406.5 249.6,2413.6 245.2,2418.0C240.9,2422.3 235.5,2426.4 229.9,2430.2C224.3,2434.0 217.7,2437.4 211.5,2440.9C205.4,2444.5 198.5,2448.1 193.2,2451.6C187.8,2455.2 182.8,2458.5 179.4,2462.4C176.0,2466.2 173.9,2471.5 172.5,2474.6C171.1,2477.7 172.6,2478.2 171.0,2480.7C169.3,2483.3 166.0,2487.1 162.6,2489.9C159.1,2492.7 154.4,2495.5 150.3,2497.6C146.2,2499.6 140.1,2501.4 138.1,2502.2" stroke="#2a2a2a" stroke-width="1.2" stroke-dasharray="5.5,2.8"/><path d="M171.0,2480.7C171.1,2482.8 170.6,2489.2 171.7,2493.0C172.9,2496.8 175.3,2501.0 177.9,2503.7C180.4,2506.4 183.0,2508.0 187.1,2509.1C191.1,2510.1 196.7,2510.2 202.4,2509.8C208.0,2509.4 215.1,2508.3 220.7,2506.8C226.3,2505.2 231.4,2503.4 236.0,2500.6C240.6,2497.8 245.0,2493.7 248.3,2489.9C251.6,2486.1 254.2,2482.3 255.9,2477.7C257.7,2473.1 258.4,2468.5 259.0,2462.4C259.6,2456.2 260.0,2447.1 259.8,2440.9C259.5,2434.8 257.9,2428.2 257.5,2425.6" stroke="#2a2a2a" stroke-width="1.2" stroke-dasharray="5.5,2.8"/><path d="M187.1,2509.8C186.9,2516.2 186.4,2541.7 186.3,2548.1" stroke="#2a2a2a" stroke-width="1.2" stroke-dasharray="5.5,2.8"/><path d="M186.3,2548.1C182.8,2548.2 171.6,2549.1 165.6,2548.9C159.6,2548.6 154.9,2548.0 150.3,2546.6C145.7,2545.2 140.1,2541.5 138.1,2540.4" stroke="#2a2a2a" stroke-width="1.2" stroke-dasharray="5.5,2.8"/><path d="M187.1,2548.1C188.1,2549.4 190.9,2554.6 193.2,2555.7C195.5,2556.9 198.0,2555.6 200.8,2555.0C203.6,2554.3 207.2,2551.8 210.0,2551.9C212.8,2552.0 215.4,2554.3 217.7,2555.7C220.0,2557.2 221.5,2560.3 223.8,2560.3C226.1,2560.3 228.4,2557.5 231.4,2555.7C234.5,2554.0 238.8,2551.2 242.2,2549.6C245.5,2548.1 248.8,2546.6 251.4,2546.6C253.9,2546.6 256.5,2549.1 257.5,2549.6" stroke="#2a2a2a" stroke-width="1.2" stroke-dasharray="5.5,2.8"/><path d="M291.2,2425.6C291.4,2430.7 292.7,2446.0 292.7,2456.2C292.7,2466.4 292.2,2478.7 291.2,2486.9C290.1,2495.0 288.6,2499.4 286.6,2505.2C284.5,2511.1 281.7,2517.0 278.9,2522.1C276.1,2527.2 273.3,2531.5 269.7,2535.8C266.1,2540.2 259.5,2546.1 257.5,2548.1" stroke="#2a2a2a" stroke-width="1.2" stroke-dasharray="5.5,2.8"/><path d="M300.3,2433.3C300.6,2438.4 301.9,2453.7 301.9,2463.9C301.9,2474.1 301.6,2485.6 300.3,2494.5C299.1,2503.4 296.3,2511.1 294.2,2517.5C292.2,2523.9 289.4,2527.7 288.1,2532.8C286.8,2537.9 286.8,2542.5 286.6,2548.1C286.3,2553.7 286.6,2563.4 286.6,2566.5" stroke="#2a2a2a" stroke-width="1.2" stroke-dasharray="5.5,2.8"/><path d="M334.0,2463.1C331.5,2463.4 323.0,2463.8 318.7,2464.7C314.4,2465.6 310.3,2463.5 308.0,2468.5C305.7,2473.5 306.7,2486.3 304.9,2494.5C303.1,2502.7 298.6,2513.6 297.3,2517.5" stroke="#2a2a2a" stroke-width="1.2" stroke-dasharray="5.5,2.8"/><path d="M288.1,2542.0C289.6,2543.0 294.0,2547.3 297.3,2548.1C300.6,2548.9 304.4,2548.3 308.0,2546.6C311.6,2544.8 315.6,2540.9 318.7,2537.4C321.8,2533.8 324.3,2529.5 326.4,2525.1C328.4,2520.8 329.7,2514.7 331.0,2511.4C332.2,2508.0 333.5,2506.2 334.0,2505.2" stroke="#2a2a2a" stroke-width="1.2" stroke-dasharray="5.5,2.8"/><path d="M138.1,2564.9C142.7,2564.9 155.9,2564.4 165.6,2564.9C175.3,2565.4 187.1,2567.2 196.2,2568.0C205.4,2568.8 214.4,2569.3 220.7,2569.5C227.1,2569.8 230.4,2570.5 234.5,2569.5C238.6,2568.5 241.7,2566.0 245.2,2563.4C248.8,2560.9 254.2,2555.7 255.9,2554.2" stroke="#2a2a2a" stroke-width="1.2" stroke-dasharray="5.5,2.8"/><path d="M138.1,2571.1C139.6,2571.8 143.9,2575.6 147.2,2575.6C150.6,2575.6 152.9,2571.8 158.0,2571.1C163.1,2570.3 174.5,2571.1 177.9,2571.1" stroke="#2a2a2a" stroke-width="1.2" stroke-dasharray="5.5,2.8"/><path d="M138.1,2581.8C140.1,2582.5 144.4,2584.8 150.3,2586.4C156.2,2587.9 165.6,2589.9 173.3,2591.0C180.9,2592.0 188.8,2592.5 196.2,2592.5C203.6,2592.5 212.8,2592.2 217.7,2591.0C222.5,2589.7 223.5,2587.1 225.3,2584.8C227.1,2582.5 225.6,2578.2 228.4,2577.2C231.2,2576.2 238.3,2579.2 242.2,2578.7C246.0,2578.2 248.8,2576.7 251.4,2574.1C253.9,2571.6 256.7,2567.2 257.5,2563.4C258.2,2559.6 256.2,2553.2 255.9,2551.2" stroke="#2a2a2a" stroke-width="1.2" stroke-dasharray="5.5,2.8"/><path d="M138.1,2589.4C140.1,2590.4 144.4,2593.6 150.3,2595.6C156.2,2597.5 165.6,2599.9 173.3,2600.9C180.9,2601.9 188.6,2601.8 196.2,2601.7C203.9,2601.5 212.1,2601.4 219.2,2600.1C226.3,2598.9 233.2,2596.6 239.1,2594.0C245.0,2591.5 249.8,2587.9 254.4,2584.8C259.0,2581.8 263.6,2578.7 266.7,2575.6C269.7,2572.6 272.8,2569.5 272.8,2566.5C272.8,2563.4 269.0,2560.1 266.7,2557.3C264.4,2554.5 260.3,2550.9 259.0,2549.6" stroke="#2a2a2a" stroke-width="1.2" stroke-dasharray="5.5,2.8"/><path d="M272.8,2402.7C274.3,2404.4 279.4,2409.5 282.0,2413.4C284.5,2417.2 287.1,2423.6 288.1,2425.6" stroke="#2a2a2a" stroke-width="1.2" stroke-dasharray="5.5,2.8"/><path d="M303.4,2404.2C303.9,2405.7 304.7,2412.4 306.5,2413.4C308.2,2414.4 312.1,2412.1 314.1,2410.3C316.2,2408.5 317.9,2403.9 318.7,2402.7" stroke="#2a2a2a" stroke-width="1.2" stroke-dasharray="5.5,2.8"/><path d="M326.4,2404.2C324.8,2406.7 319.7,2413.4 317.2,2419.5C314.6,2425.6 312.6,2432.8 311.1,2440.9C309.5,2449.1 308.5,2463.9 308.0,2468.5" stroke="#2a2a2a" stroke-width="1.2" stroke-dasharray="5.5,2.8"/><path d="M236.0,2566.5C235.8,2567.7 233.5,2572.6 234.5,2574.1C235.5,2575.6 240.6,2576.7 242.2,2575.6C243.7,2574.6 243.4,2569.3 243.7,2568.0" stroke="#2a2a2a" stroke-width="1.2" stroke-dasharray="5.5,2.8"/><ellipse cx="222.3" cy="2469.2" rx="8.4" ry="19.1" transform="rotate(38 222.3 2469.2)" stroke="#333" stroke-width="1.1"/><polygon points="257.5,2401.9 262.1,2401.9 256.2,2437.6 254.4,2436.6" fill="#0a0a0a" stroke="#0a0a0a" stroke-width="0.6"/><path d="M334.0,2522.1C335.0,2523.9 337.6,2529.0 340.1,2532.8C342.7,2536.6 346.0,2541.5 349.3,2545.0C352.6,2548.6 356.5,2551.4 360.0,2554.2C363.6,2557.0 367.3,2559.6 370.8,2561.9C374.2,2564.2 378.2,2566.0 380.7,2568.0C383.3,2570.0 383.6,2571.3 386.1,2574.1C388.5,2576.9 391.7,2581.3 395.3,2584.8C398.8,2588.4 402.9,2592.2 407.5,2595.6C412.1,2598.9 417.2,2602.3 422.8,2604.7C428.4,2607.2 434.6,2608.8 441.2,2610.1C447.8,2611.4 455.5,2612.1 462.6,2612.4C469.8,2612.6 476.9,2612.1 484.1,2611.6C491.2,2611.1 499.4,2610.2 505.5,2609.3C511.6,2608.4 516.7,2607.3 520.8,2606.3C524.9,2605.2 528.4,2603.7 530.0,2603.2" stroke="#222" stroke-width="2.0"/><path d="M412.1,2404.2C413.9,2406.5 418.5,2413.6 422.8,2418.0C427.2,2422.3 432.5,2426.4 438.1,2430.2C443.7,2434.0 450.4,2437.4 456.5,2440.9C462.6,2444.5 469.5,2448.1 474.9,2451.6C480.2,2455.2 485.2,2458.5 488.6,2462.4C492.1,2466.2 494.1,2471.5 495.5,2474.6C496.9,2477.7 495.4,2478.2 497.1,2480.7C498.7,2483.3 502.0,2487.1 505.5,2489.9C508.9,2492.7 513.6,2495.5 517.7,2497.6C521.8,2499.6 527.9,2501.4 530.0,2502.2" stroke="#2a2a2a" stroke-width="1.2" stroke-dasharray="5.5,2.8"/><path d="M497.1,2480.7C496.9,2482.8 497.4,2489.2 496.3,2493.0C495.2,2496.8 492.7,2501.0 490.2,2503.7C487.6,2506.4 485.1,2508.0 481.0,2509.1C476.9,2510.1 471.3,2510.2 465.7,2509.8C460.1,2509.4 452.9,2508.3 447.3,2506.8C441.7,2505.2 436.6,2503.4 432.0,2500.6C427.4,2497.8 423.1,2493.7 419.8,2489.9C416.4,2486.1 413.9,2482.3 412.1,2477.7C410.3,2473.1 409.7,2468.5 409.0,2462.4C408.4,2456.2 408.0,2447.1 408.3,2440.9C408.5,2434.8 410.2,2428.2 410.6,2425.6" stroke="#2a2a2a" stroke-width="1.2" stroke-dasharray="5.5,2.8"/><path d="M481.0,2509.8C481.1,2516.2 481.6,2541.7 481.8,2548.1" stroke="#2a2a2a" stroke-width="1.2" stroke-dasharray="5.5,2.8"/><path d="M481.8,2548.1C485.2,2548.2 496.4,2549.1 502.4,2548.9C508.4,2548.6 513.1,2548.0 517.7,2546.6C522.3,2545.2 527.9,2541.5 530.0,2540.4" stroke="#2a2a2a" stroke-width="1.2" stroke-dasharray="5.5,2.8"/><path d="M481.0,2548.1C480.0,2549.4 477.2,2554.6 474.9,2555.7C472.6,2556.9 470.0,2555.6 467.2,2555.0C464.4,2554.3 460.8,2551.8 458.0,2551.9C455.2,2552.0 452.7,2554.3 450.4,2555.7C448.1,2557.2 446.5,2560.3 444.2,2560.3C442.0,2560.3 439.7,2557.5 436.6,2555.7C433.5,2554.0 429.2,2551.2 425.9,2549.6C422.6,2548.1 419.2,2546.6 416.7,2546.6C414.1,2546.6 411.6,2549.1 410.6,2549.6" stroke="#2a2a2a" stroke-width="1.2" stroke-dasharray="5.5,2.8"/><path d="M376.9,2425.6C376.6,2430.7 375.4,2446.0 375.4,2456.2C375.4,2466.4 375.9,2478.7 376.9,2486.9C377.9,2495.0 379.4,2499.4 381.5,2505.2C383.5,2511.1 386.3,2517.0 389.1,2522.1C391.9,2527.2 394.7,2531.5 398.3,2535.8C401.9,2540.2 408.5,2546.1 410.6,2548.1" stroke="#2a2a2a" stroke-width="1.2" stroke-dasharray="5.5,2.8"/><path d="M367.7,2433.3C367.4,2438.4 366.2,2453.7 366.2,2463.9C366.2,2474.1 366.4,2485.6 367.7,2494.5C369.0,2503.4 371.8,2511.1 373.8,2517.5C375.9,2523.9 378.7,2527.7 379.9,2532.8C381.2,2537.9 381.2,2542.5 381.5,2548.1C381.7,2553.7 381.5,2563.4 381.5,2566.5" stroke="#2a2a2a" stroke-width="1.2" stroke-dasharray="5.5,2.8"/><path d="M334.0,2463.1C336.6,2463.4 345.0,2463.8 349.3,2464.7C353.7,2465.6 357.7,2463.5 360.0,2468.5C362.3,2473.5 361.3,2486.3 363.1,2494.5C364.9,2502.7 369.5,2513.6 370.8,2517.5" stroke="#2a2a2a" stroke-width="1.2" stroke-dasharray="5.5,2.8"/><path d="M379.9,2542.0C378.4,2543.0 374.1,2547.3 370.8,2548.1C367.4,2548.9 363.6,2548.3 360.0,2546.6C356.5,2544.8 352.4,2540.9 349.3,2537.4C346.3,2533.8 343.7,2529.5 341.7,2525.1C339.6,2520.8 338.4,2514.7 337.1,2511.4C335.8,2508.0 334.5,2506.2 334.0,2505.2" stroke="#2a2a2a" stroke-width="1.2" stroke-dasharray="5.5,2.8"/><path d="M530.0,2564.9C525.4,2564.9 512.1,2564.4 502.4,2564.9C492.7,2565.4 481.0,2567.2 471.8,2568.0C462.6,2568.8 453.7,2569.3 447.3,2569.5C440.9,2569.8 437.6,2570.5 433.5,2569.5C429.4,2568.5 426.4,2566.0 422.8,2563.4C419.2,2560.9 413.9,2555.7 412.1,2554.2" stroke="#2a2a2a" stroke-width="1.2" stroke-dasharray="5.5,2.8"/><path d="M530.0,2571.1C528.4,2571.8 524.1,2575.6 520.8,2575.6C517.5,2575.6 515.2,2571.8 510.1,2571.1C505.0,2570.3 493.5,2571.1 490.2,2571.1" stroke="#2a2a2a" stroke-width="1.2" stroke-dasharray="5.5,2.8"/><path d="M530.0,2581.8C527.9,2582.5 523.6,2584.8 517.7,2586.4C511.9,2587.9 502.4,2589.9 494.8,2591.0C487.1,2592.0 479.2,2592.5 471.8,2592.5C464.4,2592.5 455.2,2592.2 450.4,2591.0C445.5,2589.7 444.5,2587.1 442.7,2584.8C440.9,2582.5 442.5,2578.2 439.7,2577.2C436.8,2576.2 429.7,2579.2 425.9,2578.7C422.0,2578.2 419.2,2576.7 416.7,2574.1C414.1,2571.6 411.3,2567.2 410.6,2563.4C409.8,2559.6 411.8,2553.2 412.1,2551.2" stroke="#2a2a2a" stroke-width="1.2" stroke-dasharray="5.5,2.8"/><path d="M530.0,2589.4C527.9,2590.4 523.6,2593.6 517.7,2595.6C511.9,2597.5 502.4,2599.9 494.8,2600.9C487.1,2601.9 479.5,2601.8 471.8,2601.7C464.1,2601.5 456.0,2601.4 448.8,2600.1C441.7,2598.9 434.8,2596.6 428.9,2594.0C423.1,2591.5 418.2,2587.9 413.6,2584.8C409.0,2581.8 404.4,2578.7 401.4,2575.6C398.3,2572.6 395.3,2569.5 395.3,2566.5C395.3,2563.4 399.1,2560.1 401.4,2557.3C403.7,2554.5 407.8,2550.9 409.0,2549.6" stroke="#2a2a2a" stroke-width="1.2" stroke-dasharray="5.5,2.8"/><path d="M395.3,2402.7C393.7,2404.4 388.6,2409.5 386.1,2413.4C383.5,2417.2 381.0,2423.6 379.9,2425.6" stroke="#2a2a2a" stroke-width="1.2" stroke-dasharray="5.5,2.8"/><path d="M364.6,2404.2C364.1,2405.7 363.4,2412.4 361.6,2413.4C359.8,2414.4 356.0,2412.1 353.9,2410.3C351.9,2408.5 350.1,2403.9 349.3,2402.7" stroke="#2a2a2a" stroke-width="1.2" stroke-dasharray="5.5,2.8"/><path d="M341.7,2404.2C343.2,2406.7 348.3,2413.4 350.9,2419.5C353.4,2425.6 355.5,2432.8 357.0,2440.9C358.5,2449.1 359.5,2463.9 360.0,2468.5" stroke="#2a2a2a" stroke-width="1.2" stroke-dasharray="5.5,2.8"/><path d="M432.0,2566.5C432.3,2567.7 434.6,2572.6 433.5,2574.1C432.5,2575.6 427.4,2576.7 425.9,2575.6C424.3,2574.6 424.6,2569.3 424.3,2568.0" stroke="#2a2a2a" stroke-width="1.2" stroke-dasharray="5.5,2.8"/><ellipse cx="445.8" cy="2469.2" rx="8.4" ry="19.1" transform="rotate(-38 445.8 2469.2)" stroke="#333" stroke-width="1.1"/><polygon points="410.6,2401.9 406.0,2401.9 411.8,2437.6 413.6,2436.6" fill="#0a0a0a" stroke="#0a0a0a" stroke-width="0.6"/><rect x="138.1" y="2401.4" width="395.5" height="218.6" stroke="#333" stroke-width="1.8"/></g>
</defs>
<text x="109.5" y="1917.6" font-size="37" text-anchor="start" font-weight="bold" fill="#111" stroke="#111" stroke-width="0.45">m</text>
<text x="733.5" y="1917.6" font-size="37" text-anchor="start" font-weight="bold" fill="#111" stroke="#111" stroke-width="0.45">p</text>
<ellipse cx="282.3" cy="1995.3" rx="25.3" ry="43.9" fill="#ff1f3d" opacity="0.45" transform="rotate(0 282.3 1995.3)"/>
<ellipse cx="281.3" cy="1988.3" rx="21.1" ry="35.1" fill="#ff1f3d" opacity="0.45" transform="rotate(0 281.3 1988.3)"/>
<ellipse cx="283.8" cy="2005.8" rx="19.3" ry="33.3" fill="#ff1f3d" opacity="0.35" transform="rotate(0 283.8 2005.8)"/>
<ellipse cx="276.0" cy="2023.4" rx="15.8" ry="19.3" fill="#ff1f3d" opacity="0.25" transform="rotate(0 276.0 2023.4)"/>
<ellipse cx="387.6" cy="1997.1" rx="24.6" ry="38.6" fill="#ff1f3d" opacity="0.45" transform="rotate(0 387.6 1997.1)"/>
<ellipse cx="386.6" cy="1991.8" rx="20.4" ry="29.8" fill="#ff1f3d" opacity="0.45" transform="rotate(0 386.6 1991.8)"/>
<ellipse cx="395.4" cy="2009.3" rx="19.3" ry="31.6" fill="#ff1f3d" opacity="0.3" transform="rotate(0 395.4 2009.3)"/>
<ellipse cx="377.8" cy="2019.9" rx="14.7" ry="19.3" fill="#ff1f3d" opacity="0.25" transform="rotate(0 377.8 2019.9)"/>
<ellipse cx="285.9" cy="2227.9" rx="24.6" ry="42.8" fill="#ff1f3d" opacity="0.32" transform="rotate(0 285.9 2227.9)"/>
<ellipse cx="282.3" cy="2218.4" rx="17.6" ry="33.3" fill="#ff1f3d" opacity="0.35" transform="rotate(0 282.3 2218.4)"/>
<ellipse cx="291.8" cy="2230.7" rx="15.8" ry="35.1" fill="#ff1f3d" opacity="0.25" transform="rotate(0 291.8 2230.7)"/>
<ellipse cx="389.4" cy="2222.0" rx="24.6" ry="39.3" fill="#ff1f3d" opacity="0.32" transform="rotate(0 389.4 2222.0)"/>
<ellipse cx="388.4" cy="2216.7" rx="16.8" ry="33.3" fill="#ff1f3d" opacity="0.35" transform="rotate(0 388.4 2216.7)"/>
<ellipse cx="398.9" cy="2229.0" rx="14.0" ry="29.8" fill="#ff1f3d" opacity="0.2" transform="rotate(0 398.9 2229.0)"/>
<rect x="253.2" y="2414.4" width="49.1" height="64.6" rx="20.4" ry="21.8" fill="#ff1f3d" opacity="0.36"/>
<g opacity="0.36" fill="#ff1f3d">
<ellipse cx="382.7" cy="2422.8" rx="11.6" ry="14.0"/>
<ellipse cx="380.6" cy="2464.9" rx="18.6" ry="33.3" transform="rotate(-6 380.6 2464.9)"/>
<rect x="370.8" y="2422.1" width="21.8" height="28.1"/>
</g>
<ellipse cx="902.3" cy="1999.5" rx="32.3" ry="41.4" fill="#ff1f3d" opacity="0.33" transform="rotate(0 902.3 1999.5)"/>
<ellipse cx="906.6" cy="1995.3" rx="21.8" ry="35.1" fill="#ff1f3d" opacity="0.45" transform="rotate(0 906.6 1995.3)"/>
<ellipse cx="904.8" cy="1988.3" rx="17.6" ry="26.3" fill="#ff1f3d" opacity="0.4" transform="rotate(0 904.8 1988.3)"/>
<ellipse cx="1006.6" cy="1993.5" rx="24.6" ry="40.4" fill="#ff1f3d" opacity="0.4" transform="rotate(0 1006.6 1993.5)"/>
<ellipse cx="1004.8" cy="1984.8" rx="19.3" ry="29.8" fill="#ff1f3d" opacity="0.45" transform="rotate(0 1004.8 1984.8)"/>
<ellipse cx="1012.6" cy="1965.5" rx="10.5" ry="14.0" fill="#ff1f3d" opacity="0.35" transform="rotate(0 1012.6 1965.5)"/>
<ellipse cx="1011.9" cy="2005.8" rx="17.6" ry="28.1" fill="#ff1f3d" opacity="0.25" transform="rotate(0 1011.9 2005.8)"/>
<ellipse cx="905.9" cy="2218.4" rx="23.5" ry="28.8" fill="#ff1f3d" opacity="0.38" transform="rotate(0 905.9 2218.4)"/>
<ellipse cx="907.3" cy="2213.9" rx="15.8" ry="21.1" fill="#ff1f3d" opacity="0.3" transform="rotate(0 907.3 2213.9)"/>
<ellipse cx="1005.5" cy="2212.8" rx="20.0" ry="27.4" fill="#ff1f3d" opacity="0.38" transform="rotate(0 1005.5 2212.8)"/>
<ellipse cx="1006.6" cy="2208.6" rx="14.0" ry="19.3" fill="#ff1f3d" opacity="0.3" transform="rotate(0 1006.6 2208.6)"/>
<use href="#sec1"/><use href="#sec2"/><use href="#sec3"/>
<g transform="translate(623.4,18.3)"><use href="#sec1"/><use href="#sec2"/><use href="#sec3"/></g>
<circle cx="272.5" cy="1959.1" r="3.3" fill="#e8102c" stroke="#b00c20" stroke-width="0.8"/>
<circle cx="284.1" cy="1970.0" r="3.3" fill="#e8102c" stroke="#b00c20" stroke-width="0.8"/>
<circle cx="277.8" cy="1974.2" r="3.3" fill="#e8102c" stroke="#b00c20" stroke-width="0.8"/>
<circle cx="284.8" cy="1982.0" r="3.3" fill="#e8102c" stroke="#b00c20" stroke-width="0.8"/>
<circle cx="273.2" cy="1984.8" r="3.3" fill="#e8102c" stroke="#b00c20" stroke-width="0.8"/>
<circle cx="279.5" cy="1994.6" r="3.3" fill="#e8102c" stroke="#b00c20" stroke-width="0.8"/>
<circle cx="384.1" cy="1967.9" r="3.3" fill="#e8102c" stroke="#b00c20" stroke-width="0.8"/>
<circle cx="396.1" cy="1969.0" r="3.3" fill="#e8102c" stroke="#b00c20" stroke-width="0.8"/>
<circle cx="388.4" cy="1976.0" r="3.3" fill="#e8102c" stroke="#b00c20" stroke-width="0.8"/>
<circle cx="382.4" cy="1983.7" r="3.3" fill="#e8102c" stroke="#b00c20" stroke-width="0.8"/>
<circle cx="377.8" cy="1998.1" r="3.3" fill="#e8102c" stroke="#b00c20" stroke-width="0.8"/>
<circle cx="398.9" cy="1999.5" r="3.3" fill="#e8102c" stroke="#b00c20" stroke-width="0.8"/>
<circle cx="285.2" cy="2192.8" r="3.3" fill="#e8102c" stroke="#b00c20" stroke-width="0.8"/>
<circle cx="278.8" cy="2205.1" r="3.3" fill="#e8102c" stroke="#b00c20" stroke-width="0.8"/>
<circle cx="290.8" cy="2216.7" r="3.3" fill="#e8102c" stroke="#b00c20" stroke-width="0.8"/>
<circle cx="391.2" cy="2193.9" r="3.3" fill="#e8102c" stroke="#b00c20" stroke-width="0.8"/>
<circle cx="384.8" cy="2205.5" r="3.3" fill="#e8102c" stroke="#b00c20" stroke-width="0.8"/>
<circle cx="394.7" cy="2215.6" r="3.3" fill="#e8102c" stroke="#b00c20" stroke-width="0.8"/>
<circle cx="284.8" cy="2429.1" r="3.3" fill="#e8102c" stroke="#b00c20" stroke-width="0.8"/>
<circle cx="386.6" cy="2444.9" r="3.3" fill="#e8102c" stroke="#b00c20" stroke-width="0.8"/>
<circle cx="899.5" cy="1971.4" r="3.3" fill="#e8102c" stroke="#b00c20" stroke-width="0.8"/>
<circle cx="905.9" cy="1976.0" r="3.3" fill="#e8102c" stroke="#b00c20" stroke-width="0.8"/>
<circle cx="910.8" cy="1979.5" r="3.3" fill="#e8102c" stroke="#b00c20" stroke-width="0.8"/>
<circle cx="889.0" cy="1979.5" r="3.3" fill="#e8102c" stroke="#b00c20" stroke-width="0.8"/>
<circle cx="901.3" cy="1998.8" r="3.3" fill="#e8102c" stroke="#b00c20" stroke-width="0.8"/>
<circle cx="1012.6" cy="1956.7" r="3.3" fill="#e8102c" stroke="#b00c20" stroke-width="0.8"/>
<circle cx="993.6" cy="1971.8" r="3.3" fill="#e8102c" stroke="#b00c20" stroke-width="0.8"/>
<circle cx="1010.1" cy="1974.2" r="3.3" fill="#e8102c" stroke="#b00c20" stroke-width="0.8"/>
<circle cx="1001.3" cy="1977.8" r="3.3" fill="#e8102c" stroke="#b00c20" stroke-width="0.8"/>
<circle cx="1014.7" cy="1994.6" r="3.3" fill="#e8102c" stroke="#b00c20" stroke-width="0.8"/>
<circle cx="913.6" cy="2203.3" r="3.3" fill="#e8102c" stroke="#b00c20" stroke-width="0.8"/>
<circle cx="905.9" cy="2212.8" r="3.3" fill="#e8102c" stroke="#b00c20" stroke-width="0.8"/>
<circle cx="1008.4" cy="2199.8" r="3.3" fill="#e8102c" stroke="#b00c20" stroke-width="0.8"/>
<circle cx="1002.0" cy="2209.7" r="3.3" fill="#e8102c" stroke="#b00c20" stroke-width="0.8"/>
<text x="454.5" y="1964.3" font-size="26" text-anchor="start" font-weight="normal" fill="#1c1c1c" stroke="#1c1c1c" stroke-width="0.45">+1.68</text>
<text x="454.5" y="2194.5" font-size="26" text-anchor="start" font-weight="normal" fill="#1c1c1c" stroke="#1c1c1c" stroke-width="0.45">+1.44</text>
<text x="454.5" y="2427.5" font-size="26" text-anchor="start" font-weight="normal" fill="#1c1c1c" stroke="#1c1c1c" stroke-width="0.45">+1.20</text>
<text x="1077.9" y="1982.6" font-size="26" text-anchor="start" font-weight="normal" fill="#1c1c1c" stroke="#1c1c1c" stroke-width="0.45">+1.68</text>
<text x="1077.9" y="2212.8" font-size="26" text-anchor="start" font-weight="normal" fill="#1c1c1c" stroke="#1c1c1c" stroke-width="0.45">+1.44</text>
<text x="1077.9" y="2445.8" font-size="26" text-anchor="start" font-weight="normal" fill="#1c1c1c" stroke="#1c1c1c" stroke-width="0.45">+1.20</text>
<rect x="138.1" y="2665" width="39.8" height="34.4" fill="rgb(255,191,199)"/>
<rect x="177.4" y="2665" width="39.8" height="34.4" fill="rgb(255,159,172)"/>
<rect x="216.8" y="2665" width="39.8" height="34.4" fill="rgb(255,138,153)"/>
<rect x="256.1" y="2665" width="39.8" height="34.4" fill="rgb(255,119,137)"/>
<rect x="295.5" y="2665" width="39.8" height="34.4" fill="rgb(255,102,122)"/>
<rect x="334.8" y="2665" width="39.8" height="34.4" fill="rgb(255,86,108)"/>
<rect x="374.1" y="2665" width="39.8" height="34.4" fill="rgb(255,70,95)"/>
<rect x="413.5" y="2665" width="39.8" height="34.4" fill="rgb(255,56,82)"/>
<rect x="452.8" y="2665" width="39.8" height="34.4" fill="rgb(255,41,69)"/>
<rect x="492.2" y="2665" width="39.8" height="34.4" fill="rgb(255,28,58)"/>
<rect x="138.1" y="2665" width="393.4" height="34.4" fill="none" stroke="#5a3038" stroke-width="1.6"/>
<text x="152.1" y="2734.8" font-size="26.5" text-anchor="start" font-weight="normal" fill="#1c1c1c" stroke="#1c1c1c" stroke-width="0.45">1</text>
<text x="333.8" y="2734.8" font-size="26.8" text-anchor="middle" font-weight="normal" fill="#1c1c1c" stroke="#1c1c1c" stroke-width="0.45">number of animals</text>
<text x="508.0" y="2734.8" font-size="26.5" text-anchor="start" font-weight="normal" fill="#1c1c1c" stroke="#1c1c1c" stroke-width="0.45">10</text>
<rect x="761.6" y="2665" width="56.7" height="34.4" fill="rgb(255,191,199)"/>
<rect x="817.8" y="2665" width="56.7" height="34.4" fill="rgb(255,148,162)"/>
<rect x="874.0" y="2665" width="56.7" height="34.4" fill="rgb(255,119,137)"/>
<rect x="930.2" y="2665" width="56.7" height="34.4" fill="rgb(255,94,115)"/>
<rect x="986.4" y="2665" width="56.7" height="34.4" fill="rgb(255,70,95)"/>
<rect x="1042.6" y="2665" width="56.7" height="34.4" fill="rgb(255,48,76)"/>
<rect x="1098.8" y="2665" width="56.7" height="34.4" fill="rgb(255,28,58)"/>
<rect x="761.6" y="2665" width="393.4" height="34.4" fill="none" stroke="#5a3038" stroke-width="1.6"/>
<text x="775.6" y="2734.8" font-size="26.5" text-anchor="start" font-weight="normal" fill="#1c1c1c" stroke="#1c1c1c" stroke-width="0.45">1</text>
<text x="957.3" y="2734.8" font-size="26.8" text-anchor="middle" font-weight="normal" fill="#1c1c1c" stroke="#1c1c1c" stroke-width="0.45">number of animals</text>
<text x="1130.2" y="2734.8" font-size="26.5" text-anchor="start" font-weight="normal" fill="#1c1c1c" stroke="#1c1c1c" stroke-width="0.45">7</text>
</g>
</svg>
</body></html>
